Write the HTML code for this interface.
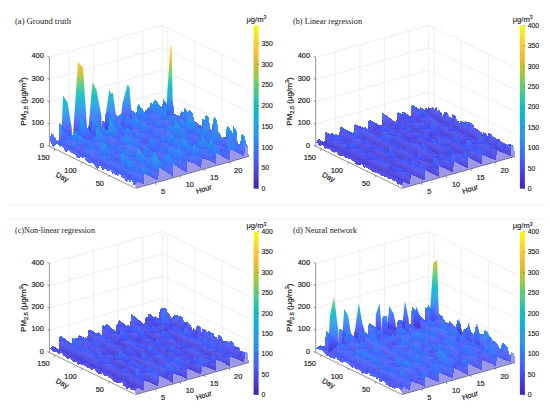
<!DOCTYPE html><html><head><meta charset="utf-8"><style>
html,body{margin:0;padding:0;background:#fff;}
svg{display:block}
.t{font-family:"Liberation Sans",sans-serif;font-size:7.4px;fill:#262626;stroke:#262626;stroke-width:.2px}
.c{font-family:"Liberation Sans",sans-serif;font-size:6.8px;fill:#262626;stroke:#262626;stroke-width:.15px}
.ti{font-family:"Liberation Serif",serif;font-size:8.6px;fill:#1a1a1a}
</style></head><body><svg width="550" height="415" viewBox="0 0 550 415">
<line x1="8" y1="205" x2="545" y2="205" stroke="#eeeeee" stroke-width="0.8"/><line x1="8" y1="219" x2="545" y2="219" stroke="#eeeeee" stroke-width="0.8"/><line x1="49.4" y1="124" x2="162.3" y2="92.1" stroke="#e3e3e3" stroke-width="0.6"/><line x1="162.3" y1="92.1" x2="248.7" y2="134.2" stroke="#e3e3e3" stroke-width="0.6"/><line x1="49.4" y1="101.8" x2="162.3" y2="69.9" stroke="#e3e3e3" stroke-width="0.6"/><line x1="162.3" y1="69.9" x2="248.7" y2="112" stroke="#e3e3e3" stroke-width="0.6"/><line x1="49.4" y1="79.5" x2="162.3" y2="47.6" stroke="#e3e3e3" stroke-width="0.6"/><line x1="162.3" y1="47.6" x2="248.7" y2="89.7" stroke="#e3e3e3" stroke-width="0.6"/><line x1="49.4" y1="57.2" x2="162.3" y2="25.3" stroke="#e3e3e3" stroke-width="0.6"/><line x1="162.3" y1="25.3" x2="248.7" y2="67.4" stroke="#e3e3e3" stroke-width="0.6"/><line x1="69" y1="140.8" x2="69" y2="51.7" stroke="#e3e3e3" stroke-width="0.6"/><line x1="155.4" y1="182.9" x2="69" y2="140.8" stroke="#e3e3e3" stroke-width="0.6"/><line x1="93.6" y1="133.8" x2="93.6" y2="44.7" stroke="#e3e3e3" stroke-width="0.6"/><line x1="180" y1="175.9" x2="93.6" y2="133.8" stroke="#e3e3e3" stroke-width="0.6"/><line x1="118.1" y1="126.9" x2="118.1" y2="37.8" stroke="#e3e3e3" stroke-width="0.6"/><line x1="204.5" y1="169" x2="118.1" y2="126.9" stroke="#e3e3e3" stroke-width="0.6"/><line x1="142.7" y1="119.9" x2="142.7" y2="30.8" stroke="#e3e3e3" stroke-width="0.6"/><line x1="229.1" y1="162" x2="142.7" y2="119.9" stroke="#e3e3e3" stroke-width="0.6"/><line x1="222.1" y1="143.5" x2="222.1" y2="54.4" stroke="#e3e3e3" stroke-width="0.6"/><line x1="109.2" y1="175.4" x2="222.1" y2="143.5" stroke="#e3e3e3" stroke-width="0.6"/><line x1="194.9" y1="130.3" x2="194.9" y2="41.2" stroke="#e3e3e3" stroke-width="0.6"/><line x1="82" y1="162.2" x2="194.9" y2="130.3" stroke="#e3e3e3" stroke-width="0.6"/><line x1="167.7" y1="117" x2="167.7" y2="27.9" stroke="#e3e3e3" stroke-width="0.6"/><line x1="54.8" y1="148.9" x2="167.7" y2="117" stroke="#e3e3e3" stroke-width="0.6"/><line x1="162.3" y1="114.4" x2="162.3" y2="25.3" stroke="#e3e3e3" stroke-width="0.6"/><line x1="49.4" y1="146.3" x2="162.3" y2="114.4" stroke="#e3e3e3" stroke-width="0.6"/><line x1="162.3" y1="114.4" x2="248.7" y2="156.5" stroke="#e3e3e3" stroke-width="0.6"/><defs><linearGradient id="s0_p0" gradientUnits="userSpaceOnUse" x1="0" y1="382" x2="0" y2="574"><stop offset="0" stop-color="#2ec4a4"/><stop offset="0.083" stop-color="#12beb9"/><stop offset="0.167" stop-color="#02b7cc"/><stop offset="0.25" stop-color="#19acdc"/><stop offset="0.333" stop-color="#23a0e5"/><stop offset="0.417" stop-color="#2b92ee"/><stop offset="0.5" stop-color="#2e82f9"/><stop offset="0.583" stop-color="#3c71ff"/><stop offset="0.667" stop-color="#4660fc"/><stop offset="0.75" stop-color="#4850f3"/><stop offset="0.833" stop-color="#4740e3"/><stop offset="0.917" stop-color="#4332c9"/><stop offset="1" stop-color="#3e26a8"/></linearGradient><linearGradient id="s0_p1" gradientUnits="userSpaceOnUse" x1="0" y1="247" x2="0" y2="554"><stop offset="0" stop-color="#feca33"/><stop offset="0.083" stop-color="#ecba32"/><stop offset="0.167" stop-color="#b8c431"/><stop offset="0.25" stop-color="#77cc60"/><stop offset="0.333" stop-color="#3dca90"/><stop offset="0.417" stop-color="#1bc0b4"/><stop offset="0.5" stop-color="#0cb3d3"/><stop offset="0.583" stop-color="#23a0e5"/><stop offset="0.667" stop-color="#2d89f5"/><stop offset="0.75" stop-color="#3f6eff"/><stop offset="0.833" stop-color="#4853f5"/><stop offset="0.917" stop-color="#463adb"/><stop offset="1" stop-color="#3e26a8"/></linearGradient><linearGradient id="s0_p2" gradientUnits="userSpaceOnUse" x1="0" y1="328" x2="0" y2="551"><stop offset="0" stop-color="#63cd6f"/><stop offset="0.083" stop-color="#3cc991"/><stop offset="0.167" stop-color="#27c2ac"/><stop offset="0.25" stop-color="#02bac3"/><stop offset="0.333" stop-color="#14b0d8"/><stop offset="0.417" stop-color="#22a2e4"/><stop offset="0.5" stop-color="#2b91ef"/><stop offset="0.583" stop-color="#2f7ffb"/><stop offset="0.667" stop-color="#416bfe"/><stop offset="0.75" stop-color="#4758f8"/><stop offset="0.833" stop-color="#4745e9"/><stop offset="0.917" stop-color="#4434ce"/><stop offset="1" stop-color="#3e26a8"/></linearGradient><linearGradient id="s0_p3" gradientUnits="userSpaceOnUse" x1="0" y1="357" x2="0" y2="540"><stop offset="0" stop-color="#22c1b0"/><stop offset="0.083" stop-color="#02bbc3"/><stop offset="0.167" stop-color="#0fb2d4"/><stop offset="0.25" stop-color="#1ea7e1"/><stop offset="0.333" stop-color="#259be8"/><stop offset="0.417" stop-color="#2d8df2"/><stop offset="0.5" stop-color="#307efb"/><stop offset="0.583" stop-color="#406dfe"/><stop offset="0.667" stop-color="#465dfa"/><stop offset="0.75" stop-color="#484ef1"/><stop offset="0.833" stop-color="#473ee2"/><stop offset="0.917" stop-color="#4331c8"/><stop offset="1" stop-color="#3e26a8"/></linearGradient><linearGradient id="s0_p4" gradientUnits="userSpaceOnUse" x1="0" y1="336" x2="0" y2="514"><stop offset="0" stop-color="#18bfb6"/><stop offset="0.083" stop-color="#00b9c8"/><stop offset="0.167" stop-color="#14b0d8"/><stop offset="0.25" stop-color="#20a5e3"/><stop offset="0.333" stop-color="#2698ea"/><stop offset="0.417" stop-color="#2d8af4"/><stop offset="0.5" stop-color="#327cfc"/><stop offset="0.583" stop-color="#416bfe"/><stop offset="0.667" stop-color="#475cfa"/><stop offset="0.75" stop-color="#484df0"/><stop offset="0.833" stop-color="#463ee1"/><stop offset="0.917" stop-color="#4331c7"/><stop offset="1" stop-color="#3e26a8"/></linearGradient><linearGradient id="s0_p5" gradientUnits="userSpaceOnUse" x1="0" y1="182" x2="0" y2="517"><stop offset="0" stop-color="#f5e924"/><stop offset="0.083" stop-color="#fec934"/><stop offset="0.167" stop-color="#e6bb2d"/><stop offset="0.25" stop-color="#abc739"/><stop offset="0.333" stop-color="#63cd6f"/><stop offset="0.417" stop-color="#31c6a0"/><stop offset="0.5" stop-color="#02bac3"/><stop offset="0.583" stop-color="#1ca9e0"/><stop offset="0.667" stop-color="#2b91ef"/><stop offset="0.75" stop-color="#3875fe"/><stop offset="0.833" stop-color="#4758f8"/><stop offset="0.917" stop-color="#463cde"/><stop offset="1" stop-color="#3e26a8"/></linearGradient><linearGradient id="s0_g0" x2="0" y2="1"><stop offset="0" stop-color="#406dfe"/><stop offset="0.5" stop-color="#475af9"/><stop offset="1" stop-color="#4848ec"/></linearGradient><linearGradient id="s0_g1" x2="0" y2="1"><stop offset="0" stop-color="#2b91ef"/><stop offset="0.5" stop-color="#317cfc"/><stop offset="1" stop-color="#4465fd"/></linearGradient><linearGradient id="s0_g2" x2="0" y2="1"><stop offset="0" stop-color="#2b91ef"/><stop offset="0.5" stop-color="#3d71ff"/><stop offset="1" stop-color="#484ff2"/></linearGradient><linearGradient id="s0_g3" x2="0" y2="1"><stop offset="0" stop-color="#2b91ef"/><stop offset="0.5" stop-color="#2f80fa"/><stop offset="1" stop-color="#406dfe"/></linearGradient><linearGradient id="s0_g4" x2="0" y2="1"><stop offset="0" stop-color="#3975ff"/><stop offset="0.5" stop-color="#465efb"/><stop offset="1" stop-color="#4848ec"/></linearGradient><linearGradient id="s0_g5" x2="0" y2="1"><stop offset="0" stop-color="#3975ff"/><stop offset="0.5" stop-color="#4561fc"/><stop offset="1" stop-color="#484ff2"/></linearGradient><linearGradient id="s0_g6" x2="0" y2="1"><stop offset="0" stop-color="#249ee6"/><stop offset="0.5" stop-color="#2e84f9"/><stop offset="1" stop-color="#4465fd"/></linearGradient><linearGradient id="s0_g7" x2="0" y2="1"><stop offset="0" stop-color="#317cfc"/><stop offset="0.5" stop-color="#4369fe"/><stop offset="1" stop-color="#4757f7"/></linearGradient><linearGradient id="s0_g8" x2="0" y2="1"><stop offset="0" stop-color="#249ee6"/><stop offset="0.5" stop-color="#3579fd"/><stop offset="1" stop-color="#484ff2"/></linearGradient><linearGradient id="s0_g9" x2="0" y2="1"><stop offset="0" stop-color="#406dfe"/><stop offset="0.5" stop-color="#465efb"/><stop offset="1" stop-color="#484ff2"/></linearGradient><linearGradient id="s0_g10" x2="0" y2="1"><stop offset="0" stop-color="#317cfc"/><stop offset="0.5" stop-color="#4561fc"/><stop offset="1" stop-color="#4848ec"/></linearGradient><linearGradient id="s0_g11" x2="0" y2="1"><stop offset="0" stop-color="#317cfc"/><stop offset="0.5" stop-color="#4465fd"/><stop offset="1" stop-color="#484ff2"/></linearGradient><linearGradient id="s0_g12" x2="0" y2="1"><stop offset="0" stop-color="#249ee6"/><stop offset="0.5" stop-color="#2f80fa"/><stop offset="1" stop-color="#465efb"/></linearGradient><linearGradient id="s0_g13" x2="0" y2="1"><stop offset="0" stop-color="#4465fd"/><stop offset="0.5" stop-color="#475af9"/><stop offset="1" stop-color="#484ff2"/></linearGradient><linearGradient id="s0_g14" x2="0" y2="1"><stop offset="0" stop-color="#2798ea"/><stop offset="0.5" stop-color="#2f80fa"/><stop offset="1" stop-color="#4465fd"/></linearGradient><linearGradient id="s0_g15" x2="0" y2="1"><stop offset="0" stop-color="#249ee6"/><stop offset="0.5" stop-color="#3975ff"/><stop offset="1" stop-color="#4848ec"/></linearGradient><linearGradient id="s0_g16" x2="0" y2="1"><stop offset="0" stop-color="#4465fd"/><stop offset="0.5" stop-color="#4757f7"/><stop offset="1" stop-color="#4848ec"/></linearGradient><linearGradient id="s0_g17" x2="0" y2="1"><stop offset="0" stop-color="#2798ea"/><stop offset="0.5" stop-color="#2e84f9"/><stop offset="1" stop-color="#406dfe"/></linearGradient><linearGradient id="s0_g18" x2="0" y2="1"><stop offset="0" stop-color="#2798ea"/><stop offset="0.5" stop-color="#3975ff"/><stop offset="1" stop-color="#484ff2"/></linearGradient><linearGradient id="s0_g19" x2="0" y2="1"><stop offset="0" stop-color="#20a4e3"/><stop offset="0.5" stop-color="#2d8bf4"/><stop offset="1" stop-color="#406dfe"/></linearGradient><linearGradient id="s0_g20" x2="0" y2="1"><stop offset="0" stop-color="#2e84f9"/><stop offset="0.5" stop-color="#3d71ff"/><stop offset="1" stop-color="#465efb"/></linearGradient><linearGradient id="s0_g21" x2="0" y2="1"><stop offset="0" stop-color="#2798ea"/><stop offset="0.5" stop-color="#3d71ff"/><stop offset="1" stop-color="#4848ec"/></linearGradient><linearGradient id="s0_g22" x2="0" y2="1"><stop offset="0" stop-color="#1caadf"/><stop offset="0.5" stop-color="#2995ec"/><stop offset="1" stop-color="#317cfc"/></linearGradient><linearGradient id="s0_g23" x2="0" y2="1"><stop offset="0" stop-color="#20a4e3"/><stop offset="0.5" stop-color="#3579fd"/><stop offset="1" stop-color="#4848ec"/></linearGradient><linearGradient id="s0_g24" x2="0" y2="1"><stop offset="0" stop-color="#2e84f9"/><stop offset="0.5" stop-color="#4465fd"/><stop offset="1" stop-color="#4848ec"/></linearGradient><linearGradient id="s0_g25" x2="0" y2="1"><stop offset="0" stop-color="#317cfc"/><stop offset="0.5" stop-color="#406dfe"/><stop offset="1" stop-color="#465efb"/></linearGradient><linearGradient id="s0_g26" x2="0" y2="1"><stop offset="0" stop-color="#1caadf"/><stop offset="0.5" stop-color="#2d8bf4"/><stop offset="1" stop-color="#4465fd"/></linearGradient><linearGradient id="s0_g27" x2="0" y2="1"><stop offset="0" stop-color="#2e84f9"/><stop offset="0.5" stop-color="#4369fe"/><stop offset="1" stop-color="#484ff2"/></linearGradient><linearGradient id="s0_g28" x2="0" y2="1"><stop offset="0" stop-color="#1caadf"/><stop offset="0.5" stop-color="#2f80fa"/><stop offset="1" stop-color="#484ff2"/></linearGradient><linearGradient id="s0_g29" x2="0" y2="1"><stop offset="0" stop-color="#1caadf"/><stop offset="0.5" stop-color="#317cfc"/><stop offset="1" stop-color="#4848ec"/></linearGradient><linearGradient id="s0_g30" x2="0" y2="1"><stop offset="0" stop-color="#2e84f9"/><stop offset="0.5" stop-color="#3975ff"/><stop offset="1" stop-color="#4465fd"/></linearGradient><linearGradient id="s0_g31" x2="0" y2="1"><stop offset="0" stop-color="#20a4e3"/><stop offset="0.5" stop-color="#2d87f7"/><stop offset="1" stop-color="#4465fd"/></linearGradient><linearGradient id="s0_g32" x2="0" y2="1"><stop offset="0" stop-color="#2d8bf4"/><stop offset="0.5" stop-color="#3975ff"/><stop offset="1" stop-color="#465efb"/></linearGradient><linearGradient id="s0_g33" x2="0" y2="1"><stop offset="0" stop-color="#2e84f9"/><stop offset="0.5" stop-color="#406dfe"/><stop offset="1" stop-color="#4757f7"/></linearGradient><linearGradient id="s0_g34" x2="0" y2="1"><stop offset="0" stop-color="#20a4e3"/><stop offset="0.5" stop-color="#2e84f9"/><stop offset="1" stop-color="#465efb"/></linearGradient><linearGradient id="s0_g35" x2="0" y2="1"><stop offset="0" stop-color="#2d8bf4"/><stop offset="0.5" stop-color="#317cfc"/><stop offset="1" stop-color="#406dfe"/></linearGradient><linearGradient id="s0_g36" x2="0" y2="1"><stop offset="0" stop-color="#20a4e3"/><stop offset="0.5" stop-color="#317cfc"/><stop offset="1" stop-color="#484ff2"/></linearGradient><linearGradient id="s0_g37" x2="0" y2="1"><stop offset="0" stop-color="#2d8bf4"/><stop offset="0.5" stop-color="#406dfe"/><stop offset="1" stop-color="#484ff2"/></linearGradient><linearGradient id="s0_g38" x2="0" y2="1"><stop offset="0" stop-color="#2798ea"/><stop offset="0.5" stop-color="#3579fd"/><stop offset="1" stop-color="#4757f7"/></linearGradient><linearGradient id="s0_g39" x2="0" y2="1"><stop offset="0" stop-color="#317cfc"/><stop offset="0.5" stop-color="#3d71ff"/><stop offset="1" stop-color="#4465fd"/></linearGradient><linearGradient id="s0_g40" x2="0" y2="1"><stop offset="0" stop-color="#2d8bf4"/><stop offset="0.5" stop-color="#3579fd"/><stop offset="1" stop-color="#4465fd"/></linearGradient><linearGradient id="s0_g41" x2="0" y2="1"><stop offset="0" stop-color="#2d8bf4"/><stop offset="0.5" stop-color="#3d71ff"/><stop offset="1" stop-color="#4757f7"/></linearGradient><linearGradient id="s0_g42" x2="0" y2="1"><stop offset="0" stop-color="#2b91ef"/><stop offset="0.5" stop-color="#406dfe"/><stop offset="1" stop-color="#4848ec"/></linearGradient><linearGradient id="s0_g43" x2="0" y2="1"><stop offset="0" stop-color="#2798ea"/><stop offset="0.5" stop-color="#2d8bf4"/><stop offset="1" stop-color="#317cfc"/></linearGradient><linearGradient id="s0_g44" x2="0" y2="1"><stop offset="0" stop-color="#2798ea"/><stop offset="0.5" stop-color="#2d87f7"/><stop offset="1" stop-color="#3975ff"/></linearGradient><linearGradient id="s0_g45" x2="0" y2="1"><stop offset="0" stop-color="#2b91ef"/><stop offset="0.5" stop-color="#3975ff"/><stop offset="1" stop-color="#4757f7"/></linearGradient><linearGradient id="s0_g46" x2="0" y2="1"><stop offset="0" stop-color="#3975ff"/><stop offset="0.5" stop-color="#4465fd"/><stop offset="1" stop-color="#4757f7"/></linearGradient><linearGradient id="s0_g47" x2="0" y2="1"><stop offset="0" stop-color="#2b91ef"/><stop offset="0.5" stop-color="#3579fd"/><stop offset="1" stop-color="#465efb"/></linearGradient><linearGradient id="s0_g48" x2="0" y2="1"><stop offset="0" stop-color="#20a4e3"/><stop offset="0.5" stop-color="#2d8ef1"/><stop offset="1" stop-color="#3975ff"/></linearGradient><linearGradient id="s0_g49" x2="0" y2="1"><stop offset="0" stop-color="#2d8bf4"/><stop offset="0.5" stop-color="#4369fe"/><stop offset="1" stop-color="#4848ec"/></linearGradient><linearGradient id="s0_g50" x2="0" y2="1"><stop offset="0" stop-color="#406dfe"/><stop offset="0.5" stop-color="#4561fc"/><stop offset="1" stop-color="#4757f7"/></linearGradient><linearGradient id="s0_g51" x2="0" y2="1"><stop offset="0" stop-color="#249ee6"/><stop offset="0.5" stop-color="#2d87f7"/><stop offset="1" stop-color="#406dfe"/></linearGradient><linearGradient id="s0_g52" x2="0" y2="1"><stop offset="0" stop-color="#20a4e3"/><stop offset="0.5" stop-color="#2b91ef"/><stop offset="1" stop-color="#317cfc"/></linearGradient><linearGradient id="s0_g53" x2="0" y2="1"><stop offset="0" stop-color="#249ee6"/><stop offset="0.5" stop-color="#317cfc"/><stop offset="1" stop-color="#4757f7"/></linearGradient><linearGradient id="s0_g54" x2="0" y2="1"><stop offset="0" stop-color="#1caadf"/><stop offset="0.5" stop-color="#2b91ef"/><stop offset="1" stop-color="#3975ff"/></linearGradient><linearGradient id="s0_g55" x2="0" y2="1"><stop offset="0" stop-color="#1caadf"/><stop offset="0.5" stop-color="#2d87f7"/><stop offset="1" stop-color="#465efb"/></linearGradient><linearGradient id="s0_g56" x2="0" y2="1"><stop offset="0" stop-color="#16afd9"/><stop offset="0.5" stop-color="#2798ea"/><stop offset="1" stop-color="#317cfc"/></linearGradient><linearGradient id="s0_g57" x2="0" y2="1"><stop offset="0" stop-color="#16afd9"/><stop offset="0.25" stop-color="#2699e9"/><stop offset="0.5" stop-color="#2f80fa"/><stop offset="0.75" stop-color="#4563fd"/><stop offset="1" stop-color="#4848ec"/></linearGradient><linearGradient id="s0_g58" x2="0" y2="1"><stop offset="0" stop-color="#16afd9"/><stop offset="0.5" stop-color="#2b91ef"/><stop offset="1" stop-color="#406dfe"/></linearGradient><linearGradient id="s0_g59" x2="0" y2="1"><stop offset="0" stop-color="#1caadf"/><stop offset="0.5" stop-color="#2d8ef1"/><stop offset="1" stop-color="#406dfe"/></linearGradient><linearGradient id="s0_g60" x2="0" y2="1"><stop offset="0" stop-color="#0bb3d2"/><stop offset="0.5" stop-color="#2995ec"/><stop offset="1" stop-color="#406dfe"/></linearGradient><linearGradient id="s0_g61" x2="0" y2="1"><stop offset="0" stop-color="#0bb3d2"/><stop offset="0.5" stop-color="#2d8ef1"/><stop offset="1" stop-color="#465efb"/></linearGradient><linearGradient id="s0_g62" x2="0" y2="1"><stop offset="0" stop-color="#3975ff"/><stop offset="0.5" stop-color="#4369fe"/><stop offset="1" stop-color="#465efb"/></linearGradient><linearGradient id="s0_g63" x2="0" y2="1"><stop offset="0" stop-color="#0bb3d2"/><stop offset="0.25" stop-color="#249ee6"/><stop offset="0.5" stop-color="#2e84f9"/><stop offset="0.75" stop-color="#4465fd"/><stop offset="1" stop-color="#4848ec"/></linearGradient><linearGradient id="s0_g64" x2="0" y2="1"><stop offset="0" stop-color="#0bb3d2"/><stop offset="0.25" stop-color="#249fe5"/><stop offset="0.5" stop-color="#2d87f7"/><stop offset="0.75" stop-color="#416bfe"/><stop offset="1" stop-color="#484ff2"/></linearGradient><linearGradient id="s0_g65" x2="0" y2="1"><stop offset="0" stop-color="#249ee6"/><stop offset="0.5" stop-color="#2d8bf4"/><stop offset="1" stop-color="#3975ff"/></linearGradient><linearGradient id="s0_g66" x2="0" y2="1"><stop offset="0" stop-color="#20a4e3"/><stop offset="0.5" stop-color="#2f80fa"/><stop offset="1" stop-color="#4757f7"/></linearGradient><linearGradient id="s0_g67" x2="0" y2="1"><stop offset="0" stop-color="#2798ea"/><stop offset="0.5" stop-color="#317cfc"/><stop offset="1" stop-color="#465efb"/></linearGradient></defs><g shape-rendering="crispEdges" transform="scale(.25)" fill-opacity="0.92"><path fill="#475dfa" d="M640 440l12 2-3 1-12-7z"/><path fill="#4757f7" d="M638 459l2-19-3-4-2 23zM618 445l27 18-7-4-26-3zM625 450l26 15-6-2-27-18z"/><path fill="#4562fc" d="M647 427l12 4-7 11-12-2zM583 455l29 1-4-7-28-11z"/><path fill="url(#s0_g0)" d="M645 463l2-36-7 13-2 19z"/><path fill="url(#s0_g1)" d="M654 397l12 19-7 15-12-4z"/><path fill="#4852f4" d="M612 456l26 3-3 0-27-10z"/><path fill="url(#s0_g2)" d="M651 465l3-68-7 30-2 36z"/><path fill="url(#s0_g3)" d="M660 429l12 5-6-18-12-19z"/><path fill="url(#s0_g2)" d="M658 469l2-40-6-32-3 68z"/><path fill="#3f6eff" d="M667 435l12 5-7-6-12-5z"/><path fill="url(#s0_g4)" d="M664 473l3-38-7-6-2 40z"/><path fill="url(#s0_g5)" d="M631 437l27 32-7-4-26-15z"/><path fill="url(#s0_g6)" d="M673 391l12 20-6 29-12-5z"/><path fill="url(#s0_g7)" d="M590 430l28 15-6 11-29-1z"/><path fill="url(#s0_g8)" d="M671 476l2-85-6 44-3 38z"/><path fill="url(#s0_g9)" d="M581 476l2-21-3-17-2 37z"/><path fill="url(#s0_g4)" d="M638 445l26 28-6-4-27-32z"/><path fill="#2895ec" d="M680 398l12 7-7 6-12-20z"/><path fill="#3f6eff" d="M596 439l29 11-7-5-28-15z"/><path fill="url(#s0_g10)" d="M587 479l3-49-7 25-2 21z"/><path fill="url(#s0_g8)" d="M677 479l3-81-7-7-2 85z"/><path fill="url(#s0_g11)" d="M644 434l27 42-7-3-26-28z"/><path fill="url(#s0_g12)" d="M686 454l12 6-6-55-12-7z"/><path fill="url(#s0_g13)" d="M554 457l27 19-3-1-27-14z"/><path fill="url(#s0_g14)" d="M603 407l28 30-6 13-29-11z"/><path fill="url(#s0_g10)" d="M594 482l2-43-6-9-3 49z"/><path fill="url(#s0_g15)" d="M684 482l2-28-6-56-3 81z"/><path fill="url(#s0_g16)" d="M561 460l26 19-6-3-27-19z"/><path fill="url(#s0_g11)" d="M651 438l26 41-6-3-27-42z"/><path fill="#4562fc" d="M693 462l12-1-7-1-12-6z"/><path fill="url(#s0_g17)" d="M609 418l29 27-7-8-28-30z"/><path fill="url(#s0_g18)" d="M600 484l3-77-7 32-2 43z"/><path fill="url(#s0_g16)" d="M690 485l3-23-7-8-2 28z"/><path fill="#4757f7" d="M567 482l27 0-7-3-26-19zM664 479l26 6-6-3-27-15z"/><path fill="url(#s0_g10)" d="M657 467l27 15-7-3-26-41z"/><path fill="#4562fc" d="M699 457l12 3-6 1-12 1z"/><path fill="url(#s0_g19)" d="M616 403l28 31-6 11-29-27z"/><path fill="url(#s0_g20)" d="M526 441l28 16-3 4-28-17z"/><path fill="url(#s0_g21)" d="M607 489l2-71-6-11-3 77z"/><path fill="url(#s0_g9)" d="M697 486l2-29-6 5-3 23z"/><path fill="#4852f4" d="M574 470l26 14-6-2-27 0z"/><path fill="#4368fe" d="M706 462l12 1-7-3-12-3z"/><path fill="#3a74ff" d="M532 445l29 15-7-3-28-16z"/><path fill="url(#s0_g22)" d="M622 398l29 40-7-4-28-31z"/><path fill="url(#s0_g23)" d="M613 492l3-89-7 15-2 71z"/><path fill="url(#s0_g9)" d="M703 491l3-29-7-5-2 29z"/><path fill="url(#s0_g24)" d="M523 493l3-52-3 3-3 47z"/><path fill="url(#s0_g10)" d="M580 451l27 38-7-5-26-14z"/><path fill="url(#s0_g9)" d="M670 462l27 24-7-1-26-6z"/><path fill="#4562fc" d="M712 475l12-1-6-11-12-1zM719 463l12 5-7 6-12 1z"/><path fill="url(#s0_g25)" d="M539 482l28 0-6-22-29-15z"/><path fill="url(#s0_g26)" d="M629 451l28 16-6-29-29-40z"/><path fill="url(#s0_g27)" d="M530 495l2-50-6-4-3 52z"/><path fill="url(#s0_g28)" d="M620 495l2-97-6 5-3 89z"/><path fill="url(#s0_g16)" d="M710 495l2-20-6-13-3 29z"/><path fill="url(#s0_g10)" d="M587 482l26 10-6-3-27-38z"/><path fill="url(#s0_g9)" d="M677 469l26 22-6-5-27-24z"/><path fill="#4757f7" d="M497 480l26 13-3-2-26-19z"/><path fill="url(#s0_g7)" d="M545 456l29 14-7 12-28 0z"/><path fill="url(#s0_g25)" d="M635 481l29-2-7-12-28-16z"/><path fill="url(#s0_g11)" d="M537 498l2-16-7-37-2 50z"/><path fill="url(#s0_g29)" d="M626 499l3-48-7-53-2 97z"/><path fill="url(#s0_g9)" d="M716 498l3-35-7 12-2 20z"/><path fill="#4757f7" d="M503 480l27 15-7-2-26-13zM593 483l27 12-7-3-26-10z"/><path fill="url(#s0_g0)" d="M683 472l27 23-7-4-26-22z"/><path fill="url(#s0_g30)" d="M725 445l12 4-6 19-12-5z"/><path fill="url(#s0_g31)" d="M552 414l28 37-6 19-29-14z"/><path fill="url(#s0_g32)" d="M642 442l28 20-6 17-29 2z"/><path fill="url(#s0_g10)" d="M543 502l2-46-6 26-2 16z"/><path fill="url(#s0_g10)" d="M633 502l2-21-6-30-3 48z"/><path fill="url(#s0_g24)" d="M723 502l2-57-6 18-3 35z"/><path fill="url(#s0_g9)" d="M510 476l27 22-7-3-27-15z"/><path fill="url(#s0_g16)" d="M600 478l26 21-6-4-27-12z"/><path fill="url(#s0_g11)" d="M690 461l26 37-6-3-27-23z"/><path fill="url(#s0_g33)" d="M732 494l12-8-7-37-12-4z"/><path fill="url(#s0_g34)" d="M558 481l29 1-7-31-28-37z"/><path fill="url(#s0_g35)" d="M648 444l29 25-7-7-28-20z"/><path fill="#3f6eff" d="M468 468l29 12-3-8-29-12z"/><path fill="url(#s0_g36)" d="M550 504l2-90-7 42-2 46z"/><path fill="url(#s0_g37)" d="M639 504l3-62-7 39-2 21z"/><path fill="url(#s0_g27)" d="M729 504l3-10-7-49-2 57z"/><path fill="url(#s0_g0)" d="M517 498l26 4-6-4-27-22z"/><path fill="url(#s0_g0)" d="M606 474l27 28-7-3-26-21z"/><path fill="url(#s0_g10)" d="M696 486l27 16-7-4-26-37z"/><path fill="url(#s0_g38)" d="M738 432l12 14-6 40-12 8z"/><path fill="url(#s0_g39)" d="M475 463l28 17-6 0-29-12z"/><path fill="#4368fe" d="M565 471l28 12-6-1-29-1z"/><path fill="url(#s0_g35)" d="M655 453l28 19-6-3-29-25z"/><path fill="url(#s0_g23)" d="M556 508l2-27-6-67-2 90z"/><path fill="url(#s0_g37)" d="M646 508l2-64-6-2-3 62z"/><path fill="url(#s0_g18)" d="M736 506l2-74-6 62-3 10z"/><path fill="url(#s0_g11)" d="M466 508l2-40-3-8-2 47z"/><path fill="#4852f4" d="M523 500l27 4-7-2-26-4zM703 502l26 2-6-2-27-16z"/><path fill="url(#s0_g9)" d="M613 502l26 2-6-2-27-28z"/><path fill="#2d8bf4" d="M745 442l12 12-7-8-12-14z"/><path fill="url(#s0_g40)" d="M482 454l28 22-7 4-28-17z"/><path fill="url(#s0_g20)" d="M571 460l29 18-7 5-28-12z"/><path fill="url(#s0_g19)" d="M661 421l29 40-7 11-28-19z"/><path fill="url(#s0_g10)" d="M473 512l2-49-7 5-2 40z"/><path fill="url(#s0_g4)" d="M563 511l2-40-7 10-2 27z"/><path fill="url(#s0_g37)" d="M653 510l2-57-7-9-2 64z"/><path fill="url(#s0_g18)" d="M742 510l3-68-7-10-2 74z"/><path fill="#4852f4" d="M530 497l26 11-6-4-27-4zM619 498l27 10-7-4-26-2zM440 504l26 4-3-1-27-13z"/><path shape-rendering="auto" fill="url(#s0_p4)" d="M480 536l1-48 9-75 21-77 7 16 11 136 1 48z"/><path fill="url(#s0_g9)" d="M709 481l27 25-7-2-26-2z"/><path fill="#2d8bf4" d="M751 451l12 10-6-7-12-12z"/><path fill="url(#s0_g41)" d="M488 493l29 5-7-22-28-22z"/><path fill="url(#s0_g30)" d="M578 460l28 14-6 4-29-18z"/><path fill="url(#s0_g31)" d="M668 463l28 23-6-25-29-40z"/><path fill="url(#s0_g37)" d="M479 513l3-59-7 9-2 49z"/><path fill="url(#s0_g27)" d="M569 514l2-54-6 11-2 40z"/><path fill="url(#s0_g23)" d="M659 515l2-94-6 32-2 57z"/><path fill="url(#s0_g42)" d="M749 514l2-63-6-9-3 68z"/><path fill="#4852f4" d="M446 504l27 8-7-4-26-4zM626 505l27 5-7-2-27-10z"/><path fill="url(#s0_g0)" d="M536 485l27 26-7-3-26-11z"/><path fill="url(#s0_g9)" d="M716 497l26 13-6-4-27-25z"/><path shape-rendering="auto" fill="url(#s0_p5)" d="M664 464l2-48 16-232 5-2 4 234 1 48z"/><path fill="url(#s0_g43)" d="M758 438l12 16-7 7-12-10z"/><path fill="#475dfa" d="M495 498l28 2-6-2-29-5z"/><path fill="url(#s0_g33)" d="M585 499l28 3-7-28-28-14z"/><path fill="url(#s0_g33)" d="M674 500l29 2-7-16-28-23z"/><path fill="url(#s0_g37)" d="M486 517l2-24-6-39-3 59z"/><path fill="url(#s0_g24)" d="M576 518l2-58-7 0-2 54z"/><path fill="url(#s0_g36)" d="M666 516l2-53-7-42-2 94z"/><path fill="url(#s0_g21)" d="M756 518l2-80-7 13-2 63z"/><path fill="url(#s0_g11)" d="M453 475l26 38-6-1-27-8z"/><path fill="url(#s0_g9)" d="M543 491l26 23-6-3-27-26z"/><path fill="url(#s0_g16)" d="M633 493l26 22-6-5-27-5z"/><path fill="url(#s0_g0)" d="M722 491l27 23-7-4-26-13z"/><path fill="url(#s0_g44)" d="M764 470l12 5-6-21-12-16z"/><path fill="#4562fc" d="M501 485l29 12-7 3-28-2zM591 488l28 10-6 4-28-3z"/><path fill="url(#s0_g45)" d="M681 457l28 24-6 21-29-2z"/><path fill="url(#s0_g46)" d="M411 501l29 3-4-10-28-11z"/><path fill="#4757f7" d="M492 522l3-24-7-5-2 24z"/><path fill="url(#s0_g27)" d="M582 521l3-22-7-39-2 58z"/><path fill="url(#s0_g27)" d="M672 519l2-19-6-37-2 53z"/><path fill="url(#s0_g21)" d="M762 521l2-51-6-32-2 80z"/><path fill="url(#s0_g11)" d="M459 489l27 28-7-4-26-38z"/><path fill="url(#s0_g0)" d="M549 496l27 22-7-4-26-23z"/><path fill="url(#s0_g13)" d="M639 508l27 8-7-1-26-22z"/><path fill="url(#s0_g0)" d="M729 512l27 6-7-4-27-23z"/><path fill="url(#s0_g25)" d="M771 497l12 4-7-26-12-5z"/><path fill="#4562fc" d="M418 489l28 15-6 0-29-3zM598 501l28 4-7-7-28-10z"/><path fill="url(#s0_g47)" d="M508 456l28 29-6 12-29-12z"/><path fill="url(#s0_g47)" d="M687 486l29 11-7-16-28-24z"/><path fill="url(#s0_g4)" d="M499 525l2-40-6 13-3 24z"/><path fill="url(#s0_g9)" d="M589 524l2-36-6 11-3 22z"/><path fill="url(#s0_g2)" d="M679 523l2-66-7 43-2 19z"/><path fill="url(#s0_g11)" d="M769 522l2-25-7-27-2 51z"/><path fill="url(#s0_g4)" d="M409 525l2-24-3-18-2 39z"/><path fill="url(#s0_g4)" d="M466 502l26 20-6-5-27-28z"/><path fill="url(#s0_g9)" d="M556 517l26 4-6-3-27-22z"/><path fill="#4757f7" d="M646 513l26 6-6-3-27-8z"/><path fill="url(#s0_g0)" d="M736 497l26 24-6-3-27-6z"/><path fill="#4368fe" d="M777 486l12 5-6 10-12-4z"/><path fill="url(#s0_g34)" d="M424 440l29 35-7 29-28-15z"/><path fill="url(#s0_g3)" d="M514 468l29 23-7-6-28-29z"/><path fill="url(#s0_g33)" d="M604 473l29 20-7 12-28-4z"/><path fill="url(#s0_g47)" d="M694 462l28 29-6 6-29-11z"/><path fill="url(#s0_g5)" d="M415 527l3-38-7 12-2 24z"/><path fill="url(#s0_g2)" d="M505 527l3-71-7 29-2 40z"/><path fill="url(#s0_g0)" d="M595 528l3-27-7-13-2 36z"/><path fill="url(#s0_g42)" d="M685 528l2-42-6-29-2 66z"/><path fill="url(#s0_g4)" d="M775 527l2-41-6 11-2 25z"/><path fill="url(#s0_g4)" d="M472 490l27 35-7-3-26-20z"/><path fill="#4757f7" d="M562 507l27 17-7-3-26-4zM382 514l27 11-3-3-27-11z"/><path fill="#4852f4" d="M652 514l27 9-7-4-26-6z"/><path fill="url(#s0_g9)" d="M742 516l27 6-7-1-26-24z"/><path fill="#3f6eff" d="M784 489l12 10-7-8-12-5z"/><path fill="url(#s0_g48)" d="M431 456l28 33-6-14-29-35z"/><path fill="url(#s0_g35)" d="M521 474l28 22-6-5-29-23z"/><path fill="url(#s0_g20)" d="M611 505l28 3-6-15-29-20z"/><path fill="url(#s0_g47)" d="M701 516l28-4-7-21-28-29z"/><path fill="url(#s0_g36)" d="M422 529l2-89-6 49-3 38z"/><path fill="url(#s0_g42)" d="M512 531l2-63-6-12-3 71z"/><path fill="url(#s0_g27)" d="M602 530l2-57-6 28-3 27z"/><path fill="url(#s0_g2)" d="M692 529l2-67-7 24-2 42z"/><path fill="url(#s0_g4)" d="M782 530l2-41-7-3-2 41z"/><path fill="#4852f4" d="M389 525l26 2-6-2-27-11z"/><path fill="url(#s0_g5)" d="M479 508l26 19-6-2-27-35z"/><path fill="url(#s0_g0)" d="M569 500l26 28-6-4-27-17z"/><path fill="url(#s0_g0)" d="M659 505l26 23-6-5-27-9z"/><path fill="url(#s0_g0)" d="M749 505l26 22-6-5-27-6z"/><path fill="#4368fe" d="M790 513l12-1-6-13-12-10z"/><path fill="url(#s0_g14)" d="M437 491l29 11-7-13-28-33z"/><path fill="url(#s0_g41)" d="M527 514l29 3-7-21-28-22z"/><path fill="#4562fc" d="M617 512l29 1-7-5-28-3z"/><path fill="url(#s0_g20)" d="M707 481l29 16-7 15-28 4z"/><path fill="url(#s0_g36)" d="M428 534l3-78-7-16-2 89z"/><path fill="url(#s0_g49)" d="M518 534l3-60-7-6-2 63z"/><path fill="url(#s0_g24)" d="M608 534l3-29-7-32-2 57z"/><path fill="url(#s0_g42)" d="M698 534l3-18-7-54-2 67z"/><path fill="url(#s0_g4)" d="M788 534l2-21-6-24-2 41z"/><path fill="url(#s0_g9)" d="M395 504l27 25-7-2-26-2z"/><path fill="url(#s0_g13)" d="M485 531l27 0-7-4-26-19z"/><path fill="url(#s0_g9)" d="M575 503l27 27-7-2-26-28z"/><path fill="url(#s0_g9)" d="M665 512l27 17-7-1-26-23z"/><path fill="url(#s0_g4)" d="M755 499l27 31-7-3-26-22z"/><path fill="#4562fc" d="M797 500l12 4-7 8-12 1zM624 500l28 14-6-1-29-1z"/><path fill="url(#s0_g6)" d="M444 457l28 33-6 12-29-11z"/><path fill="url(#s0_g7)" d="M534 496l28 11-6 10-29-3z"/><path fill="url(#s0_g20)" d="M714 507l28 9-6-19-29-16z"/><path fill="#4368fe" d="M354 513l28 1-3-3-28-10z"/><path fill="url(#s0_g18)" d="M435 537l2-46-6-35-3 78z"/><path fill="url(#s0_g49)" d="M525 537l2-23-6-40-3 60z"/><path fill="url(#s0_g13)" d="M615 536l2-24-6-7-3 29z"/><path fill="url(#s0_g27)" d="M705 535l2-54-6 35-3 18z"/><path fill="url(#s0_g0)" d="M795 536l2-36-7 13-2 21z"/><path fill="url(#s0_g5)" d="M402 499l26 35-6-5-27-25z"/><path fill="#4852f4" d="M492 523l26 11-6-3-27 0z"/><path fill="url(#s0_g50)" d="M582 534l26 0-6-4-27-27z"/><path fill="#4757f7" d="M672 521l26 13-6-5-27-17z"/><path fill="url(#s0_g4)" d="M762 509l26 25-6-4-27-31z"/><path shape-rendering="auto" fill="url(#s0_p3)" d="M418 536l1-48 18-131 7 19 7-6 17 118 1 48z"/><path fill="#4562fc" d="M804 524l11-3-6-17-12-4z"/><path fill="#475dfa" d="M360 522l29 3-7-11-28-1z"/><path fill="url(#s0_g6)" d="M450 493l29 15-7-18-28-33z"/><path fill="url(#s0_g14)" d="M540 467l29 33-7 7-28-11z"/><path fill="url(#s0_g32)" d="M630 481l29 24-7 9-28-14z"/><path fill="url(#s0_g32)" d="M720 483l29 22-7 11-28-9z"/><path fill="url(#s0_g15)" d="M441 541l3-84-7 34-2 46z"/><path fill="url(#s0_g10)" d="M531 540l3-44-7 18-2 23z"/><path fill="url(#s0_g5)" d="M621 539l3-39-7 12-2 24z"/><path fill="url(#s0_g24)" d="M711 540l3-33-7-26-2 54z"/><path fill="url(#s0_g0)" d="M801 540l3-16-7-24-2 36z"/><path fill="url(#s0_g5)" d="M351 539l3-26-3-12-3 37z"/><path fill="url(#s0_g5)" d="M408 531l27 6-7-3-26-35z"/><path fill="url(#s0_g0)" d="M498 514l27 23-7-3-26-11z"/><path fill="#4852f4" d="M588 526l27 10-7-2-26 0z"/><path fill="#4757f7" d="M678 527l27 8-7-1-26-13zM358 543l2-21-6-9-3 26z"/><path fill="url(#s0_g0)" d="M768 534l27 2-7-2-26-25z"/><path fill="url(#s0_g47)" d="M810 474l12 10-7 37-11 3z"/><path fill="url(#s0_g45)" d="M367 475l28 29-6 21-29-3z"/><path fill="url(#s0_g27)" d="M457 530l28 1-6-23-29-15z"/><path fill="url(#s0_g17)" d="M547 470l28 33-6-3-29-33z"/><path fill="url(#s0_g40)" d="M637 504l28 8-6-7-29-24z"/><path fill="url(#s0_g17)" d="M727 473l28 26-6 6-29-22z"/><path fill="url(#s0_g8)" d="M448 542l2-49-6-36-3 84z"/><path fill="url(#s0_g18)" d="M538 542l2-75-6 29-3 44z"/><path fill="url(#s0_g49)" d="M628 544l2-63-6 19-3 39z"/><path fill="url(#s0_g49)" d="M718 543l2-60-6 24-3 33z"/><path fill="url(#s0_g2)" d="M808 541l2-67-6 50-3 16z"/><path fill="url(#s0_g0)" d="M415 514l26 27-6-4-27-6z"/><path fill="url(#s0_g0)" d="M505 527l26 13-6-3-27-23z"/><path fill="#4757f7" d="M595 533l26 6-6-3-27-10z"/><path fill="#4852f4" d="M685 533l26 7-6-5-27-8zM325 544l26-5-3-1-26-5z"/><path fill="url(#s0_g0)" d="M775 513l26 27-6-4-27-2z"/><path fill="#2e85f8" d="M817 491l12 5-7-12-12-10z"/><path fill="url(#s0_g51)" d="M373 465l29 34-7 5-28-29z"/><path fill="#475dfa" d="M463 523l29 0-7 8-28-1z"/><path fill="url(#s0_g38)" d="M553 531l29 3-7-31-28-33z"/><path fill="#3f6eff" d="M643 509l29 12-7-9-28-8z"/><path fill="url(#s0_g17)" d="M733 487l29 22-7-10-28-26z"/><path fill="url(#s0_g2)" d="M365 546l2-71-7 47-2 21z"/><path fill="url(#s0_g27)" d="M454 546l3-16-7-37-2 49z"/><path fill="url(#s0_g18)" d="M544 546l3-76-7-3-2 75z"/><path fill="url(#s0_g37)" d="M634 545l3-41-7-23-2 63z"/><path fill="url(#s0_g18)" d="M724 544l3-71-7 10-2 60z"/><path fill="url(#s0_g2)" d="M814 545l3-54-7-17-2 67z"/><path fill="#4852f4" d="M331 540l27 3-7-4-26 5zM511 540l27 2-7-2-26-13zM691 532l27 11-7-3-26-7z"/><path fill="url(#s0_g9)" d="M421 538l27 4-7-1-26-27z"/><path fill="url(#s0_g4)" d="M601 513l27 31-7-5-26-6z"/><path fill="url(#s0_g5)" d="M781 513l27 28-7-1-26-27z"/><path fill="url(#s0_g52)" d="M823 458l12 13-6 25-12-5z"/><path shape-rendering="auto" fill="url(#s0_p2)" d="M352 560l2-48 16-184 16 31 20 108 0 45 2 48z"/><path fill="url(#s0_g53)" d="M380 524l28 7-6-32-29-34z"/><path fill="url(#s0_g32)" d="M470 490l28 24-6 9-29 0z"/><path fill="url(#s0_g46)" d="M560 515l28 11-6 8-29-3z"/><path fill="#4368fe" d="M650 523l28 4-6-6-29-12z"/><path fill="url(#s0_g32)" d="M740 536l28-2-6-25-29-22z"/><path fill="url(#s0_g8)" d="M371 549l2-84-6 10-2 71z"/><path fill="#4757f7" d="M461 550l2-27-6 7-3 16zM338 533l27 13-7-3-27-3zM698 529l26 15-6-1-27-11z"/><path fill="url(#s0_g18)" d="M551 549l2-18-6-61-3 76z"/><path fill="url(#s0_g5)" d="M641 548l2-39-6-5-3 41z"/><path fill="url(#s0_g21)" d="M731 549l2-62-6-14-3 71z"/><path fill="url(#s0_g23)" d="M821 549l2-91-6 33-3 54z"/><path fill="#4852f4" d="M428 542l26 4-6-4-27-4zM518 533l26 13-6-4-27-2z"/><path fill="url(#s0_g5)" d="M608 536l26 9-6-1-27-31z"/><path fill="url(#s0_g11)" d="M788 505l26 40-6-4-27-28z"/><path fill="url(#s0_g19)" d="M830 513l12 4-7-46-12-13z"/><path fill="url(#s0_g45)" d="M386 492l29 22-7 17-28-7z"/><path shape-rendering="auto" fill="url(#s0_p1)" d="M293 561l1-48 18-266 20 23 16 242 2 48z"/><path fill="url(#s0_g32)" d="M476 525l29 2-7-13-28-24z"/><path fill="#4368fe" d="M566 524l29 9-7-7-28-11z"/><path fill="#4562fc" d="M656 519l29 14-7-6-28-4z"/><path fill="url(#s0_g47)" d="M746 490l29 23-7 21-28 2z"/><path fill="#475dfa" d="M296 543l29 1-3-11-29-6z"/><path fill="url(#s0_g15)" d="M378 554l2-30-7-59-2 84z"/><path fill="url(#s0_g49)" d="M467 554l3-64-7 33-2 27z"/><path fill="url(#s0_g4)" d="M557 553l3-38-7 16-2 18z"/><path fill="url(#s0_g4)" d="M647 553l3-30-7-14-2 39z"/><path fill="url(#s0_g37)" d="M737 552l3-16-7-49-2 62z"/><path fill="url(#s0_g23)" d="M827 552l3-39-7-55-2 91z"/><path fill="#4757f7" d="M345 538l26 11-6-3-27-13zM524 538l27 11-7-3-26-13zM303 536l28 4-6 4-29-1z"/><path fill="url(#s0_g0)" d="M434 527l27 23-7-4-26-4z"/><path fill="#4852f4" d="M614 544l27 4-7-3-26-9z"/><path fill="url(#s0_g0)" d="M704 526l27 23-7-5-26-15z"/><path fill="url(#s0_g10)" d="M794 540l27 9-7-4-26-40z"/><path fill="#4368fe" d="M836 525l12 6-6-14-12-4z"/><path fill="url(#s0_g47)" d="M393 538l28 0-6-24-29-22z"/><path fill="#4562fc" d="M483 540l28 0-6-13-29-2z"/><path fill="url(#s0_g45)" d="M573 491l28 22-6 20-29-9z"/><path fill="#4368fe" d="M663 521l28 11-6 1-29-14z"/><path fill="url(#s0_g44)" d="M753 485l28 28-6 0-29-23z"/><path fill="url(#s0_g2)" d="M384 556l2-64-6 32-2 30z"/><path fill="url(#s0_g49)" d="M474 557l2-32-6-35-3 64z"/><path fill="url(#s0_g4)" d="M564 556l2-32-6-9-3 38z"/><path fill="url(#s0_g0)" d="M654 556l2-37-6 4-3 30z"/><path fill="url(#s0_g2)" d="M744 554l2-64-6 46-3 16z"/><path fill="url(#s0_g5)" d="M834 555l2-30-6-12-3 39z"/><path fill="url(#s0_g16)" d="M294 557l2-14-3-16-2 28z"/><path fill="url(#s0_g10)" d="M351 513l27 41-7-5-26-11z"/><path fill="url(#s0_g0)" d="M441 528l26 26-6-4-27-23z"/><path fill="#4757f7" d="M531 538l26 15-6-4-27-11z"/><path fill="#4852f4" d="M621 550l26 3-6-5-27-4z"/><path fill="url(#s0_g9)" d="M711 526l26 26-6-3-27-23z"/><path fill="#4852f4" d="M801 545l26 7-6-3-27-9z"/><path fill="#4562fc" d="M843 543l12-5-7-7-12-6z"/><path fill="url(#s0_g7)" d="M310 519l28 14-7 7-28-4z"/><path fill="#475dfa" d="M399 547l29-5-7-4-28 0z"/><path fill="url(#s0_g7)" d="M489 513l29 20-7 7-28 0z"/><path fill="url(#s0_g47)" d="M579 527l29 9-7-23-28-22z"/><path fill="url(#s0_g25)" d="M669 513l29 16-7 3-28-11z"/><path fill="url(#s0_g54)" d="M759 464l29 41-7 8-28-28z"/><path fill="#4757f7" d="M301 558l2-22-7 7-2 14z"/><path fill="url(#s0_g42)" d="M391 561l2-23-7-46-2 64z"/><path fill="url(#s0_g0)" d="M481 560l2-20-7-15-2 32z"/><path fill="url(#s0_g2)" d="M570 558l3-67-7 33-2 32z"/><path fill="url(#s0_g0)" d="M660 560l3-39-7-2-2 37z"/><path fill="url(#s0_g21)" d="M750 559l3-74-7 5-2 64z"/><path fill="url(#s0_g9)" d="M840 558l3-15-7-18-2 30z"/><path fill="url(#s0_g11)" d="M358 535l26 21-6-2-27-41z"/><path fill="url(#s0_g0)" d="M447 532l27 25-7-3-26-26z"/><path fill="url(#s0_g0)" d="M537 534l27 22-7-3-26-15z"/><path fill="#4852f4" d="M627 554l27 2-7-3-26-3zM807 543l27 12-7-3-26-7z"/><path fill="url(#s0_g50)" d="M717 554l27 0-7-2-26-26z"/><path fill="url(#s0_g32)" d="M849 501l12 9-6 28-12 5z"/><path fill="url(#s0_g4)" d="M268 527l26 30-3-2-27-27z"/><path fill="url(#s0_g25)" d="M316 517l29 21-7-5-28-14z"/><path fill="url(#s0_g32)" d="M406 507l28 20-6 15-29 5z"/><path fill="url(#s0_g25)" d="M496 520l28 18-6-5-29-20z"/><path fill="#4562fc" d="M586 543l28 1-6-8-29-9z"/><path fill="url(#s0_g1)" d="M676 496l28 30-6 3-29-16z"/><path fill="url(#s0_g55)" d="M766 536l28 4-6-35-29-41z"/><path fill="url(#s0_g10)" d="M307 564l3-45-7 17-2 22z"/><path fill="#4757f7" d="M397 563l2-16-6-9-2 23z"/><path fill="url(#s0_g11)" d="M487 562l2-49-6 27-2 20z"/><path fill="url(#s0_g2)" d="M577 561l2-34-6-36-3 67z"/><path fill="url(#s0_g10)" d="M667 562l2-49-6 8-3 39z"/><path fill="url(#s0_g28)" d="M757 561l2-97-6 21-3 74z"/><path fill="url(#s0_g37)" d="M847 561l2-60-6 42-3 15z"/><path fill="url(#s0_g5)" d="M274 537l27 21-7-1-26-30z"/><path fill="url(#s0_g0)" d="M364 559l27 2-7-5-26-21z"/><path fill="url(#s0_g0)" d="M454 550l27 10-7-3-27-25z"/><path fill="url(#s0_g9)" d="M544 545l26 13-6-2-27-22z"/><path fill="#4852f4" d="M634 550l26 10-6-4-27-2z"/><path fill="url(#s0_g0)" d="M724 533l26 26-6-5-27 0z"/><path fill="url(#s0_g9)" d="M814 533l26 25-6-3-27-12z"/><path fill="url(#s0_g56)" d="M856 464l12 17-7 29-12-9z"/><path fill="url(#s0_g55)" d="M323 469l28 44-6 25-29-21z"/><path fill="url(#s0_g35)" d="M413 510l28 18-7-1-28-20z"/><path fill="#3f6eff" d="M502 523l29 15-7 0-28-18z"/><path fill="#475dfa" d="M592 546l29 4-7-6-28-1z"/><path fill="url(#s0_g3)" d="M682 499l29 27-7 0-28-30z"/><path fill="#4562fc" d="M772 546l29-1-7-5-28-4z"/><path fill="url(#s0_g10)" d="M314 567l2-50-6 2-3 45z"/><path fill="url(#s0_g49)" d="M404 566l2-59-7 40-2 16z"/><path fill="url(#s0_g10)" d="M494 566l2-46-7-7-2 49z"/><path fill="url(#s0_g0)" d="M583 566l3-23-7-16-2 34z"/><path fill="url(#s0_g2)" d="M673 564l3-68-7 17-2 49z"/><path fill="url(#s0_g29)" d="M763 566l3-30-7-72-2 97z"/><path fill="url(#s0_g57)" d="M853 565l3-101-7 37-2 60z"/><path fill="url(#s0_g0)" d="M281 547l26 17-6-6-27-21z"/><path fill="#4852f4" d="M371 550l26 13-6-2-27-2z"/><path fill="url(#s0_g9)" d="M461 537l26 25-6-2-27-10z"/><path fill="#4757f7" d="M550 556l27 5-7-3-26-13zM640 547l27 15-7-2-26-10z"/><path fill="url(#s0_g11)" d="M730 524l27 37-7-2-26-26z"/><path fill="url(#s0_g50)" d="M820 561l27 0-7-3-26-25z"/><path fill="url(#s0_g58)" d="M862 522l12 8-6-49-12-17z"/><path fill="url(#s0_g59)" d="M329 513l29 22-7-22-28-44z"/><path fill="#347afd" d="M419 515l28 17-6-4-28-18z"/><path fill="url(#s0_g1)" d="M509 507l28 27-6 4-29-15z"/><path fill="#475dfa" d="M599 551l28 3-6-4-29-4z"/><path fill="url(#s0_g45)" d="M689 550l28 4-6-28-29-27z"/><path fill="#4562fc" d="M779 535l28 8-6 2-29 1z"/><path fill="url(#s0_g51)" d="M239 491l29 36-4 1-28-30z"/><path fill="url(#s0_g29)" d="M320 570l3-101-7 48-2 50z"/><path fill="url(#s0_g49)" d="M410 570l3-60-7-3-2 59z"/><path fill="url(#s0_g10)" d="M500 569l2-46-6-3-2 46z"/><path fill="#4757f7" d="M590 568l2-22-6-3-3 23zM377 559l27 7-7-3-26-13z"/><path fill="url(#s0_g2)" d="M680 568l2-69-6-3-3 68z"/><path fill="url(#s0_g16)" d="M770 569l2-23-6-10-3 30z"/><path fill="url(#s0_g57)" d="M860 568l2-46-6-58-3 101z"/><path fill="#4852f4" d="M287 564l27 3-7-3-26-17zM557 557l26 9-6-5-27-5z"/><path fill="url(#s0_g24)" d="M467 522l27 44-7-4-26-25z"/><path fill="url(#s0_g9)" d="M647 543l26 21-6-2-27-15z"/><path fill="url(#s0_g10)" d="M737 551l26 15-6-5-27-37z"/><path fill="#4852f4" d="M827 562l26 3-6-4-27 0z"/><path fill="#3a74ff" d="M869 526l12 11-7-7-12-8z"/><path fill="url(#s0_g51)" d="M246 512l28 25-6-10-29-36z"/><path shape-rendering="auto" fill="url(#s0_p0)" d="M246 560l1-48 5-130 18 27 17 103 1 48z"/><path fill="url(#s0_g41)" d="M336 558l28 1-6-24-29-22z"/><path fill="url(#s0_g32)" d="M426 549l28 1-7-18-28-17z"/><path fill="url(#s0_g47)" d="M515 532l29 13-7-11-28-27z"/><path fill="url(#s0_g46)" d="M605 537l29 13-7 4-28-3z"/><path fill="url(#s0_g45)" d="M695 506l29 27-7 21-28-4z"/><path fill="url(#s0_g32)" d="M785 511l29 22-7 10-28-8z"/><path fill="url(#s0_g29)" d="M327 574l2-61-6-44-3 101z"/><path fill="url(#s0_g49)" d="M417 573l2-58-6-5-3 60z"/><path fill="url(#s0_g2)" d="M507 572l2-65-7 16-2 46z"/><path fill="#4757f7" d="M597 570l2-19-7-5-2 22z"/><path fill="url(#s0_g42)" d="M686 572l3-22-7-51-2 69z"/><path fill="url(#s0_g4)" d="M776 572l3-37-7 11-2 23z"/><path fill="url(#s0_g10)" d="M866 572l3-46-7-4-2 46z"/><path fill="url(#s0_g15)" d="M237 574l2-83-3 7-2 73z"/><path fill="#4852f4" d="M294 558l26 12-6-3-27-3zM384 565l26 5-6-4-27-7zM564 562l26 6-7-2-26-9zM833 552l27 16-7-3-26-3z"/><path fill="url(#s0_g24)" d="M474 558l26 11-6-3-27-44z"/><path fill="url(#s0_g9)" d="M653 561l27 7-7-4-26-21z"/><path fill="#4757f7" d="M743 555l27 14-7-3-26-15z"/><path fill="#4368fe" d="M875 554l12-3-6-14-12-11zM612 536l28 11-6 3-29-13z"/><path fill="url(#s0_g40)" d="M252 537l29 10-7-10-28-25z"/><path fill="#475dfa" d="M342 550l29 0-7 9-28-1z"/><path fill="url(#s0_g32)" d="M432 516l29 21-7 13-28-1z"/><path fill="url(#s0_g46)" d="M522 555l28 1-6-11-29-13z"/><path fill="url(#s0_g59)" d="M702 480l28 44-6 9-29-27z"/><path fill="url(#s0_g41)" d="M792 560l28 1-6-28-29-22z"/><path fill="url(#s0_g8)" d="M243 576l3-64-7-21-2 83z"/><path fill="url(#s0_g49)" d="M333 576l3-18-7-45-2 61z"/><path fill="url(#s0_g49)" d="M423 576l3-27-7-34-2 58z"/><path fill="url(#s0_g2)" d="M513 573l2-41-6-25-2 65z"/><path fill="url(#s0_g4)" d="M603 576l2-39-6 14-2 19z"/><path fill="url(#s0_g2)" d="M693 574l2-68-6 44-3 22z"/><path fill="url(#s0_g37)" d="M783 573l2-62-6 24-3 37z"/><path fill="url(#s0_g10)" d="M873 575l2-21-6-28-3 46z"/><path fill="#4757f7" d="M300 561l27 13-7-4-26-12zM570 561l27 9-7-2-26-6zM750 554l26 18-6-3-27-14z"/><path fill="#4852f4" d="M390 569l27 4-7-3-26-5zM480 565l27 7-7-3-26-11zM660 570l26 2-6-4-27-7z"/><path fill="url(#s0_g4)" d="M840 537l26 35-6-4-27-16z"/><path fill="#4562fc" d="M882 555l12-2-7-2-12 3z"/><path fill="url(#s0_g10)" d="M210 548l27 26-3-3-27-40z"/><path fill="url(#s0_g46)" d="M259 559l28 5-6-17-29-10z"/><path fill="#4562fc" d="M349 552l28 7-6-9-29 0zM529 549l28 8-7-1-28-1z"/><path fill="url(#s0_g60)" d="M439 472l28 50-6 15-29-21z"/><path fill="url(#s0_g30)" d="M618 525l29 18-7 4-28-11z"/><path fill="url(#s0_g26)" d="M708 538l29 13-7-27-28-44z"/><path fill="#475dfa" d="M798 553l29 9-7-1-28-1z"/><path fill="url(#s0_g49)" d="M250 580l2-43-6-25-3 64z"/><path fill="url(#s0_g16)" d="M340 580l2-30-6 8-3 18z"/><path fill="url(#s0_g49)" d="M430 579l2-63-6 33-3 27z"/><path fill="url(#s0_g4)" d="M520 579l2-24-7-23-2 41z"/><path fill="url(#s0_g4)" d="M610 579l2-43-7 1-2 39z"/><path fill="url(#s0_g29)" d="M700 578l2-98-7 26-2 68z"/><path fill="url(#s0_g49)" d="M789 578l3-18-7-49-2 62z"/><path fill="#4757f7" d="M879 578l3-23-7-1-2 21zM307 561l26 15-6-2-27-13z"/><path fill="url(#s0_g9)" d="M217 568l26 8-6-2-27-26z"/><path fill="#4852f4" d="M397 567l26 9-6-3-27-4z"/><path fill="#4852f4" d="M487 569l26 4-6-1-27-7zM666 571l27 3-7-2-26-2z"/><path fill="#4757f7" d="M577 557l26 19-6-6-27-9z"/><path fill="url(#s0_g5)" d="M756 545l27 28-7-1-26-18z"/><path fill="url(#s0_g4)" d="M846 552l27 23-7-3-26-35z"/><path fill="#4562fc" d="M888 551l12 5-6-3-12 2zM265 552l29 6-7 6-28-5zM355 557l29 8-7-6-28-7z"/><path fill="url(#s0_g61)" d="M445 552l29 6-7-36-28-50z"/><path fill="url(#s0_g62)" d="M535 543l29 19-7-5-28-8z"/><path fill="url(#s0_g20)" d="M625 553l28 8-6-18-29-18z"/><path fill="#3f6eff" d="M715 542l28 13-6-4-29-13z"/><path fill="url(#s0_g7)" d="M805 539l28 13-6 10-29-9z"/><path fill="url(#s0_g4)" d="M256 583l3-24-7-22-2 43z"/><path fill="url(#s0_g16)" d="M346 582l3-30-7-2-2 30z"/><path fill="url(#s0_g63)" d="M436 583l3-111-7 44-2 63z"/><path fill="url(#s0_g0)" d="M526 582l3-33-7 6-2 24z"/><path fill="url(#s0_g24)" d="M616 581l2-56-6 11-2 43z"/><path fill="url(#s0_g25)" d="M201 567l9-19-3-17-9 26z"/><path fill="url(#s0_g28)" d="M706 581l2-43-6-58-2 98z"/><path fill="url(#s0_g16)" d="M796 581l2-28-6 7-3 18z"/><path fill="url(#s0_g9)" d="M886 580l2-29-6 4-3 23z"/><path fill="#4852f4" d="M223 577l27 3-7-4-26-8zM493 579l27 0-7-6-26-4z"/><path fill="#4757f7" d="M313 561l27 19-7-4-26-15zM403 563l27 16-7-3-26-9zM583 575l27 4-7-3-26-19zM673 563l27 15-7-4-27-3z"/><path fill="url(#s0_g46)" d="M763 578l26 0-6-5-27-28z"/><path fill="url(#s0_g0)" d="M853 576l26 2-6-3-27-23z"/><path fill="#4368fe" d="M895 549l12 3-7 4-12-5zM272 544l28 17-6-3-29-6z"/><path fill="#475dfa" d="M362 568l28 1-6-4-29-8z"/><path fill="#4562fc" d="M452 557l28 8-6-7-29-6z"/><path fill="url(#s0_g62)" d="M542 550l28 11-6 1-29-19z"/><path fill="#475dfa" d="M632 568l28 2-7-9-28-8zM207 579l10-11-7-20-9 19z"/><path fill="url(#s0_g20)" d="M721 532l29 22-7 1-28-13z"/><path fill="url(#s0_g6)" d="M811 505l29 32-7 15-28-13z"/><path fill="url(#s0_g0)" d="M263 586l2-34-6 7-3 24z"/><path fill="url(#s0_g0)" d="M353 586l2-29-6-5-3 30z"/><path fill="url(#s0_g64)" d="M443 585l2-33-6-80-3 111z"/><path fill="url(#s0_g5)" d="M533 584l2-41-6 6-3 33z"/><path fill="url(#s0_g24)" d="M623 585l2-32-7-28-2 56z"/><path fill="url(#s0_g5)" d="M713 583l2-41-7-4-2 43z"/><path fill="url(#s0_g11)" d="M802 583l3-44-7 14-2 28z"/><path fill="url(#s0_g0)" d="M892 584l3-35-7 2-2 29z"/><path fill="#4852f4" d="M230 572l26 11-6-3-27-3zM500 574l26 8-6-3-27 0z"/><path fill="url(#s0_g4)" d="M320 554l26 28-6-2-27-19z"/><path fill="#4757f7" d="M410 566l26 17-6-4-27-16z"/><path fill="#4852f4" d="M590 571l26 10-6-2-27-4zM769 579l27 2-7-3-26 0zM859 573l27 7-7-2-26-2z"/><path fill="url(#s0_g9)" d="M680 558l26 23-6-3-27-15z"/><path fill="#3f6eff" d="M901 554l12 0-6-2-12-3zM278 554l29 7-7 0-28-17z"/><path fill="#4562fc" d="M368 555l29 12-7 2-28-1zM458 558l29 11-7-4-28-8z"/><path fill="url(#s0_g32)" d="M548 528l29 29-7 4-28-11z"/><path fill="#475dfa" d="M638 571l28 0-6-1-28-2z"/><path fill="url(#s0_g1)" d="M728 520l28 25-6 9-29-22z"/><path fill="url(#s0_g51)" d="M818 537l28 15-6-15-29-32z"/><path fill="#4757f7" d="M214 587l9-10-6-9-10 11z"/><path fill="url(#s0_g11)" d="M269 588l3-44-7 8-2 34z"/><path fill="url(#s0_g16)" d="M359 589l3-21-7-11-2 29z"/><path fill="url(#s0_g0)" d="M449 589l3-32-7-5-2 33z"/><path fill="url(#s0_g5)" d="M539 587l3-37-7-7-2 41z"/><path fill="url(#s0_g0)" d="M629 588l3-20-7-15-2 32z"/><path fill="url(#s0_g27)" d="M719 587l2-55-6 10-2 41z"/><path fill="url(#s0_g8)" d="M809 587l2-82-6 34-3 44z"/><path fill="url(#s0_g9)" d="M899 587l2-33-6-5-3 35z"/><path fill="url(#s0_g4)" d="M236 557l27 29-7-3-26-11z"/><path fill="url(#s0_g4)" d="M326 552l27 34-7-4-26-28z"/><path fill="url(#s0_g11)" d="M416 546l27 39-7-2-26-17z"/><path fill="#4757f7" d="M506 572l27 12-7-2-26-8z"/><path fill="#4852f4" d="M596 581l27 4-7-4-26-10zM776 584l26-1-6-2-27-2zM866 578l26 6-6-4-27-7z"/><path fill="url(#s0_g9)" d="M686 571l27 12-7-2-26-23z"/><path fill="url(#s0_g31)" d="M908 502l12 13-7 39-12 0z"/><path fill="url(#s0_g40)" d="M285 535l28 26-6 0-29-7z"/><path fill="url(#s0_g25)" d="M375 546l28 17-6 4-29-12z"/><path fill="#475dfa" d="M465 579l28 0-6-10-29-11z"/><path fill="url(#s0_g41)" d="M555 570l28 5-6-18-29-29z"/><path fill="url(#s0_g7)" d="M645 545l28 18-7 8-28 0z"/><path fill="url(#s0_g45)" d="M734 576l29 2-7-33-28-25z"/><path fill="url(#s0_g33)" d="M824 573l29 3-7-24-28-15z"/><path fill="#4757f7" d="M220 582l10-10-7 5-9 10zM636 591l2-20-6-3-3 20z"/><path fill="url(#s0_g11)" d="M276 592l2-38-6-10-3 44z"/><path fill="url(#s0_g4)" d="M366 592l2-37-6 13-3 21z"/><path fill="url(#s0_g9)" d="M456 591l2-33-6-1-3 32z"/><path fill="url(#s0_g37)" d="M546 591l2-63-6 22-3 37z"/><path fill="url(#s0_g2)" d="M726 590l2-70-7 12-2 55z"/><path fill="url(#s0_g15)" d="M816 591l2-54-7-32-2 82z"/><path fill="url(#s0_g23)" d="M905 591l3-89-7 52-2 33z"/><path fill="url(#s0_g5)" d="M243 557l26 31-6-2-27-29z"/><path fill="url(#s0_g4)" d="M333 584l26 5-6-3-27-34z"/><path fill="url(#s0_g10)" d="M423 569l26 20-6-4-27-39z"/><path fill="url(#s0_g9)" d="M513 566l26 21-6-3-27-12z"/><path fill="#4852f4" d="M603 591l26-3-6-3-27-4z"/><path fill="#4757f7" d="M693 579l26 8-6-4-27-12zM741 579l28 0-6-1-29-2z"/><path fill="#4852f4" d="M783 586l26 1-7-4-26 1z"/><path fill="url(#s0_g13)" d="M872 568l27 19-7-3-26-6z"/><path fill="url(#s0_g52)" d="M914 531l12 10-6-26-12-13z"/><path fill="url(#s0_g40)" d="M291 540l29 14-7 7-28-26z"/><path fill="#3f6eff" d="M381 550l29 16-7-3-28-17z"/><path fill="#475dfa" d="M471 571l29 3-7 5-28 0zM831 565l28 8-6 3-29-3z"/><path fill="#4562fc" d="M561 563l29 8-7 4-28-5zM227 577l9-20-6 15-10 10z"/><path fill="url(#s0_g40)" d="M651 539l29 19-7 5-28-18z"/><path fill="url(#s0_g49)" d="M282 596l3-61-7 19-2 38z"/><path fill="url(#s0_g10)" d="M372 596l3-50-7 9-2 37z"/><path fill="url(#s0_g0)" d="M462 595l3-16-7-21-2 33z"/><path fill="url(#s0_g37)" d="M552 594l3-24-7-42-2 63z"/><path fill="url(#s0_g10)" d="M642 595l3-50-7 26-2 20z"/><path fill="url(#s0_g42)" d="M732 594l2-18-6-56-2 70z"/><path fill="url(#s0_g24)" d="M822 594l2-21-6-36-2 54z"/><path fill="url(#s0_g36)" d="M912 591l2-60-6-29-3 89z"/><path fill="url(#s0_g5)" d="M249 571l27 21-7-4-26-31z"/><path fill="#4852f4" d="M339 589l27 3-7-3-26-5zM699 588l27 2-7-3-26-8zM789 575l27 16-7-4-26-1z"/><path fill="url(#s0_g9)" d="M429 567l27 24-7-2-26-20z"/><path fill="url(#s0_g9)" d="M519 575l27 16-7-4-26-21z"/><path fill="#484cef" d="M609 590l27 1-7-3-26 3z"/><path fill="url(#s0_g10)" d="M879 554l26 37-6-4-27-19z"/><path fill="url(#s0_g43)" d="M921 519l12 15-7 7-12-10z"/><path fill="url(#s0_g65)" d="M298 522l28 30-6 2-29-14z"/><path fill="url(#s0_g26)" d="M388 506l28 40-6 20-29-16z"/><path fill="#4562fc" d="M478 563l28 9-6 2-29-3zM568 575l28 6-6-10-29-8z"/><path fill="url(#s0_g32)" d="M658 555l28 16-6-13-29-19z"/><path fill="#475dfa" d="M748 575l28 9-7-5-28 0z"/><path fill="#4562fc" d="M837 566l29 12-7-5-28-8z"/><path fill="#4368fe" d="M233 574l10-17-7 0-9 20z"/><path fill="url(#s0_g37)" d="M289 597l2-57-6-5-3 61z"/><path fill="url(#s0_g11)" d="M379 597l2-47-6-4-3 50z"/><path fill="#4757f7" d="M469 598l2-27-6 8-3 16zM739 596l2-17-7-3-2 18z"/><path fill="url(#s0_g9)" d="M559 597l2-34-6 7-3 24z"/><path fill="url(#s0_g49)" d="M649 598l2-59-6 6-3 50z"/><path fill="url(#s0_g0)" d="M829 597l2-32-7 8-2 21z"/><path fill="url(#s0_g18)" d="M919 596l2-77-7 12-2 60z"/><path fill="url(#s0_g10)" d="M256 559l26 37-6-4-27-21z"/><path fill="url(#s0_g4)" d="M346 564l26 32-6-4-27-3z"/><path fill="url(#s0_g0)" d="M436 592l26 3-6-4-27-24z"/><path fill="url(#s0_g9)" d="M526 570l26 24-6-3-27-16z"/><path fill="#4852f4" d="M616 587l26 8-6-4-27-1z"/><path fill="url(#s0_g4)" d="M706 560l26 34-6-4-27-2z"/><path fill="#4757f7" d="M796 581l26 13-6-3-27-16zM745 600l3-25-7 4-2 17z"/><path fill="url(#s0_g11)" d="M885 584l27 7-7 0-26-37z"/><path fill="url(#s0_g14)" d="M927 561l12 7-6-34-12-15z"/><path fill="url(#s0_g53)" d="M304 579l29 5-7-32-28-30z"/><path fill="url(#s0_g26)" d="M394 553l29 16-7-23-28-40z"/><path fill="url(#s0_g32)" d="M484 542l29 24-7 6-28-9z"/><path fill="#475dfa" d="M574 587l29 4-7-10-28-6zM754 582l29 4-7-2-28-9z"/><path fill="url(#s0_g25)" d="M664 571l29 8-7-8-28-16z"/><path fill="url(#s0_g33)" d="M844 548l28 20-6 10-29-12z"/><path fill="url(#s0_g46)" d="M240 590l9-19-6-14-10 17z"/><path fill="url(#s0_g8)" d="M295 601l3-79-7 18-2 57z"/><path fill="url(#s0_g28)" d="M385 601l3-95-7 44-2 47z"/><path fill="url(#s0_g5)" d="M475 600l3-37-7 8-2 27z"/><path fill="url(#s0_g9)" d="M565 601l3-26-7-12-2 34z"/><path fill="url(#s0_g37)" d="M655 600l3-45-7-16-2 59z"/><path fill="url(#s0_g9)" d="M835 599l2-33-6-1-2 32z"/><path fill="url(#s0_g21)" d="M925 600l2-39-6-42-2 77z"/><path fill="url(#s0_g11)" d="M262 572l27 25-7-1-26-37z"/><path fill="url(#s0_g5)" d="M352 595l27 2-7-1-26-32z"/><path fill="#4852f4" d="M442 588l27 10-7-3-26-3zM622 601l27-3-7-3-26-8zM802 591l27 6-7-3-26-13z"/><path fill="url(#s0_g9)" d="M532 576l27 21-7-3-26-24z"/><path fill="url(#s0_g5)" d="M712 588l27 8-7-2-26-34z"/><path fill="#4757f7" d="M892 589l27 7-7-5-27-7zM581 588l28 2-6 1-29-4z"/><path fill="url(#s0_g26)" d="M934 503l12 21-7 44-12-7z"/><path fill="#475dfa" d="M311 584l28 5-6-5-29-5z"/><path fill="url(#s0_g40)" d="M401 547l28 20-6 2-29-16z"/><path fill="url(#s0_g40)" d="M491 565l28 10-6-9-29-24z"/><path fill="#4562fc" d="M671 581l28 7-6-9-29-8z"/><path fill="url(#s0_g7)" d="M761 559l28 16-6 11-29-4z"/><path fill="url(#s0_g31)" d="M851 518l28 36-7 14-28-20z"/><path fill="url(#s0_g7)" d="M247 581l9-22-7 12-9 19z"/><path fill="url(#s0_g8)" d="M302 604l2-25-6-57-3 79z"/><path fill="url(#s0_g28)" d="M392 604l2-51-6-47-3 95z"/><path fill="url(#s0_g49)" d="M482 605l2-63-6 21-3 37z"/><path fill="#4757f7" d="M572 603l2-16-6-12-3 26zM752 603l2-21-6-7-3 25z"/><path fill="url(#s0_g10)" d="M662 604l2-33-6-16-3 45z"/><path fill="url(#s0_g27)" d="M842 602l2-54-7 18-2 33z"/><path fill="url(#s0_g28)" d="M932 602l2-99-7 58-2 39z"/><path fill="url(#s0_g9)" d="M269 598l26 3-6-4-27-25z"/><path fill="#4852f4" d="M359 599l26 2-6-4-27-2zM449 595l26 5-6-2-27-10zM719 593l26 7-6-4-27-8z"/><path fill="url(#s0_g5)" d="M539 571l26 30-6-4-27-21z"/><path fill="url(#s0_g9)" d="M629 574l26 26-6-2-27 3z"/><path fill="#4852f4" d="M809 596l26 3-6-2-27-6zM899 593l26 7-6-4-27-7z"/><path fill="url(#s0_g55)" d="M940 576l12 5-6-57-12-21z"/><path fill="url(#s0_g38)" d="M317 539l29 25-7 25-28-5z"/><path fill="url(#s0_g41)" d="M407 591l29 1-7-25-28-20z"/><path fill="url(#s0_g1)" d="M497 546l29 24-7 5-28-10z"/><path fill="#475dfa" d="M587 581l29 6-7 3-28-2z"/><path fill="url(#s0_g53)" d="M677 526l29 34-7 28-28-7z"/><path fill="url(#s0_g25)" d="M767 570l29 11-7-6-28-16z"/><path fill="url(#s0_g34)" d="M857 572l28 12-6-30-28-36z"/><path fill="#4368fe" d="M253 591l9-19-6-13-9 22z"/><path fill="#4757f7" d="M309 606l2-22-7-5-2 25zM578 608l3-20-7-1-2 16z"/><path fill="url(#s0_g49)" d="M398 608l3-61-7 6-2 51z"/><path fill="url(#s0_g49)" d="M488 608l3-43-7-23-2 63z"/><path fill="url(#s0_g0)" d="M668 607l3-26-7-10-2 33z"/><path fill="url(#s0_g11)" d="M758 606l3-47-7 23-2 21z"/><path fill="url(#s0_g23)" d="M848 606l3-88-7 30-2 54z"/><path fill="url(#s0_g28)" d="M938 605l2-29-6-73-2 99z"/><path fill="#4852f4" d="M275 596l27 8-7-3-26-3zM365 599l27 5-7-3-26-2zM455 602l27 3-7-5-26-5zM815 594l27 8-7-3-26-3zM905 604l27-2-7-2-26-7z"/><path fill="url(#s0_g5)" d="M545 582l27 21-7-2-26-30z"/><path fill="url(#s0_g9)" d="M635 607l27-3-7-4-26-26z"/><path fill="url(#s0_g0)" d="M725 578l27 25-7-3-26-7z"/><path fill="#4562fc" d="M947 586l12 2-7-7-12-5zM414 582l28 6-6 4-29-1zM774 592l28-1-6-10-29-11z"/><path fill="url(#s0_g38)" d="M324 590l28 5-6-31-29-25z"/><path fill="url(#s0_g3)" d="M504 554l28 22-6-6-29-24z"/><path fill="#475dfa" d="M594 602l28-1-6-14-29-6z"/><path fill="url(#s0_g12)" d="M684 580l28 8-6-28-29-34z"/><path fill="#4368fe" d="M864 575l28 14-7-5-28-12z"/><path fill="url(#s0_g9)" d="M260 605l9-7-7-26-9 19z"/><path fill="url(#s0_g21)" d="M315 612l2-73-6 45-2 22z"/><path fill="url(#s0_g37)" d="M405 611l2-20-6-44-3 61z"/><path fill="url(#s0_g42)" d="M495 611l2-65-6 19-3 43z"/><path fill="url(#s0_g13)" d="M585 610l2-29-6 7-3 20z"/><path fill="url(#s0_g15)" d="M675 611l2-85-6 55-3 26z"/><path fill="url(#s0_g11)" d="M765 610l2-40-6-11-3 47z"/><path fill="url(#s0_g23)" d="M855 609l2-37-6-54-3 88z"/><path fill="url(#s0_g9)" d="M945 608l2-22-7-10-2 29z"/><path fill="url(#s0_g5)" d="M282 576l27 30-7-2-27-8z"/><path fill="#4757f7" d="M372 594l26 14-6-4-27-5z"/><path fill="#4852f4" d="M462 605l26 3-6-3-27-3zM642 598l26 9-6-3-27 3z"/><path fill="url(#s0_g4)" d="M552 577l26 31-6-5-27-21z"/><path fill="url(#s0_g9)" d="M732 580l26 26-6-3-27-25z"/><path fill="url(#s0_g0)" d="M822 581l26 25-6-4-27-8z"/><path fill="#4852f4" d="M912 597l26 8-6-3-27 2z"/><path fill="#4562fc" d="M953 578l12 3-6 7-12-2zM420 583l29 12-7-7-28-6zM690 589l29 4-7-5-28-8zM870 581l29 12-7-4-28-14z"/><path fill="#475dfa" d="M330 593l29 6-7-4-28-5zM780 592l29 4-7-5-28 1z"/><path fill="url(#s0_g17)" d="M510 539l29 32-7 5-28-22z"/><path fill="url(#s0_g38)" d="M600 544l29 30-7 27-28 1z"/><path fill="#4757f7" d="M266 609l9-13-6 2-9 7z"/><path fill="url(#s0_g21)" d="M322 615l2-25-7-51-2 73z"/><path fill="url(#s0_g9)" d="M411 613l3-31-7 9-2 20z"/><path fill="url(#s0_g42)" d="M501 614l3-60-7-8-2 65z"/><path fill="url(#s0_g13)" d="M591 613l3-11-7-21-2 29z"/><path fill="url(#s0_g15)" d="M681 614l3-34-7-54-2 85z"/><path fill="url(#s0_g4)" d="M771 613l3-21-7-22-2 40z"/><path fill="url(#s0_g4)" d="M861 613l3-38-7-3-2 37z"/><path fill="url(#s0_g0)" d="M951 612l2-34-6 8-2 22z"/><path fill="url(#s0_g4)" d="M289 592l26 20-6-6-27-30z"/><path fill="#4757f7" d="M378 597l27 14-7-3-26-14z"/><path fill="url(#s0_g16)" d="M468 590l27 21-7-3-26-3z"/><path fill="url(#s0_g5)" d="M558 587l27 23-7-2-26-31z"/><path fill="#4852f4" d="M648 600l27 11-7-4-26-9zM918 602l27 6-7-3-26-8z"/><path fill="url(#s0_g9)" d="M738 590l27 20-7-4-26-26z"/><path fill="url(#s0_g0)" d="M828 594l27 15-7-3-26-25z"/><path fill="#3f6eff" d="M960 577l12 5-7-1-12-3z"/><path fill="#475dfa" d="M337 595l28 4-6 0-29-6zM427 602l28 0-6-7-29-12z"/><path fill="url(#s0_g17)" d="M517 564l28 18-6-11-29-32z"/><path fill="url(#s0_g38)" d="M607 610l28-3-6-33-29-30z"/><path fill="url(#s0_g41)" d="M697 560l28 18-6 15-29-4z"/><path fill="#4562fc" d="M787 582l28 12-6 2-29-4z"/><path fill="url(#s0_g50)" d="M877 607l28-3-6-11-29-12z"/><path fill="url(#s0_g5)" d="M273 598l9-22-7 20-9 13z"/><path fill="#4757f7" d="M328 618l2-25-6-3-2 25zM778 616l2-24-6 0-3 21z"/><path fill="url(#s0_g9)" d="M418 616l2-33-6-1-3 31z"/><path fill="url(#s0_g21)" d="M508 617l2-78-6 15-3 60z"/><path fill="url(#s0_g21)" d="M598 617l2-73-6 58-3 11z"/><path fill="url(#s0_g0)" d="M688 617l2-28-6-9-3 34z"/><path fill="url(#s0_g4)" d="M868 617l2-36-6-6-3 38z"/><path fill="url(#s0_g4)" d="M958 616l2-39-7 1-2 34z"/><path fill="url(#s0_g16)" d="M295 598l27 17-7-3-26-20z"/><path fill="url(#s0_g9)" d="M385 590l26 23-6-2-27-14z"/><path fill="url(#s0_g16)" d="M475 598l26 16-6-3-27-21z"/><path fill="url(#s0_g9)" d="M565 603l26 10-6-3-27-23z"/><path fill="#4852f4" d="M655 612l26 2-6-3-27-11zM925 606l26 6-6-4-27-6z"/><path fill="url(#s0_g16)" d="M745 600l26 13-6-3-27-20z"/><path fill="url(#s0_g10)" d="M835 576l26 37-6-4-27-15z"/><path fill="url(#s0_g19)" d="M967 532l11 12-6 38-12-5z"/><path fill="#4562fc" d="M343 587l29 7-7 5-28-4z"/><path fill="#475dfa" d="M433 601l29 4-7-3-28 0zM883 596l29 1-7 7-28 3z"/><path fill="url(#s0_g17)" d="M523 548l29 29-7 5-28-18z"/><path fill="url(#s0_g46)" d="M613 586l29 12-7 9-28 3z"/><path fill="url(#s0_g3)" d="M703 551l29 29-7-2-28-18z"/><path fill="url(#s0_g47)" d="M793 554l29 27-7 13-28-12z"/><path fill="#4368fe" d="M279 606l10-14-7-16-9 22z"/><path fill="#4757f7" d="M335 621l2-26-7-2-2 25z"/><path fill="url(#s0_g0)" d="M425 621l2-19-7-19-2 33z"/><path fill="url(#s0_g18)" d="M514 620l3-56-7-25-2 78z"/><path fill="url(#s0_g21)" d="M604 620l3-10-7-66-2 73z"/><path fill="url(#s0_g37)" d="M694 618l3-58-7 29-2 28z"/><path fill="url(#s0_g5)" d="M784 618l3-36-7 10-2 24z"/><path fill="url(#s0_g9)" d="M874 619l3-12-7-26-2 36z"/><path fill="url(#s0_g23)" d="M964 619l3-87-7 45-2 39z"/><path fill="#4757f7" d="M302 599l26 19-6-3-27-17z"/><path fill="url(#s0_g9)" d="M392 601l26 15-7-3-26-23z"/><path fill="#4852f4" d="M481 617l27 0-7-3-26-16zM571 611l27 6-7-4-26-10zM661 615l27 2-7-3-26-2zM751 610l27 6-7-3-26-13zM931 613l27 3-7-4-26-6z"/><path fill="url(#s0_g10)" d="M841 591l27 26-7-4-26-37z"/><path fill="url(#s0_g52)" d="M973 559l12 15-7-30-11-12z"/><path fill="#4368fe" d="M350 584l28 13-6-3-29-7zM620 595l28 5-6-2-29-12z"/><path fill="url(#s0_g41)" d="M440 569l28 21-6 15-29-4z"/><path fill="url(#s0_g17)" d="M530 558l28 29-6-10-29-29z"/><path fill="url(#s0_g1)" d="M710 566l28 24-6-10-29-29z"/><path fill="url(#s0_g1)" d="M800 577l28 17-6-13-29-27z"/><path fill="#4562fc" d="M890 600l28 2-6-5-29-1zM286 611l9-13-6-6-10 14z"/><path fill="url(#s0_g4)" d="M341 625l2-38-6 8-2 26z"/><path fill="#4757f7" d="M431 621l2-20-6 1-2 19zM881 623l2-27-6 11-3 12z"/><path fill="url(#s0_g18)" d="M521 623l2-75-6 16-3 56z"/><path fill="url(#s0_g5)" d="M611 622l2-36-6 24-3 10z"/><path fill="url(#s0_g2)" d="M701 621l2-70-6 9-3 58z"/><path fill="url(#s0_g2)" d="M791 622l2-68-6 28-3 36z"/><path fill="url(#s0_g23)" d="M971 622l2-63-6-27-3 87z"/><path fill="url(#s0_g16)" d="M308 600l27 21-7-3-26-19z"/><path fill="url(#s0_g16)" d="M398 600l27 21-7-5-26-15z"/><path fill="#4852f4" d="M488 608l26 12-6-3-27 0zM578 619l26 1-6-3-27-6zM668 609l26 9-6-1-27-2z"/><path fill="url(#s0_g11)" d="M758 580l26 38-6-2-27-6z"/><path fill="url(#s0_g9)" d="M848 613l26 6-6-2-27-26z"/><path fill="url(#s0_g0)" d="M938 596l26 23-6-3-27-3z"/><path fill="url(#s0_g35)" d="M980 585l12 5-7-16-12-15z"/><path fill="url(#s0_g32)" d="M357 569l28 21-7 7-28-13z"/><path fill="url(#s0_g40)" d="M446 585l29 13-7-8-28-21z"/><path fill="url(#s0_g47)" d="M536 595l29 8-7-16-28-29z"/><path fill="#4562fc" d="M626 606l29 6-7-12-28-5zM896 599l29 7-7-4-28-2z"/><path fill="url(#s0_g32)" d="M716 590l29 10-7-10-28-24z"/><path fill="url(#s0_g6)" d="M806 543l29 33-7 18-28-17z"/><path fill="#475dfa" d="M292 614l10-15-7-1-9 13z"/><path fill="url(#s0_g5)" d="M348 627l2-43-7 3-2 38z"/><path fill="url(#s0_g37)" d="M438 626l2-57-7 32-2 20z"/><path fill="url(#s0_g21)" d="M528 627l2-69-7-10-2 75z"/><path fill="url(#s0_g4)" d="M617 627l3-32-7-9-2 36z"/><path fill="url(#s0_g42)" d="M707 627l3-61-7-15-2 70z"/><path fill="url(#s0_g42)" d="M797 626l3-49-7-23-2 68z"/><path fill="#4757f7" d="M887 624l3-24-7-4-2 27z"/><path fill="url(#s0_g37)" d="M977 624l3-39-7-26-2 63z"/><path fill="url(#s0_g16)" d="M315 622l26 3-6-4-27-21z"/><path fill="url(#s0_g13)" d="M405 617l26 4-6 0-27-21z"/><path fill="#4757f7" d="M494 614l27 9-7-3-26-12zM674 604l27 17-7-3-26-9z"/><path fill="#4852f4" d="M584 615l27 7-7-2-26-1zM854 615l27 8-7-4-26-6z"/><path fill="url(#s0_g11)" d="M764 625l27-3-7-4-26-38z"/><path fill="url(#s0_g4)" d="M944 590l27 32-7-3-26-23z"/><path fill="url(#s0_g40)" d="M363 583l29 18-7-11-28-21z"/><path fill="url(#s0_g25)" d="M453 618l28-1-6-19-29-13z"/><path fill="#4562fc" d="M543 603l28 8-6-8-29-8zM299 614l9-14-6-1-10 15z"/><path fill="#475dfa" d="M633 609l28 6-6-3-29-6zM903 612l28 1-6-7-29-7z"/><path fill="#4368fe" d="M723 602l28 8-6-10-29-10z"/><path fill="url(#s0_g51)" d="M813 565l28 26-6-15-29-33z"/><path fill="url(#s0_g49)" d="M354 631l3-62-7 15-2 43z"/><path fill="url(#s0_g37)" d="M444 629l2-44-6-16-2 57z"/><path fill="url(#s0_g42)" d="M534 630l2-35-6-37-2 69z"/><path fill="url(#s0_g0)" d="M624 630l2-24-6-11-3 32z"/><path fill="url(#s0_g37)" d="M714 628l2-38-6-24-3 61z"/><path fill="url(#s0_g8)" d="M804 627l2-84-6 34-3 49z"/><path fill="url(#s0_g16)" d="M894 628l2-29-6 1-3 24z"/><path fill="#4852f4" d="M321 626l27 1-7-2-26-3zM411 621l27 5-7-5-26-4zM591 622l26 5-6-5-27-7zM771 612l26 14-6-4-27 3z"/><path fill="url(#s0_g0)" d="M501 605l27 22-7-4-27-9z"/><path fill="url(#s0_g16)" d="M681 617l26 10-6-6-27-17z"/><path fill="url(#s0_g13)" d="M861 606l26 18-6-1-27-8z"/><path fill="url(#s0_g5)" d="M951 611l26 13-6-2-27-32z"/><path fill="url(#s0_g30)" d="M370 583l28 17-6 1-29-18z"/><path fill="url(#s0_g62)" d="M460 594l28 14-7 9-28 1z"/><path fill="#475dfa" d="M549 619l29 0-7-8-28-8zM305 629l10-7-7-22-9 14z"/><path fill="url(#s0_g46)" d="M639 599l29 10-7 6-28-6z"/><path fill="url(#s0_g66)" d="M729 546l29 34-7 30-28-8z"/><path fill="url(#s0_g45)" d="M819 606l29 7-7-22-28-26z"/><path fill="url(#s0_g33)" d="M909 577l29 19-7 17-28-1z"/><path fill="url(#s0_g49)" d="M361 634l2-51-6-14-3 62z"/><path fill="url(#s0_g11)" d="M451 633l2-15-7-33-2 44z"/><path fill="url(#s0_g0)" d="M541 633l2-30-7-8-2 35z"/><path fill="#4757f7" d="M630 633l3-24-7-3-2 24zM328 612l26 19-6-4-27-1z"/><path fill="url(#s0_g5)" d="M720 632l3-30-7-12-2 38z"/><path fill="url(#s0_g8)" d="M810 631l3-66-7-22-2 84z"/><path fill="url(#s0_g16)" d="M900 632l3-20-7-13-2 29z"/><path fill="#4852f4" d="M418 625l26 4-6-3-27-5z"/><path fill="url(#s0_g0)" d="M508 612l26 18-6-3-27-22z"/><path fill="#4852f4" d="M597 627l27 3-7-3-26-5zM687 626l27 2-7-1-26-10zM312 633l9-7-6-4-10 7z"/><path fill="url(#s0_g9)" d="M777 604l27 23-7-1-26-14z"/><path fill="url(#s0_g10)" d="M867 591l27 37-7-4-26-18z"/><path fill="url(#s0_g33)" d="M376 608l29 9-7-17-28-17z"/><path fill="#4368fe" d="M466 610l28 4-6-6-28-14z"/><path fill="#475dfa" d="M556 608l28 7-6 4-29 0z"/><path fill="url(#s0_g20)" d="M646 587l28 17-6 5-29-10z"/><path fill="url(#s0_g66)" d="M736 626l28-1-6-45-29-34z"/><path fill="#4562fc" d="M826 615l28 0-6-2-29-7z"/><path fill="url(#s0_g17)" d="M916 565l28 25-6 6-29-19z"/><path fill="url(#s0_g27)" d="M367 637l3-54-7 0-2 51z"/><path fill="url(#s0_g5)" d="M457 636l3-42-7 24-2 15z"/><path fill="url(#s0_g0)" d="M547 636l2-17-6-16-2 30z"/><path fill="url(#s0_g4)" d="M637 636l2-37-6 10-3 24z"/><path fill="url(#s0_g23)" d="M727 636l2-90-6 56-3 30z"/><path fill="url(#s0_g2)" d="M817 632l2-26-6-41-3 66z"/><path fill="url(#s0_g24)" d="M907 635l2-58-6 35-3 20z"/><path fill="url(#s0_g4)" d="M334 604l27 30-7-3-26-19z"/><path fill="#4757f7" d="M424 618l27 15-7-4-26-4zM514 626l27 7-7-3-26-18zM318 630l10-18-7 14-9 7z"/><path fill="#4852f4" d="M604 621l26 12-6-3-27-3zM694 628l26 4-6-4-27-2z"/><path fill="url(#s0_g9)" d="M784 626l26 5-6-4-27-23z"/><path fill="url(#s0_g11)" d="M874 633l26-1-6-4-27-37z"/><path fill="#4562fc" d="M383 619l28 2-6-4-29-9z"/><path fill="url(#s0_g32)" d="M473 580l28 25-7 9-28-4z"/><path fill="#475dfa" d="M562 623l29-1-7-7-28-7z"/><path fill="url(#s0_g20)" d="M652 611l29 6-7-13-28-17z"/><path fill="url(#s0_g46)" d="M742 604l29 8-7 13-28 1z"/><path fill="url(#s0_g41)" d="M832 583l29 23-7 9-28 0z"/><path fill="url(#s0_g14)" d="M922 598l29 13-7-21-28-25z"/><path fill="url(#s0_g27)" d="M374 639l2-31-6-25-3 54z"/><path fill="url(#s0_g5)" d="M464 638l2-28-6-16-3 42z"/><path fill="url(#s0_g9)" d="M554 638l2-30-7 11-2 17z"/><path fill="url(#s0_g27)" d="M644 639l2-52-7 12-2 37z"/><path fill="url(#s0_g36)" d="M733 638l3-12-7-80-2 90z"/><path fill="url(#s0_g9)" d="M823 638l3-23-7-9-2 26z"/><path fill="url(#s0_g21)" d="M913 638l3-73-7 12-2 58z"/><path fill="url(#s0_g5)" d="M341 621l26 16-6-3-27-30z"/><path fill="url(#s0_g13)" d="M431 616l26 20-6-3-27-15z"/><path fill="#4852f4" d="M521 625l26 11-6-3-27-7zM880 627l27 8-7-3-26 1z"/><path fill="url(#s0_g0)" d="M611 611l26 25-7-3-26-12z"/><path fill="#4757f7" d="M700 617l27 19-7-4-26-4zM790 626l27 6-7-1-26-5z"/><path fill="#475dfa" d="M389 623l29 2-7-4-28-2z"/><path fill="url(#s0_g40)" d="M479 593l29 19-7-7-28-25z"/><path fill="#475dfa" d="M569 628l28-1-6-5-29 1zM659 626l28 0-6-9-29-6z"/><path fill="url(#s0_g47)" d="M749 575l28 29-6 8-29-8z"/><path fill="url(#s0_g31)" d="M839 555l28 36-6 15-29-23z"/><path fill="url(#s0_g46)" d="M325 622l9-18-6 8-10 18z"/><path fill="url(#s0_g0)" d="M380 644l3-25-7-11-2 31z"/><path fill="url(#s0_g49)" d="M470 643l3-63-7 30-2 28z"/><path fill="url(#s0_g9)" d="M560 641l2-18-6-15-2 30z"/><path fill="url(#s0_g24)" d="M650 643l2-32-6-24-2 52z"/><path fill="url(#s0_g5)" d="M740 641l2-37-6 22-3 12z"/><path fill="url(#s0_g37)" d="M830 641l2-58-6 32-3 23z"/><path fill="url(#s0_g18)" d="M920 641l2-43-6-33-3 73z"/><path fill="url(#s0_g5)" d="M347 609l27 30-7-2-26-16z"/><path fill="url(#s0_g11)" d="M437 600l27 38-7-2-26-20z"/><path fill="url(#s0_g9)" d="M527 618l27 20-7-2-26-11z"/><path fill="url(#s0_g9)" d="M617 633l27 6-7-3-26-25z"/><path fill="url(#s0_g9)" d="M707 613l26 25-6-2-27-19z"/><path fill="#4757f7" d="M797 627l26 11-6-6-27-6zM387 646l2-23-6-4-3 25zM567 646l2-18-7-5-2 18z"/><path fill="url(#s0_g0)" d="M887 613l26 25-6-3-27-8z"/><path fill="url(#s0_g46)" d="M396 609l28 9-6 7-29-2z"/><path fill="url(#s0_g33)" d="M486 622l28 4-6-14-29-19z"/><path fill="url(#s0_g62)" d="M576 609l28 12-7 6-28 1z"/><path fill="#475dfa" d="M665 618l29 10-7-2-28 0z"/><path fill="url(#s0_g45)" d="M755 617l29 9-7-22-28-29z"/><path fill="url(#s0_g66)" d="M845 635l29-2-7-42-28-36z"/><path fill="#4562fc" d="M331 635l10-14-7-17-9 18z"/><path fill="url(#s0_g49)" d="M477 646l2-53-6-13-3 63z"/><path fill="url(#s0_g9)" d="M657 644l2-18-7-15-2 32z"/><path fill="url(#s0_g2)" d="M747 644l2-69-7 29-2 37z"/><path fill="url(#s0_g23)" d="M836 645l3-90-7 28-2 58z"/><path fill="url(#s0_g4)" d="M354 631l26 13-6-5-27-30z"/><path fill="url(#s0_g10)" d="M444 631l26 12-6-5-27-38z"/><path fill="url(#s0_g9)" d="M534 616l26 25-6-3-27-20z"/><path fill="#4757f7" d="M624 627l26 16-6-4-27-6z"/><path fill="url(#s0_g9)" d="M713 639l27 2-7-3-26-25z"/><path fill="url(#s0_g5)" d="M803 608l27 33-7-3-26-11z"/><path fill="url(#s0_g9)" d="M893 628l27 13-7-3-26-25z"/><path fill="url(#s0_g40)" d="M402 593l29 23-7 2-28-9z"/><path fill="#4562fc" d="M492 618l29 7-7 1-28-4zM762 621l28 5-6 0-29-9zM338 629l9-20-6 12-10 14z"/><path fill="url(#s0_g47)" d="M582 586l29 25-7 10-28-12z"/><path fill="url(#s0_g33)" d="M672 598l28 19-6 11-29-10z"/><path fill="#475dfa" d="M852 623l28 4-6 6-29 2z"/><path fill="url(#s0_g5)" d="M393 648l3-39-7 14-2 23z"/><path fill="url(#s0_g27)" d="M483 649l3-27-7-29-2 53z"/><path fill="url(#s0_g4)" d="M573 649l3-40-7 19-2 18z"/><path fill="url(#s0_g9)" d="M663 648l2-30-6 8-2 18z"/><path fill="url(#s0_g42)" d="M753 649l2-32-6-42-2 69z"/><path fill="url(#s0_g23)" d="M843 648l2-13-6-80-3 90z"/><path fill="#4757f7" d="M360 635l27 11-7-2-26-13zM630 628l27 16-7-1-26-16z"/><path fill="#4852f4" d="M450 645l27 1-7-3-26-12zM720 630l27 14-7-3-27-2z"/><path fill="url(#s0_g0)" d="M540 644l27 2-7-5-26-25z"/><path fill="url(#s0_g4)" d="M810 625l26 20-6-4-27-33z"/><path fill="url(#s0_g31)" d="M409 564l28 36-6 16-29-23z"/><path fill="url(#s0_g20)" d="M499 600l28 18-6 7-29-7z"/><path fill="url(#s0_g45)" d="M589 625l28 8-6-22-29-25z"/><path fill="url(#s0_g14)" d="M678 582l29 31-7 4-28-19z"/><path fill="#4368fe" d="M768 615l29 12-7-1-28-5z"/><path fill="url(#s0_g47)" d="M858 588l29 25-7 14-28-4z"/><path fill="url(#s0_g46)" d="M344 644l10-13-7-22-9 20z"/><path fill="url(#s0_g37)" d="M400 652l2-59-6 16-3 39z"/><path fill="url(#s0_g9)" d="M490 651l2-33-6 4-3 27z"/><path fill="url(#s0_g2)" d="M580 651l2-65-6 23-3 40z"/><path fill="url(#s0_g24)" d="M670 652l2-54-7 20-2 30z"/><path fill="url(#s0_g9)" d="M760 651l2-30-7-4-2 32z"/><path fill="url(#s0_g13)" d="M849 651l3-28-7 12-2 13z"/><path fill="#4852f4" d="M367 645l26 3-6-2-27-11zM457 637l26 12-6-3-27-1zM547 641l26 8-6-3-27-2z"/><path fill="#4757f7" d="M637 633l26 15-6-4-27-16z"/><path fill="url(#s0_g4)" d="M727 620l26 29-6-5-27-14z"/><path fill="url(#s0_g16)" d="M816 646l27 2-7-3-26-20z"/><path fill="url(#s0_g34)" d="M415 616l29 15-7-31-28-36z"/><path fill="url(#s0_g3)" d="M505 590l29 26-7 2-28-18z"/><path fill="url(#s0_g7)" d="M595 611l29 16-7 6-28-8z"/><path fill="url(#s0_g38)" d="M685 638l28 1-6-26-29-31z"/><path fill="url(#s0_g12)" d="M775 573l28 35-6 19-29-12z"/><path fill="url(#s0_g47)" d="M865 611l28 17-6-15-29-25z"/><path fill="#475dfa" d="M351 647l9-12-6-4-10 13z"/><path fill="url(#s0_g36)" d="M406 654l3-90-7 29-2 59z"/><path fill="url(#s0_g27)" d="M496 654l3-54-7 18-2 33z"/><path fill="url(#s0_g42)" d="M586 656l3-31-7-39-2 65z"/><path fill="url(#s0_g21)" d="M676 655l2-73-6 16-2 54z"/><path fill="url(#s0_g5)" d="M766 654l2-39-6 6-2 30z"/><path fill="url(#s0_g42)" d="M856 655l2-67-6 35-3 28z"/><path fill="#4757f7" d="M373 638l27 14-7-4-26-3zM463 636l27 15-7-2-26-12zM643 640l27 12-7-4-26-15z"/><path fill="#4852f4" d="M553 643l27 8-7-2-26-8zM823 650l26 1-6-3-27-2z"/><path fill="url(#s0_g5)" d="M733 647l27 4-7-2-26-29z"/><path fill="url(#s0_g62)" d="M422 645l28 0-6-14-29-15z"/><path fill="url(#s0_g47)" d="M512 644l28 0-6-28-29-26z"/><path fill="#3f6eff" d="M602 616l28 12-6-1-29-16z"/><path fill="url(#s0_g7)" d="M692 616l28 14-7 9-28-1z"/><path fill="url(#s0_g6)" d="M781 613l29 12-7-17-28-35z"/><path fill="#4757f7" d="M357 654l10-9-7-10-9 12zM380 641l26 13-6-2-27-14zM470 646l26 8-6-3-27-15zM650 641l26 14-6-3-27-12z"/><path fill="url(#s0_g23)" d="M413 659l2-43-6-52-3 90z"/><path fill="url(#s0_g2)" d="M503 657l2-67-6 10-3 54z"/><path fill="url(#s0_g11)" d="M593 657l2-46-6 14-3 31z"/><path fill="url(#s0_g18)" d="M683 657l2-19-7-56-2 73z"/><path fill="url(#s0_g8)" d="M773 657l2-84-7 42-2 39z"/><path fill="url(#s0_g2)" d="M863 655l2-44-7-23-2 67z"/><path fill="#4852f4" d="M560 652l26 4-6-5-27-8zM830 639l26 16-7-4-26-1z"/><path fill="url(#s0_g5)" d="M740 622l26 32-6-3-27-4z"/><path fill="url(#s0_g46)" d="M428 623l29 14-7 8-28 0z"/><path fill="#475dfa" d="M518 636l29 5-7 3-28 0z"/><path fill="url(#s0_g30)" d="M608 614l29 19-7-5-28-12z"/><path fill="url(#s0_g1)" d="M698 596l29 24-7 10-28-14z"/><path fill="url(#s0_g7)" d="M788 637l28 9-6-21-29-12z"/><path fill="#4757f7" d="M364 651l9-13-6 7-10 9zM386 647l27 12-7-5-26-13zM656 647l27 10-7-2-26-14zM836 642l27 13-7 0-26-16z"/><path fill="url(#s0_g5)" d="M419 661l3-16-7-29-2 43z"/><path fill="url(#s0_g2)" d="M509 661l3-17-7-54-2 67z"/><path fill="url(#s0_g10)" d="M599 662l3-46-7-5-2 46z"/><path fill="url(#s0_g10)" d="M689 662l3-46-7 22-2 19z"/><path fill="url(#s0_g8)" d="M779 660l2-47-6-40-2 84z"/><path fill="#4852f4" d="M476 656l27 1-7-3-26-8zM566 644l27 13-7-1-26-4z"/><path fill="url(#s0_g5)" d="M746 636l27 21-7-3-26-32z"/><path fill="url(#s0_g20)" d="M435 612l28 24-6 1-29-14z"/><path fill="#4562fc" d="M525 638l28 5-6-2-29-5z"/><path fill="url(#s0_g20)" d="M615 629l28 11-6-7-29-19z"/><path fill="url(#s0_g45)" d="M705 645l28 2-6-27-29-24z"/><path fill="#475dfa" d="M795 647l28 3-7-4-28-9zM370 653l10-12-7-3-9 13z"/><path fill="url(#s0_g4)" d="M426 666l2-43-6 22-3 16z"/><path fill="url(#s0_g16)" d="M516 665l2-29-6 8-3 17z"/><path fill="url(#s0_g24)" d="M606 665l2-51-6 2-3 46z"/><path fill="url(#s0_g2)" d="M696 663l2-67-6 20-3 46z"/><path fill="url(#s0_g11)" d="M786 663l2-26-7-24-2 47z"/><path fill="#4852f4" d="M393 663l26-2-6-2-27-12zM483 650l26 11-6-4-27-1zM663 657l26 5-6-5-27-10z"/><path fill="#4757f7" d="M573 645l26 17-6-5-27-13z"/><path fill="url(#s0_g9)" d="M753 656l26 4-6-3-27-21z"/><path fill="url(#s0_g20)" d="M441 635l29 11-7-10-28-24z"/><path fill="#4562fc" d="M531 643l29 9-7-9-28-5zM801 637l29 2-7 11-28-3zM448 649l28 7-6-10-29-11z"/><path fill="#3f6eff" d="M621 627l29 14-7-1-28-11z"/><path fill="url(#s0_g53)" d="M711 590l29 32-7 25-28-2z"/><path fill="#475dfa" d="M377 659l9-12-6-6-10 12z"/><path fill="url(#s0_g27)" d="M432 666l3-54-7 11-2 43z"/><path fill="url(#s0_g13)" d="M522 668l3-30-7-2-2 29z"/><path fill="url(#s0_g27)" d="M612 668l3-39-7-15-2 51z"/><path fill="url(#s0_g2)" d="M702 666l3-21-7-49-2 67z"/><path fill="#4757f7" d="M792 668l3-21-7-10-2 26z"/><path fill="#4852f4" d="M399 664l27 2-7-5-26 2zM489 659l27 6-7-4-26-11zM669 656l27 7-7-1-26-5zM759 660l27 3-7-3-26-4z"/><path fill="url(#s0_g10)" d="M579 624l27 41-7-3-26-17z"/><path fill="url(#s0_g46)" d="M538 633l28 11-6 8-29-9z"/><path fill="#4368fe" d="M628 638l28 9-6-6-29-14zM808 634l28 8-6-3-29-2z"/><path fill="url(#s0_g51)" d="M718 615l28 21-6-14-29-32z"/><path fill="#4757f7" d="M383 670l10-7-7-16-9 12zM676 651l26 15-6-3-27-7z"/><path fill="url(#s0_g27)" d="M439 671l2-36-6-23-3 54z"/><path fill="url(#s0_g0)" d="M529 671l2-28-6-5-3 30z"/><path fill="url(#s0_g11)" d="M619 669l2-42-6 2-3 39z"/><path fill="url(#s0_g8)" d="M709 671l2-81-6 55-3 21z"/><path fill="url(#s0_g0)" d="M799 670l2-33-6 10-3 21z"/><path fill="url(#s0_g9)" d="M406 644l26 22-6 0-27-2z"/><path fill="#4852f4" d="M496 660l26 8-6-3-27-6zM766 663l26 5-6-5-27-3z"/><path fill="url(#s0_g11)" d="M586 646l26 22-6-3-27-41z"/><path fill="url(#s0_g7)" d="M454 634l29 16-7 6-28-7z"/><path fill="url(#s0_g30)" d="M544 626l29 19-7-1-28-11z"/><path fill="#4562fc" d="M634 653l29 4-7-10-28-9zM641 650l28 6-6 1-29-4z"/><path fill="url(#s0_g41)" d="M724 650l29 6-7-20-28-21z"/><path fill="#4852f4" d="M390 676l9-12-6-1-10 7zM502 663l27 8-7-3-26-8z"/><path fill="url(#s0_g4)" d="M445 675l3-26-7-14-2 36z"/><path fill="url(#s0_g5)" d="M535 674l3-41-7 10-2 28z"/><path fill="url(#s0_g10)" d="M625 675l3-37-7-11-2 42z"/><path fill="url(#s0_g15)" d="M715 674l3-59-7-25-2 81z"/><path fill="url(#s0_g5)" d="M805 672l3-38-7 3-2 33z"/><path fill="url(#s0_g9)" d="M412 649l27 22-7-5-26-22z"/><path fill="url(#s0_g9)" d="M592 664l27 5-7-1-26-22z"/><path fill="#4757f7" d="M682 667l27 4-7-5-26-15zM772 655l27 15-7-2-26-5z"/><path fill="url(#s0_g7)" d="M461 650l28 9-6-9-29-16z"/><path fill="url(#s0_g31)" d="M551 589l28 35-6 21-29-19z"/><path fill="#475dfa" d="M731 655l28 5-6-4-29-6zM737 659l29 4-7-3-28-5z"/><path fill="url(#s0_g0)" d="M396 663l10-19-7 20-9 12z"/><path fill="url(#s0_g10)" d="M452 678l2-44-6 15-3 26z"/><path fill="url(#s0_g24)" d="M542 678l2-52-6 7-3 41z"/><path fill="url(#s0_g0)" d="M632 678l2-25-6-15-3 37z"/><path fill="url(#s0_g37)" d="M722 677l2-27-6-35-3 59z"/><path fill="url(#s0_g0)" d="M419 669l26 6-6-4-27-22z"/><path fill="#4852f4" d="M509 672l26 2-6-3-27-8z"/><path fill="url(#s0_g4)" d="M599 644l26 31-6-6-27-5z"/><path fill="url(#s0_g0)" d="M689 646l26 28-6-3-27-4z"/><path fill="#4757f7" d="M779 655l26 17-6-2-27-15z"/><path fill="#4562fc" d="M467 654l29 6-7-1-28-9zM403 665l9-16-6-5-10 19z"/><path fill="url(#s0_g19)" d="M557 638l29 8-7-22-28-35z"/><path fill="url(#s0_g25)" d="M647 634l29 17-7 5-28-6z"/><path fill="url(#s0_g11)" d="M458 681l3-31-7-16-2 44z"/><path fill="url(#s0_g23)" d="M548 681l3-92-7 37-2 52z"/><path fill="url(#s0_g0)" d="M638 681l3-31-7 3-2 25z"/><path fill="#4757f7" d="M728 679l3-24-7-5-2 27z"/><path fill="#4852f4" d="M425 666l27 12-7-3-26-6z"/><path fill="url(#s0_g4)" d="M515 644l27 34-7-4-26-2z"/><path fill="url(#s0_g4)" d="M605 671l27 7-7-3-26-31z"/><path fill="url(#s0_g9)" d="M695 669l27 8-7-3-26-28z"/><path fill="#4562fc" d="M474 653l28 10-6-3-29-6z"/><path fill="url(#s0_g25)" d="M564 654l28 10-6-18-29-8z"/><path fill="url(#s0_g7)" d="M654 664l28 3-6-16-29-17z"/><path fill="url(#s0_g33)" d="M744 635l28 20-6 8-29-4z"/><path fill="#475dfa" d="M410 678l9-9-7-20-9 16z"/><path fill="url(#s0_g9)" d="M465 683l2-29-6-4-3 31z"/><path fill="url(#s0_g23)" d="M555 684l2-46-6-49-3 92z"/><path fill="url(#s0_g10)" d="M645 684l2-50-6 16-3 31z"/><path fill="#4757f7" d="M735 683l2-24-6-4-3 24zM416 678l9-12-6 3-9 9z"/><path fill="url(#s0_g9)" d="M432 660l26 21-6-3-27-12z"/><path fill="url(#s0_g4)" d="M522 653l26 28-6-3-27-34z"/><path fill="#4852f4" d="M612 676l26 5-6-3-27-7z"/><path fill="url(#s0_g5)" d="M702 649l26 30-6-2-27-8z"/><path fill="#4562fc" d="M480 666l29 6-7-9-28-10z"/><path fill="url(#s0_g67)" d="M570 617l29 27-7 20-28-10z"/><path fill="url(#s0_g38)" d="M660 612l29 34-7 21-28-3z"/><path fill="url(#s0_g30)" d="M750 645l29 10-7 0-28-20z"/><path fill="url(#s0_g0)" d="M472 688l2-35-7 1-2 29z"/><path fill="url(#s0_g11)" d="M561 687l3-33-7-16-2 46z"/><path fill="url(#s0_g10)" d="M651 687l3-23-7-30-2 50z"/><path fill="url(#s0_g24)" d="M741 687l3-52-7 24-2 24z"/><path fill="url(#s0_g9)" d="M439 668l26 15-7-2-26-21z"/><path fill="url(#s0_g0)" d="M528 678l27 6-7-3-26-28z"/><path fill="url(#s0_g0)" d="M618 660l27 24-7-3-26-5z"/><path fill="url(#s0_g5)" d="M708 660l27 23-7-4-26-30z"/><path fill="url(#s0_g66)" d="M487 606l28 38-6 28-29-6z"/><path fill="url(#s0_g38)" d="M577 665l28 6-6-27-29-27z"/><path fill="url(#s0_g67)" d="M667 659l28 10-6-23-29-34z"/><path fill="#475dfa" d="M423 675l9-15-7 6-9 12z"/><path fill="url(#s0_g0)" d="M478 691l2-25-6-13-2 35z"/><path fill="url(#s0_g18)" d="M568 689l2-72-6 37-3 33z"/><path fill="url(#s0_g21)" d="M658 691l2-79-6 52-3 23z"/><path fill="url(#s0_g24)" d="M748 690l2-45-6-10-3 52z"/><path fill="url(#s0_g16)" d="M445 669l27 19-7-5-26-15z"/><path fill="#4852f4" d="M535 685l26 2-6-3-27-6z"/><path fill="url(#s0_g0)" d="M625 675l26 12-6-3-27-24z"/><path fill="url(#s0_g0)" d="M715 680l26 7-6-4-27-23z"/><path fill="url(#s0_g19)" d="M493 623l29 30-7-9-28-38z"/><path fill="#4562fc" d="M583 671l29 5-7-5-28-6z"/><path fill="url(#s0_g67)" d="M673 618l29 31-7 20-28-10z"/><path fill="#4562fc" d="M429 682l10-14-7-8-9 15z"/><path fill="url(#s0_g36)" d="M485 694l2-88-7 60-2 25z"/><path fill="url(#s0_g21)" d="M575 694l2-29-7-48-2 72z"/><path fill="url(#s0_g18)" d="M664 692l3-33-7-47-2 79z"/><path fill="url(#s0_g4)" d="M452 658l26 33-6-3-27-19z"/><path fill="url(#s0_g9)" d="M541 667l27 22-7-2-26-2z"/><path fill="#4852f4" d="M631 688l27 3-7-4-26-12z"/><path fill="#4757f7" d="M721 676l27 14-7-3-26-7z"/><path fill="url(#s0_g38)" d="M500 675l28 3-6-25-29-30z"/><path fill="url(#s0_g45)" d="M590 635l28 25-6 16-29-5z"/><path fill="url(#s0_g17)" d="M680 641l28 19-6-11-29-31z"/><path fill="#475dfa" d="M436 684l9-15-6-1-10 14z"/><path fill="url(#s0_g36)" d="M491 696l2-73-6-17-2 88z"/><path fill="url(#s0_g16)" d="M581 697l2-26-6-6-2 29z"/><path fill="url(#s0_g21)" d="M671 697l2-79-6 41-3 33z"/><path fill="url(#s0_g5)" d="M458 687l27 7-7-3-26-33z"/><path fill="url(#s0_g4)" d="M548 665l27 29-7-5-27-22z"/><path fill="#4852f4" d="M638 682l26 10-6-1-27-3z"/><path fill="#475dfa" d="M506 681l29 4-7-7-28-3z"/><path fill="url(#s0_g47)" d="M596 657l29 18-7-15-28-25z"/><path fill="url(#s0_g41)" d="M686 669l29 11-7-20-28-19z"/><path fill="#4368fe" d="M442 678l10-20-7 11-9 15z"/><path fill="url(#s0_g21)" d="M498 700l2-25-7-52-2 73z"/><path fill="url(#s0_g42)" d="M588 700l2-65-7 36-2 26z"/><path fill="url(#s0_g18)" d="M677 699l3-58-7-23-2 79z"/><path fill="url(#s0_g13)" d="M465 677l26 19-6-2-27-7z"/><path fill="url(#s0_g4)" d="M555 682l26 15-6-3-27-29z"/><path fill="url(#s0_g24)" d="M644 650l27 47-7-5-26-10z"/><path fill="url(#s0_g41)" d="M513 643l28 24-6 18-29-4z"/><path fill="url(#s0_g7)" d="M603 685l28 3-6-13-29-18z"/><path fill="url(#s0_g7)" d="M693 656l28 20-6 4-29-11z"/><path fill="url(#s0_g46)" d="M449 697l9-10-6-29-10 20z"/><path fill="#4757f7" d="M504 702l2-21-6-6-2 25zM561 694l27 6-7-3-26-15zM478 694l26 8-6-2-27-15z"/><path fill="url(#s0_g42)" d="M594 703l2-46-6-22-2 65z"/><path fill="url(#s0_g37)" d="M684 703l2-34-6-28-3 58z"/><path fill="url(#s0_g16)" d="M471 685l27 15-7-4-26-19z"/><path fill="url(#s0_g27)" d="M651 690l26 9-6-2-27-47z"/><path fill="url(#s0_g17)" d="M520 638l28 27-7 2-28-24z"/><path fill="#4562fc" d="M609 674l29 8-7 6-28-3z"/><path fill="#475dfa" d="M455 693l10-16-7 10-9 10z"/><path fill="url(#s0_g37)" d="M511 706l2-63-7 38-2 21z"/><path fill="url(#s0_g10)" d="M601 706l2-21-7-28-2 46z"/><path fill="url(#s0_g10)" d="M691 707l2-51-7 13-2 34z"/><path fill="#4852f4" d="M568 691l26 12-6-3-27-6zM658 697l26 6-7-4-26-9z"/><path fill="url(#s0_g14)" d="M526 669l29 13-7-17-28-27z"/><path fill="url(#s0_g61)" d="M616 605l28 45-6 32-29-8z"/><path fill="#475dfa" d="M462 698l9-13-6-8-10 16zM468 704l10-10-7-9-9 13z"/><path fill="url(#s0_g18)" d="M517 709l3-71-7 5-2 63z"/><path fill="url(#s0_g0)" d="M607 710l2-36-6 11-2 21z"/><path fill="url(#s0_g11)" d="M484 669l27 37-7-4-26-8z"/><path fill="url(#s0_g16)" d="M574 687l27 19-7-3-26-12z"/><path fill="url(#s0_g16)" d="M664 687l27 20-7-4-26-6z"/><path fill="url(#s0_g7)" d="M533 689l28 5-6-12-29-13z"/><path fill="url(#s0_g61)" d="M623 688l28 2-7-40-28-45z"/><path fill="url(#s0_g21)" d="M524 713l2-44-6-31-3 71z"/><path fill="url(#s0_g64)" d="M614 712l2-107-7 69-2 36z"/><path fill="url(#s0_g11)" d="M491 677l26 32-6-3-27-37z"/><path fill="url(#s0_g16)" d="M581 691l26 19-6-4-27-19z"/><path fill="url(#s0_g46)" d="M539 679l29 12-7 3-28-5z"/><path fill="#4562fc" d="M629 691l29 6-7-7-28-2z"/><path fill="url(#s0_g7)" d="M475 691l9-22-6 25-10 10z"/><path fill="url(#s0_g10)" d="M530 716l3-27-7-20-2 44z"/><path fill="url(#s0_g63)" d="M620 717l3-29-7-83-2 107z"/><path fill="url(#s0_g4)" d="M497 700l27 13-7-4-26-32z"/><path fill="#4757f7" d="M587 707l27 5-7-2-26-19z"/><path fill="url(#s0_g20)" d="M546 667l28 20-6 4-29-12z"/><path fill="url(#s0_g33)" d="M636 670l28 17-6 10-29-6z"/><path fill="#3f6eff" d="M481 698l10-21-7-8-9 22z"/><path fill="url(#s0_g4)" d="M537 720l2-41-6 10-3 27z"/><path fill="url(#s0_g13)" d="M627 718l2-27-6-3-3 29z"/><path fill="url(#s0_g0)" d="M504 692l26 24-6-3-27-13z"/><path fill="#4852f4" d="M594 711l26 6-6-5-27-5z"/><path fill="url(#s0_g30)" d="M552 676l29 15-7-4-28-20z"/><path fill="url(#s0_g46)" d="M488 712l9-12-6-23-10 21z"/><path fill="url(#s0_g24)" d="M543 723l3-56-7 12-2 41z"/><path fill="url(#s0_g27)" d="M633 722l3-52-7 21-2 27z"/><path fill="url(#s0_g0)" d="M510 711l27 9-7-4-26-24z"/><path fill="url(#s0_g5)" d="M600 689l27 29-7-1-26-6z"/><path fill="url(#s0_g7)" d="M559 700l28 7-6-16-29-15z"/><path fill="#4562fc" d="M494 711l10-19-7 8-9 12zM565 700l29 11-7-4-28-7z"/><path fill="url(#s0_g27)" d="M550 724l2-48-6-9-3 56z"/><path fill="#4852f4" d="M517 718l26 5-6-3-27-9z"/><path fill="url(#s0_g5)" d="M607 710l26 12-6-4-27-29z"/><path fill="#475dfa" d="M501 723l9-12-6-19-10 19z"/><path fill="url(#s0_g11)" d="M556 728l3-28-7-24-2 48z"/><path fill="url(#s0_g9)" d="M523 701l27 23-7-1-26-5z"/><path fill="url(#s0_g38)" d="M572 663l28 26-6 22-29-11z"/><path fill="#4757f7" d="M507 729l10-11-7-7-9 12z"/><path fill="url(#s0_g9)" d="M563 732l2-32-6 0-3 28z"/><path fill="url(#s0_g9)" d="M530 715l26 13-6-4-27-23z"/><path fill="url(#s0_g67)" d="M578 695l29 15-7-21-28-26z"/><path fill="url(#s0_g9)" d="M514 720l9-19-6 17-10 11z"/><path fill="url(#s0_g18)" d="M569 735l3-72-7 37-2 32z"/><path fill="url(#s0_g5)" d="M536 702l27 30-7-4-26-13z"/><path fill="#4562fc" d="M520 729l10-14-7-14-9 19z"/><path fill="url(#s0_g21)" d="M576 738l2-43-6-32-3 72z"/><path fill="url(#s0_g5)" d="M543 727l26 8-6-3-27-30z"/><path fill="url(#s0_g46)" d="M527 719l9-17-6 13-10 14z"/><path fill="#4757f7" d="M549 727l27 11-7-3-26-8zM540 739l9-12-6 0-10 12z"/><path fill="url(#s0_g5)" d="M533 739l10-12-7-25-9 17z"/><path fill="#9d99e9" fill-opacity="1" d="M983 629l12-3-3-36-12-5zM980 630l3-1-3-44-3 39zM954 638l26-8-3-6-26-13zM925 646l29-8-3-27-29-13zM923 646l2 0-3-48-2 43zM897 654l26-8-3-5-27-13zM868 662l29-8-4-26-28-17zM866 662l2 0-3-51-2 44zM839 670l27-8-3-7-27-13zM811 678l28-8-3-28-28-8zM808 679l3-1-3-44-3 38zM782 686l26-7-3-7-26-17zM753 694l29-8-3-31-29-10zM751 695l2-1-3-49-2 45zM725 702l26-7-3-5-27-14zM696 710l29-8-4-26-28-20zM694 711l2-1-3-54-2 51zM667 719l27-8-3-4-27-20zM639 727l28-8-3-32-28-17zM636 727l3 0-3-57-3 52zM610 735l26-8-3-5-26-12zM581 743l29-8-3-25-29-15zM579 743l2 0-3-48-2 43zM553 751l26-8-3-5-27-11zM543 754l10-3-4-24-9 12z"/></g><line x1="49.4" y1="146.3" x2="49.4" y2="57.2" stroke="#4d4d4d" stroke-width="0.6"/><line x1="135.8" y1="188.4" x2="248.7" y2="156.5" stroke="#4d4d4d" stroke-width="0.6"/><line x1="135.8" y1="188.4" x2="49.4" y2="146.3" stroke="#4d4d4d" stroke-width="0.6"/><line x1="49.4" y1="146.3" x2="47.4" y2="145.3" stroke="#4d4d4d" stroke-width="0.6"/><text x="43.8" y="147.5" text-anchor="end" class="t">0</text><line x1="49.4" y1="124" x2="47.4" y2="123" stroke="#4d4d4d" stroke-width="0.6"/><text x="43.8" y="125.2" text-anchor="end" class="t">100</text><line x1="49.4" y1="101.8" x2="47.4" y2="100.8" stroke="#4d4d4d" stroke-width="0.6"/><text x="43.8" y="102.9" text-anchor="end" class="t">200</text><line x1="49.4" y1="79.5" x2="47.4" y2="78.5" stroke="#4d4d4d" stroke-width="0.6"/><text x="43.8" y="80.6" text-anchor="end" class="t">300</text><line x1="49.4" y1="57.2" x2="47.4" y2="56.2" stroke="#4d4d4d" stroke-width="0.6"/><text x="43.8" y="58.4" text-anchor="end" class="t">400</text><line x1="109.2" y1="175.4" x2="108.7" y2="177.4" stroke="#4d4d4d" stroke-width="0.6"/><line x1="82" y1="162.2" x2="81.5" y2="164.2" stroke="#4d4d4d" stroke-width="0.6"/><line x1="54.8" y1="148.9" x2="54.3" y2="150.9" stroke="#4d4d4d" stroke-width="0.6"/><text x="99.8" y="185.6" text-anchor="middle" class="t">50</text><text x="70.5" y="172.7" text-anchor="middle" class="t">100</text><text x="43.5" y="159.7" text-anchor="middle" class="t">150</text><line x1="155.4" y1="182.9" x2="156" y2="184.9" stroke="#4d4d4d" stroke-width="0.6"/><line x1="180" y1="175.9" x2="180.6" y2="177.9" stroke="#4d4d4d" stroke-width="0.6"/><line x1="204.5" y1="169" x2="205.1" y2="171" stroke="#4d4d4d" stroke-width="0.6"/><line x1="229.1" y1="162" x2="229.7" y2="164" stroke="#4d4d4d" stroke-width="0.6"/><text x="163" y="193.8" text-anchor="middle" class="t">5</text><text x="189.8" y="186.5" text-anchor="middle" class="t">10</text><text x="214.2" y="180.2" text-anchor="middle" class="t">15</text><text x="238.2" y="173.1" text-anchor="middle" class="t">20</text><text transform="translate(62.3 176.9) rotate(27)" text-anchor="middle" class="t" y="2.6">Day</text><text transform="translate(203.8 189) rotate(-18)" text-anchor="middle" class="t" y="2.6">Hour</text><text transform="translate(23.1 101.5) rotate(-90)" text-anchor="middle" class="t" style="font-size:8px" y="2.86">PM<tspan font-size="5.6" dy="1.9">2.5</tspan><tspan dy="-1.9"> (</tspan>&#956;g/m<tspan font-size="5.6" dy="-3">3</tspan><tspan dy="3">)</tspan></text><linearGradient id="cb0" x1="0" y1="0" x2="0" y2="1"><stop offset="0%" stop-color="#f9fb15"/><stop offset="6.2%" stop-color="#f5e327"/><stop offset="12.5%" stop-color="#feca33"/><stop offset="18.8%" stop-color="#f1ba37"/><stop offset="25%" stop-color="#c8c129"/><stop offset="31.2%" stop-color="#94ca4a"/><stop offset="37.5%" stop-color="#5ccc76"/><stop offset="43.8%" stop-color="#34c79c"/><stop offset="50%" stop-color="#12beb9"/><stop offset="56.2%" stop-color="#0cb3d3"/><stop offset="62.5%" stop-color="#21a3e3"/><stop offset="68.8%" stop-color="#2c90f0"/><stop offset="75%" stop-color="#347afd"/><stop offset="81.2%" stop-color="#4562fc"/><stop offset="87.5%" stop-color="#484cef"/><stop offset="93.8%" stop-color="#4536d5"/><stop offset="100%" stop-color="#3e26a8"/></linearGradient><rect x="253.6" y="25.4" width="5" height="163.2" fill="url(#cb0)"/><line x1="257.4" y1="188.6" x2="258.6" y2="188.6" stroke="#262626" stroke-width="0.5"/><text x="261.5" y="191" class="c">0</text><line x1="257.4" y1="167.9" x2="258.6" y2="167.9" stroke="#262626" stroke-width="0.5"/><text x="261.5" y="170.3" class="c">50</text><line x1="257.4" y1="147.2" x2="258.6" y2="147.2" stroke="#262626" stroke-width="0.5"/><text x="261.5" y="149.6" class="c">100</text><line x1="257.4" y1="126.5" x2="258.6" y2="126.5" stroke="#262626" stroke-width="0.5"/><text x="261.5" y="128.9" class="c">150</text><line x1="257.4" y1="105.8" x2="258.6" y2="105.8" stroke="#262626" stroke-width="0.5"/><text x="261.5" y="108.2" class="c">200</text><line x1="257.4" y1="85" x2="258.6" y2="85" stroke="#262626" stroke-width="0.5"/><text x="261.5" y="87.4" class="c">250</text><line x1="257.4" y1="64.3" x2="258.6" y2="64.3" stroke="#262626" stroke-width="0.5"/><text x="261.5" y="66.7" class="c">300</text><line x1="257.4" y1="43.6" x2="258.6" y2="43.6" stroke="#262626" stroke-width="0.5"/><text x="261.5" y="46" class="c">350</text><text x="256.4" y="22.2" class="c" style="font-size:7.6px" text-anchor="middle">&#956;g/m<tspan font-size="5.2" dy="-2.9">3</tspan></text><text x="15" y="23.5" class="ti" textLength="56" lengthAdjust="spacingAndGlyphs">(a) Ground truth</text><line x1="315.7" y1="124" x2="428.6" y2="92.1" stroke="#e3e3e3" stroke-width="0.6"/><line x1="428.6" y1="92.1" x2="515" y2="134.2" stroke="#e3e3e3" stroke-width="0.6"/><line x1="315.7" y1="101.8" x2="428.6" y2="69.9" stroke="#e3e3e3" stroke-width="0.6"/><line x1="428.6" y1="69.9" x2="515" y2="112" stroke="#e3e3e3" stroke-width="0.6"/><line x1="315.7" y1="79.5" x2="428.6" y2="47.6" stroke="#e3e3e3" stroke-width="0.6"/><line x1="428.6" y1="47.6" x2="515" y2="89.7" stroke="#e3e3e3" stroke-width="0.6"/><line x1="315.7" y1="57.2" x2="428.6" y2="25.3" stroke="#e3e3e3" stroke-width="0.6"/><line x1="428.6" y1="25.3" x2="515" y2="67.4" stroke="#e3e3e3" stroke-width="0.6"/><line x1="335.3" y1="140.8" x2="335.3" y2="51.7" stroke="#e3e3e3" stroke-width="0.6"/><line x1="421.7" y1="182.9" x2="335.3" y2="140.8" stroke="#e3e3e3" stroke-width="0.6"/><line x1="359.9" y1="133.8" x2="359.9" y2="44.7" stroke="#e3e3e3" stroke-width="0.6"/><line x1="446.3" y1="175.9" x2="359.9" y2="133.8" stroke="#e3e3e3" stroke-width="0.6"/><line x1="384.4" y1="126.9" x2="384.4" y2="37.8" stroke="#e3e3e3" stroke-width="0.6"/><line x1="470.8" y1="169" x2="384.4" y2="126.9" stroke="#e3e3e3" stroke-width="0.6"/><line x1="409" y1="119.9" x2="409" y2="30.8" stroke="#e3e3e3" stroke-width="0.6"/><line x1="495.4" y1="162" x2="409" y2="119.9" stroke="#e3e3e3" stroke-width="0.6"/><line x1="488.4" y1="143.5" x2="488.4" y2="54.4" stroke="#e3e3e3" stroke-width="0.6"/><line x1="375.5" y1="175.4" x2="488.4" y2="143.5" stroke="#e3e3e3" stroke-width="0.6"/><line x1="461.2" y1="130.3" x2="461.2" y2="41.2" stroke="#e3e3e3" stroke-width="0.6"/><line x1="348.3" y1="162.2" x2="461.2" y2="130.3" stroke="#e3e3e3" stroke-width="0.6"/><line x1="434" y1="117" x2="434" y2="27.9" stroke="#e3e3e3" stroke-width="0.6"/><line x1="321.1" y1="148.9" x2="434" y2="117" stroke="#e3e3e3" stroke-width="0.6"/><line x1="428.6" y1="114.4" x2="428.6" y2="25.3" stroke="#e3e3e3" stroke-width="0.6"/><line x1="315.7" y1="146.3" x2="428.6" y2="114.4" stroke="#e3e3e3" stroke-width="0.6"/><line x1="428.6" y1="114.4" x2="515" y2="156.5" stroke="#e3e3e3" stroke-width="0.6"/><defs><linearGradient id="s1_g0" x2="0" y2="1"><stop offset="0" stop-color="#4853f5"/><stop offset="0.5" stop-color="#4741e5"/><stop offset="1" stop-color="#4332c9"/></linearGradient><linearGradient id="s1_g1" x2="0" y2="1"><stop offset="0" stop-color="#4369fe"/><stop offset="0.5" stop-color="#475af9"/><stop offset="1" stop-color="#484cef"/></linearGradient><linearGradient id="s1_g2" x2="0" y2="1"><stop offset="0" stop-color="#4561fc"/><stop offset="0.5" stop-color="#4848ec"/><stop offset="1" stop-color="#4332c9"/></linearGradient><linearGradient id="s1_g3" x2="0" y2="1"><stop offset="0" stop-color="#4369fe"/><stop offset="0.5" stop-color="#4757f7"/><stop offset="1" stop-color="#4745e9"/></linearGradient><linearGradient id="s1_g4" x2="0" y2="1"><stop offset="0" stop-color="#4369fe"/><stop offset="0.5" stop-color="#484cef"/><stop offset="1" stop-color="#4332c9"/></linearGradient><linearGradient id="s1_g5" x2="0" y2="1"><stop offset="0" stop-color="#475af9"/><stop offset="0.5" stop-color="#4745e9"/><stop offset="1" stop-color="#4332c9"/></linearGradient><linearGradient id="s1_g6" x2="0" y2="1"><stop offset="0" stop-color="#4369fe"/><stop offset="0.5" stop-color="#4850f2"/><stop offset="1" stop-color="#4537d6"/></linearGradient><linearGradient id="s1_g7" x2="0" y2="1"><stop offset="0" stop-color="#3678fd"/><stop offset="0.5" stop-color="#465efb"/><stop offset="1" stop-color="#4745e9"/></linearGradient><linearGradient id="s1_g8" x2="0" y2="1"><stop offset="0" stop-color="#4561fc"/><stop offset="0.5" stop-color="#4850f2"/><stop offset="1" stop-color="#463ee1"/></linearGradient><linearGradient id="s1_g9" x2="0" y2="1"><stop offset="0" stop-color="#3678fd"/><stop offset="0.5" stop-color="#475af9"/><stop offset="1" stop-color="#463ee1"/></linearGradient><linearGradient id="s1_g10" x2="0" y2="1"><stop offset="0" stop-color="#3678fd"/><stop offset="0.5" stop-color="#4853f5"/><stop offset="1" stop-color="#4332c9"/></linearGradient><linearGradient id="s1_g11" x2="0" y2="1"><stop offset="0" stop-color="#3678fd"/><stop offset="0.5" stop-color="#4757f7"/><stop offset="1" stop-color="#4537d6"/></linearGradient><linearGradient id="s1_g12" x2="0" y2="1"><stop offset="0" stop-color="#484cef"/><stop offset="0.5" stop-color="#463ee1"/><stop offset="1" stop-color="#4332c9"/></linearGradient><linearGradient id="s1_g13" x2="0" y2="1"><stop offset="0" stop-color="#3d70ff"/><stop offset="0.5" stop-color="#4757f7"/><stop offset="1" stop-color="#463ee1"/></linearGradient><linearGradient id="s1_g14" x2="0" y2="1"><stop offset="0" stop-color="#484cef"/><stop offset="0.5" stop-color="#4741e5"/><stop offset="1" stop-color="#4537d6"/></linearGradient><linearGradient id="s1_g15" x2="0" y2="1"><stop offset="0" stop-color="#3d70ff"/><stop offset="0.5" stop-color="#475af9"/><stop offset="1" stop-color="#4745e9"/></linearGradient><linearGradient id="s1_g16" x2="0" y2="1"><stop offset="0" stop-color="#4561fc"/><stop offset="0.5" stop-color="#4853f5"/><stop offset="1" stop-color="#4745e9"/></linearGradient><linearGradient id="s1_g17" x2="0" y2="1"><stop offset="0" stop-color="#3d70ff"/><stop offset="0.5" stop-color="#4850f2"/><stop offset="1" stop-color="#4332c9"/></linearGradient><linearGradient id="s1_g18" x2="0" y2="1"><stop offset="0" stop-color="#475af9"/><stop offset="0.5" stop-color="#4848ec"/><stop offset="1" stop-color="#4537d6"/></linearGradient><linearGradient id="s1_g19" x2="0" y2="1"><stop offset="0" stop-color="#4561fc"/><stop offset="0.5" stop-color="#4757f7"/><stop offset="1" stop-color="#484cef"/></linearGradient><linearGradient id="s1_g20" x2="0" y2="1"><stop offset="0" stop-color="#475af9"/><stop offset="0.5" stop-color="#484cef"/><stop offset="1" stop-color="#463ee1"/></linearGradient><linearGradient id="s1_g21" x2="0" y2="1"><stop offset="0" stop-color="#4853f5"/><stop offset="0.5" stop-color="#4745e9"/><stop offset="1" stop-color="#4537d6"/></linearGradient><linearGradient id="s1_g22" x2="0" y2="1"><stop offset="0" stop-color="#4561fc"/><stop offset="0.5" stop-color="#484cef"/><stop offset="1" stop-color="#4537d6"/></linearGradient><linearGradient id="s1_g23" x2="0" y2="1"><stop offset="0" stop-color="#4369fe"/><stop offset="0.5" stop-color="#4853f5"/><stop offset="1" stop-color="#463ee1"/></linearGradient><linearGradient id="s1_g24" x2="0" y2="1"><stop offset="0" stop-color="#3678fd"/><stop offset="0.5" stop-color="#4561fc"/><stop offset="1" stop-color="#484cef"/></linearGradient><linearGradient id="s1_g25" x2="0" y2="1"><stop offset="0" stop-color="#3d70ff"/><stop offset="0.5" stop-color="#4853f5"/><stop offset="1" stop-color="#4537d6"/></linearGradient><linearGradient id="s1_g26" x2="0" y2="1"><stop offset="0" stop-color="#475af9"/><stop offset="0.5" stop-color="#4850f2"/><stop offset="1" stop-color="#4745e9"/></linearGradient><linearGradient id="s1_g27" x2="0" y2="1"><stop offset="0" stop-color="#4853f5"/><stop offset="0.5" stop-color="#4848ec"/><stop offset="1" stop-color="#463ee1"/></linearGradient><linearGradient id="s1_g28" x2="0" y2="1"><stop offset="0" stop-color="#3d70ff"/><stop offset="0.5" stop-color="#465efb"/><stop offset="1" stop-color="#484cef"/></linearGradient><linearGradient id="s1_g29" x2="0" y2="1"><stop offset="0" stop-color="#4369fe"/><stop offset="0.5" stop-color="#465efb"/><stop offset="1" stop-color="#4853f5"/></linearGradient></defs><g shape-rendering="crispEdges" transform="scale(.25)" fill-opacity="0.92"><path fill="#4741e5" d="M1706 447l12-2-4-10-12-2z"/><path fill="#463bdd" d="M1703 460l3-13-4-14-2 25zM1690 451l26 15-6-2-27-11zM1696 461l27 9-7-4-26-15z"/><path fill="#4746eb" d="M1712 429l12 4-6 12-12 2z"/><path fill="url(#s1_g0)" d="M1710 464l2-35-6 18-3 13z"/><path fill="#4852f4" d="M1719 432l12 5-7-4-12-4zM1725 434l12 4-6-1-12-5z"/><path fill="url(#s1_g0)" d="M1677 437l26 23-3-2-26-15z"/><path fill="url(#s1_g0)" d="M1716 466l3-34-7-3-2 35z"/><path fill="url(#s1_g0)" d="M1683 453l27 11-7-4-26-23z"/><path fill="url(#s1_g0)" d="M1723 470l2-36-6-2-3 34z"/><path fill="#4757f7" d="M1732 428l12 3-7 7-12-4zM1738 442l12 3-6-14-12-3z"/><path fill="url(#s1_g1)" d="M1648 418l29 19-3 6-29-15z"/><path fill="url(#s1_g2)" d="M1729 473l3-45-7 6-2 36z"/><path fill="url(#s1_g3)" d="M1655 438l28 15-6-16-29-19z"/><path fill="url(#s1_g2)" d="M1736 476l2-34-6-14-3 45z"/><path fill="url(#s1_g4)" d="M1646 477l2-59-3 10-2 47z"/><path fill="#4536d5" d="M1703 473l26 0-6-3-27-9z"/><path fill="#4757f7" d="M1745 426l12 10-7 9-12-3zM1751 449l12 2-6-15-12-10z"/><path fill="#4852f4" d="M1661 439l29 12-7 2-28-15zM1668 454l28 7-6-10-29-12z"/><path fill="url(#s1_g4)" d="M1653 480l2-42-7-20-2 59z"/><path fill="url(#s1_g4)" d="M1742 479l3-53-7 16-2 34z"/><path fill="url(#s1_g0)" d="M1709 450l27 26-7-3-26 0z"/><path fill="#463bdd" d="M1619 461l27 16-3-2-27-10zM1626 476l27 4-7-3-27-16z"/><path fill="url(#s1_g5)" d="M1659 483l2-44-6-1-2 42z"/><path fill="url(#s1_g6)" d="M1749 482l2-33-6-23-3 53z"/><path fill="url(#s1_g0)" d="M1716 472l26 7-6-3-27-26z"/><path fill="#484cef" d="M1758 460l12 3-7-12-12-2z"/><path fill="#4746eb" d="M1674 474l29-1-7-12-28-7z"/><path fill="url(#s1_g5)" d="M1666 486l2-32-7-15-2 44z"/><path fill="url(#s1_g0)" d="M1755 485l3-25-7-11-2 33z"/><path fill="#463bdd" d="M1633 476l26 7-6-3-27-4zM1722 474l27 8-7-3-26-7zM1729 474l26 11-6-3-27-8z"/><path fill="#4852f4" d="M1764 447l12 4-6 12-12-3zM1591 448l28 13-3 4-28-6zM1771 470l12-3-7-16-12-4z"/><path fill="url(#s1_g7)" d="M1681 426l28 24-6 23-29 1z"/><path fill="url(#s1_g0)" d="M1672 489l2-15-6-20-2 32z"/><path fill="url(#s1_g5)" d="M1762 489l2-42-6 13-3 25z"/><path fill="url(#s1_g0)" d="M1639 463l27 23-7-3-26-7z"/><path fill="url(#s1_g8)" d="M1598 474l28 2-7-15-28-13z"/><path fill="url(#s1_g9)" d="M1687 466l29 6-7-22-28-24z"/><path fill="url(#s1_g10)" d="M1679 492l2-66-7 48-2 15z"/><path fill="url(#s1_g5)" d="M1769 492l2-22-7-23-2 42z"/><path fill="url(#s1_g2)" d="M1589 493l2-45-3 11-3 32z"/><path fill="url(#s1_g0)" d="M1646 475l26 14-6-3-27-23z"/><path fill="#463bdd" d="M1736 471l26 18-7-4-26-11zM1652 479l27 13-7-3-26-14z"/><path fill="#4852f4" d="M1777 447l12 3-6 17-12 3z"/><path fill="#4746eb" d="M1604 471l29 5-7 0-28-2zM1694 470l28 4-6-2-29-6z"/><path fill="url(#s1_g2)" d="M1595 496l3-22-7-26-2 45z"/><path fill="url(#s1_g11)" d="M1685 495l2-29-6-40-2 66z"/><path fill="url(#s1_g2)" d="M1775 495l2-48-6 23-2 22z"/><path fill="#4741e5" d="M1742 477l27 15-7-3-26-18z"/><path fill="#475dfa" d="M1784 459l12 5-7-14-12-3z"/><path fill="url(#s1_g12)" d="M1562 478l27 15-4-2-26-20z"/><path fill="url(#s1_g13)" d="M1611 444l28 19-6 13-29-5z"/><path fill="#484cef" d="M1701 461l28 13-7 0-28-4z"/><path fill="url(#s1_g14)" d="M1602 498l2-27-6 3-3 22z"/><path fill="url(#s1_g0)" d="M1692 498l2-28-7-4-2 29z"/><path fill="url(#s1_g2)" d="M1782 498l2-39-7-12-2 48z"/><path fill="#463bdd" d="M1569 481l26 15-6-3-27-15zM1659 493l26 2-6-3-27-13zM1749 480l26 15-6-3-27-15zM1575 494l27 4-7-2-26-15zM1665 482l27 16-7-3-26-2zM1755 489l27 9-7-3-26-15z"/><path fill="#4852f4" d="M1790 469l12 6-6-11-12-5zM1797 468l12 3-7 4-12-6zM1624 465l28 14-6-4-29-13z"/><path fill="url(#s1_g15)" d="M1617 462l29 13-7-12-28-19z"/><path fill="url(#s1_g16)" d="M1707 455l29 16-7 3-28-13z"/><path fill="url(#s1_g17)" d="M1608 502l3-58-7 27-2 27z"/><path fill="url(#s1_g18)" d="M1698 501l3-40-7 9-2 28z"/><path fill="url(#s1_g18)" d="M1788 500l2-31-6-10-2 39z"/><path fill="url(#s1_g19)" d="M1714 468l28 9-6-6-29-16z"/><path fill="url(#s1_g1)" d="M1534 464l28 14-3-7-29-21z"/><path fill="url(#s1_g17)" d="M1615 505l2-43-6-18-3 58z"/><path fill="url(#s1_g2)" d="M1705 505l2-50-6 6-3 40z"/><path fill="url(#s1_g0)" d="M1795 505l2-37-7 1-2 31z"/><path fill="#463bdd" d="M1582 494l26 8-6-4-27-4zM1672 494l26 7-6-3-27-16zM1762 490l26 10-6-2-27-9zM1588 503l27 2-7-3-26-8zM1678 487l27 18-7-4-26-7zM1768 496l27 9-7-5-26-10z"/><path fill="#484cef" d="M1803 487l12 1-6-17-12-3z"/><path fill="#4852f4" d="M1540 468l29 13-7-3-28-14zM1720 462l29 18-7-3-28-9z"/><path fill="url(#s1_g20)" d="M1630 492l29 1-7-14-28-14z"/><path fill="url(#s1_g5)" d="M1621 509l3-44-7-3-2 43z"/><path fill="url(#s1_g2)" d="M1711 508l3-40-7-13-2 50z"/><path fill="url(#s1_g21)" d="M1801 507l2-20-6-19-2 37z"/><path fill="url(#s1_g4)" d="M1531 508l3-44-4-14-2 57z"/><path fill="url(#s1_g3)" d="M1810 456l12 8-7 24-12-1z"/><path fill="url(#s1_g8)" d="M1547 489l28 5-6-13-29-13z"/><path fill="url(#s1_g8)" d="M1637 469l28 13-6 11-29-1z"/><path fill="url(#s1_g16)" d="M1727 479l28 10-6-9-29-18z"/><path fill="url(#s1_g22)" d="M1538 511l2-43-6-4-3 44z"/><path fill="url(#s1_g18)" d="M1628 511l2-19-6-27-3 44z"/><path fill="url(#s1_g2)" d="M1718 511l2-49-6 6-3 40z"/><path fill="url(#s1_g4)" d="M1808 511l2-55-7 31-2 20z"/><path fill="#463bdd" d="M1595 501l26 8-6-4-27-2zM1775 499l26 8-6-2-27-9zM1505 493l26 15-3-1-26-6z"/><path fill="#4741e5" d="M1685 495l26 13-6-3-27-18z"/><path fill="url(#s1_g1)" d="M1817 481l12 6-7-23-12-8z"/><path fill="#4746eb" d="M1553 487l29 7-7 0-28-5z"/><path fill="url(#s1_g16)" d="M1643 492l29 2-7-12-28-13z"/><path fill="#484cef" d="M1733 479l29 11-7-1-28-10z"/><path fill="url(#s1_g2)" d="M1544 515l3-26-7-21-2 43z"/><path fill="url(#s1_g22)" d="M1634 514l3-45-7 23-2 19z"/><path fill="url(#s1_g22)" d="M1724 514l3-35-7-17-2 49z"/><path fill="url(#s1_g4)" d="M1814 514l3-33-7-25-2 55z"/><path fill="#463bdd" d="M1511 498l27 13-7-3-26-15zM1601 501l27 10-7-2-26-8zM1691 497l27 14-7-3-26-13zM1781 509l27 2-7-4-26-8zM1518 508l26 7-6-4-27-13zM1608 515l26-1-6-3-27-10z"/><path fill="#4852f4" d="M1823 482l12 4-6 1-12-6z"/><path fill="#4746eb" d="M1560 503l28 0-6-9-29-7z"/><path fill="url(#s1_g16)" d="M1650 471l28 16-6 7-29-2z"/><path fill="#484cef" d="M1740 483l28 13-6-6-29-11z"/><path fill="url(#s1_g21)" d="M1551 518l2-31-6 2-3 26z"/><path fill="url(#s1_g2)" d="M1641 518l2-26-6-23-3 45z"/><path fill="url(#s1_g18)" d="M1731 517l2-38-6 0-3 35z"/><path fill="url(#s1_g0)" d="M1821 517l2-35-6-1-3 33z"/><path fill="#463bdd" d="M1698 502l26 12-6-3-27-14zM1614 500l27 18-7-4-26 1zM1704 518l27-1-7-3-26-12zM1794 503l27 14-7-3-26-7z"/><path fill="#4536d5" d="M1788 507l26 7-6-3-27-2zM1524 518l27 0-7-3-26-7z"/><path fill="#484cef" d="M1830 495l12 2-7-11-12-4zM1746 491l29 8-7-3-28-13zM1836 495l12 0-6 2-12-2z"/><path fill="#4746eb" d="M1566 493l29 8-7 2-28 0z"/><path fill="url(#s1_g16)" d="M1656 478l29 17-7-8-28-16z"/><path fill="url(#s1_g8)" d="M1476 477l29 16-3 8-29-11z"/><path fill="url(#s1_g0)" d="M1557 521l3-18-7-16-2 31z"/><path fill="url(#s1_g22)" d="M1647 521l3-50-7 21-2 26z"/><path fill="url(#s1_g5)" d="M1737 521l3-38-7-4-2 38z"/><path fill="url(#s1_g0)" d="M1827 521l3-26-7-13-2 35z"/><path fill="#4757f7" d="M1483 484l28 14-6-5-29-16z"/><path fill="#484cef" d="M1573 487l28 14-6 0-29-8z"/><path fill="#4852f4" d="M1663 487l28 10-6-2-29-17zM1843 482l12 8-7 5-12 0zM1669 489l29 13-7-5-28-10z"/><path fill="#4746eb" d="M1753 504l28 5-6-10-29-8zM1759 504l29 3-7 2-28-5z"/><path fill="url(#s1_g0)" d="M1564 525l2-32-6 10-3 18z"/><path fill="url(#s1_g2)" d="M1654 524l2-46-6-7-3 50z"/><path fill="url(#s1_g5)" d="M1744 524l2-33-6-8-3 38z"/><path fill="url(#s1_g12)" d="M1834 524l2-29-6 0-3 26z"/><path fill="url(#s1_g2)" d="M1474 525l2-48-3 13-2 33z"/><path fill="#463bdd" d="M1531 508l26 13-6-3-27 0zM1621 518l26 3-6-3-27-18zM1711 506l26 15-6-4-27 1zM1801 514l26 7-6-4-27-14z"/><path fill="url(#s1_g8)" d="M1489 500l29 8-7-10-28-14z"/><path fill="url(#s1_g20)" d="M1579 516l29-1-7-14-28-14z"/><path fill="url(#s1_g2)" d="M1481 528l2-44-7-7-2 48z"/><path fill="url(#s1_g5)" d="M1570 528l3-41-7 6-2 32z"/><path fill="url(#s1_g22)" d="M1660 526l3-39-7-9-2 46z"/><path fill="url(#s1_g21)" d="M1750 527l3-23-7-13-2 33z"/><path fill="url(#s1_g2)" d="M1840 527l3-45-7 13-2 29z"/><path fill="#463bdd" d="M1537 514l27 11-7-4-26-13zM1807 510l27 14-7-3-26-7zM1447 508l27 17-3-2-27-9z"/><path fill="#4536d5" d="M1627 521l27 3-7-3-26-3z"/><path fill="#4741e5" d="M1717 505l27 19-7-3-26-15zM1496 520l28-2-6-10-29-8z"/><path fill="#4757f7" d="M1849 496l12 5-6-11-12-8z"/><path fill="url(#s1_g8)" d="M1586 485l28 15-6 15-29 1z"/><path fill="url(#s1_g18)" d="M1676 517l28 1-6-16-29-13z"/><path fill="url(#s1_g20)" d="M1766 490l28 13-6 4-29-3z"/><path fill="url(#s1_g22)" d="M1487 531l2-31-6-16-2 44z"/><path fill="url(#s1_g5)" d="M1577 531l2-15-6-29-3 41z"/><path fill="url(#s1_g5)" d="M1667 531l2-42-6-2-3 39z"/><path fill="#4741e5" d="M1757 531l2-27-6 0-3 23zM1724 515l26 12-6-3-27-19z"/><path fill="url(#s1_g2)" d="M1847 530l2-34-6-14-3 45z"/><path fill="#463bdd" d="M1454 519l27 9-7-3-27-17zM1544 527l26 1-6-3-27-11zM1814 515l26 12-6-3-27-14z"/><path fill="url(#s1_g14)" d="M1634 508l26 18-6-2-27-3z"/><path fill="#4757f7" d="M1856 488l12 2-7 11-12-5z"/><path fill="url(#s1_g20)" d="M1502 497l29 11-7 10-28 2z"/><path fill="url(#s1_g8)" d="M1592 517l29 1-7-18-28-15z"/><path fill="url(#s1_g22)" d="M1682 491l29 15-7 12-28-1z"/><path fill="url(#s1_g20)" d="M1772 505l29 9-7-11-28-13z"/><path fill="url(#s1_g0)" d="M1494 534l2-14-7-20-2 31z"/><path fill="url(#s1_g2)" d="M1583 534l3-49-7 31-2 15z"/><path fill="url(#s1_g5)" d="M1673 534l3-17-7-28-2 42z"/><path fill="url(#s1_g5)" d="M1763 534l3-44-7 14-2 27z"/><path fill="url(#s1_g2)" d="M1853 533l3-45-7 8-2 34z"/><path fill="#463bdd" d="M1461 524l26 7-6-3-27-9zM1550 516l27 15-7-3-26-1zM1730 522l27 9-7-4-26-12zM1820 523l27 7-7-3-26-12z"/><path fill="url(#s1_g12)" d="M1640 520l27 11-7-5-26-18z"/><path fill="#475dfa" d="M1862 484l12 8-6-2-12-2z"/><path fill="#4852f4" d="M1509 505l28 9-6-6-29-11z"/><path fill="#4741e5" d="M1599 516l28 5-6-3-29-1z"/><path fill="url(#s1_g1)" d="M1689 489l28 16-6 1-29-15z"/><path fill="#484cef" d="M1779 499l28 11-6 4-29-9z"/><path fill="url(#s1_g16)" d="M1419 496l28 12-3 6-28-8z"/><path fill="url(#s1_g5)" d="M1500 538l2-41-6 23-2 14z"/><path fill="url(#s1_g22)" d="M1590 536l2-19-6-32-3 49z"/><path fill="url(#s1_g2)" d="M1680 537l2-46-6 26-3 17z"/><path fill="url(#s1_g5)" d="M1770 536l2-31-6-15-3 44z"/><path fill="url(#s1_g6)" d="M1860 536l2-52-6 4-3 45z"/><path fill="#463bdd" d="M1467 528l27 6-7-3-26-7zM1557 524l26 10-6-3-27-15zM1647 528l26 6-6-3-27-11zM1737 522l26 12-6-3-27-9zM1827 516l26 17-6-3-27-7zM1597 540l2-24-7 1-2 19z"/><path fill="url(#s1_g1)" d="M1869 506l12 5-7-19-12-8z"/><path fill="url(#s1_g16)" d="M1426 507l28 12-7-11-28-12z"/><path fill="#4746eb" d="M1515 527l29 0-7-13-28-9z"/><path fill="url(#s1_g23)" d="M1605 490l29 18-7 13-28-5z"/><path fill="url(#s1_g3)" d="M1695 505l29 10-7-10-28-16z"/><path fill="#4852f4" d="M1785 505l29 10-7-5-28-11z"/><path fill="url(#s1_g5)" d="M1507 541l2-36-7-8-2 41z"/><path fill="url(#s1_g4)" d="M1686 540l3-51-7 2-2 46z"/><path fill="url(#s1_g5)" d="M1776 540l3-41-7 6-2 31z"/><path fill="url(#s1_g4)" d="M1866 540l3-34-7-22-2 52z"/><path fill="url(#s1_g2)" d="M1417 541l2-45-3 10-3 33z"/><path fill="#463bdd" d="M1474 530l26 8-6-4-27-6zM1564 520l26 16-7-2-26-10zM1653 533l27 4-7-3-26-6zM1833 530l27 6-7-3-26-17z"/><path fill="#4536d5" d="M1743 542l27-6-7-2-26-12z"/><path fill="url(#s1_g1)" d="M1875 486l12 8-6 17-12-5z"/><path fill="#484cef" d="M1432 515l29 9-7-5-28-12zM1702 515l28 7-6-7-29-10zM1792 523l28 0-6-8-29-10z"/><path fill="url(#s1_g8)" d="M1522 498l28 18-6 11-29 0z"/><path fill="url(#s1_g3)" d="M1612 511l28 9-6-12-29-18z"/><path fill="url(#s1_g2)" d="M1423 544l3-37-7-11-2 45z"/><path fill="url(#s1_g0)" d="M1513 544l2-17-6-22-2 36z"/><path fill="url(#s1_g4)" d="M1603 544l2-54-6 26-2 24z"/><path fill="url(#s1_g4)" d="M1693 543l2-38-6-16-3 51z"/><path fill="url(#s1_g18)" d="M1783 542l2-37-6-6-3 41z"/><path fill="url(#s1_g4)" d="M1873 543l2-57-6 20-3 34z"/><path fill="#463bdd" d="M1480 530l27 11-7-3-26-8zM1660 526l26 14-6-3-27-4zM1750 523l26 17-6-4-27 6zM1840 524l26 16-6-4-27-6zM1390 526l27 15-4-2-26-6z"/><path fill="url(#s1_g14)" d="M1570 521l27 19-7-4-26-16z"/><path fill="#4562fc" d="M1882 498l12 4-7-8-12-8z"/><path fill="#4746eb" d="M1439 521l28 7-6-4-29-9z"/><path fill="url(#s1_g16)" d="M1529 515l28 9-7-8-28-18z"/><path fill="#484cef" d="M1618 522l29 6-7-8-28-9zM1708 510l29 12-7 0-28-7z"/><path fill="url(#s1_g8)" d="M1798 500l29 16-7 7-28 0z"/><path fill="url(#s1_g18)" d="M1430 546l2-31-6-8-3 37z"/><path fill="url(#s1_g2)" d="M1520 547l2-49-7 29-2 17z"/><path fill="url(#s1_g4)" d="M1610 547l2-36-7-21-2 54z"/><path fill="url(#s1_g5)" d="M1700 546l2-31-7-10-2 38z"/><path fill="url(#s1_g5)" d="M1789 546l3-23-7-18-2 37z"/><path fill="url(#s1_g4)" d="M1879 546l3-48-7-12-2 57z"/><path fill="#4741e5" d="M1397 526l26 18-6-3-27-15z"/><path fill="#463bdd" d="M1487 526l26 18-6-3-27-11zM1666 536l27 7-7-3-26-14zM1846 533l27 10-7-3-26-16z"/><path fill="url(#s1_g12)" d="M1577 540l26 4-6-4-27-19z"/><path fill="url(#s1_g21)" d="M1756 517l27 25-7-2-26-17z"/><path fill="#4757f7" d="M1888 513l12 3-6-14-12-4z"/><path fill="#484cef" d="M1445 520l29 10-7-2-28-7z"/><path fill="url(#s1_g3)" d="M1535 501l29 19-7 4-28-9z"/><path fill="#4746eb" d="M1625 531l28 2-6-5-29-6z"/><path fill="url(#s1_g18)" d="M1715 548l28-6-6-20-29-12z"/><path fill="url(#s1_g8)" d="M1805 524l28 6-6-14-29-16z"/><path fill="url(#s1_g0)" d="M1436 551l3-30-7-6-2 31z"/><path fill="url(#s1_g22)" d="M1526 550l3-35-7-17-2 49z"/><path fill="url(#s1_g0)" d="M1616 550l2-28-6-11-2 36z"/><path fill="url(#s1_g18)" d="M1706 549l2-39-6 5-2 31z"/><path fill="url(#s1_g22)" d="M1796 548l2-48-6 23-3 23z"/><path fill="url(#s1_g22)" d="M1886 548l2-35-6-15-3 48z"/><path fill="#4741e5" d="M1403 534l27 12-7-2-26-18zM1493 529l27 18-7-3-26-18z"/><path fill="#4536d5" d="M1583 544l27 3-7-3-26-4z"/><path fill="#463bdd" d="M1673 544l27 2-7-3-27-7zM1853 534l26 12-6-3-27-10z"/><path fill="url(#s1_g0)" d="M1763 532l26 14-6-4-27-25z"/><path fill="#4852f4" d="M1895 517l12 3-7-4-12-3z"/><path fill="#484cef" d="M1452 519l28 11-6 0-29-10z"/><path fill="url(#s1_g1)" d="M1542 503l28 18-6-1-29-19z"/><path fill="url(#s1_g23)" d="M1631 505l29 21-7 7-28-2z"/><path fill="url(#s1_g22)" d="M1721 511l29 12-7 19-28 6z"/><path fill="url(#s1_g8)" d="M1811 512l29 12-7 6-28-6z"/><path fill="url(#s1_g8)" d="M1362 507l28 19-3 7-29-5z"/><path fill="url(#s1_g0)" d="M1443 554l2-34-6 1-3 30z"/><path fill="url(#s1_g6)" d="M1533 553l2-52-6 14-3 35z"/><path fill="url(#s1_g12)" d="M1623 553l2-22-7-9-2 28z"/><path fill="url(#s1_g5)" d="M1713 553l2-5-7-38-2 39z"/><path fill="url(#s1_g22)" d="M1802 551l3-27-7-24-2 48z"/><path fill="url(#s1_g0)" d="M1892 553l3-36-7-4-2 35z"/><path fill="#463bdd" d="M1410 536l26 15-6-5-27-12zM1590 535l26 15-6-3-27-3zM1769 540l27 8-7-2-26-14zM1859 537l27 11-7-2-26-12z"/><path fill="#4741e5" d="M1500 536l26 14-6-3-27-18z"/><path fill="#4536d5" d="M1680 553l26-4-6-3-27-2z"/><path fill="#4757f7" d="M1901 513l12 5-6 2-12-3z"/><path fill="url(#s1_g19)" d="M1368 508l29 18-7 0-28-19z"/><path fill="url(#s1_g3)" d="M1458 508l29 18-7 4-28-11z"/><path fill="url(#s1_g23)" d="M1548 537l29 3-7-19-28-18z"/><path fill="url(#s1_g3)" d="M1638 528l28 8-6-10-29-21z"/><path fill="url(#s1_g24)" d="M1728 489l28 28-6 6-29-12z"/><path fill="#4852f4" d="M1818 523l28 10-6-9-29-12zM1908 527l12 2-7-11-12-5z"/><path fill="url(#s1_g18)" d="M1449 556l3-37-7 1-2 34z"/><path fill="url(#s1_g4)" d="M1539 556l3-53-7-2-2 52z"/><path fill="url(#s1_g4)" d="M1629 556l2-51-6 26-2 22z"/><path fill="url(#s1_g2)" d="M1719 556l2-45-6 37-2 5z"/><path fill="url(#s1_g2)" d="M1809 556l2-44-6 12-3 27z"/><path fill="url(#s1_g5)" d="M1899 556l2-43-6 4-3 36z"/><path fill="url(#s1_g2)" d="M1359 557l3-50-4 21-2 28z"/><path fill="#463bdd" d="M1416 544l27 10-7-3-26-15zM1506 542l27 11-7-3-26-14zM1686 541l27 12-7-4-26 4zM1776 548l26 3-6-3-27-8zM1866 548l26 5-6-5-27-11z"/><path fill="#4741e5" d="M1596 534l27 19-7-3-26-15z"/><path fill="url(#s1_g3)" d="M1375 521l28 13-6-8-29-18z"/><path fill="url(#s1_g1)" d="M1465 511l28 18-6-3-29-18z"/><path fill="#4741e5" d="M1555 540l28 4-6-4-29-3z"/><path fill="#4746eb" d="M1645 538l28 6-7-8-28-8z"/><path fill="url(#s1_g7)" d="M1734 521l29 11-7-15-28-28z"/><path fill="#484cef" d="M1824 525l29 9-7-1-28-10z"/><path fill="url(#s1_g2)" d="M1366 561l2-53-6-1-3 50z"/><path fill="url(#s1_g4)" d="M1456 560l2-52-6 11-3 37z"/><path fill="url(#s1_g4)" d="M1546 560l2-23-6-34-3 53z"/><path fill="url(#s1_g4)" d="M1636 560l2-32-7-23-2 51z"/><path fill="url(#s1_g10)" d="M1726 560l2-71-7 22-2 45z"/><path fill="url(#s1_g2)" d="M1816 559l2-36-7-11-2 44z"/><path fill="url(#s1_g18)" d="M1905 558l3-31-7-14-2 43z"/><path fill="url(#s1_g14)" d="M1423 536l26 20-6-2-27-10z"/><path fill="#463bdd" d="M1513 543l26 13-6-3-27-11zM1603 548l26 8-6-3-27-19zM1693 542l26 14-6-3-27-12zM1783 544l26 12-7-5-26-3zM1872 547l27 9-7-3-26-5z"/><path fill="#4852f4" d="M1914 523l12 6-6 0-12-2zM1381 521l29 15-7-2-28-13zM1741 530l28 10-6-8-29-11zM1831 523l28 14-6-3-29-9z"/><path fill="#463bdd" d="M1333 550l26 7-3-1-26-14zM1552 563l3-23-7-3-2 23zM1339 543l27 18-7-4-26-7z"/><path fill="url(#s1_g3)" d="M1471 523l29 13-7-7-28-18z"/><path fill="url(#s1_g20)" d="M1561 523l29 12-7 9-28-4z"/><path fill="#4741e5" d="M1651 556l29-3-7-9-28-6z"/><path fill="url(#s1_g4)" d="M1372 563l3-42-7-13-2 53z"/><path fill="url(#s1_g4)" d="M1462 564l3-53-7-3-2 52z"/><path fill="url(#s1_g0)" d="M1642 563l3-25-7-10-2 32z"/><path fill="url(#s1_g10)" d="M1732 562l2-41-6-32-2 71z"/><path fill="url(#s1_g21)" d="M1822 561l2-36-6-2-2 36z"/><path fill="url(#s1_g18)" d="M1912 561l2-38-6 4-3 31z"/><path fill="url(#s1_g12)" d="M1429 556l27 4-7-4-26-20z"/><path fill="#463bdd" d="M1519 546l27 14-7-4-26-13zM1609 553l27 7-7-4-26-8zM1699 546l27 14-7-4-26-14zM1789 551l27 8-7-3-26-12zM1879 551l26 7-6-2-27-9zM1649 565l2-9-6-18-3 25z"/><path fill="#484cef" d="M1921 541l12 4-7-16-12-6z"/><path fill="url(#s1_g16)" d="M1388 535l28 9-6-8-29-15z"/><path fill="#4852f4" d="M1478 530l28 12-6-6-29-13z"/><path fill="url(#s1_g1)" d="M1568 516l28 18-6 1-29-12z"/><path fill="url(#s1_g20)" d="M1658 528l28 13-6 12-29 3z"/><path fill="#4746eb" d="M1748 545l28 3-7-8-28-10z"/><path fill="url(#s1_g20)" d="M1837 543l29 5-7-11-28-14z"/><path fill="url(#s1_g2)" d="M1379 566l2-45-6 0-3 42z"/><path fill="url(#s1_g4)" d="M1469 567l2-44-6-12-3 53z"/><path fill="url(#s1_g18)" d="M1559 566l2-43-6 17-3 23z"/><path fill="url(#s1_g5)" d="M1739 565l2-35-7-9-2 41z"/><path fill="url(#s1_g18)" d="M1829 564l2-41-7 2-2 36z"/><path fill="url(#s1_g5)" d="M1919 565l2-24-7-18-2 38z"/><path fill="#463bdd" d="M1346 565l26-2-6-2-27-18zM1436 556l26 8-6-4-27-4zM1526 556l26 7-6-3-27-14zM1616 553l26 10-6-3-27-7zM1706 547l26 15-6-2-27-14zM1796 556l26 5-6-2-27-8zM1885 560l27 1-7-3-26-7z"/><path fill="#4746eb" d="M1927 540l12 7-6-2-12-4zM1844 542l28 5-6 1-29-5z"/><path fill="url(#s1_g16)" d="M1394 523l29 13-7 8-28-9z"/><path fill="#4852f4" d="M1484 530l29 13-7-1-28-12zM1664 528l29 14-7-1-28-13z"/><path fill="url(#s1_g3)" d="M1574 541l29 7-7-14-28-18z"/><path fill="#484cef" d="M1754 533l29 11-7 4-28-3z"/><path fill="url(#s1_g8)" d="M1304 546l29 4-3-8-29-15z"/><path fill="url(#s1_g2)" d="M1385 570l3-35-7-14-2 45z"/><path fill="url(#s1_g18)" d="M1475 569l3-39-7-7-2 44z"/><path fill="url(#s1_g4)" d="M1565 569l3-53-7 7-2 43z"/><path fill="url(#s1_g18)" d="M1655 568l3-40-7 28-2 9z"/><path fill="url(#s1_g21)" d="M1745 568l3-23-7-15-2 35z"/><path fill="url(#s1_g5)" d="M1835 569l2-26-6-20-2 41z"/><path fill="url(#s1_g12)" d="M1925 568l2-28-6 1-2 24z"/><path fill="#463bdd" d="M1352 548l27 18-7-3-26 2zM1442 556l27 11-7-3-26-8zM1532 551l27 15-7-3-26-7zM1622 547l27 18-7-2-26-10zM1802 561l27 3-7-3-26-5z"/><path fill="#4741e5" d="M1712 549l27 16-7-3-26-15z"/><path fill="#4536d5" d="M1892 561l27 4-7-4-27-1z"/><path fill="#4852f4" d="M1934 528l12 7-7 12-12-7z"/><path fill="url(#s1_g20)" d="M1311 534l28 9-6 7-29-4z"/><path fill="url(#s1_g16)" d="M1401 556l28 0-6-20-29-13z"/><path fill="#4852f4" d="M1491 538l28 8-6-3-29-13zM1671 534l28 12-6-4-29-14z"/><path fill="#4746eb" d="M1581 547l28 6-6-5-29-7z"/><path fill="#484cef" d="M1761 544l28 7-6-7-29-11zM1850 542l29 9-7-4-28-5z"/><path fill="url(#s1_g2)" d="M1392 573l2-50-6 12-3 35z"/><path fill="url(#s1_g5)" d="M1482 573l2-43-6 0-3 39z"/><path fill="url(#s1_g4)" d="M1572 572l2-31-6-25-3 53z"/><path fill="url(#s1_g2)" d="M1662 573l2-45-6 0-3 40z"/><path fill="url(#s1_g5)" d="M1752 572l2-39-6 12-3 23z"/><path fill="url(#s1_g0)" d="M1842 572l2-30-7 1-2 26z"/><path fill="url(#s1_g5)" d="M1932 571l2-43-7 12-2 28z"/><path fill="url(#s1_g2)" d="M1302 574l2-28-3-19-2 45z"/><path fill="#463bdd" d="M1359 562l26 8-6-4-27-18zM1539 559l26 10-6-3-27-15z"/><path fill="url(#s1_g21)" d="M1449 544l26 25-6-2-27-11z"/><path fill="#463bdd" d="M1629 559l26 9-6-3-27-18zM1719 564l26 4-6-3-27-16zM1809 556l26 13-6-5-27-3zM1899 559l26 9-6-3-27-4z"/><path fill="url(#s1_g20)" d="M1940 553l12 4-6-22-12-7z"/><path fill="url(#s1_g18)" d="M1317 563l29 2-7-22-28-9z"/><path fill="#4741e5" d="M1407 556l29 0-7 0-28 0z"/><path fill="#484cef" d="M1497 552l29 4-7-10-28-8zM1587 543l29 10-7 0-28-6z"/><path fill="#4852f4" d="M1677 531l29 16-7-1-28-12z"/><path fill="#4746eb" d="M1767 549l29 7-7-5-28-7zM1857 562l28-2-6-9-29-9z"/><path fill="url(#s1_g5)" d="M1309 577l2-43-7 12-2 28z"/><path fill="url(#s1_g2)" d="M1398 576l3-20-7-33-2 50z"/><path fill="url(#s1_g5)" d="M1488 576l3-38-7-8-2 43z"/><path fill="url(#s1_g0)" d="M1578 576l3-29-7-6-2 31z"/><path fill="url(#s1_g22)" d="M1668 575l3-41-7-6-2 45z"/><path fill="url(#s1_g18)" d="M1758 575l3-31-7-11-2 39z"/><path fill="url(#s1_g0)" d="M1848 575l2-33-6 0-2 30z"/><path fill="url(#s1_g5)" d="M1938 574l2-21-6-25-2 43z"/><path fill="#463bdd" d="M1365 563l27 10-7-3-26-8zM1545 564l27 8-7-3-26-10zM1635 566l27 7-7-5-26-9zM1815 557l27 15-7-3-26-13zM1905 561l27 10-7-3-26-9z"/><path fill="url(#s1_g0)" d="M1455 563l27 10-7-4-26-25z"/><path fill="url(#s1_g12)" d="M1725 551l27 21-7-4-26-4z"/><path fill="#4746eb" d="M1947 554l12 3-7 0-12-4zM1414 548l28 8-6 0-29 0z"/><path fill="url(#s1_g12)" d="M1275 554l27 20-3-2-27-13z"/><path fill="url(#s1_g6)" d="M1324 530l28 18-6 17-29-2z"/><path fill="url(#s1_g20)" d="M1504 540l28 11-6 5-29-4z"/><path fill="url(#s1_g3)" d="M1594 530l28 17-6 6-29-10z"/><path fill="#4757f7" d="M1684 533l28 16-6-2-29-16z"/><path fill="#4746eb" d="M1774 555l28 6-6-5-29-7z"/><path fill="#4741e5" d="M1864 557l28 4-7-1-28 2z"/><path fill="url(#s1_g5)" d="M1315 580l2-17-6-29-2 43z"/><path fill="#463bdd" d="M1405 579l2-23-6 0-3 20zM1945 577l2-23-7-1-2 21zM1462 562l26 14-6-3-27-10zM1552 558l26 18-6-4-27-8zM1642 566l26 9-6-2-27-7zM1822 562l26 13-6-3-27-15z"/><path fill="url(#s1_g5)" d="M1495 579l2-27-6-14-3 38z"/><path fill="url(#s1_g0)" d="M1585 579l2-36-6 4-3 29z"/><path fill="url(#s1_g2)" d="M1675 579l2-48-6 3-3 41z"/><path fill="url(#s1_g0)" d="M1765 579l2-30-6-5-3 31z"/><path fill="url(#s1_g0)" d="M1855 578l2-16-7-20-2 33z"/><path fill="url(#s1_g12)" d="M1282 564l27 13-7-3-27-20z"/><path fill="url(#s1_g0)" d="M1372 553l26 23-6-3-27-10z"/><path fill="url(#s1_g14)" d="M1732 569l26 6-6-3-27-21z"/><path fill="#463bdd" d="M1912 575l26-1-6-3-27-10zM1861 580l3-23-7 5-2 16z"/><path fill="url(#s1_g16)" d="M1953 530l12 6-6 21-12-3z"/><path fill="url(#s1_g3)" d="M1330 557l29 5-7-14-28-18z"/><path fill="url(#s1_g7)" d="M1420 520l29 24-7 12-28-8z"/><path fill="#4852f4" d="M1510 549l29 10-7-8-28-11z"/><path fill="url(#s1_g3)" d="M1600 548l29 11-7-12-28-17z"/><path fill="url(#s1_g8)" d="M1690 558l29 6-7-15-28-16z"/><path fill="#484cef" d="M1780 548l29 8-7 5-28-6z"/><path fill="#4746eb" d="M1870 550l29 9-7 2-28-4zM1266 570l9-16-3 5-9 13z"/><path fill="url(#s1_g6)" d="M1322 582l2-52-7 33-2 17z"/><path fill="url(#s1_g21)" d="M1411 582l3-34-7 8-2 23z"/><path fill="url(#s1_g5)" d="M1501 583l3-43-7 12-2 27z"/><path fill="url(#s1_g4)" d="M1591 582l3-52-7 13-2 36z"/><path fill="url(#s1_g22)" d="M1681 581l3-48-7-2-2 48z"/><path fill="url(#s1_g12)" d="M1771 582l3-27-7-6-2 30z"/><path fill="url(#s1_g2)" d="M1951 581l2-51-6 24-2 23z"/><path fill="#463bdd" d="M1289 578l26 2-6-3-27-13zM1468 569l27 10-7-3-26-14zM1558 572l27 7-7-3-26-18zM1648 573l27 6-7-4-26-9zM1738 572l27 7-7-4-26-6zM1828 568l27 10-7-3-26-13z"/><path fill="url(#s1_g0)" d="M1378 567l27 12-7-3-26-23z"/><path fill="#4536d5" d="M1918 570l27 7-7-3-26 1z"/><path fill="#475dfa" d="M1960 543l12 7-7-14-12-6z"/><path fill="#484cef" d="M1337 552l28 11-6-1-29-5zM1517 555l28 9-6-5-29-10zM1607 562l28 4-6-7-29-11zM1877 549l28 12-6-2-29-9z"/><path fill="url(#s1_g7)" d="M1427 553l28 10-6-19-29-24z"/><path fill="url(#s1_g23)" d="M1697 533l28 18-6 13-29-6z"/><path fill="#4852f4" d="M1787 541l28 16-6-1-29-8z"/><path fill="#4746eb" d="M1273 577l9-13-7-10-9 16z"/><path fill="url(#s1_g4)" d="M1328 586l2-29-6-27-2 52z"/><path fill="url(#s1_g11)" d="M1418 585l2-65-6 28-3 34z"/><path fill="url(#s1_g5)" d="M1508 585l2-36-6-9-3 43z"/><path fill="url(#s1_g4)" d="M1598 586l2-38-6-18-3 52z"/><path fill="url(#s1_g2)" d="M1688 585l2-27-6-25-3 48z"/><path fill="url(#s1_g5)" d="M1778 584l2-36-6 7-3 27z"/><path fill="url(#s1_g0)" d="M1868 585l2-35-6 7-3 23z"/><path fill="url(#s1_g2)" d="M1958 584l2-41-7-13-2 51z"/><path fill="#463bdd" d="M1295 565l27 17-7-2-26-2zM1385 578l26 4-6-3-27-12zM1475 577l26 6-6-4-27-10zM1655 573l26 8-6-2-27-6zM1745 569l26 13-6-3-27-7zM1835 574l26 6-6-2-27-10z"/><path fill="url(#s1_g5)" d="M1565 551l26 31-6-3-27-7z"/><path fill="#463bdd" d="M1925 577l26 4-6-4-27-7zM1279 586l10-8-7-14-9 13z"/><path fill="#4852f4" d="M1967 553l11 4-6-7-12-7zM1433 551l29 11-7 1-28-10zM1793 554l29 8-7-5-28-16z"/><path fill="url(#s1_g15)" d="M1343 534l29 19-7 10-28-11z"/><path fill="url(#s1_g16)" d="M1523 541l29 17-7 6-28-9z"/><path fill="#484cef" d="M1613 554l29 12-7 0-28-4z"/><path fill="url(#s1_g23)" d="M1703 567l29 2-7-18-28-18z"/><path fill="url(#s1_g20)" d="M1883 577l29-2-7-14-28-12z"/><path fill="url(#s1_g5)" d="M1335 589l2-37-7 5-2 29z"/><path fill="url(#s1_g11)" d="M1425 588l2-35-7-33-2 65z"/><path fill="url(#s1_g5)" d="M1514 589l3-34-7-6-2 36z"/><path fill="url(#s1_g5)" d="M1604 588l3-26-7-14-2 38z"/><path fill="url(#s1_g6)" d="M1694 587l3-54-7 25-2 27z"/><path fill="url(#s1_g2)" d="M1784 588l3-47-7 7-2 36z"/><path fill="url(#s1_g18)" d="M1874 586l3-37-7 1-2 35z"/><path fill="url(#s1_g5)" d="M1964 587l3-34-7-10-2 41z"/><path fill="url(#s1_g12)" d="M1302 566l26 20-6-4-27-17z"/><path fill="#463bdd" d="M1392 575l26 10-7-3-26-4zM1481 576l27 9-7-2-26-6zM1661 571l27 14-7-4-26-8zM1751 575l27 9-7-2-26-13zM1841 569l27 16-7-5-26-6zM1931 576l27 8-7-3-26-4z"/><path fill="url(#s1_g5)" d="M1571 573l27 13-7-4-26-31z"/><path fill="#4757f7" d="M1973 547l12 5-7 5-11-4z"/><path fill="url(#s1_g15)" d="M1350 551l28 16-6-14-29-19z"/><path fill="#4852f4" d="M1440 559l28 10-6-7-29-11z"/><path fill="url(#s1_g8)" d="M1530 567l28 5-6-14-29-17z"/><path fill="#484cef" d="M1620 567l28 6-6-7-29-12zM1800 559l28 9-6-6-29-8z"/><path fill="#4746eb" d="M1710 568l28 4-6-3-29-2z"/><path fill="#4741e5" d="M1890 568l28 2-6 5-29 2z"/><path fill="#4741e5" d="M1286 581l9-16-6 13-10 8z"/><path fill="url(#s1_g17)" d="M1341 592l2-58-6 18-2 37z"/><path fill="url(#s1_g18)" d="M1431 592l2-41-6 2-2 35z"/><path fill="url(#s1_g2)" d="M1521 592l2-51-6 14-3 34z"/><path fill="url(#s1_g5)" d="M1611 592l2-38-6 8-3 26z"/><path fill="url(#s1_g4)" d="M1701 591l2-24-6-34-3 54z"/><path fill="url(#s1_g22)" d="M1791 590l2-36-6-13-3 47z"/><path fill="url(#s1_g18)" d="M1881 589l2-12-6-28-3 37z"/><path fill="url(#s1_g18)" d="M1971 590l2-43-6 6-3 34z"/><path fill="url(#s1_g14)" d="M1308 590l27-1-7-3-26-20z"/><path fill="#463bdd" d="M1398 574l27 14-7-3-26-10zM1488 578l26 11-6-4-27-9zM1668 576l26 11-6-2-27-14zM1758 569l26 19-6-4-27-9zM1938 576l26 11-6-3-27-8z"/><path fill="url(#s1_g12)" d="M1578 569l26 19-6-2-27-13z"/><path fill="url(#s1_g14)" d="M1848 568l26 18-6-1-27-16z"/><path fill="url(#s1_g20)" d="M1980 575l12 1-7-24-12-5z"/><path fill="url(#s1_g8)" d="M1357 574l28 4-7-11-28-16z"/><path fill="#4746eb" d="M1446 576l29 1-7-8-28-10zM1896 573l29 4-7-7-28-2zM1292 582l10-16-7-1-9 16z"/><path fill="url(#s1_g9)" d="M1536 527l29 24-7 21-28-5z"/><path fill="#484cef" d="M1626 564l29 9-7 0-28-6zM1806 571l29 3-7-6-28-9z"/><path fill="url(#s1_g20)" d="M1716 556l29 13-7 3-28-4z"/><path fill="url(#s1_g17)" d="M1348 596l2-45-7-17-2 58z"/><path fill="url(#s1_g18)" d="M1438 595l2-36-7-8-2 41z"/><path fill="url(#s1_g22)" d="M1528 594l2-27-7-26-2 51z"/><path fill="url(#s1_g5)" d="M1617 595l3-28-7-13-2 38z"/><path fill="#4741e5" d="M1707 594l3-26-7-1-2 24z"/><path fill="url(#s1_g5)" d="M1797 594l3-35-7-5-2 36z"/><path fill="#463bdd" d="M1887 594l3-26-7 9-2 12z"/><path fill="url(#s1_g5)" d="M1977 594l3-19-7-28-2 43z"/><path fill="#463bdd" d="M1315 575l26 17-6-3-27 1zM1405 579l26 13-6-4-27-14zM1494 575l27 17-7-3-26-11zM1584 586l27 6-7-4-26-19zM1674 581l27 10-7-4-26-11zM1854 586l27 3-7-3-26-18z"/><path fill="#4741e5" d="M1764 573l27 17-7-2-26-19zM1299 596l9-6-6-24-10 16z"/><path fill="url(#s1_g21)" d="M1944 567l27 23-7-3-26-11z"/><path fill="url(#s1_g20)" d="M1986 555l12 3-6 18-12-1z"/><path fill="#4746eb" d="M1363 570l29 5-7 3-28-4zM1453 567l28 9-6 1-29-1zM1903 569l28 7-6 1-29-4z"/><path fill="url(#s1_g7)" d="M1543 562l28 11-6-22-29-24z"/><path fill="#4852f4" d="M1633 558l28 13-6 2-29-9z"/><path fill="#484cef" d="M1723 566l28 9-6-6-29-13z"/><path fill="url(#s1_g20)" d="M1813 558l28 11-6 5-29-3z"/><path fill="url(#s1_g2)" d="M1354 599l3-25-7-23-2 45z"/><path fill="url(#s1_g0)" d="M1444 599l2-23-6-17-2 36z"/><path fill="url(#s1_g10)" d="M1534 599l2-72-6 40-2 27z"/><path fill="url(#s1_g0)" d="M1624 598l2-34-6 3-3 28z"/><path fill="url(#s1_g5)" d="M1714 598l2-42-6 12-3 26z"/><path fill="url(#s1_g0)" d="M1804 597l2-26-6-12-3 35z"/><path fill="#4741e5" d="M1894 595l2-22-6-5-3 26z"/><path fill="url(#s1_g5)" d="M1984 597l2-42-6 20-3 19z"/><path fill="#463bdd" d="M1321 585l27 11-7-4-26-17zM1411 595l27 0-7-3-26-13zM1501 587l27 7-7-2-27-17zM1591 588l26 7-6-3-27-6zM1681 585l26 9-6-3-27-10zM1771 585l26 9-6-4-27-17zM1861 587l26 7-6-5-27-3z"/><path fill="url(#s1_g0)" d="M1951 580l26 14-6-4-27-23z"/><path fill="#4852f4" d="M1993 567l12 4-7-13-12-3z"/><path fill="url(#s1_g16)" d="M1370 559l28 15-6 1-29-5z"/><path fill="#484cef" d="M1459 569l29 9-7-2-28-9zM1909 564l29 12-7 0-28-7z"/><path fill="url(#s1_g3)" d="M1549 548l29 21-7 4-28-11z"/><path fill="#4852f4" d="M1639 562l29 14-7-5-28-13z"/><path fill="url(#s1_g16)" d="M1729 553l29 16-7 6-28-9z"/><path fill="url(#s1_g1)" d="M1819 547l29 21-7 1-28-11z"/><path fill="#4741e5" d="M1305 590l10-15-7 15-9 6z"/><path fill="url(#s1_g0)" d="M1361 602l2-32-6 4-3 25z"/><path fill="url(#s1_g21)" d="M1451 601l2-34-7 9-2 23z"/><path fill="url(#s1_g10)" d="M1541 602l2-40-7-35-2 72z"/><path fill="url(#s1_g18)" d="M1630 601l3-43-7 6-2 34z"/><path fill="url(#s1_g5)" d="M1720 601l3-35-7-10-2 42z"/><path fill="url(#s1_g5)" d="M1810 601l3-43-7 13-2 26z"/><path fill="url(#s1_g0)" d="M1900 600l3-31-7 4-2 22z"/><path fill="url(#s1_g18)" d="M1990 598l3-31-7-12-2 42z"/><path fill="#463bdd" d="M1328 584l26 15-6-3-27-11z"/><path fill="#463bdd" d="M1418 581l26 18-6-4-27 0zM1508 597l26 2-6-5-27-7zM1597 587l27 11-7-3-26-7zM1687 584l27 14-7-4-26-9zM1777 587l27 10-7-3-26-9zM1867 589l27 6-7-1-26-7zM1957 587l27 10-7-3-26-14z"/><path fill="#4852f4" d="M1999 565l12 2-6 4-12-4zM1376 570l29 9-7-5-28-15zM1646 573l28 8-6-5-29-14z"/><path fill="url(#s1_g16)" d="M1466 559l28 16-6 3-29-9z"/><path fill="url(#s1_g23)" d="M1556 581l28 5-6-17-29-21z"/><path fill="#4757f7" d="M1736 556l28 17-6-4-29-16z"/><path fill="url(#s1_g23)" d="M1826 584l28 2-6-18-29-21z"/><path fill="url(#s1_g7)" d="M1916 539l28 28-6 9-29-12z"/><path fill="#4741e5" d="M1312 596l9-11-6-10-10 15z"/><path fill="url(#s1_g22)" d="M1367 604l3-45-7 11-2 32z"/><path fill="url(#s1_g0)" d="M1457 605l2-36-6-2-2 34z"/><path fill="url(#s1_g6)" d="M1547 604l2-56-6 14-2 40z"/><path fill="url(#s1_g5)" d="M1637 605l2-43-6-4-3 43z"/><path fill="url(#s1_g2)" d="M1727 604l2-51-6 13-3 35z"/><path fill="url(#s1_g4)" d="M1817 604l2-57-6 11-3 43z"/><path fill="url(#s1_g5)" d="M1907 604l2-40-6 5-3 31z"/><path fill="url(#s1_g5)" d="M1997 604l2-39-6 2-3 31z"/><path fill="#463bdd" d="M1334 592l27 10-7-3-26-15zM1424 590l27 11-7-2-26-18zM1514 593l27 9-7-3-26-2zM1604 587l26 14-6-3-27-11zM1694 586l26 15-6-3-27-14zM1874 595l26 5-6-5-27-6zM1964 587l26 11-6-1-27-10z"/><path fill="url(#s1_g0)" d="M1784 577l26 24-6-4-27-10z"/><path fill="#484cef" d="M2006 588l12 2-7-23-12-2z"/><path fill="url(#s1_g20)" d="M1383 594l28 1-6-16-29-9z"/><path fill="url(#s1_g16)" d="M1473 578l28 9-7-12-28-16z"/><path fill="#4746eb" d="M1562 580l29 8-7-2-28-5zM1832 578l29 9-7-1-28-2z"/><path fill="#484cef" d="M1652 577l29 8-7-4-28-8z"/><path fill="url(#s1_g3)" d="M1742 576l29 9-7-12-28-17z"/><path fill="url(#s1_g7)" d="M1922 568l29 12-7-13-28-28z"/><path fill="#4741e5" d="M1318 596l10-12-7 1-9 11z"/><path fill="url(#s1_g22)" d="M1374 607l2-37-6-11-3 45z"/><path fill="url(#s1_g22)" d="M1464 607l2-48-7 10-2 36z"/><path fill="url(#s1_g4)" d="M1554 607l2-26-7-33-2 56z"/><path fill="url(#s1_g18)" d="M1644 607l2-34-7-11-2 43z"/><path fill="url(#s1_g2)" d="M1733 607l3-51-7-3-2 51z"/><path fill="url(#s1_g4)" d="M1823 607l3-23-7-37-2 57z"/><path fill="url(#s1_g10)" d="M1913 607l3-68-7 25-2 40z"/><path fill="url(#s1_g18)" d="M2003 606l3-18-7-23-2 39z"/><path fill="#463bdd" d="M1341 598l26 6-6-2-27-10z"/><path fill="#463bdd" d="M1431 591l26 14-6-4-27-11zM1521 592l26 12-6-2-27-9zM1611 599l26 6-7-4-26-14zM1700 593l27 11-7-3-26-15zM1880 587l27 17-7-4-26-5zM1970 589l27 15-7-6-26-11z"/><path fill="url(#s1_g0)" d="M1790 595l27 9-7-3-26-24z"/><path fill="#484cef" d="M2012 571l12 4-6 15-12-2zM1569 574l28 13-6 1-29-8zM1659 575l28 9-6 1-29-8zM1749 578l28 9-6-2-29-9zM1839 580l28 9-6-2-29-9z"/><path fill="url(#s1_g8)" d="M1389 566l29 15-7 14-28-1z"/><path fill="#4746eb" d="M1479 599l29-2-7-10-28-9z"/><path fill="#4852f4" d="M1929 577l28 10-6-7-29-12z"/><path fill="#4741e5" d="M1325 603l9-11-6-8-10 12z"/><path fill="url(#s1_g5)" d="M1380 612l3-18-7-24-2 37z"/><path fill="url(#s1_g2)" d="M1470 611l3-33-7-19-2 48z"/><path fill="url(#s1_g21)" d="M1560 610l2-30-6 1-2 26z"/><path fill="url(#s1_g21)" d="M1650 610l2-33-6-4-2 34z"/><path fill="url(#s1_g4)" d="M1740 610l2-34-6-20-3 51z"/><path fill="url(#s1_g0)" d="M1830 610l2-32-6 6-3 23z"/><path fill="url(#s1_g11)" d="M1920 608l2-40-6-29-3 68z"/><path fill="url(#s1_g18)" d="M2010 608l2-37-6 17-3 18z"/><path fill="#463bdd" d="M1347 603l27 4-7-3-26-6zM1527 598l27 9-7-3-26-12zM1617 597l27 10-7-2-26-6zM1707 602l26 5-6-3-27-11zM1797 595l26 12-6-3-27-9zM1887 602l26 5-6-3-27-17z"/><path fill="url(#s1_g14)" d="M1437 589l27 18-7-2-26-14z"/><path fill="#4741e5" d="M1977 587l26 19-6-2-27-15z"/><path fill="#4852f4" d="M2019 577l12 4-7-6-12-4z"/><path fill="url(#s1_g16)" d="M1396 580l28 10-6-9-29-15z"/><path fill="#4746eb" d="M1486 584l28 9-6 4-29 2zM1845 591l29 4-7-6-28-9z"/><path fill="#4852f4" d="M1576 572l28 15-7 0-28-13zM1665 571l29 15-7-2-28-9z"/><path fill="url(#s1_g15)" d="M1755 552l29 25-7 10-28-9z"/><path fill="#484cef" d="M1935 578l29 9-7 0-28-10z"/><path fill="#4741e5" d="M1331 609l10-11-7-6-9 11z"/><path fill="url(#s1_g2)" d="M1387 615l2-49-6 28-3 18z"/><path fill="url(#s1_g0)" d="M1477 614l2-15-6-21-3 33z"/><path fill="url(#s1_g18)" d="M1567 614l2-40-7 6-2 30z"/><path fill="url(#s1_g18)" d="M1657 613l2-38-7 2-2 33z"/><path fill="url(#s1_g0)" d="M1747 614l2-36-7-2-2 34z"/><path fill="url(#s1_g21)" d="M1836 612l3-32-7-2-2 32z"/><path fill="url(#s1_g18)" d="M1926 612l3-35-7-9-2 40z"/><path fill="url(#s1_g5)" d="M2016 613l3-36-7-6-2 37z"/><path fill="url(#s1_g0)" d="M1354 590l26 22-6-5-27-4z"/><path fill="url(#s1_g12)" d="M1444 602l26 9-6-4-27-18z"/><path fill="#463bdd" d="M1534 605l26 5-6-3-27-9zM1624 602l26 8-6-3-27-10zM1713 602l27 8-7-3-26-5zM1803 607l27 3-7-3-26-12zM1893 594l27 14-7-1-26-5zM1983 599l27 9-7-2-26-19zM1338 611l9-8-6-5-10 11z"/><path fill="#4852f4" d="M2025 583l12 4-6-6-12-4zM1402 576l29 15-7-1-28-10zM1942 573l28 16-6-2-29-9z"/><path fill="url(#s1_g16)" d="M1492 575l29 17-7 1-28-9z"/><path fill="url(#s1_g8)" d="M1582 597l29 2-7-12-28-15z"/><path fill="url(#s1_g16)" d="M1672 583l28 10-6-7-29-15z"/><path fill="url(#s1_g15)" d="M1762 585l28 10-6-18-29-25z"/><path fill="url(#s1_g8)" d="M1852 572l28 15-6 8-29-4z"/><path fill="url(#s1_g2)" d="M1393 618l3-38-7-14-2 49z"/><path fill="url(#s1_g0)" d="M1483 618l3-34-7 15-2 15z"/><path fill="url(#s1_g2)" d="M1573 618l3-46-7 2-2 40z"/><path fill="url(#s1_g22)" d="M1663 616l2-45-6 4-2 38z"/><path fill="url(#s1_g17)" d="M1753 616l2-64-6 26-2 36z"/><path fill="url(#s1_g0)" d="M1843 617l2-26-6-11-3 32z"/><path fill="url(#s1_g21)" d="M1933 615l2-37-6-1-3 35z"/><path fill="url(#s1_g0)" d="M2023 616l2-33-6-6-3 36z"/><path fill="url(#s1_g0)" d="M1360 603l27 12-7-3-26-22z"/><path fill="#463bdd" d="M1450 604l27 10-7-3-26-9zM1540 597l27 17-7-4-26-5zM1630 597l27 16-7-3-26-8zM1720 596l27 18-7-4-27-8zM1990 599l26 14-6-5-27-9z"/><path fill="#4536d5" d="M1810 617l26-5-6-2-27-3z"/><path fill="url(#s1_g18)" d="M1900 583l26 29-6-4-27-14z"/><path fill="#4852f4" d="M2032 577l12 3-7 7-12-4z"/><path fill="url(#s1_g3)" d="M1409 570l28 19-6 2-29-15z"/><path fill="url(#s1_g16)" d="M1499 590l28 8-6-6-29-17z"/><path fill="url(#s1_g20)" d="M1589 582l28 15-6 2-29-2z"/><path fill="#484cef" d="M1678 596l29 6-7-9-28-10zM1768 589l29 6-7 0-28-10z"/><path fill="url(#s1_g16)" d="M1858 603l29-1-7-15-28-15z"/><path fill="#4757f7" d="M1948 574l29 13-7 2-28-16z"/><path fill="#4741e5" d="M1344 607l10-17-7 13-9 8z"/><path fill="url(#s1_g2)" d="M1400 621l2-45-6 4-3 38z"/><path fill="url(#s1_g2)" d="M1490 621l2-46-6 9-3 34z"/><path fill="url(#s1_g2)" d="M1580 621l2-24-6-25-3 46z"/><path fill="url(#s1_g2)" d="M1670 620l2-37-7-12-2 45z"/><path fill="url(#s1_g25)" d="M1760 619l2-34-7-33-2 64z"/><path fill="url(#s1_g2)" d="M1849 620l3-48-7 19-2 26z"/><path fill="url(#s1_g22)" d="M1939 619l3-46-7 5-2 37z"/><path fill="url(#s1_g5)" d="M2029 619l3-42-7 6-2 33z"/><path fill="#463bdd" d="M1367 612l26 6-6-3-27-12zM1457 614l26 4-6-4-27-10z"/><path fill="#463bdd" d="M1547 612l26 6-6-4-27-17zM1816 604l27 13-7-5-26 5zM1996 602l27 14-7-3-26-14z"/><path fill="#4741e5" d="M1637 603l26 13-6-3-27-16zM1727 601l26 15-6-2-27-18z"/><path fill="url(#s1_g18)" d="M1906 600l27 15-7-3-26-29z"/><path fill="#475dfa" d="M2038 575l12 5-6 0-12-3z"/><path fill="url(#s1_g3)" d="M1415 590l29 12-7-13-28-19z"/><path fill="#484cef" d="M1505 596l29 9-7-7-28-8zM1595 592l29 10-7-5-28-15z"/><path fill="#4746eb" d="M1685 592l28 10-6 0-29-6zM1775 607l28 0-6-12-29-6zM1351 616l9-13-6-13-10 17z"/><path fill="url(#s1_g26)" d="M1865 585l28 9-6 8-29 1z"/><path fill="url(#s1_g16)" d="M1955 593l28 6-6-12-29-13z"/><path fill="url(#s1_g4)" d="M1406 624l3-54-7 6-2 45z"/><path fill="url(#s1_g2)" d="M1496 624l3-34-7-15-2 46z"/><path fill="url(#s1_g5)" d="M1586 624l3-42-7 15-2 24z"/><path fill="url(#s1_g18)" d="M1676 622l2-26-6-13-2 37z"/><path fill="url(#s1_g21)" d="M1766 622l2-33-6-4-2 34z"/><path fill="url(#s1_g2)" d="M1856 623l2-20-6-31-3 48z"/><path fill="url(#s1_g2)" d="M1946 623l2-49-6-1-3 46z"/><path fill="url(#s1_g2)" d="M2036 623l2-48-6 2-3 42z"/><path fill="#463bdd" d="M1373 617l27 4-7-3-26-6zM1463 615l27 6-7-3-26-4zM1553 604l27 17-7-3-26-6zM1643 613l27 7-7-4-26-13zM1733 615l27 4-7-3-26-15zM1823 603l26 17-6-3-27-13zM2003 608l26 11-6-3-27-14z"/><path fill="#4741e5" d="M1913 605l26 14-6-4-27-15z"/><path fill="#4757f7" d="M2045 584l12 7-7-11-12-5z"/><path fill="#484cef" d="M1422 597l28 7-6-2-29-12z"/><path fill="url(#s1_g8)" d="M1512 581l28 16-6 8-29-9z"/><path fill="url(#s1_g16)" d="M1602 585l28 12-6 5-29-10z"/><path fill="url(#s1_g3)" d="M1692 576l28 20-7 6-28-10z"/><path fill="#463bdd" d="M1781 621l29-4-7-10-28 0zM1380 607l26 17-6-3-27-4zM1470 606l26 18-6-3-27-6z"/><path fill="url(#s1_g24)" d="M1871 559l29 24-7 11-28-9z"/><path fill="#4852f4" d="M1961 586l29 13-7 0-28-6z"/><path fill="#4741e5" d="M1357 622l10-10-7-9-9 13z"/><path fill="url(#s1_g4)" d="M1413 628l2-38-6-20-3 54z"/><path fill="url(#s1_g0)" d="M1503 627l2-31-6-6-3 34z"/><path fill="url(#s1_g18)" d="M1593 626l2-34-6-10-3 42z"/><path fill="url(#s1_g21)" d="M1683 626l2-34-7 4-2 26z"/><path fill="url(#s1_g0)" d="M1773 626l2-19-7-18-2 33z"/><path fill="url(#s1_g5)" d="M1863 626l2-41-7 18-2 20z"/><path fill="url(#s1_g2)" d="M1952 625l3-32-7-19-2 49z"/><path fill="url(#s1_g2)" d="M2042 626l3-42-7-9-2 48z"/><path fill="#463bdd" d="M1560 619l26 5-6-3-27-17zM1650 614l26 8-6-2-27-7zM1740 611l26 11-6-3-27-4zM1919 614l27 9-7-4-26-14zM2009 616l27 7-7-4-26-11zM1364 627l9-10-6-5-10 10z"/><path fill="#4741e5" d="M1830 607l26 16-7-3-26-17z"/><path fill="#4746eb" d="M1428 611l29 3-7-10-28-7z"/><path fill="url(#s1_g8)" d="M1518 606l29 6-7-15-28-16z"/><path fill="#4852f4" d="M1608 590l29 13-7-6-28-12zM1968 590l28 12-6-3-29-13z"/><path fill="url(#s1_g1)" d="M1698 589l29 12-7-5-28-20z"/><path fill="url(#s1_g8)" d="M1788 588l28 16-6 13-29 4z"/><path fill="url(#s1_g24)" d="M1878 587l28 13-6-17-29-24z"/><path fill="url(#s1_g5)" d="M1419 631l3-34-7-7-2 38z"/><path fill="url(#s1_g2)" d="M1509 630l3-49-7 15-2 31z"/><path fill="url(#s1_g2)" d="M1599 630l3-45-7 7-2 34z"/><path fill="url(#s1_g6)" d="M1689 629l3-53-7 16-2 34z"/><path fill="#463bdd" d="M1779 629l2-8-6-14-2 19zM1566 613l27 13-7-2-26-5zM1656 610l27 16-7-4-26-8zM1746 621l27 5-7-4-26-11zM1836 615l27 11-7-3-26-16zM1926 610l26 15-6-2-27-9zM2016 613l26 13-6-3-27-7z"/><path fill="url(#s1_g10)" d="M1869 629l2-70-6 26-2 41z"/><path fill="url(#s1_g5)" d="M1959 629l2-43-6 7-3 32z"/><path fill="#4741e5" d="M1386 614l27 14-7-4-26-17zM1476 612l27 15-7-3-26-18z"/><path fill="#4746eb" d="M1435 609l28 6-6-1-29-3z"/><path fill="url(#s1_g8)" d="M1525 590l28 14-6 8-29-6z"/><path fill="url(#s1_g20)" d="M1615 605l28 8-6-10-29-13z"/><path fill="url(#s1_g8)" d="M1705 609l28 6-6-14-29-12z"/><path fill="url(#s1_g16)" d="M1795 588l28 15-7 1-28-16z"/><path fill="#4852f4" d="M1884 591l29 14-7-5-28-13zM1974 594l29 14-7-6-28-12z"/><path fill="#4741e5" d="M1370 622l10-15-7 10-9 10z"/><path fill="url(#s1_g0)" d="M1426 634l2-23-6-14-3 34z"/><path fill="url(#s1_g2)" d="M1516 634l2-28-6-25-3 49z"/><path fill="url(#s1_g2)" d="M1606 633l2-43-6-5-3 45z"/><path fill="url(#s1_g6)" d="M1696 632l2-43-6-13-3 53z"/><path fill="url(#s1_g2)" d="M1786 633l2-45-7 33-2 8z"/><path fill="url(#s1_g10)" d="M1876 633l2-46-7-28-2 70z"/><path fill="url(#s1_g5)" d="M1966 632l2-42-7-4-2 43z"/><path fill="#463bdd" d="M1393 621l26 10-6-3-27-14zM1483 629l26 1-6-3-27-15zM1573 619l26 11-6-4-27-13zM1663 624l26 5-6-3-27-16zM1753 620l26 9-6-3-27-5z"/><path fill="#463bdd" d="M1843 617l26 12-6-3-27-11z"/><path fill="#4741e5" d="M1932 613l27 16-7-4-26-15zM1377 628l9-14-6-7-10 15z"/><path fill="url(#s1_g8)" d="M1441 591l29 15-7 9-28-6z"/><path fill="url(#s1_g8)" d="M1531 616l29 3-7-15-28-14z"/><path fill="#484cef" d="M1621 605l29 9-7-1-28-8zM1981 609l28 7-6-8-29-14z"/><path fill="url(#s1_g20)" d="M1711 599l29 12-7 4-28-6z"/><path fill="#4757f7" d="M1801 592l29 15-7-4-28-15z"/><path fill="url(#s1_g16)" d="M1891 605l28 9-6-9-29-14z"/><path fill="url(#s1_g12)" d="M1432 637l3-28-7 2-2 23z"/><path fill="url(#s1_g22)" d="M1522 636l3-46-7 16-2 28z"/><path fill="url(#s1_g5)" d="M1612 637l3-32-7-15-2 43z"/><path fill="url(#s1_g2)" d="M1702 637l3-28-7-20-2 43z"/><path fill="url(#s1_g2)" d="M1792 635l3-47-7 0-2 45z"/><path fill="url(#s1_g2)" d="M1882 636l2-45-6-4-2 46z"/><path fill="url(#s1_g18)" d="M1972 634l2-40-6-4-2 42z"/><path fill="#463bdd" d="M1399 619l27 15-7-3-26-10zM1489 624l27 10-7-4-26-1zM1579 634l27-1-7-3-26-11zM1669 625l27 7-7-3-26-5zM1759 621l27 12-7-4-26-9zM1849 623l27 10-7-4-26-12z"/><path fill="url(#s1_g0)" d="M1939 611l27 21-7-3-27-16z"/><path fill="#4757f7" d="M1448 596l28 16-6-6-29-15z"/><path fill="url(#s1_g20)" d="M1538 603l28 10-6 6-29-3z"/><path fill="url(#s1_g16)" d="M1628 592l28 18-6 4-29-9z"/><path fill="url(#s1_g20)" d="M1718 613l28 8-6-10-29-12z"/><path fill="url(#s1_g16)" d="M1808 603l28 12-6-8-29-15z"/><path fill="url(#s1_g16)" d="M1897 593l29 17-7 4-28-9z"/><path fill="#484cef" d="M1987 603l29 10-7 3-28-7z"/><path fill="#4741e5" d="M1383 632l10-11-7-7-9 14z"/><path fill="url(#s1_g2)" d="M1439 640l2-49-6 18-3 28z"/><path fill="url(#s1_g2)" d="M1529 640l2-24-6-26-3 46z"/><path fill="url(#s1_g0)" d="M1619 640l2-35-6 0-3 32z"/><path fill="url(#s1_g18)" d="M1709 639l2-40-6 10-3 28z"/><path fill="url(#s1_g22)" d="M1799 638l2-46-6-4-3 47z"/><path fill="url(#s1_g22)" d="M1889 638l2-33-7-14-2 45z"/><path fill="url(#s1_g5)" d="M1979 639l2-30-7-15-2 40z"/><path fill="#4741e5" d="M1406 620l26 17-6-3-27-15z"/><path fill="#463bdd" d="M1496 638l26-2-6-2-27-10zM1676 630l26 7-6-5-27-7zM1766 634l26 1-6-2-27-12zM1856 627l26 9-6-3-27-10z"/><path fill="url(#s1_g12)" d="M1586 615l26 22-6-4-27 1z"/><path fill="url(#s1_g21)" d="M1946 617l26 17-6-2-27-21z"/><path fill="url(#s1_g8)" d="M1454 627l29 2-7-17-28-16z"/><path fill="#4852f4" d="M1544 611l29 8-7-6-28-10z"/><path fill="url(#s1_g8)" d="M1634 618l29 6-7-14-28-18z"/><path fill="#4746eb" d="M1724 614l29 6-7 1-28-8z"/><path fill="#4852f4" d="M1814 604l29 13-7-2-28-12z"/><path fill="#4757f7" d="M1904 599l28 14-6-3-29-17z"/><path fill="#4741e5" d="M1390 633l9-14-6 2-10 11zM1412 625l27 15-7-3-26-17z"/><path fill="url(#s1_g2)" d="M1445 643l3-47-7-5-2 49z"/><path fill="url(#s1_g18)" d="M1535 642l3-39-7 13-2 24z"/><path fill="url(#s1_g2)" d="M1625 643l3-51-7 13-2 35z"/><path fill="url(#s1_g18)" d="M1715 642l3-29-7-14-2 40z"/><path fill="url(#s1_g2)" d="M1805 642l3-39-7-11-2 46z"/><path fill="url(#s1_g2)" d="M1895 642l2-49-6 12-2 33z"/><path fill="url(#s1_g5)" d="M1985 641l2-38-6 6-2 30z"/><path fill="#463bdd" d="M1502 627l27 13-7-4-26 2zM1682 634l27 5-7-2-26-7zM1772 631l27 7-7-3-26-1zM1862 630l27 8-7-2-26-9z"/><path fill="url(#s1_g12)" d="M1592 628l27 12-7-3-26-22z"/><path fill="url(#s1_g0)" d="M1952 616l27 23-7-5-26-17z"/><path fill="url(#s1_g20)" d="M1461 611l28 13-6 5-29-2z"/><path fill="url(#s1_g27)" d="M1551 635l28-1-6-15-29-8z"/><path fill="#4746eb" d="M1641 629l28-4-6-1-29-6zM1396 635l10-15-7-1-9 14z"/><path fill="#484cef" d="M1731 609l28 12-6-1-29-6zM1821 614l28 9-6-6-29-13z"/><path fill="url(#s1_g1)" d="M1911 593l28 18-7 2-28-14z"/><path fill="url(#s1_g22)" d="M1452 646l2-19-6-31-3 47z"/><path fill="url(#s1_g5)" d="M1542 646l2-35-6-8-3 39z"/><path fill="url(#s1_g22)" d="M1632 645l2-27-6-26-3 51z"/><path fill="url(#s1_g0)" d="M1722 645l2-31-6-1-3 29z"/><path fill="url(#s1_g18)" d="M1812 645l2-41-6-1-3 39z"/><path fill="url(#s1_g2)" d="M1902 645l2-46-7-6-2 49z"/><path fill="#463bdd" d="M1419 633l26 10-6-3-27-15zM1509 627l26 15-6-2-27-13z"/><path fill="#463bdd" d="M1599 640l26 3-6-3-27-12zM1689 632l26 10-6-3-27-5zM1779 640l26 2-6-4-27-7zM1869 624l26 18-6-4-27-8z"/><path fill="url(#s1_g0)" d="M1959 632l26 9-6-2-27-23z"/><path fill="url(#s1_g20)" d="M1467 641l29-3-7-14-28-13z"/><path fill="url(#s1_g13)" d="M1557 592l29 23-7 19-28 1z"/><path fill="#4741e5" d="M1647 634l29-4-7-5-28 4z"/><path fill="url(#s1_g20)" d="M1737 630l29 4-7-13-28-12z"/><path fill="#484cef" d="M1827 617l29 10-7-4-28-9z"/><path fill="url(#s1_g1)" d="M1917 598l29 19-7-6-28-18z"/><path fill="#4746eb" d="M1403 638l9-13-6-5-10 15z"/><path fill="url(#s1_g5)" d="M1458 649l3-38-7 16-2 19z"/><path fill="url(#s1_g0)" d="M1548 650l3-15-7-24-2 35z"/><path fill="url(#s1_g12)" d="M1638 650l3-21-7-11-2 27z"/><path fill="url(#s1_g5)" d="M1728 649l3-40-7 5-2 31z"/><path fill="url(#s1_g5)" d="M1818 648l3-34-7-10-2 41z"/><path fill="url(#s1_g4)" d="M1908 648l3-55-7 6-2 46z"/><path fill="#463bdd" d="M1425 633l27 13-7-3-26-10zM1515 643l27 3-7-4-26-15zM1695 643l27 2-7-3-26-10zM1785 637l27 8-7-3-26-2zM1875 636l27 9-7-3-26-18z"/><path fill="#4536d5" d="M1605 644l27 1-7-2-26-3z"/><path fill="url(#s1_g20)" d="M1474 614l28 13-6 11-29 3z"/><path fill="url(#s1_g15)" d="M1564 614l28 14-6-13-29-23z"/><path fill="#4746eb" d="M1654 626l28 8-6-4-29 4zM1744 624l28 7-6 3-29-4z"/><path fill="#484cef" d="M1834 620l28 10-6-3-29-10z"/><path fill="url(#s1_g1)" d="M1924 597l28 19-6 1-29-19z"/><path fill="#4741e5" d="M1410 645l9-12-7-8-9 13z"/><path fill="url(#s1_g5)" d="M1465 653l2-12-6-30-3 38z"/><path fill="url(#s1_g25)" d="M1555 652l2-60-6 43-3 15z"/><path fill="#463bdd" d="M1645 653l2-19-6-5-3 21zM1432 648l26 1-6-3-27-13zM1522 636l26 14-6-4-27-3zM1792 630l26 18-6-3-27-8zM1882 636l26 12-6-3-27-9z"/><path fill="url(#s1_g5)" d="M1735 652l2-22-6-21-3 40z"/><path fill="url(#s1_g0)" d="M1825 652l2-35-6-3-3 34z"/><path fill="url(#s1_g4)" d="M1915 651l2-53-6-5-3 55z"/><path fill="#4536d5" d="M1612 646l26 4-6-5-27-1z"/><path fill="url(#s1_g12)" d="M1702 629l26 20-6-4-27-2z"/><path fill="url(#s1_g19)" d="M1480 610l29 17-7 0-28-13z"/><path fill="url(#s1_g26)" d="M1570 641l29-1-7-12-28-14z"/><path fill="#484cef" d="M1660 622l29 10-7 2-28-8z"/><path fill="#4746eb" d="M1750 638l29 2-7-9-28-7z"/><path fill="url(#s1_g16)" d="M1840 610l29 14-7 6-28-10z"/><path fill="url(#s1_g3)" d="M1930 621l29 11-7-16-28-19z"/><path fill="#4741e5" d="M1416 646l9-13-6 0-9 12z"/><path fill="url(#s1_g5)" d="M1472 656l2-42-7 27-2 12z"/><path fill="url(#s1_g17)" d="M1561 656l3-42-7-22-2 60z"/><path fill="url(#s1_g0)" d="M1651 655l3-29-7 8-2 19z"/><path fill="url(#s1_g0)" d="M1741 655l3-31-7 6-2 22z"/><path fill="url(#s1_g0)" d="M1831 655l3-35-7-3-2 35z"/><path fill="url(#s1_g6)" d="M1921 653l3-56-7 1-2 53z"/><path fill="#4536d5" d="M1439 654l26-1-7-4-26-1z"/><path fill="#463bdd" d="M1528 638l27 14-7-2-26-14zM1618 645l27 8-7-3-26-4zM1798 645l27 7-7-4-26-18z"/><path fill="url(#s1_g12)" d="M1708 644l27 8-7-3-26-20z"/><path fill="url(#s1_g12)" d="M1888 631l27 20-7-3-26-12z"/><path fill="url(#s1_g8)" d="M1487 636l28 7-6-16-29-17z"/><path fill="#4741e5" d="M1577 641l28 3-6-4-29 1z"/><path fill="#4746eb" d="M1667 639l28 4-6-11-29-10zM1757 633l28 4-6 3-29-2z"/><path fill="url(#s1_g16)" d="M1847 631l28 5-6-12-29-14z"/><path fill="#463bdd" d="M1423 656l9-8-7-15-9 13zM1535 649l26 7-6-4-27-14zM1625 643l26 12-6-2-27-8zM1715 649l26 6-6-3-27-8zM1805 647l26 8-6-3-27-7z"/><path fill="url(#s1_g2)" d="M1478 659l2-49-6 4-2 42z"/><path fill="url(#s1_g5)" d="M1568 659l2-18-6-27-3 42z"/><path fill="url(#s1_g0)" d="M1658 658l2-36-6 4-3 29z"/><path fill="url(#s1_g0)" d="M1748 658l2-20-6-14-3 31z"/><path fill="url(#s1_g2)" d="M1838 658l2-48-6 10-3 35z"/><path fill="url(#s1_g4)" d="M1928 657l2-36-6-24-3 56z"/><path fill="#4536d5" d="M1445 656l27 0-7-3-26 1z"/><path fill="url(#s1_g14)" d="M1895 636l26 17-6-2-27-20z"/><path fill="#484cef" d="M1493 628l29 8-7 7-28-7z"/><path fill="#4741e5" d="M1583 644l29 2-7-2-28-3z"/><path fill="url(#s1_g23)" d="M1673 612l29 17-7 14-28-4z"/><path fill="url(#s1_g3)" d="M1763 613l29 17-7 7-28-4z"/><path fill="#484cef" d="M1853 622l29 14-7 0-28-5z"/><path fill="#4536d5" d="M1429 661l10-7-7-6-9 8z"/><path fill="url(#s1_g22)" d="M1485 662l2-26-7-26-2 49z"/><path fill="#463bdd" d="M1575 662l2-21-7 0-2 18zM1541 650l27 9-7-3-26-7zM1631 645l27 13-7-3-26-12zM1721 652l27 6-7-3-26-6zM1811 646l27 12-7-3-26-8z"/><path fill="url(#s1_g21)" d="M1664 661l3-22-7-17-2 36z"/><path fill="url(#s1_g14)" d="M1754 660l3-27-7 5-2 20z"/><path fill="url(#s1_g2)" d="M1844 661l3-30-7-21-2 48z"/><path fill="url(#s1_g0)" d="M1452 634l26 25-6-3-27 0z"/><path fill="#4741e5" d="M1901 645l27 12-7-4-26-17z"/><path fill="#4852f4" d="M1500 623l28 15-6-2-29-8z"/><path fill="#4746eb" d="M1590 637l28 8-6 1-29-2z"/><path fill="url(#s1_g3)" d="M1680 635l28 9-6-15-29-17z"/><path fill="url(#s1_g23)" d="M1770 637l28 8-6-15-29-17z"/><path fill="url(#s1_g15)" d="M1860 608l28 23-6 5-29-14z"/><path fill="#4536d5" d="M1436 662l9-6-6-2-10 7z"/><path fill="url(#s1_g5)" d="M1491 665l2-37-6 8-2 26z"/><path fill="#463bdd" d="M1581 665l2-21-6-3-2 21zM1548 650l27 12-7-3-27-9zM1638 654l26 7-6-3-27-13zM1728 657l26 3-6-2-27-6zM1818 647l26 14-6-3-27-12z"/><path fill="url(#s1_g4)" d="M1671 665l2-53-6 27-3 22z"/><path fill="url(#s1_g4)" d="M1761 664l2-51-6 20-3 27z"/><path fill="url(#s1_g5)" d="M1851 664l2-42-6 9-3 30z"/><path fill="url(#s1_g21)" d="M1458 646l27 16-7-3-26-25z"/><path fill="url(#s1_g16)" d="M1506 644l29 5-7-11-28-15z"/><path fill="#484cef" d="M1596 630l29 13-7 2-28-8zM1686 640l29 9-7-5-28-9zM1776 639l29 8-7-2-28-8zM1513 638l28 12-6-1-29-5z"/><path fill="url(#s1_g28)" d="M1866 620l29 16-7-5-28-23z"/><path fill="url(#s1_g21)" d="M1442 653l10-19-7 22-9 6z"/><path fill="url(#s1_g22)" d="M1498 668l2-45-7 5-2 37z"/><path fill="url(#s1_g0)" d="M1588 669l2-32-7 7-2 21z"/><path fill="url(#s1_g4)" d="M1677 668l3-33-7-23-2 53z"/><path fill="url(#s1_g4)" d="M1767 668l3-31-7-24-2 51z"/><path fill="url(#s1_g25)" d="M1857 667l3-59-7 14-2 42z"/><path fill="#463bdd" d="M1465 661l26 4-6-3-27-16zM1555 650l26 15-6-3-27-12zM1644 653l27 12-7-4-26-7zM1734 656l27 8-7-4-26-3zM1824 660l27 4-7-3-26-14z"/><path fill="#4852f4" d="M1603 634l28 11-6-2-29-13z"/><path fill="#4746eb" d="M1693 644l28 8-6-3-29-9zM1449 660l9-14-6-12-10 19z"/><path fill="#484cef" d="M1783 635l28 11-6 1-29-8zM1520 638l28 12-7 0-28-12zM1609 643l29 11-7-9-28-11z"/><path fill="url(#s1_g16)" d="M1873 629l28 16-6-9-29-16z"/><path fill="url(#s1_g2)" d="M1504 672l2-28-6-21-2 45z"/><path fill="url(#s1_g5)" d="M1594 671l2-41-6 7-2 32z"/><path fill="url(#s1_g0)" d="M1684 672l2-32-6-5-3 33z"/><path fill="url(#s1_g0)" d="M1774 671l2-32-6-2-3 31z"/><path fill="url(#s1_g17)" d="M1864 670l2-50-6-12-3 59z"/><path fill="#463bdd" d="M1471 657l27 11-7-3-26-4zM1561 660l27 9-7-4-26-15zM1651 652l26 16-6-3-27-12zM1741 665l26 3-6-4-27-8zM1831 655l26 12-6-3-27-4z"/><path fill="#4746eb" d="M1699 653l29 4-7-5-28-8zM1706 650l28 6-6 1-29-4z"/><path fill="url(#s1_g19)" d="M1789 628l29 19-7-1-28-11z"/><path fill="#4741e5" d="M1455 671l10-10-7-15-9 14z"/><path fill="url(#s1_g5)" d="M1511 675l2-37-7 6-2 28z"/><path fill="url(#s1_g5)" d="M1601 675l2-41-7-4-2 41z"/><path fill="url(#s1_g21)" d="M1691 674l2-30-7-4-2 32z"/><path fill="url(#s1_g18)" d="M1780 674l3-39-7 4-2 32z"/><path fill="url(#s1_g2)" d="M1870 674l3-45-7-9-2 50z"/><path fill="#463bdd" d="M1478 661l26 11-6-4-27-11zM1568 659l26 12-6-2-27-9zM1658 665l26 7-7-4-26-16z"/><path fill="#4536d5" d="M1747 672l27-1-7-3-26-3z"/><path fill="url(#s1_g0)" d="M1837 645l27 25-7-3-26-12z"/><path fill="#4852f4" d="M1526 635l29 15-7 0-28-12z"/><path fill="#484cef" d="M1616 643l28 10-6 1-29-11z"/><path fill="url(#s1_g8)" d="M1796 654l28 6-6-13-29-19z"/><path fill="#4741e5" d="M1462 669l9-12-6 4-10 10zM1468 673l10-12-7-4-9 12z"/><path fill="url(#s1_g5)" d="M1517 679l3-41-7 0-2 37z"/><path fill="url(#s1_g5)" d="M1607 678l2-35-6-9-2 41z"/><path fill="url(#s1_g0)" d="M1697 678l2-25-6-9-2 30z"/><path fill="url(#s1_g2)" d="M1787 678l2-50-6 7-3 39z"/><path fill="#463bdd" d="M1484 666l27 9-7-3-26-11zM1574 659l27 16-7-4-26-12zM1664 663l27 11-7-2-26-7z"/><path fill="#4536d5" d="M1754 670l26 4-6-3-27 1z"/><path fill="url(#s1_g0)" d="M1844 659l26 15-6-4-27-25z"/><path fill="url(#s1_g16)" d="M1533 652l28 8-6-10-29-15z"/><path fill="url(#s1_g3)" d="M1623 632l28 20-7 1-28-10z"/><path fill="#4746eb" d="M1712 658l29 7-7-9-28-6z"/><path fill="#484cef" d="M1802 644l29 11-7 5-28-6z"/><path fill="url(#s1_g2)" d="M1524 682l2-47-6 3-3 41z"/><path fill="url(#s1_g5)" d="M1614 681l2-38-7 0-2 35z"/><path fill="url(#s1_g0)" d="M1704 681l2-31-7 3-2 25z"/><path fill="url(#s1_g22)" d="M1794 680l2-26-7-26-2 50z"/><path fill="#463bdd" d="M1491 664l26 15-6-4-27-9zM1581 679l26-1-6-3-27-16zM1671 667l26 11-6-4-27-11zM1760 666l27 12-7-4-26-4z"/><path fill="#484cef" d="M1539 649l29 10-7 1-28-8z"/><path fill="url(#s1_g23)" d="M1629 659l29 6-7-13-28-20z"/><path fill="#4741e5" d="M1719 671l28 1-6-7-29-7zM1475 676l9-10-6-5-10 12z"/><path fill="url(#s1_g7)" d="M1809 615l28 30-6 10-29-11z"/><path fill="url(#s1_g2)" d="M1530 685l3-33-7-17-2 47z"/><path fill="url(#s1_g4)" d="M1620 684l3-52-7 11-2 38z"/><path fill="url(#s1_g0)" d="M1710 684l2-26-6-8-2 31z"/><path fill="url(#s1_g5)" d="M1800 684l2-40-6 10-2 26z"/><path fill="#463bdd" d="M1497 676l27 6-7-3-26-15zM1677 663l27 18-7-3-26-11zM1717 687l2-16-7-13-2 26zM1504 676l26 9-6-3-27-6zM1594 677l26 7-6-3-27-8z"/><path fill="#4536d5" d="M1587 673l27 8-7-3-26 1z"/><path fill="url(#s1_g21)" d="M1767 656l27 24-7-2-27-12z"/><path fill="url(#s1_g19)" d="M1546 643l28 16-6 0-29-10z"/><path fill="#484cef" d="M1636 655l28 8-6 2-29-6z"/><path fill="#4741e5" d="M1725 666l29 4-7 2-28-1zM1481 677l10-13-7 2-9 10z"/><path fill="url(#s1_g24)" d="M1815 647l29 12-7-14-28-30z"/><path fill="url(#s1_g5)" d="M1537 688l2-39-6 3-3 33z"/><path fill="url(#s1_g4)" d="M1627 688l2-29-6-27-3 52z"/><path fill="url(#s1_g10)" d="M1807 687l2-72-7 29-2 40z"/><path fill="url(#s1_g0)" d="M1684 663l26 21-6-3-27-18z"/><path fill="url(#s1_g0)" d="M1774 678l26 6-6-4-27-24z"/><path fill="url(#s1_g8)" d="M1552 680l29-1-7-20-28-16z"/><path fill="#484cef" d="M1642 659l29 8-7-4-28-8zM1732 657l28 9-6 4-29-4z"/><path fill="#4741e5" d="M1488 686l9-10-6-12-10 13z"/><path fill="url(#s1_g2)" d="M1543 692l3-49-7 6-2 39z"/><path fill="url(#s1_g0)" d="M1633 691l3-36-7 4-2 29z"/><path fill="#463bdd" d="M1723 691l2-25-6 5-2 16zM1510 681l27 7-7-3-26-9zM1600 686l27 2-7-4-26-7zM1780 670l27 17-7-3-26-6z"/><path fill="url(#s1_g10)" d="M1813 690l2-43-6-32-2 72z"/><path fill="url(#s1_g0)" d="M1690 680l27 7-7-3-26-21z"/><path fill="url(#s1_g27)" d="M1559 663l28 10-6 6-29 1z"/><path fill="url(#s1_g3)" d="M1649 645l28 18-6 4-29-8z"/><path fill="url(#s1_g7)" d="M1739 628l28 28-7 10-28-9z"/><path fill="#463bdd" d="M1494 687l10-11-7 0-9 10zM1517 677l26 15-6-4-27-7zM1607 680l26 11-6-3-27-2zM1697 677l26 14-6-4-27-7zM1787 678l26 12-6-3-27-17z"/><path fill="url(#s1_g2)" d="M1550 694l2-14-6-37-3 49z"/><path fill="url(#s1_g0)" d="M1640 694l2-35-6-4-3 36z"/><path fill="url(#s1_g0)" d="M1730 694l2-37-7 9-2 25z"/><path fill="#484cef" d="M1565 673l29 4-7-4-28-10z"/><path fill="url(#s1_g29)" d="M1655 644l29 19-7 0-28-18z"/><path fill="url(#s1_g9)" d="M1745 675l29 3-7-22-28-28z"/><path fill="#4741e5" d="M1501 690l9-9-6-5-10 11z"/><path fill="url(#s1_g0)" d="M1556 697l3-34-7 17-2 14z"/><path fill="url(#s1_g4)" d="M1646 697l3-52-7 14-2 35z"/><path fill="url(#s1_g10)" d="M1736 697l3-69-7 29-2 37z"/><path fill="#463bdd" d="M1523 686l27 8-7-2-26-15zM1613 681l27 13-7-3-26-11zM1703 681l27 13-7-3-26-14zM1530 685l26 12-6-3-27-8zM1620 680l26 17-6-3-27-13z"/><path fill="#4741e5" d="M1572 686l28 0-6-9-29-4zM1507 690l10-13-7 4-9 9zM1514 697l9-11-6-9-10 13z"/><path fill="url(#s1_g23)" d="M1662 670l28 10-6-17-29-19z"/><path fill="url(#s1_g23)" d="M1752 652l28 18-6 8-29-3z"/><path fill="url(#s1_g0)" d="M1563 700l2-27-6-10-3 34z"/><path fill="url(#s1_g4)" d="M1653 700l2-56-6 1-3 52z"/><path fill="url(#s1_g10)" d="M1743 700l2-25-6-47-3 69z"/><path fill="url(#s1_g12)" d="M1710 676l26 21-6-3-27-13z"/><path fill="url(#s1_g20)" d="M1578 669l29 11-7 6-28 0z"/><path fill="url(#s1_g8)" d="M1668 663l29 14-7 3-28-10z"/><path fill="url(#s1_g3)" d="M1758 665l29 13-7-8-28-18z"/><path fill="url(#s1_g12)" d="M1569 704l3-18-7-13-2 27z"/><path fill="url(#s1_g6)" d="M1659 703l3-33-7-26-2 56z"/><path fill="url(#s1_g4)" d="M1749 704l3-52-7 23-2 25z"/><path fill="#463bdd" d="M1536 695l27 5-7-3-26-12zM1543 691l26 13-6-4-27-5zM1633 695l26 8-6-3-27-15zM1723 697l26 7-6-4-27-15z"/><path fill="#4741e5" d="M1626 685l27 15-7-3-26-17zM1520 697l10-12-7 1-9 11z"/><path fill="url(#s1_g12)" d="M1716 685l27 15-7-3-26-21z"/><path fill="#4852f4" d="M1585 666l28 15-6-1-29-11zM1675 670l28 11-6-4-29-14zM1591 669l29 11-7 1-28-15z"/><path fill="url(#s1_g5)" d="M1576 707l2-38-6 17-3 18z"/><path fill="url(#s1_g2)" d="M1666 707l2-44-6 7-3 33z"/><path fill="url(#s1_g4)" d="M1756 707l2-42-6-13-3 52z"/><path fill="url(#s1_g15)" d="M1681 654l29 22-7 5-28-11z"/><path fill="#4741e5" d="M1527 706l9-11-6-10-10 12zM1533 705l10-14-7 4-9 11z"/><path fill="url(#s1_g2)" d="M1582 710l3-44-7 3-2 38z"/><path fill="url(#s1_g22)" d="M1672 709l3-39-7-7-2 44z"/><path fill="#463bdd" d="M1549 696l27 11-7-3-26-13zM1639 697l27 10-7-4-26-8zM1729 694l27 13-7-3-26-7zM1556 694l26 16-6-3-27-11zM1646 701l26 8-6-2-27-10z"/><path fill="#4852f4" d="M1598 672l28 13-6-5-29-11z"/><path fill="url(#s1_g28)" d="M1688 671l28 14-6-9-29-22z"/><path fill="url(#s1_g2)" d="M1589 713l2-44-6-3-3 44z"/><path fill="url(#s1_g17)" d="M1679 713l2-59-6 16-3 39z"/><path fill="url(#s1_g16)" d="M1604 684l29 11-7-10-28-13z"/><path fill="url(#s1_g8)" d="M1694 692l29 5-7-12-28-14z"/><path fill="#4741e5" d="M1540 708l9-12-6-5-10 14zM1546 708l10-14-7 2-9 12zM1553 717l9-12-6-11-10 14z"/><path fill="url(#s1_g2)" d="M1595 717l3-45-7-3-2 44z"/><path fill="url(#s1_g17)" d="M1685 716l3-45-7-17-2 59z"/><path fill="#463bdd" d="M1562 705l27 8-7-3-26-16zM1652 709l27 4-7-4-26-8zM1569 703l26 14-6-4-27-8zM1659 701l26 15-6-3-27-4z"/><path fill="#484cef" d="M1611 688l28 9-6-2-29-11zM1617 693l29 8-7-4-28-9z"/><path fill="url(#s1_g20)" d="M1701 681l28 13-6 3-29-5z"/><path fill="url(#s1_g2)" d="M1602 720l2-36-6-12-3 45z"/><path fill="url(#s1_g2)" d="M1692 720l2-28-6-21-3 45z"/><path fill="url(#s1_g0)" d="M1608 723l3-35-7-4-2 36z"/><path fill="url(#s1_g18)" d="M1698 722l3-41-7 11-2 28z"/><path fill="#463bdd" d="M1575 704l27 16-7-3-26-14zM1665 717l27 3-7-4-26-15zM1582 714l26 9-6-3-27-16zM1672 710l26 12-6-2-27-3z"/><path fill="#4746eb" d="M1624 703l28 6-6-8-29-8z"/><path fill="#4741e5" d="M1559 718l10-15-7 2-9 12zM1566 717l9-13-6-1-10 15zM1573 725l9-11-7-10-9 13z"/><path fill="url(#s1_g21)" d="M1615 725l2-32-6-5-3 35z"/><path fill="url(#s1_g8)" d="M1630 688l29 13-7 8-28-6z"/><path fill="url(#s1_g0)" d="M1622 729l2-26-7-10-2 32z"/><path fill="url(#s1_g14)" d="M1588 706l27 19-7-2-26-9z"/><path fill="url(#s1_g16)" d="M1637 717l28 0-6-16-29-13z"/><path fill="url(#s1_g2)" d="M1628 732l2-44-6 15-2 26z"/><path fill="url(#s1_g12)" d="M1595 711l27 18-7-4-27-19z"/><path fill="url(#s1_g20)" d="M1643 698l29 12-7 7-28 0z"/><path fill="#4741e5" d="M1579 722l9-16-6 8-9 11zM1605 740l10-12-7-1-9 10z"/><path fill="url(#s1_g2)" d="M1635 736l2-19-7-29-2 44z"/><path fill="#463bdd" d="M1602 735l26-3-6-3-27-18zM1592 741l10-6-7-24-9 15zM1615 728l26 11-6-3-27-9zM1599 737l9-10-6 8-10 6z"/><path fill="#4746eb" d="M1586 726l9-15-7-5-9 16z"/><path fill="url(#s1_g5)" d="M1641 739l2-41-6 19-2 19z"/><path fill="#4536d5" d="M1608 727l27 9-7-4-26 3z"/><path fill="#9d99e9" fill-opacity="1" d="M2048 629l12-3-3-35-12-7zM2046 630l2-1-3-45-3 42zM2019 638l27-8-4-4-26-13zM1991 646l28-8-3-25-29-10zM1988 646l3 0-4-43-2 38zM1962 654l26-8-3-5-26-9zM1933 662l29-8-3-22-29-11zM1931 662l2 0-3-41-2 36zM1904 670l27-8-3-5-27-12zM1876 678l28-8-3-25-28-16zM1874 679l2-1-3-49-3 45zM1847 686l27-7-4-5-26-15zM1819 694l28-8-3-27-29-12zM1816 695l3-1-4-47-2 43zM1790 702l26-7-3-5-26-12zM1761 710l29-8-3-24-29-13zM1759 711l2-1-3-45-2 42zM1732 719l27-8-3-4-27-13zM1704 727l28-8-3-25-28-13zM1702 727l2 0-3-46-3 41zM1675 735l27-8-4-5-26-12zM1647 743l28-8-3-25-29-12zM1644 743l3 0-4-45-2 41zM1618 751l26-8-3-4-26-11zM1608 754l10-3-3-23-10 12z"/></g><line x1="315.7" y1="146.3" x2="315.7" y2="57.2" stroke="#4d4d4d" stroke-width="0.6"/><line x1="402.1" y1="188.4" x2="515" y2="156.5" stroke="#4d4d4d" stroke-width="0.6"/><line x1="402.1" y1="188.4" x2="315.7" y2="146.3" stroke="#4d4d4d" stroke-width="0.6"/><line x1="315.7" y1="146.3" x2="313.7" y2="145.3" stroke="#4d4d4d" stroke-width="0.6"/><text x="310.1" y="147.5" text-anchor="end" class="t">0</text><line x1="315.7" y1="124" x2="313.7" y2="123" stroke="#4d4d4d" stroke-width="0.6"/><text x="310.1" y="125.2" text-anchor="end" class="t">100</text><line x1="315.7" y1="101.8" x2="313.7" y2="100.8" stroke="#4d4d4d" stroke-width="0.6"/><text x="310.1" y="102.9" text-anchor="end" class="t">200</text><line x1="315.7" y1="79.5" x2="313.7" y2="78.5" stroke="#4d4d4d" stroke-width="0.6"/><text x="310.1" y="80.6" text-anchor="end" class="t">300</text><line x1="315.7" y1="57.2" x2="313.7" y2="56.2" stroke="#4d4d4d" stroke-width="0.6"/><text x="310.1" y="58.4" text-anchor="end" class="t">400</text><line x1="375.5" y1="175.4" x2="375" y2="177.4" stroke="#4d4d4d" stroke-width="0.6"/><line x1="348.3" y1="162.2" x2="347.8" y2="164.2" stroke="#4d4d4d" stroke-width="0.6"/><line x1="321.1" y1="148.9" x2="320.6" y2="150.9" stroke="#4d4d4d" stroke-width="0.6"/><text x="366.1" y="185.6" text-anchor="middle" class="t">50</text><text x="336.8" y="172.7" text-anchor="middle" class="t">100</text><text x="309.8" y="159.7" text-anchor="middle" class="t">150</text><line x1="421.7" y1="182.9" x2="422.3" y2="184.9" stroke="#4d4d4d" stroke-width="0.6"/><line x1="446.3" y1="175.9" x2="446.9" y2="177.9" stroke="#4d4d4d" stroke-width="0.6"/><line x1="470.8" y1="169" x2="471.4" y2="171" stroke="#4d4d4d" stroke-width="0.6"/><line x1="495.4" y1="162" x2="496" y2="164" stroke="#4d4d4d" stroke-width="0.6"/><text x="429.3" y="193.8" text-anchor="middle" class="t">5</text><text x="456.1" y="186.5" text-anchor="middle" class="t">10</text><text x="480.5" y="180.2" text-anchor="middle" class="t">15</text><text x="504.5" y="173.1" text-anchor="middle" class="t">20</text><text transform="translate(328.6 176.9) rotate(27)" text-anchor="middle" class="t" y="2.6">Day</text><text transform="translate(470.1 189) rotate(-18)" text-anchor="middle" class="t" y="2.6">Hour</text><text transform="translate(289.4 101.5) rotate(-90)" text-anchor="middle" class="t" style="font-size:8px" y="2.86">PM<tspan font-size="5.6" dy="1.9">2.5</tspan><tspan dy="-1.9"> (</tspan>&#956;g/m<tspan font-size="5.6" dy="-3">3</tspan><tspan dy="3">)</tspan></text><linearGradient id="cb1" x1="0" y1="0" x2="0" y2="1"><stop offset="0%" stop-color="#f9fb15"/><stop offset="6.2%" stop-color="#f5e327"/><stop offset="12.5%" stop-color="#feca33"/><stop offset="18.8%" stop-color="#f1ba37"/><stop offset="25%" stop-color="#c8c129"/><stop offset="31.2%" stop-color="#94ca4a"/><stop offset="37.5%" stop-color="#5ccc76"/><stop offset="43.8%" stop-color="#34c79c"/><stop offset="50%" stop-color="#12beb9"/><stop offset="56.2%" stop-color="#0cb3d3"/><stop offset="62.5%" stop-color="#21a3e3"/><stop offset="68.8%" stop-color="#2c90f0"/><stop offset="75%" stop-color="#347afd"/><stop offset="81.2%" stop-color="#4562fc"/><stop offset="87.5%" stop-color="#484cef"/><stop offset="93.8%" stop-color="#4536d5"/><stop offset="100%" stop-color="#3e26a8"/></linearGradient><rect x="519.9" y="25.4" width="5" height="163.2" fill="url(#cb1)"/><line x1="523.7" y1="188.6" x2="524.9" y2="188.6" stroke="#262626" stroke-width="0.5"/><text x="527.8" y="191" class="c">0</text><line x1="523.7" y1="168.2" x2="524.9" y2="168.2" stroke="#262626" stroke-width="0.5"/><text x="527.8" y="170.6" class="c">50</text><line x1="523.7" y1="147.8" x2="524.9" y2="147.8" stroke="#262626" stroke-width="0.5"/><text x="527.8" y="150.2" class="c">100</text><line x1="523.7" y1="127.4" x2="524.9" y2="127.4" stroke="#262626" stroke-width="0.5"/><text x="527.8" y="129.8" class="c">150</text><line x1="523.7" y1="107" x2="524.9" y2="107" stroke="#262626" stroke-width="0.5"/><text x="527.8" y="109.4" class="c">200</text><line x1="523.7" y1="86.6" x2="524.9" y2="86.6" stroke="#262626" stroke-width="0.5"/><text x="527.8" y="89" class="c">250</text><line x1="523.7" y1="66.2" x2="524.9" y2="66.2" stroke="#262626" stroke-width="0.5"/><text x="527.8" y="68.6" class="c">300</text><line x1="523.7" y1="45.8" x2="524.9" y2="45.8" stroke="#262626" stroke-width="0.5"/><text x="527.8" y="48.2" class="c">350</text><line x1="523.7" y1="25.4" x2="524.9" y2="25.4" stroke="#262626" stroke-width="0.5"/><text x="527.8" y="27.8" class="c">400</text><text x="522.7" y="22.2" class="c" style="font-size:7.6px" text-anchor="middle">&#956;g/m<tspan font-size="5.2" dy="-2.9">3</tspan></text><text x="293" y="23.5" class="ti" textLength="69" lengthAdjust="spacingAndGlyphs">(b) Linear regression</text><line x1="49.4" y1="330.2" x2="162.3" y2="298.3" stroke="#e3e3e3" stroke-width="0.6"/><line x1="162.3" y1="298.3" x2="248.7" y2="340.4" stroke="#e3e3e3" stroke-width="0.6"/><line x1="49.4" y1="307.9" x2="162.3" y2="276.1" stroke="#e3e3e3" stroke-width="0.6"/><line x1="162.3" y1="276.1" x2="248.7" y2="318.1" stroke="#e3e3e3" stroke-width="0.6"/><line x1="49.4" y1="285.7" x2="162.3" y2="253.8" stroke="#e3e3e3" stroke-width="0.6"/><line x1="162.3" y1="253.8" x2="248.7" y2="295.9" stroke="#e3e3e3" stroke-width="0.6"/><line x1="49.4" y1="263.4" x2="162.3" y2="231.5" stroke="#e3e3e3" stroke-width="0.6"/><line x1="162.3" y1="231.5" x2="248.7" y2="273.6" stroke="#e3e3e3" stroke-width="0.6"/><line x1="69" y1="347" x2="69" y2="257.9" stroke="#e3e3e3" stroke-width="0.6"/><line x1="155.4" y1="389.1" x2="69" y2="347" stroke="#e3e3e3" stroke-width="0.6"/><line x1="93.6" y1="340" x2="93.6" y2="250.9" stroke="#e3e3e3" stroke-width="0.6"/><line x1="180" y1="382.1" x2="93.6" y2="340" stroke="#e3e3e3" stroke-width="0.6"/><line x1="118.1" y1="333.1" x2="118.1" y2="244" stroke="#e3e3e3" stroke-width="0.6"/><line x1="204.5" y1="375.2" x2="118.1" y2="333.1" stroke="#e3e3e3" stroke-width="0.6"/><line x1="142.7" y1="326.1" x2="142.7" y2="237" stroke="#e3e3e3" stroke-width="0.6"/><line x1="229.1" y1="368.2" x2="142.7" y2="326.1" stroke="#e3e3e3" stroke-width="0.6"/><line x1="222.1" y1="349.7" x2="222.1" y2="260.6" stroke="#e3e3e3" stroke-width="0.6"/><line x1="109.2" y1="381.6" x2="222.1" y2="349.7" stroke="#e3e3e3" stroke-width="0.6"/><line x1="194.9" y1="336.5" x2="194.9" y2="247.4" stroke="#e3e3e3" stroke-width="0.6"/><line x1="82" y1="368.4" x2="194.9" y2="336.5" stroke="#e3e3e3" stroke-width="0.6"/><line x1="167.7" y1="323.2" x2="167.7" y2="234.1" stroke="#e3e3e3" stroke-width="0.6"/><line x1="54.8" y1="355.1" x2="167.7" y2="323.2" stroke="#e3e3e3" stroke-width="0.6"/><line x1="162.3" y1="320.6" x2="162.3" y2="231.5" stroke="#e3e3e3" stroke-width="0.6"/><line x1="49.4" y1="352.5" x2="162.3" y2="320.6" stroke="#e3e3e3" stroke-width="0.6"/><line x1="162.3" y1="320.6" x2="248.7" y2="362.7" stroke="#e3e3e3" stroke-width="0.6"/><defs><linearGradient id="s2_g0" x2="0" y2="1"><stop offset="0" stop-color="#4561fc"/><stop offset="0.5" stop-color="#4848ec"/><stop offset="1" stop-color="#4332c9"/></linearGradient><linearGradient id="s2_g1" x2="0" y2="1"><stop offset="0" stop-color="#4369fe"/><stop offset="0.5" stop-color="#484cef"/><stop offset="1" stop-color="#4332c9"/></linearGradient><linearGradient id="s2_g2" x2="0" y2="1"><stop offset="0" stop-color="#3d70ff"/><stop offset="0.5" stop-color="#4850f2"/><stop offset="1" stop-color="#4332c9"/></linearGradient><linearGradient id="s2_g3" x2="0" y2="1"><stop offset="0" stop-color="#3d70ff"/><stop offset="0.5" stop-color="#4853f5"/><stop offset="1" stop-color="#4537d6"/></linearGradient><linearGradient id="s2_g4" x2="0" y2="1"><stop offset="0" stop-color="#4561fc"/><stop offset="0.5" stop-color="#484cef"/><stop offset="1" stop-color="#4537d6"/></linearGradient><linearGradient id="s2_g5" x2="0" y2="1"><stop offset="0" stop-color="#4853f5"/><stop offset="0.5" stop-color="#4741e5"/><stop offset="1" stop-color="#4332c9"/></linearGradient><linearGradient id="s2_g6" x2="0" y2="1"><stop offset="0" stop-color="#4369fe"/><stop offset="0.5" stop-color="#4757f7"/><stop offset="1" stop-color="#4745e9"/></linearGradient><linearGradient id="s2_g7" x2="0" y2="1"><stop offset="0" stop-color="#475af9"/><stop offset="0.5" stop-color="#4745e9"/><stop offset="1" stop-color="#4332c9"/></linearGradient><linearGradient id="s2_g8" x2="0" y2="1"><stop offset="0" stop-color="#4853f5"/><stop offset="0.5" stop-color="#4745e9"/><stop offset="1" stop-color="#4537d6"/></linearGradient><linearGradient id="s2_g9" x2="0" y2="1"><stop offset="0" stop-color="#4369fe"/><stop offset="0.5" stop-color="#4853f5"/><stop offset="1" stop-color="#463ee1"/></linearGradient><linearGradient id="s2_g10" x2="0" y2="1"><stop offset="0" stop-color="#3d70ff"/><stop offset="0.5" stop-color="#465efb"/><stop offset="1" stop-color="#484cef"/></linearGradient><linearGradient id="s2_g11" x2="0" y2="1"><stop offset="0" stop-color="#3d70ff"/><stop offset="0.5" stop-color="#475af9"/><stop offset="1" stop-color="#4745e9"/></linearGradient><linearGradient id="s2_g12" x2="0" y2="1"><stop offset="0" stop-color="#4369fe"/><stop offset="0.5" stop-color="#475af9"/><stop offset="1" stop-color="#484cef"/></linearGradient><linearGradient id="s2_g13" x2="0" y2="1"><stop offset="0" stop-color="#4561fc"/><stop offset="0.5" stop-color="#4853f5"/><stop offset="1" stop-color="#4745e9"/></linearGradient><linearGradient id="s2_g14" x2="0" y2="1"><stop offset="0" stop-color="#484cef"/><stop offset="0.5" stop-color="#463ee1"/><stop offset="1" stop-color="#4332c9"/></linearGradient><linearGradient id="s2_g15" x2="0" y2="1"><stop offset="0" stop-color="#475af9"/><stop offset="0.5" stop-color="#4848ec"/><stop offset="1" stop-color="#4537d6"/></linearGradient><linearGradient id="s2_g16" x2="0" y2="1"><stop offset="0" stop-color="#4561fc"/><stop offset="0.5" stop-color="#4850f2"/><stop offset="1" stop-color="#463ee1"/></linearGradient><linearGradient id="s2_g17" x2="0" y2="1"><stop offset="0" stop-color="#2d8df2"/><stop offset="0.5" stop-color="#4369fe"/><stop offset="1" stop-color="#4745e9"/></linearGradient><linearGradient id="s2_g18" x2="0" y2="1"><stop offset="0" stop-color="#2d8df2"/><stop offset="0.5" stop-color="#4465fd"/><stop offset="1" stop-color="#463ee1"/></linearGradient><linearGradient id="s2_g19" x2="0" y2="1"><stop offset="0" stop-color="#2d8df2"/><stop offset="0.5" stop-color="#465efb"/><stop offset="1" stop-color="#4332c9"/></linearGradient><linearGradient id="s2_g20" x2="0" y2="1"><stop offset="0" stop-color="#2d8df2"/><stop offset="0.5" stop-color="#4561fc"/><stop offset="1" stop-color="#4537d6"/></linearGradient><linearGradient id="s2_g21" x2="0" y2="1"><stop offset="0" stop-color="#475af9"/><stop offset="0.5" stop-color="#484cef"/><stop offset="1" stop-color="#463ee1"/></linearGradient><linearGradient id="s2_g22" x2="0" y2="1"><stop offset="0" stop-color="#4369fe"/><stop offset="0.5" stop-color="#4850f2"/><stop offset="1" stop-color="#4537d6"/></linearGradient><linearGradient id="s2_g23" x2="0" y2="1"><stop offset="0" stop-color="#3d70ff"/><stop offset="0.5" stop-color="#4757f7"/><stop offset="1" stop-color="#463ee1"/></linearGradient><linearGradient id="s2_g24" x2="0" y2="1"><stop offset="0" stop-color="#4561fc"/><stop offset="0.5" stop-color="#4757f7"/><stop offset="1" stop-color="#484cef"/></linearGradient><linearGradient id="s2_g25" x2="0" y2="1"><stop offset="0" stop-color="#475af9"/><stop offset="0.5" stop-color="#4850f2"/><stop offset="1" stop-color="#4745e9"/></linearGradient><linearGradient id="s2_g26" x2="0" y2="1"><stop offset="0" stop-color="#3678fd"/><stop offset="0.5" stop-color="#475af9"/><stop offset="1" stop-color="#463ee1"/></linearGradient><linearGradient id="s2_g27" x2="0" y2="1"><stop offset="0" stop-color="#4853f5"/><stop offset="0.5" stop-color="#4848ec"/><stop offset="1" stop-color="#463ee1"/></linearGradient><linearGradient id="s2_g28" x2="0" y2="1"><stop offset="0" stop-color="#3678fd"/><stop offset="0.5" stop-color="#465efb"/><stop offset="1" stop-color="#4745e9"/></linearGradient><linearGradient id="s2_g29" x2="0" y2="1"><stop offset="0" stop-color="#3678fd"/><stop offset="0.5" stop-color="#4853f5"/><stop offset="1" stop-color="#4332c9"/></linearGradient><linearGradient id="s2_g30" x2="0" y2="1"><stop offset="0" stop-color="#3678fd"/><stop offset="0.5" stop-color="#4757f7"/><stop offset="1" stop-color="#4537d6"/></linearGradient><linearGradient id="s2_g31" x2="0" y2="1"><stop offset="0" stop-color="#3678fd"/><stop offset="0.5" stop-color="#4561fc"/><stop offset="1" stop-color="#484cef"/></linearGradient><linearGradient id="s2_g32" x2="0" y2="1"><stop offset="0" stop-color="#2f80fb"/><stop offset="0.5" stop-color="#4561fc"/><stop offset="1" stop-color="#4745e9"/></linearGradient><linearGradient id="s2_g33" x2="0" y2="1"><stop offset="0" stop-color="#3d70ff"/><stop offset="0.5" stop-color="#4561fc"/><stop offset="1" stop-color="#4853f5"/></linearGradient><linearGradient id="s2_g34" x2="0" y2="1"><stop offset="0" stop-color="#2f80fb"/><stop offset="0.5" stop-color="#4465fd"/><stop offset="1" stop-color="#484cef"/></linearGradient><linearGradient id="s2_g35" x2="0" y2="1"><stop offset="0" stop-color="#2f80fb"/><stop offset="0.5" stop-color="#4757f7"/><stop offset="1" stop-color="#4332c9"/></linearGradient><linearGradient id="s2_g36" x2="0" y2="1"><stop offset="0" stop-color="#484cef"/><stop offset="0.5" stop-color="#4741e5"/><stop offset="1" stop-color="#4537d6"/></linearGradient><linearGradient id="s2_g37" x2="0" y2="1"><stop offset="0" stop-color="#2f80fb"/><stop offset="0.5" stop-color="#475af9"/><stop offset="1" stop-color="#4537d6"/></linearGradient></defs><g shape-rendering="crispEdges" transform="scale(.25)" fill-opacity="0.92"><path fill="#4757f7" d="M640 1237l12 6-3 12-12-3zM673 1268l12 2-6-14-12-7z"/><path fill="url(#s2_g0)" d="M638 1285l2-48-3 15-2 31z"/><path fill="#4562fc" d="M647 1233l12 8-7 2-12-6zM660 1244l12 8-6-16-12-6z"/><path fill="url(#s2_g1)" d="M645 1288l2-55-7 4-2 48z"/><path fill="#4368fe" d="M654 1230l12 6-7 5-12-8z"/><path fill="#463bdd" d="M612 1276l26 9-3-2-27-1zM618 1276l27 12-7-3-26-9zM625 1274l26 18-6-4-27-12zM631 1289l27 4-7-1-26-18z"/><path fill="url(#s2_g2)" d="M651 1292l3-62-7 3-2 55z"/><path fill="url(#s2_g3)" d="M658 1293l2-49-6-14-3 62z"/><path fill="#475dfa" d="M667 1249l12 7-7-4-12-8z"/><path fill="#4746eb" d="M583 1268l29 8-4 6-28 4z"/><path fill="url(#s2_g0)" d="M664 1298l3-49-7-5-2 49z"/><path fill="#484cef" d="M590 1267l28 9-6 0-29-8z"/><path fill="url(#s2_g4)" d="M671 1300l2-32-6-19-3 49z"/><path fill="url(#s2_g5)" d="M581 1301l2-33-3 18-2 13z"/><path fill="#4536d5" d="M638 1303l26-5-6-5-27-4z"/><path fill="#484cef" d="M680 1280l12 0-7-10-12-2zM686 1271l12 4-6 5-12 0z"/><path fill="url(#s2_g6)" d="M596 1253l29 21-7 2-28-9z"/><path fill="url(#s2_g7)" d="M587 1304l3-37-7 1-2 33z"/><path fill="url(#s2_g8)" d="M677 1303l3-23-7-12-2 32z"/><path fill="#463bdd" d="M644 1285l27 15-7-2-26 5zM609 1313l29-10-7-14-28-2z"/><path fill="url(#s2_g5)" d="M554 1278l27 23-3-2-27-17z"/><path fill="url(#s2_g9)" d="M603 1287l28 2-6-15-29-21z"/><path fill="url(#s2_g1)" d="M594 1307l2-54-6 14-3 37z"/><path fill="url(#s2_g5)" d="M684 1307l2-36-6 9-3 23z"/><path fill="url(#s2_g5)" d="M561 1293l26 11-6-3-27-23z"/><path fill="#4741e5" d="M651 1286l26 17-6-3-27-15z"/><path fill="#4757f7" d="M693 1264l12 3-7 8-12-4z"/><path fill="url(#s2_g1)" d="M600 1310l3-23-7-34-2 54z"/><path fill="url(#s2_g0)" d="M690 1311l3-47-7 7-2 36z"/><path fill="#463bdd" d="M567 1299l27 8-7-3-26-11zM607 1312l2 1-6-26-3 23zM574 1304l26 6-6-3-27-8zM664 1298l26 13-6-4-27-17z"/><path fill="#4741e5" d="M657 1290l27 17-7-4-26-17z"/><path fill="#475dfa" d="M699 1259l12 11-6-3-12-3z"/><path fill="url(#s2_g0)" d="M616 1269l28 16-6 18-29 10z"/><path fill="url(#s2_g10)" d="M526 1256l28 22-3 4-28-15z"/><path fill="url(#s2_g1)" d="M697 1314l2-55-6 5-3 47z"/><path fill="#4562fc" d="M706 1258l12 9-7 3-12-11z"/><path fill="url(#s2_g11)" d="M532 1284l29 9-7-15-28-22z"/><path fill="url(#s2_g12)" d="M622 1264l29 22-7-1-28-16z"/><path fill="url(#s2_g4)" d="M613 1317l3-48-7 44-2-1z"/><path fill="url(#s2_g2)" d="M703 1317l3-59-7 1-2 55z"/><path fill="url(#s2_g2)" d="M523 1318l3-62-3 11-3 49z"/><path fill="#463bdd" d="M580 1298l27 14-7-2-26-6zM670 1304l27 10-7-3-26-13zM587 1308l26 9-6-5-27-14zM497 1312l26 6-3-2-26-10z"/><path fill="url(#s2_g10)" d="M712 1285l12 3-6-21-12-9z"/><path fill="#484cef" d="M539 1290l28 9-6-6-29-9zM545 1296l29 8-7-5-28-9z"/><path fill="url(#s2_g12)" d="M629 1275l28 15-6-4-29-22z"/><path fill="url(#s2_g2)" d="M530 1321l2-37-6-28-3 62z"/><path fill="url(#s2_g1)" d="M620 1320l2-56-6 5-3 48z"/><path fill="url(#s2_g2)" d="M710 1319l2-34-6-27-3 59z"/><path fill="url(#s2_g7)" d="M677 1282l26 35-6-3-27-10z"/><path fill="url(#s2_g10)" d="M719 1262l12 8-7 18-12-3z"/><path fill="url(#s2_g13)" d="M635 1282l29 16-7-8-28-15z"/><path fill="url(#s2_g5)" d="M537 1324l2-34-7-6-2 37z"/><path fill="url(#s2_g1)" d="M626 1323l3-48-7-11-2 56z"/><path fill="url(#s2_g2)" d="M716 1323l3-61-7 23-2 34z"/><path fill="url(#s2_g14)" d="M503 1301l27 20-7-3-26-6z"/><path fill="#463bdd" d="M593 1308l27 12-7-3-26-9zM600 1317l26 6-6-3-27-12zM690 1308l26 15-6-4-27 2z"/><path fill="url(#s2_g15)" d="M683 1321l27-2-7-2-26-35z"/><path fill="#4562fc" d="M725 1278l12 10-6-18-12-8z"/><path fill="url(#s2_g16)" d="M552 1282l28 16-6 6-29-8z"/><path fill="url(#s2_g13)" d="M642 1296l28 8-6-6-29-16z"/><path fill="url(#s2_g8)" d="M543 1325l2-29-6-6-2 34z"/><path fill="url(#s2_g4)" d="M633 1326l2-44-6-7-3 48z"/><path fill="url(#s2_g2)" d="M723 1326l2-48-6-16-3 61z"/><path fill="url(#s2_g14)" d="M510 1316l27 8-7-3-27-20z"/><path fill="url(#s2_g13)" d="M732 1308l12 1-7-21-12-10z"/><path fill="url(#s2_g13)" d="M558 1302l29 6-7-10-28-16z"/><path fill="url(#s2_g17)" d="M648 1245l29 37-7 22-28-8z"/><path fill="#4746eb" d="M468 1305l29 7-3-6-29-7z"/><path fill="url(#s2_g0)" d="M550 1330l2-48-7 14-2 29z"/><path fill="url(#s2_g0)" d="M639 1330l3-34-7-14-2 44z"/><path fill="url(#s2_g0)" d="M729 1329l3-21-7-30-2 48z"/><path fill="#463bdd" d="M517 1313l26 12-6-1-27-8zM606 1309l27 17-7-3-26-6zM696 1316l27 10-7-3-26-15zM523 1316l27 14-7-5-26-12zM703 1322l26 7-6-3-27-10z"/><path fill="url(#s2_g13)" d="M738 1286l12 4-6 19-12-1z"/><path fill="url(#s2_g9)" d="M475 1279l28 22-6 11-29-7z"/><path fill="#484cef" d="M565 1297l28 11-6 0-29-6z"/><path fill="url(#s2_g18)" d="M655 1324l28-3-6-39-29-37z"/><path fill="url(#s2_g0)" d="M556 1333l2-31-6-20-2 48z"/><path fill="url(#s2_g19)" d="M646 1333l2-88-6 51-3 34z"/><path fill="url(#s2_g0)" d="M736 1333l2-47-6 22-3 21z"/><path fill="url(#s2_g5)" d="M466 1334l2-29-3-6-2 32z"/><path fill="#4741e5" d="M613 1316l26 14-6-4-27-17z"/><path fill="#475dfa" d="M745 1292l12 4-7-6-12-4z"/><path fill="url(#s2_g6)" d="M482 1309l28 7-7-15-28-22z"/><path fill="#484cef" d="M571 1313l29 4-7-9-28-11zM488 1303l29 10-7 3-28-7z"/><path fill="url(#s2_g16)" d="M661 1294l29 14-7 13-28 3z"/><path fill="url(#s2_g1)" d="M473 1336l2-57-7 26-2 29z"/><path fill="url(#s2_g7)" d="M563 1336l2-39-7 5-2 31z"/><path fill="url(#s2_g20)" d="M653 1335l2-11-7-79-2 88z"/><path fill="url(#s2_g0)" d="M742 1336l3-44-7-6-2 47z"/><path fill="#463bdd" d="M530 1330l26 3-6-3-27-14zM619 1317l27 16-7-3-26-14zM709 1321l27 12-7-4-26-7zM440 1315l26 19-3-3-27-8z"/><path fill="#475dfa" d="M751 1293l12 8-6-5-12-4z"/><path fill="url(#s2_g9)" d="M578 1292l28 17-6 8-29-4z"/><path fill="#4852f4" d="M668 1305l28 11-6-8-29-14z"/><path fill="url(#s2_g1)" d="M479 1340l3-31-7-30-2 57z"/><path fill="url(#s2_g7)" d="M569 1340l2-27-6-16-2 39z"/><path fill="url(#s2_g0)" d="M659 1339l2-45-6 30-2 11z"/><path fill="url(#s2_g7)" d="M749 1339l2-46-6-1-3 44z"/><path fill="#463bdd" d="M446 1326l27 10-7-2-26-19zM626 1333l27 2-7-2-27-16zM716 1329l26 7-6-3-27-12z"/><path fill="url(#s2_g14)" d="M536 1317l27 19-7-3-26-3z"/><path fill="url(#s2_g13)" d="M758 1318l12 1-7-18-12-8z"/><path fill="#4852f4" d="M495 1303l28 13-6-3-29-10z"/><path fill="url(#s2_g6)" d="M585 1305l28 11-7-7-28-17z"/><path fill="#484cef" d="M674 1315l29 7-7-6-28-11z"/><path fill="url(#s2_g7)" d="M486 1343l2-40-6 6-3 31z"/><path fill="url(#s2_g1)" d="M576 1343l2-51-7 21-2 27z"/><path fill="url(#s2_g0)" d="M666 1342l2-37-7-11-2 45z"/><path fill="url(#s2_g0)" d="M756 1342l2-24-7-25-2 46z"/><path fill="url(#s2_g5)" d="M453 1317l26 23-6-4-27-10z"/><path fill="url(#s2_g14)" d="M543 1332l26 8-6-4-27-19z"/><path fill="#463bdd" d="M633 1327l26 12-6-4-27-2zM722 1320l27 19-7-3-26-7zM549 1329l27 14-7-3-26-8z"/><path fill="#484cef" d="M764 1307l12 3-6 9-12-1zM681 1308l28 13-6 1-29-7zM771 1328l12-1-7-17-12-3z"/><path fill="url(#s2_g21)" d="M501 1326l29 4-7-14-28-13z"/><path fill="#4852f4" d="M591 1303l28 14-6-1-28-11z"/><path fill="url(#s2_g13)" d="M411 1299l29 16-4 8-28-10z"/><path fill="url(#s2_g7)" d="M492 1346l3-43-7 0-2 40z"/><path fill="url(#s2_g1)" d="M582 1346l3-41-7-13-2 51z"/><path fill="url(#s2_g7)" d="M672 1346l2-31-6-10-2 37z"/><path fill="url(#s2_g7)" d="M762 1345l2-38-6 11-2 24z"/><path fill="url(#s2_g5)" d="M459 1336l27 7-7-3-26-23z"/><path fill="url(#s2_g14)" d="M639 1322l27 20-7-3-26-12z"/><path fill="#4741e5" d="M729 1329l27 13-7-3-27-19z"/><path fill="url(#s2_g13)" d="M418 1319l28 7-6-11-29-16z"/><path fill="url(#s2_g9)" d="M508 1297l28 20-6 13-29-4z"/><path fill="url(#s2_g16)" d="M598 1330l28 3-7-16-28-14z"/><path fill="#484cef" d="M687 1325l29 4-7-8-28-13z"/><path fill="url(#s2_g7)" d="M499 1349l2-23-6-23-3 43z"/><path fill="url(#s2_g0)" d="M589 1349l2-46-6 2-3 41z"/><path fill="url(#s2_g7)" d="M679 1349l2-41-7 7-2 31z"/><path fill="url(#s2_g7)" d="M769 1349l2-21-7-21-2 38z"/><path fill="url(#s2_g0)" d="M409 1350l2-51-3 14-2 35z"/><path fill="#463bdd" d="M466 1336l26 10-6-3-27-7zM556 1333l26 13-6-3-27-14z"/><path fill="url(#s2_g14)" d="M646 1329l26 17-6-4-27-20z"/><path fill="url(#s2_g14)" d="M736 1325l26 20-6-3-27-13z"/><path fill="#4741e5" d="M777 1339l12 0-6-12-12 1z"/><path fill="url(#s2_g11)" d="M424 1293l29 24-7 9-28-7z"/><path fill="url(#s2_g9)" d="M514 1330l29 2-7-15-28-20z"/><path fill="#4746eb" d="M604 1319l29 8-7 6-28-3z"/><path fill="url(#s2_g9)" d="M694 1302l28 18-6 9-29-4z"/><path fill="url(#s2_g4)" d="M415 1352l3-33-7-20-2 51z"/><path fill="url(#s2_g22)" d="M505 1352l3-55-7 29-2 23z"/><path fill="url(#s2_g0)" d="M595 1352l3-22-7-27-2 46z"/><path fill="url(#s2_g7)" d="M685 1352l2-27-6-17-2 41z"/><path fill="#463bdd" d="M775 1350l2-11-6-11-2 21zM472 1332l27 17-7-3-26-10zM382 1334l27 16-3-2-27-12z"/><path fill="url(#s2_g5)" d="M562 1325l27 24-7-3-26-13z"/><path fill="url(#s2_g14)" d="M652 1328l27 21-7-3-26-17z"/><path fill="url(#s2_g14)" d="M742 1333l27 16-7-4-26-20z"/><path fill="url(#s2_g16)" d="M784 1311l12 7-7 21-12 0z"/><path fill="url(#s2_g23)" d="M431 1328l28 8-6-19-29-24z"/><path fill="#484cef" d="M521 1319l28 10-6 3-29-2z"/><path fill="url(#s2_g6)" d="M611 1302l28 20-6 5-29-8z"/><path fill="url(#s2_g6)" d="M701 1316l28 13-7-9-28-18z"/><path fill="url(#s2_g3)" d="M422 1356l2-63-6 26-3 33z"/><path fill="url(#s2_g22)" d="M512 1355l2-25-6-33-3 55z"/><path fill="url(#s2_g8)" d="M602 1355l2-36-6 11-3 22z"/><path fill="url(#s2_g22)" d="M692 1354l2-52-7 23-2 27z"/><path fill="url(#s2_g0)" d="M782 1355l2-44-7 28-2 11z"/><path fill="#4741e5" d="M389 1334l26 18-6-2-27-16zM479 1335l26 17-6-3-27-17z"/><path fill="url(#s2_g5)" d="M569 1341l26 11-6-3-27-24z"/><path fill="url(#s2_g14)" d="M659 1339l26 13-6-3-27-21z"/><path fill="#463bdd" d="M749 1344l26 6-6-1-27-16z"/><path fill="#475dfa" d="M790 1301l12 7-6 10-12-7z"/><path fill="#4746eb" d="M437 1336l29 0-7 0-28-8z"/><path fill="#4852f4" d="M527 1317l29 16-7-4-28-10z"/><path fill="url(#s2_g12)" d="M617 1313l29 16-7-7-28-20z"/><path fill="url(#s2_g6)" d="M707 1308l29 17-7 4-28-13z"/><path fill="url(#s2_g2)" d="M428 1359l3-31-7-35-2 63z"/><path fill="url(#s2_g7)" d="M518 1359l3-40-7 11-2 25z"/><path fill="url(#s2_g1)" d="M608 1359l3-57-7 17-2 36z"/><path fill="url(#s2_g22)" d="M698 1358l3-42-7-14-2 52z"/><path fill="url(#s2_g1)" d="M788 1358l2-57-6 10-2 44z"/><path fill="#4741e5" d="M395 1345l27 11-7-4-26-18z"/><path fill="#463bdd" d="M485 1343l27 12-7-3-26-17zM665 1352l27 2-7-2-26-13zM755 1346l27 9-7-5-26-6z"/><path fill="#4536d5" d="M575 1360l27-5-7-3-26-11z"/><path fill="url(#s2_g6)" d="M797 1341l12-1-7-32-12-7z"/><path fill="url(#s2_g13)" d="M444 1316l28 16-6 4-29 0z"/><path fill="url(#s2_g11)" d="M534 1301l28 24-6 8-29-16z"/><path fill="url(#s2_g12)" d="M624 1309l28 19-6 1-29-16z"/><path fill="url(#s2_g12)" d="M714 1318l28 15-6-8-29-17z"/><path fill="#4852f4" d="M354 1320l28 14-3 2-28-4z"/><path fill="url(#s2_g5)" d="M435 1363l2-27-6-8-3 31z"/><path fill="url(#s2_g0)" d="M525 1362l2-45-6 2-3 40z"/><path fill="url(#s2_g1)" d="M615 1361l2-48-6-11-3 57z"/><path fill="url(#s2_g1)" d="M705 1361l2-53-6 8-3 42z"/><path fill="url(#s2_g22)" d="M795 1361l2-20-7-40-2 57z"/><path fill="#463bdd" d="M402 1343l26 16-6-3-27-11zM492 1349l26 10-6-4-27-12zM762 1348l26 10-6-3-27-9zM801 1364l3-21-7-2-2 20z"/><path fill="url(#s2_g8)" d="M582 1333l26 26-6-4-27 5z"/><path fill="#4536d5" d="M672 1355l26 3-6-4-27-2z"/><path fill="#4746eb" d="M804 1343l11 3-6-6-12 1z"/><path fill="url(#s2_g24)" d="M360 1318l29 16-7 0-28-14z"/><path fill="#4757f7" d="M450 1318l29 17-7-3-28-16z"/><path fill="url(#s2_g11)" d="M540 1327l29 14-7-16-28-24z"/><path fill="url(#s2_g6)" d="M630 1326l29 13-7-11-28-19z"/><path fill="url(#s2_g13)" d="M720 1336l29 8-7-11-28-15z"/><path fill="url(#s2_g0)" d="M441 1366l3-50-7 20-2 27z"/><path fill="url(#s2_g2)" d="M531 1365l3-64-7 16-2 45z"/><path fill="url(#s2_g22)" d="M621 1364l3-55-7 4-2 48z"/><path fill="url(#s2_g1)" d="M711 1365l3-47-7-10-2 53z"/><path fill="url(#s2_g4)" d="M351 1365l3-45-3 12-3 32z"/><path fill="#463bdd" d="M408 1351l27 12-7-4-26-16zM678 1343l27 18-7-3-26-3z"/><path fill="#4536d5" d="M498 1364l27-2-7-3-26-10z"/><path fill="url(#s2_g5)" d="M588 1354l27 7-7-2-26-26z"/><path fill="url(#s2_g8)" d="M768 1338l27 23-7-3-26-10z"/><path fill="url(#s2_g16)" d="M810 1317l12 6-7 23-11-3z"/><path fill="url(#s2_g13)" d="M367 1337l28 8-6-11-29-16z"/><path fill="url(#s2_g6)" d="M457 1330l28 13-6-8-29-17z"/><path fill="url(#s2_g21)" d="M547 1363l28-3-6-19-29-14z"/><path fill="url(#s2_g25)" d="M637 1352l28 0-6-13-29-13z"/><path fill="#484cef" d="M727 1339l28 7-6-2-29-8z"/><path fill="url(#s2_g0)" d="M358 1369l2-51-6 2-3 45z"/><path fill="url(#s2_g0)" d="M448 1369l2-51-6-2-3 50z"/><path fill="url(#s2_g3)" d="M538 1368l2-41-6-26-3 64z"/><path fill="url(#s2_g1)" d="M628 1368l2-42-6-17-3 55z"/><path fill="url(#s2_g4)" d="M718 1367l2-31-6-18-3 47z"/><path fill="url(#s2_g0)" d="M808 1368l2-51-6 26-3 21z"/><path fill="#463bdd" d="M415 1349l26 17-6-3-27-12zM595 1350l26 14-6-3-27-7zM325 1360l26 5-3-1-26-4z"/><path fill="#4536d5" d="M505 1359l26 6-6-3-27 2z"/><path fill="url(#s2_g5)" d="M685 1341l26 24-6-4-27-18z"/><path fill="url(#s2_g5)" d="M775 1354l26 10-6-3-27-23z"/><path fill="#4562fc" d="M817 1317l12 7-7-1-12-6z"/><path fill="url(#s2_g13)" d="M373 1328l29 15-7 2-28-8z"/><path fill="#4852f4" d="M463 1341l29 8-7-6-28-13z"/><path fill="url(#s2_g26)" d="M553 1307l29 26-7 27-28 3z"/><path fill="#4741e5" d="M643 1353l29 2-7-3-28 0z"/><path fill="#484cef" d="M733 1336l29 12-7-2-28-7z"/><path fill="url(#s2_g0)" d="M365 1372l2-35-7-19-2 51z"/><path fill="url(#s2_g1)" d="M454 1372l3-42-7-12-2 51z"/><path fill="url(#s2_g15)" d="M544 1371l3-8-7-36-2 41z"/><path fill="url(#s2_g15)" d="M634 1371l3-19-7-26-2 42z"/><path fill="url(#s2_g8)" d="M724 1370l3-31-7-3-2 31z"/><path fill="url(#s2_g22)" d="M814 1370l3-53-7 0-2 51z"/><path fill="#463bdd" d="M331 1360l27 9-7-4-26-5zM601 1356l27 12-7-4-26-14zM781 1352l27 16-7-4-26-10z"/><path fill="url(#s2_g14)" d="M421 1350l27 19-7-3-26-17z"/><path fill="url(#s2_g8)" d="M511 1340l27 28-7-3-26-6z"/><path fill="url(#s2_g8)" d="M691 1359l27 8-7-2-26-24z"/><path fill="#475dfa" d="M823 1332l12 6-6-14-12-7z"/><path fill="url(#s2_g13)" d="M380 1340l28 11-6-8-29-15z"/><path fill="url(#s2_g27)" d="M470 1368l28-4-6-15-29-8z"/><path fill="url(#s2_g28)" d="M560 1351l28 3-6-21-29-26z"/><path fill="url(#s2_g9)" d="M650 1325l28 18-6 12-29-2z"/><path fill="url(#s2_g28)" d="M740 1312l28 26-6 10-29-12z"/><path fill="url(#s2_g0)" d="M371 1376l2-48-6 9-2 35z"/><path fill="url(#s2_g7)" d="M461 1375l2-34-6-11-3 42z"/><path fill="url(#s2_g29)" d="M551 1375l2-68-6 56-3 8z"/><path fill="#463bdd" d="M641 1374l2-21-6-1-3 19zM338 1362l27 10-7-3-27-9zM608 1355l26 16-6-3-27-12zM698 1355l26 15-6-3-27-8zM788 1356l26 14-6-2-27-16z"/><path fill="url(#s2_g7)" d="M731 1375l2-39-6 3-3 31z"/><path fill="url(#s2_g1)" d="M821 1374l2-42-6-15-3 53z"/><path fill="url(#s2_g14)" d="M428 1355l26 17-6-3-27-19z"/><path fill="url(#s2_g8)" d="M518 1352l26 19-6-3-27-28z"/><path fill="#4757f7" d="M830 1330l12 10-7-2-12-6z"/><path fill="#4852f4" d="M386 1336l29 13-7 2-28-11z"/><path fill="#4741e5" d="M476 1355l29 4-7 5-28 4z"/><path fill="#484cef" d="M566 1339l29 11-7 4-28-3z"/><path fill="url(#s2_g10)" d="M656 1321l29 20-7 2-28-18z"/><path fill="url(#s2_g28)" d="M746 1349l29 5-7-16-28-26z"/><path fill="#4746eb" d="M296 1357l29 3-3 0-29-1z"/><path fill="url(#s2_g4)" d="M378 1378l2-38-7-12-2 48z"/><path fill="url(#s2_g5)" d="M467 1378l3-10-7-27-2 34z"/><path fill="url(#s2_g29)" d="M557 1378l3-27-7-44-2 68z"/><path fill="url(#s2_g22)" d="M647 1377l3-52-7 28-2 21z"/><path fill="url(#s2_g29)" d="M737 1378l3-66-7 24-2 39z"/><path fill="url(#s2_g0)" d="M827 1377l3-47-7 2-2 42z"/><path fill="#463bdd" d="M345 1357l26 19-6-4-27-10zM614 1372l27 2-7-3-26-16zM704 1366l27 9-7-5-26-15zM794 1365l27 9-7-4-26-14z"/><path fill="url(#s2_g14)" d="M434 1355l27 20-7-3-26-17z"/><path fill="url(#s2_g14)" d="M524 1366l27 9-7-4-26-19z"/><path fill="#475dfa" d="M836 1322l12 12-6 6-12-10z"/><path fill="#4746eb" d="M303 1351l28 9-6 0-29-3z"/><path fill="url(#s2_g12)" d="M393 1328l28 22-6-1-29-13z"/><path fill="url(#s2_g26)" d="M483 1313l28 27-6 19-29-4z"/><path fill="#4852f4" d="M573 1344l28 12-6-6-29-11z"/><path fill="url(#s2_g11)" d="M663 1348l28 11-6-18-29-20z"/><path fill="#4852f4" d="M753 1339l28 13-6 2-29-5z"/><path fill="url(#s2_g4)" d="M384 1381l2-45-6 4-2 38z"/><path fill="#463bdd" d="M474 1380l2-25-6 13-3 10zM294 1382l2-25-3 2-2 22zM531 1363l26 15-6-3-27-9zM711 1363l26 15-6-3-27-9zM801 1363l26 14-6-3-27-9z"/><path fill="url(#s2_g7)" d="M564 1381l2-42-6 12-3 27z"/><path fill="url(#s2_g2)" d="M654 1381l2-60-6 4-3 52z"/><path fill="url(#s2_g30)" d="M744 1380l2-31-6-37-3 66z"/><path fill="url(#s2_g1)" d="M834 1380l2-58-6 8-3 47z"/><path fill="#4741e5" d="M351 1367l27 11-7-2-26-19z"/><path fill="url(#s2_g14)" d="M441 1368l26 10-6-3-27-20z"/><path fill="#4536d5" d="M621 1373l26 4-6-3-27-2z"/><path fill="#4562fc" d="M843 1330l12 2-7 2-12-12z"/><path fill="#484cef" d="M310 1358l28 4-7-2-28-9z"/><path fill="url(#s2_g12)" d="M399 1339l29 16-7-5-28-22z"/><path fill="url(#s2_g31)" d="M489 1330l29 22-7-12-28-27z"/><path fill="#4852f4" d="M579 1342l29 13-7 1-28-12zM759 1341l29 15-7-4-28-13z"/><path fill="url(#s2_g13)" d="M669 1338l29 17-7 4-28-11z"/><path fill="url(#s2_g5)" d="M301 1385l2-34-7 6-2 25z"/><path fill="url(#s2_g1)" d="M391 1385l2-57-7 8-2 45z"/><path fill="url(#s2_g29)" d="M481 1385l2-72-7 42-2 25z"/><path fill="url(#s2_g7)" d="M570 1384l3-40-7-5-2 42z"/><path fill="url(#s2_g2)" d="M660 1384l3-36-7-27-2 60z"/><path fill="url(#s2_g0)" d="M750 1384l3-45-7 10-2 31z"/><path fill="url(#s2_g1)" d="M840 1383l3-53-7-8-2 58z"/><path fill="#4741e5" d="M358 1364l26 17-6-3-27-11zM807 1364l27 16-7-3-26-14z"/><path fill="#463bdd" d="M447 1371l27 9-7-2-26-10zM537 1372l27 9-7-3-26-15zM627 1368l27 13-7-4-26-4zM717 1366l27 14-7-2-26-15z"/><path fill="#475dfa" d="M849 1349l12 7-6-24-12-2z"/><path fill="url(#s2_g14)" d="M268 1361l26 21-3-1-27-9z"/><path fill="url(#s2_g6)" d="M316 1339l29 18-7 5-28-4z"/><path fill="url(#s2_g12)" d="M406 1339l28 16-6 0-29-16z"/><path fill="url(#s2_g6)" d="M496 1357l28 9-6-14-29-22z"/><path fill="url(#s2_g16)" d="M586 1367l28 5-6-17-29-13z"/><path fill="url(#s2_g13)" d="M676 1352l28 14-6-11-29-17z"/><path fill="url(#s2_g13)" d="M766 1355l28 10-6-9-29-15z"/><path fill="url(#s2_g8)" d="M307 1388l3-30-7-7-2 34z"/><path fill="url(#s2_g1)" d="M397 1388l2-49-6-11-2 57z"/><path fill="url(#s2_g29)" d="M487 1388l2-58-6-17-2 72z"/><path fill="url(#s2_g0)" d="M577 1388l2-46-6 2-3 40z"/><path fill="url(#s2_g0)" d="M667 1387l2-49-6 10-3 36z"/><path fill="url(#s2_g0)" d="M757 1387l2-46-6-2-3 45z"/><path fill="url(#s2_g1)" d="M847 1386l2-37-6-19-3 53z"/><path fill="url(#s2_g14)" d="M274 1371l27 14-7-3-26-21z"/><path fill="#4741e5" d="M364 1368l27 17-7-4-26-17z"/><path fill="#463bdd" d="M454 1375l27 10-7-5-27-9zM544 1367l26 17-6-3-27-9zM634 1372l26 12-6-3-27-13zM724 1372l26 12-6-4-27-14z"/><path fill="#4741e5" d="M814 1368l26 15-6-3-27-16z"/><path fill="#4757f7" d="M856 1344l12 6-7 6-12-7z"/><path fill="url(#s2_g6)" d="M323 1361l28 6-6-10-29-18z"/><path fill="url(#s2_g6)" d="M413 1358l28 10-7-13-28-16z"/><path fill="url(#s2_g13)" d="M502 1349l29 14-7 3-28-9z"/><path fill="#4746eb" d="M592 1370l29 3-7-1-28-5z"/><path fill="#4852f4" d="M682 1354l29 9-7 3-28-14zM772 1352l29 11-7 2-28-10z"/><path fill="url(#s2_g1)" d="M314 1392l2-53-6 19-3 30z"/><path fill="url(#s2_g1)" d="M404 1392l2-53-7 0-2 49z"/><path fill="url(#s2_g1)" d="M494 1391l2-34-7-27-2 58z"/><path fill="url(#s2_g0)" d="M583 1391l3-24-7-25-2 46z"/><path fill="url(#s2_g0)" d="M673 1390l3-38-7-14-2 49z"/><path fill="url(#s2_g0)" d="M763 1390l3-35-7-14-2 46z"/><path fill="url(#s2_g0)" d="M853 1390l3-46-7 5-2 37z"/><path fill="#4741e5" d="M281 1372l26 16-6-3-27-14zM371 1371l26 17-6-3-27-17zM550 1370l27 18-7-4-26-17zM820 1369l27 17-7-3-26-15z"/><path fill="url(#s2_g5)" d="M461 1366l26 22-6-3-27-10z"/><path fill="#463bdd" d="M640 1378l27 9-7-3-26-12zM730 1381l27 6-7-3-26-12z"/><path fill="#4852f4" d="M862 1364l12 0-6-14-12-6zM689 1359l28 7-6-3-29-9zM779 1349l28 15-6-1-29-11z"/><path fill="url(#s2_g6)" d="M329 1347l29 17-7 3-28-6z"/><path fill="#484cef" d="M419 1363l28 8-6-3-28-10z"/><path fill="url(#s2_g13)" d="M509 1363l28 9-6-9-29-14z"/><path fill="url(#s2_g16)" d="M599 1353l28 15-6 5-29-3z"/><path fill="url(#s2_g11)" d="M239 1340l29 21-4 11-28-6z"/><path fill="url(#s2_g22)" d="M320 1394l3-33-7-22-2 53z"/><path fill="url(#s2_g22)" d="M410 1394l3-36-7-19-2 53z"/><path fill="url(#s2_g0)" d="M500 1394l2-45-6 8-2 34z"/><path fill="#4741e5" d="M590 1394l2-24-6-3-3 24zM377 1377l27 15-7-4-26-17zM557 1376l26 15-6-3-27-18z"/><path fill="url(#s2_g15)" d="M680 1393l2-39-6-2-3 38z"/><path fill="url(#s2_g15)" d="M770 1392l2-40-6 3-3 35z"/><path fill="url(#s2_g0)" d="M860 1393l2-29-6-20-3 46z"/><path fill="#463bdd" d="M287 1380l27 12-7-4-26-16zM647 1389l26 1-6-3-27-9zM737 1376l26 14-6-3-27-6z"/><path fill="url(#s2_g5)" d="M467 1377l27 14-7-3-26-22z"/><path fill="url(#s2_g5)" d="M827 1364l26 26-6-4-27-17z"/><path fill="#4852f4" d="M869 1360l12 5-7-1-12 0z"/><path fill="url(#s2_g11)" d="M246 1364l28 7-6-10-29-21z"/><path fill="#4757f7" d="M336 1357l28 11-6-4-29-17zM785 1354l29 14-7-4-28-15z"/><path fill="#484cef" d="M426 1371l28 4-7-4-28-8z"/><path fill="url(#s2_g6)" d="M515 1350l29 17-7 5-28-9z"/><path fill="#4852f4" d="M605 1357l29 15-7-4-28-15zM695 1364l29 8-7-6-28-7z"/><path fill="url(#s2_g22)" d="M327 1396l2-49-6 14-3 33z"/><path fill="url(#s2_g5)" d="M417 1398l2-35-6-5-3 36z"/><path fill="url(#s2_g0)" d="M507 1397l2-34-7-14-2 45z"/><path fill="url(#s2_g0)" d="M597 1397l2-44-7 17-2 24z"/><path fill="url(#s2_g7)" d="M686 1397l3-38-7-5-2 39z"/><path fill="url(#s2_g0)" d="M776 1396l3-47-7 3-2 40z"/><path fill="url(#s2_g5)" d="M866 1397l3-37-7 4-2 29z"/><path fill="url(#s2_g2)" d="M237 1398l2-58-3 26-2 31z"/><path fill="#463bdd" d="M294 1377l26 17-6-2-27-12zM384 1391l26 3-6-2-27-15zM474 1384l26 10-6-3-27-14z"/><path fill="#463bdd" d="M564 1383l26 11-7-3-26-15zM653 1375l27 18-7-3-26-1zM743 1382l27 10-7-2-26-14z"/><path fill="url(#s2_g5)" d="M833 1385l27 8-7-3-26-26z"/><path fill="url(#s2_g10)" d="M875 1338l12 9-6 18-12-5z"/><path fill="#4852f4" d="M252 1358l29 14-7-1-28-7z"/><path fill="url(#s2_g12)" d="M342 1347l29 24-7-3-28-11z"/><path fill="url(#s2_g6)" d="M432 1348l29 18-7 9-28-4z"/><path fill="#4757f7" d="M522 1356l28 14-6-3-29-17zM792 1355l28 14-6-1-29-14z"/><path fill="url(#s2_g25)" d="M612 1370l28 8-6-6-29-15z"/><path fill="#484cef" d="M702 1375l28 6-6-9-29-8z"/><path fill="url(#s2_g2)" d="M243 1402l3-38-7-24-2 58z"/><path fill="url(#s2_g1)" d="M333 1401l3-44-7-10-2 49z"/><path fill="url(#s2_g5)" d="M423 1401l3-30-7-8-2 35z"/><path fill="url(#s2_g22)" d="M513 1400l2-50-6 13-2 34z"/><path fill="url(#s2_g4)" d="M603 1400l2-43-6-4-2 44z"/><path fill="url(#s2_g7)" d="M693 1400l2-36-6-5-3 38z"/><path fill="url(#s2_g0)" d="M783 1399l2-45-6-5-3 47z"/><path fill="url(#s2_g2)" d="M873 1399l2-61-6 22-3 37z"/><path fill="#4741e5" d="M300 1384l27 12-7-2-26-17z"/><path fill="#463bdd" d="M390 1390l27 8-7-4-26-3zM480 1383l27 14-7-3-26-10zM570 1391l27 6-7-3-26-11zM750 1392l26 4-6-4-27-10zM840 1378l26 19-6-4-27-8zM210 1383l27 15-3-1-27-10z"/><path fill="url(#s2_g5)" d="M660 1374l26 23-6-4-27-18z"/><path fill="url(#s2_g10)" d="M882 1366l12 4-7-23-12-9z"/><path fill="url(#s2_g13)" d="M259 1369l28 11-6-8-29-14z"/><path fill="url(#s2_g12)" d="M349 1365l28 12-6-6-29-24z"/><path fill="url(#s2_g6)" d="M439 1363l28 14-6-11-29-18z"/><path fill="#4757f7" d="M529 1360l28 16-7-6-28-14z"/><path fill="#4746eb" d="M618 1383l29 6-7-11-28-8z"/><path fill="url(#s2_g21)" d="M708 1363l29 13-7 5-28-6z"/><path fill="url(#s2_g10)" d="M798 1343l29 21-7 5-28-14z"/><path fill="url(#s2_g4)" d="M250 1404l2-46-6 6-3 38z"/><path fill="url(#s2_g1)" d="M340 1404l2-57-6 10-3 44z"/><path fill="url(#s2_g22)" d="M430 1403l2-55-6 23-3 30z"/><path fill="url(#s2_g1)" d="M520 1404l2-48-7-6-2 50z"/><path fill="url(#s2_g7)" d="M610 1403l2-33-7-13-2 43z"/><path fill="url(#s2_g5)" d="M700 1403l2-28-7-11-2 36z"/><path fill="url(#s2_g0)" d="M789 1402l3-47-7-1-2 45z"/><path fill="url(#s2_g2)" d="M879 1402l3-36-7-28-2 61z"/><path fill="#463bdd" d="M217 1388l26 14-6-4-27-15zM307 1391l26 10-6-5-27-12zM397 1388l26 13-6-3-27-8zM487 1391l26 9-6-3-27-14zM577 1383l26 17-6-3-27-6zM756 1396l27 3-7-3-26-4z"/><path fill="url(#s2_g5)" d="M666 1386l27 14-7-3-26-23z"/><path fill="url(#s2_g5)" d="M846 1375l27 24-7-2-26-19z"/><path fill="#4757f7" d="M888 1363l12 7-6 0-12-4z"/><path fill="url(#s2_g13)" d="M265 1362l29 15-7 3-28-11z"/><path fill="url(#s2_g21)" d="M355 1388l29 3-7-14-28-12z"/><path fill="#4852f4" d="M445 1374l29 10-7-7-28-14zM715 1369l28 13-6-6-29-13z"/><path fill="url(#s2_g13)" d="M535 1371l29 12-7-7-28-16z"/><path fill="url(#s2_g9)" d="M625 1358l28 17-6 14-29-6z"/><path fill="url(#s2_g11)" d="M805 1382l28 3-6-21-29-21z"/><path fill="url(#s2_g0)" d="M256 1408l3-39-7-11-2 46z"/><path fill="url(#s2_g22)" d="M346 1407l3-42-7-18-2 57z"/><path fill="url(#s2_g22)" d="M436 1406l3-43-7-15-2 55z"/><path fill="url(#s2_g0)" d="M526 1407l3-47-7-4-2 48z"/><path fill="url(#s2_g5)" d="M616 1406l2-23-6-13-2 33z"/><path fill="#4741e5" d="M201 1397l9-14-3 4-9 10z"/><path fill="url(#s2_g7)" d="M706 1406l2-43-6 12-2 28z"/><path fill="url(#s2_g2)" d="M796 1406l2-63-6 12-3 47z"/><path fill="url(#s2_g15)" d="M886 1405l2-42-6 3-3 36z"/><path fill="#463bdd" d="M223 1396l27 8-7-2-26-14zM313 1394l27 10-7-3-26-10zM493 1398l27 6-7-4-26-9zM583 1394l27 9-7-3-26-17zM673 1393l27 10-7-3-27-14zM763 1384l26 18-6-3-27-3z"/><path fill="url(#s2_g8)" d="M403 1380l27 23-7-2-26-13z"/><path fill="url(#s2_g5)" d="M853 1395l26 7-6-3-27-24z"/><path fill="#4757f7" d="M895 1366l12 4-7 0-12-7z"/><path fill="url(#s2_g13)" d="M272 1370l28 14-6-7-29-15z"/><path fill="#4746eb" d="M362 1388l28 2-6 1-29-3z"/><path fill="#4852f4" d="M452 1371l28 12-6 1-29-10z"/><path fill="#484cef" d="M542 1386l28 5-6-8-29-12z"/><path fill="url(#s2_g12)" d="M632 1357l28 17-7 1-28-17z"/><path fill="url(#s2_g21)" d="M721 1387l29 5-7-10-28-13z"/><path fill="url(#s2_g13)" d="M811 1362l29 16-7 7-28-3z"/><path fill="#4741e5" d="M207 1400l10-12-7-5-9 14z"/><path fill="url(#s2_g0)" d="M263 1411l2-49-6 7-3 39z"/><path fill="url(#s2_g7)" d="M353 1410l2-22-6-23-3 42z"/><path fill="url(#s2_g0)" d="M443 1411l2-37-6-11-3 43z"/><path fill="url(#s2_g0)" d="M533 1410l2-39-6-11-3 47z"/><path fill="url(#s2_g1)" d="M623 1410l2-52-7 25-2 23z"/><path fill="url(#s2_g7)" d="M713 1409l2-40-7-6-2 43z"/><path fill="url(#s2_g2)" d="M802 1409l3-27-7-39-2 63z"/><path fill="url(#s2_g7)" d="M892 1409l3-43-7-3-2 42z"/><path fill="#463bdd" d="M230 1396l26 12-6-4-27-8zM500 1399l26 8-6-3-27-6zM590 1399l26 7-6-3-27-9zM680 1395l26 11-6-3-27-10zM769 1399l27 7-7-4-26-18z"/><path fill="url(#s2_g15)" d="M320 1378l26 29-6-3-27-10z"/><path fill="url(#s2_g8)" d="M410 1383l26 23-6-3-27-23z"/><path fill="#463bdd" d="M859 1389l27 16-7-3-26-7z"/><path fill="#475dfa" d="M901 1362l12 6-6 2-12-4z"/><path fill="#4852f4" d="M278 1384l29 7-7-7-28-14z"/><path fill="#484cef" d="M368 1380l29 8-7 2-28-2zM458 1385l29 6-7-8-28-12z"/><path fill="url(#s2_g16)" d="M548 1369l29 14-7 8-28-5z"/><path fill="url(#s2_g6)" d="M638 1369l28 17-6-12-28-17z"/><path fill="#4746eb" d="M728 1395l28 1-6-4-29-5z"/><path fill="url(#s2_g31)" d="M818 1350l28 25-6 3-29-16z"/><path fill="#4741e5" d="M214 1407l9-11-6-8-10 12zM359 1414l3-26-7 0-2 22z"/><path fill="url(#s2_g4)" d="M269 1414l3-44-7-8-2 49z"/><path fill="url(#s2_g7)" d="M449 1414l3-43-7 3-2 37z"/><path fill="url(#s2_g7)" d="M539 1414l3-28-7-15-2 39z"/><path fill="url(#s2_g1)" d="M629 1413l3-56-7 1-2 52z"/><path fill="url(#s2_g7)" d="M719 1413l2-26-6-18-2 40z"/><path fill="url(#s2_g0)" d="M809 1413l2-51-6 20-3 27z"/><path fill="url(#s2_g4)" d="M899 1411l2-49-6 4-3 43z"/><path fill="#463bdd" d="M236 1394l27 17-7-3-26-12zM506 1395l27 15-7-3-26-8zM686 1408l27 1-7-3-26-11zM776 1397l26 12-6-3-27-7z"/><path fill="url(#s2_g7)" d="M326 1392l27 18-7-3-26-29z"/><path fill="url(#s2_g5)" d="M416 1398l27 13-7-5-26-23z"/><path fill="url(#s2_g14)" d="M596 1389l27 21-7-4-26-7z"/><path fill="#4741e5" d="M866 1395l26 14-6-4-27-16z"/><path fill="#4562fc" d="M908 1362l12 10-7-4-12-6z"/><path fill="#484cef" d="M285 1384l28 10-6-3-29-7z"/><path fill="url(#s2_g11)" d="M375 1358l28 22-6 8-29-8z"/><path fill="#4746eb" d="M465 1390l28 8-6-7-29-6z"/><path fill="url(#s2_g13)" d="M555 1384l28 10-6-11-29-14z"/><path fill="url(#s2_g13)" d="M645 1376l28 17-7-7-28-17z"/><path fill="url(#s2_g9)" d="M734 1363l29 21-7 12-28-1z"/><path fill="url(#s2_g28)" d="M824 1389l29 6-7-20-28-25z"/><path fill="#4741e5" d="M220 1409l10-13-7 0-9 11z"/><path fill="url(#s2_g7)" d="M276 1418l2-34-6-14-3 44z"/><path fill="url(#s2_g7)" d="M366 1418l2-38-6 8-3 26z"/><path fill="url(#s2_g7)" d="M456 1416l2-31-6-14-3 43z"/><path fill="url(#s2_g0)" d="M546 1416l2-47-6 17-3 28z"/><path fill="url(#s2_g1)" d="M636 1416l2-47-6-12-3 56z"/><path fill="#463bdd" d="M726 1416l2-21-7-8-2 26zM243 1401l26 13-6-3-27-17zM513 1407l26 7-6-4-27-15zM693 1395l26 18-6-4-27-1zM783 1405l26 8-7-4-26-12z"/><path fill="url(#s2_g29)" d="M816 1415l2-65-7 12-2 51z"/><path fill="url(#s2_g1)" d="M905 1415l3-53-7 0-2 49z"/><path fill="url(#s2_g5)" d="M333 1388l26 26-6-4-27-18z"/><path fill="url(#s2_g14)" d="M423 1394l26 20-6-3-27-13z"/><path fill="url(#s2_g14)" d="M603 1407l26 6-6-3-27-21z"/><path fill="url(#s2_g15)" d="M872 1383l27 28-7-2-26-14z"/><path fill="#475dfa" d="M914 1373l12 6-6-7-12-10z"/><path fill="url(#s2_g32)" d="M291 1348l29 30-7 16-28-10z"/><path fill="url(#s2_g33)" d="M381 1364l29 19-7-3-28-22z"/><path fill="#484cef" d="M471 1386l29 13-7-1-28-8zM561 1392l29 7-7-5-28-10z"/><path fill="#4852f4" d="M651 1385l29 10-7-2-28-17z"/><path fill="url(#s2_g9)" d="M741 1387l28 12-6-15-29-21z"/><path fill="url(#s2_g25)" d="M831 1378l28 11-6 6-29-6z"/><path fill="#4741e5" d="M227 1408l9-14-6 2-10 13z"/><path fill="url(#s2_g7)" d="M282 1420l3-36-7 0-2 34z"/><path fill="url(#s2_g2)" d="M372 1420l3-62-7 22-2 38z"/><path fill="url(#s2_g8)" d="M462 1419l3-29-7-5-2 31z"/><path fill="url(#s2_g0)" d="M552 1420l3-36-7-15-2 47z"/><path fill="url(#s2_g0)" d="M642 1419l3-43-7-7-2 47z"/><path fill="url(#s2_g1)" d="M732 1419l2-56-6 32-2 21z"/><path fill="url(#s2_g30)" d="M822 1418l2-29-6-39-2 65z"/><path fill="url(#s2_g1)" d="M912 1418l2-45-6-11-3 53z"/><path fill="#4741e5" d="M249 1399l27 19-7-4-26-13zM699 1400l27 16-7-3-26-18zM233 1415l10-14-7-7-9 14z"/><path fill="url(#s2_g5)" d="M339 1407l27 11-7-4-26-26z"/><path fill="url(#s2_g14)" d="M429 1410l27 6-7-2-26-20z"/><path fill="#4536d5" d="M519 1414l27 2-7-2-26-7zM609 1420l27-4-7-3-26-6z"/><path fill="#463bdd" d="M789 1400l27 15-7-2-26-8z"/><path fill="url(#s2_g7)" d="M879 1394l26 21-6-4-27-28z"/><path fill="#4562fc" d="M921 1363l12 7-7 9-12-6z"/><path fill="url(#s2_g34)" d="M298 1374l28 18-6-14-29-30z"/><path fill="url(#s2_g11)" d="M388 1387l28 11-6-15-29-19z"/><path fill="url(#s2_g13)" d="M478 1379l28 16-6 4-29-13z"/><path fill="url(#s2_g6)" d="M568 1373l28 16-6 10-29-7z"/><path fill="url(#s2_g25)" d="M658 1409l28-1-6-13-29-10z"/><path fill="url(#s2_g21)" d="M748 1383l28 14-7 2-28-12z"/><path fill="#4852f4" d="M837 1384l29 11-7-6-28-11z"/><path fill="url(#s2_g35)" d="M289 1424l2-76-6 36-3 36z"/><path fill="url(#s2_g3)" d="M379 1423l2-59-6-6-3 62z"/><path fill="url(#s2_g7)" d="M469 1423l2-37-6 4-3 29z"/><path fill="url(#s2_g5)" d="M559 1423l2-31-6-8-3 36z"/><path fill="url(#s2_g7)" d="M649 1422l2-37-6-9-3 43z"/><path fill="url(#s2_g22)" d="M739 1422l2-35-7-24-2 56z"/><path fill="url(#s2_g7)" d="M829 1422l2-44-7 11-2 29z"/><path fill="url(#s2_g22)" d="M919 1420l2-57-7 10-2 45z"/><path fill="url(#s2_g5)" d="M256 1396l26 24-6-2-27-19z"/><path fill="#463bdd" d="M346 1404l26 16-6-2-27-11zM436 1419l26 0-6-3-27-6zM526 1405l26 15-6-4-27-2zM706 1406l26 13-6-3-27-16zM796 1407l26 11-6-3-27-15z"/><path fill="#4536d5" d="M616 1422l26-3-6-3-27 4z"/><path fill="url(#s2_g14)" d="M885 1412l27 6-7-3-26-21z"/><path fill="#4562fc" d="M927 1382l12 5-6-17-12-7z"/><path fill="url(#s2_g31)" d="M304 1360l29 28-7 4-28-18z"/><path fill="url(#s2_g13)" d="M394 1379l29 15-7 4-28-11z"/><path fill="url(#s2_g16)" d="M484 1402l29 5-7-12-28-16z"/><path fill="url(#s2_g9)" d="M574 1401l29 6-7-18-28-16z"/><path fill="url(#s2_g13)" d="M664 1378l29 17-7 13-28 1z"/><path fill="#484cef" d="M754 1394l29 11-7-8-28-14z"/><path fill="url(#s2_g28)" d="M844 1359l28 24-6 12-29-11z"/><path fill="#4746eb" d="M240 1414l9-15-6 2-10 14z"/><path fill="url(#s2_g35)" d="M295 1427l3-53-7-26-2 76z"/><path fill="url(#s2_g3)" d="M385 1426l3-39-7-23-2 59z"/><path fill="url(#s2_g0)" d="M475 1427l3-48-7 7-2 37z"/><path fill="url(#s2_g1)" d="M565 1426l3-53-7 19-2 31z"/><path fill="url(#s2_g15)" d="M655 1424l3-15-7-24-2 37z"/><path fill="url(#s2_g7)" d="M745 1426l3-43-7 4-2 35z"/><path fill="url(#s2_g7)" d="M835 1425l2-41-6-6-2 44z"/><path fill="url(#s2_g22)" d="M925 1424l2-42-6-19-2 57z"/><path fill="url(#s2_g5)" d="M262 1409l27 15-7-4-26-24z"/><path fill="#463bdd" d="M352 1413l27 10-7-3-26-16zM442 1415l27 8-7-4-26 0zM532 1424l27-1-7-3-26-15zM892 1410l27 10-7-2-27-6z"/><path fill="url(#s2_g14)" d="M622 1403l27 19-7-3-26 3z"/><path fill="url(#s2_g8)" d="M712 1397l27 25-7-3-26-13z"/><path fill="url(#s2_g14)" d="M802 1402l27 20-7-4-26-11z"/><path fill="#4852f4" d="M934 1399l12 1-7-13-12-5z"/><path fill="url(#s2_g28)" d="M311 1400l28 7-6-19-29-28z"/><path fill="url(#s2_g16)" d="M401 1405l28 5-6-16-29-15z"/><path fill="#4741e5" d="M491 1414l28 0-6-7-29-5zM581 1426l28-6-6-13-29-6z"/><path fill="url(#s2_g24)" d="M671 1383l28 17-6-5-29-17z"/><path fill="url(#s2_g13)" d="M761 1384l28 16-6 5-29-11z"/><path fill="url(#s2_g31)" d="M851 1378l28 16-7-11-28-24z"/><path fill="#4746eb" d="M247 1413l9-17-7 3-9 15z"/><path fill="url(#s2_g29)" d="M302 1430l2-70-6 14-3 53z"/><path fill="url(#s2_g4)" d="M392 1429l2-50-6 8-3 39z"/><path fill="url(#s2_g4)" d="M482 1428l2-26-6-23-3 48z"/><path fill="url(#s2_g22)" d="M572 1428l2-27-6-28-3 53z"/><path fill="url(#s2_g4)" d="M662 1428l2-50-6 31-3 15z"/><path fill="url(#s2_g7)" d="M752 1429l2-35-6-11-3 43z"/><path fill="url(#s2_g29)" d="M842 1428l2-69-7 25-2 41z"/><path fill="url(#s2_g15)" d="M932 1427l2-28-7-17-2 42z"/><path fill="#463bdd" d="M269 1416l26 11-6-3-27-15zM359 1414l26 12-6-3-27-10zM449 1412l26 15-6-4-27-8zM539 1407l26 19-6-3-27 1zM899 1415l26 9-6-4-27-10z"/><path fill="url(#s2_g8)" d="M629 1403l26 21-6-2-27-19z"/><path fill="url(#s2_g5)" d="M719 1423l26 3-6-4-27-25z"/><path fill="url(#s2_g14)" d="M809 1405l26 20-6-3-27-20z"/><path fill="#4757f7" d="M940 1381l12 10-6 9-12-1z"/><path fill="url(#s2_g13)" d="M317 1387l29 17-7 3-28-7z"/><path fill="#4741e5" d="M407 1420l29-1-7-9-28-5z"/><path fill="url(#s2_g16)" d="M497 1390l29 15-7 9-28 0z"/><path fill="#463bdd" d="M587 1424l29-2-7-2-28 6zM275 1423l27 7-7-3-26-11z"/><path fill="url(#s2_g13)" d="M677 1397l29 9-7-6-28-17z"/><path fill="url(#s2_g13)" d="M767 1393l29 14-7-7-28-16z"/><path fill="url(#s2_g9)" d="M857 1406l28 6-6-18-28-16z"/><path fill="#4746eb" d="M253 1422l9-13-6-13-9 17z"/><path fill="url(#s2_g29)" d="M309 1434l2-34-7-40-2 70z"/><path fill="url(#s2_g4)" d="M398 1431l3-26-7-26-2 50z"/><path fill="url(#s2_g14)" d="M488 1433l3-19-7-12-2 26z"/><path fill="url(#s2_g36)" d="M578 1432l3-6-7-25-2 27z"/><path fill="url(#s2_g0)" d="M668 1432l3-49-7-5-2 50z"/><path fill="url(#s2_g0)" d="M758 1432l3-48-7 10-2 35z"/><path fill="url(#s2_g29)" d="M848 1431l3-53-7-19-2 69z"/><path fill="url(#s2_g0)" d="M938 1431l2-50-6 18-2 28z"/><path fill="url(#s2_g8)" d="M365 1406l27 23-7-3-26-12z"/><path fill="#463bdd" d="M455 1423l27 5-7-1-26-15zM545 1420l27 8-7-2-26-19zM725 1417l27 12-7-3-26-3z"/><path fill="url(#s2_g8)" d="M635 1416l27 12-7-4-26-21z"/><path fill="url(#s2_g14)" d="M815 1410l27 18-7-3-26-20z"/><path fill="url(#s2_g8)" d="M905 1406l27 21-7-3-26-9z"/><path fill="#475dfa" d="M947 1388l12 3-7 0-12-10z"/><path fill="url(#s2_g13)" d="M324 1402l28 11-6-9-29-17z"/><path fill="#4746eb" d="M414 1410l28 5-6 4-29 1z"/><path fill="url(#s2_g4)" d="M504 1422l28 2-6-19-29-15z"/><path fill="url(#s2_g9)" d="M594 1385l28 18-6 19-29 2z"/><path fill="url(#s2_g11)" d="M684 1379l28 18-6 9-29-9z"/><path fill="url(#s2_g6)" d="M774 1381l28 21-6 5-29-14z"/><path fill="url(#s2_g21)" d="M864 1396l28 14-7 2-28-6z"/><path fill="#4741e5" d="M260 1427l9-11-7-7-9 13z"/><path fill="url(#s2_g0)" d="M315 1436l2-49-6 13-2 34z"/><path fill="url(#s2_g14)" d="M405 1436l2-16-6-15-3 26z"/><path fill="url(#s2_g0)" d="M495 1436l2-46-6 24-3 19z"/><path fill="#4536d5" d="M585 1436l2-12-6 2-3 6z"/><path fill="url(#s2_g0)" d="M675 1435l2-38-6-14-3 49z"/><path fill="url(#s2_g4)" d="M765 1434l2-41-6-9-3 48z"/><path fill="url(#s2_g1)" d="M855 1435l2-29-6-28-3 53z"/><path fill="url(#s2_g0)" d="M945 1435l2-47-7-7-2 50z"/><path fill="#463bdd" d="M282 1425l27 9-7-4-27-7zM462 1426l26 7-6-5-27-5zM552 1414l26 18-6-4-27-8zM642 1418l26 14-6-4-27-12zM732 1414l26 18-6-3-27-12z"/><path fill="url(#s2_g8)" d="M372 1422l26 9-6-2-27-23z"/><path fill="#4741e5" d="M822 1419l26 12-6-3-27-18z"/><path fill="url(#s2_g5)" d="M912 1426l26 5-6-4-27-21z"/><path fill="url(#s2_g16)" d="M953 1423l12 2-6-34-12-3z"/><path fill="#4852f4" d="M330 1402l29 12-7-1-28-11z"/><path fill="#484cef" d="M420 1401l29 11-7 3-28-5zM870 1407l29 8-7-5-28-14z"/><path fill="url(#s2_g22)" d="M510 1386l29 21-7 17-28-2z"/><path fill="url(#s2_g33)" d="M600 1381l29 22-7 0-28-18z"/><path fill="url(#s2_g23)" d="M690 1421l29 2-7-26-28-18z"/><path fill="url(#s2_g12)" d="M780 1386l29 19-7-3-28-21z"/><path fill="#4741e5" d="M266 1433l9-10-6-7-9 11z"/><path fill="url(#s2_g4)" d="M322 1439l2-37-7-15-2 49z"/><path fill="url(#s2_g5)" d="M411 1440l3-30-7 10-2 16z"/><path fill="url(#s2_g0)" d="M501 1439l3-17-7-32-2 46z"/><path fill="url(#s2_g1)" d="M591 1439l3-54-7 39-2 12z"/><path fill="url(#s2_g3)" d="M681 1437l3-58-7 18-2 38z"/><path fill="url(#s2_g1)" d="M771 1438l3-57-7 12-2 41z"/><path fill="url(#s2_g7)" d="M861 1437l3-41-7 10-2 29z"/><path fill="url(#s2_g0)" d="M951 1438l2-15-6-35-2 47z"/><path fill="url(#s2_g14)" d="M289 1416l26 20-6-2-27-9z"/><path fill="#463bdd" d="M378 1418l27 18-7-5-26-9z"/><path fill="#463bdd" d="M468 1423l27 13-7-3-26-7zM828 1423l27 12-7-4-26-12zM918 1430l27 5-7-4-26-5zM273 1436l9-11-7-2-9 10z"/><path fill="#4741e5" d="M558 1420l27 16-7-4-26-18zM648 1416l27 19-7-3-26-14z"/><path fill="url(#s2_g36)" d="M738 1414l27 20-7-2-26-18z"/><path fill="url(#s2_g21)" d="M960 1402l12 7-7 16-12-2z"/><path fill="url(#s2_g11)" d="M337 1383l28 23-6 8-29-12z"/><path fill="url(#s2_g21)" d="M427 1421l28 2-6-11-29-11z"/><path fill="url(#s2_g6)" d="M517 1411l28 9-6-13-29-21z"/><path fill="url(#s2_g11)" d="M607 1403l28 13-6-13-29-22z"/><path fill="url(#s2_g21)" d="M697 1406l28 11-6 6-29-2z"/><path fill="url(#s2_g12)" d="M787 1391l28 19-6-5-29-19z"/><path fill="url(#s2_g11)" d="M877 1385l28 21-6 9-29-8z"/><path fill="url(#s2_g7)" d="M328 1443l2-41-6 0-2 37z"/><path fill="url(#s2_g7)" d="M418 1442l2-41-6 9-3 30z"/><path fill="url(#s2_g1)" d="M508 1442l2-56-6 36-3 17z"/><path fill="url(#s2_g2)" d="M598 1442l2-61-6 4-3 54z"/><path fill="url(#s2_g2)" d="M688 1442l2-21-6-42-3 58z"/><path fill="url(#s2_g22)" d="M778 1440l2-54-6-5-3 57z"/><path fill="url(#s2_g7)" d="M868 1441l2-34-6-11-3 41z"/><path fill="url(#s2_g7)" d="M958 1441l2-39-7 21-2 15z"/><path fill="url(#s2_g36)" d="M295 1426l27 13-7-3-26-20z"/><path fill="url(#s2_g14)" d="M385 1419l26 21-6-4-27-18z"/><path fill="#463bdd" d="M475 1432l26 7-6-3-27-13zM565 1432l26 7-6-3-27-16zM835 1426l26 11-6-2-27-12zM925 1427l26 11-6-3-27-5z"/><path fill="#4741e5" d="M655 1427l26 10-6-2-27-19z"/><path fill="url(#s2_g14)" d="M745 1420l26 18-6-4-27-20z"/><path fill="#4757f7" d="M967 1403l11 8-6-2-12-7z"/><path fill="url(#s2_g11)" d="M343 1411l29 11-7-16-28-23z"/><path fill="#4746eb" d="M433 1419l29 7-7-3-28-2z"/><path fill="url(#s2_g13)" d="M523 1400l29 14-7 6-28-9z"/><path fill="#4852f4" d="M613 1411l29 7-7-2-28-13z"/><path fill="url(#s2_g13)" d="M703 1397l29 17-7 3-28-11z"/><path fill="url(#s2_g6)" d="M793 1407l29 12-7-9-28-19z"/><path fill="url(#s2_g23)" d="M883 1417l29 9-7-20-28-21z"/><path fill="#4741e5" d="M279 1432l10-16-7 9-9 11z"/><path fill="url(#s2_g2)" d="M335 1446l2-63-7 19-2 41z"/><path fill="url(#s2_g7)" d="M425 1446l2-25-7-20-2 41z"/><path fill="url(#s2_g1)" d="M514 1446l3-35-7-25-2 56z"/><path fill="url(#s2_g3)" d="M604 1444l3-41-7-22-2 61z"/><path fill="url(#s2_g15)" d="M694 1444l3-38-7 15-2 21z"/><path fill="url(#s2_g1)" d="M784 1444l3-53-7-5-2 54z"/><path fill="url(#s2_g2)" d="M874 1444l3-59-7 22-2 34z"/><path fill="url(#s2_g7)" d="M964 1444l3-41-7-1-2 39z"/><path fill="#463bdd" d="M302 1440l26 3-6-4-27-13z"/><path fill="url(#s2_g14)" d="M392 1422l26 20-7-2-26-21z"/><path fill="#4536d5" d="M481 1441l27 1-7-3-26-7z"/><path fill="#463bdd" d="M571 1437l27 5-7-3-26-7zM661 1426l27 16-7-5-26-10zM751 1439l27 1-7-2-26-18zM841 1430l27 11-7-4-26-11zM931 1429l27 12-7-3-26-11z"/><path fill="#4757f7" d="M973 1409l12 4-7-2-11-8z"/><path fill="url(#s2_g6)" d="M350 1399l28 19-6 4-29-11z"/><path fill="#484cef" d="M440 1411l28 12-6 3-29-7zM800 1420l28 3-6-4-29-12z"/><path fill="url(#s2_g24)" d="M530 1401l28 19-6-6-29-14z"/><path fill="url(#s2_g6)" d="M620 1396l28 20-6 2-29-7z"/><path fill="url(#s2_g12)" d="M710 1396l28 18-6 0-29-17z"/><path fill="#4746eb" d="M890 1427l28 3-6-4-29-9zM286 1439l9-13-6-10-10 16z"/><path fill="url(#s2_g2)" d="M341 1449l2-38-6-28-2 63z"/><path fill="url(#s2_g8)" d="M431 1447l2-28-6 2-2 25z"/><path fill="url(#s2_g0)" d="M521 1448l2-48-6 11-3 35z"/><path fill="url(#s2_g7)" d="M611 1448l2-37-6-8-3 41z"/><path fill="url(#s2_g0)" d="M701 1448l2-51-6 9-3 38z"/><path fill="url(#s2_g1)" d="M791 1448l2-41-6-16-3 53z"/><path fill="url(#s2_g3)" d="M881 1447l2-30-6-32-3 59z"/><path fill="url(#s2_g7)" d="M971 1447l2-38-6-6-3 41z"/><path fill="#463bdd" d="M308 1439l27 7-7-3-26-3zM488 1432l26 14-6-4-27-1zM578 1433l26 11-6-2-27-5zM758 1437l26 7-6-4-27-1zM848 1441l26 3-6-3-27-11zM938 1434l26 10-6-3-27-12z"/><path fill="url(#s2_g14)" d="M398 1433l27 13-7-4-26-20z"/><path fill="url(#s2_g36)" d="M668 1425l26 19-6-2-27-16z"/><path fill="#4757f7" d="M980 1406l12 6-7 1-12-4z"/><path fill="url(#s2_g12)" d="M357 1400l28 19-7-1-28-19z"/><path fill="#484cef" d="M446 1426l29 6-7-9-28-12z"/><path fill="url(#s2_g16)" d="M536 1423l29 9-7-12-28-19z"/><path fill="url(#s2_g6)" d="M626 1417l29 10-7-11-28-20z"/><path fill="url(#s2_g12)" d="M716 1404l29 16-7-6-28-18z"/><path fill="#484cef" d="M806 1414l29 12-7-3-28-3z"/><path fill="url(#s2_g21)" d="M896 1414l29 13-7 3-28-3z"/><path fill="#4741e5" d="M292 1448l10-8-7-14-9 13z"/><path fill="url(#s2_g1)" d="M348 1452l2-53-7 12-2 38z"/><path fill="url(#s2_g7)" d="M438 1452l2-41-7 8-2 28z"/><path fill="url(#s2_g4)" d="M528 1451l2-50-7-1-2 48z"/><path fill="url(#s2_g1)" d="M617 1452l3-56-7 15-2 37z"/><path fill="url(#s2_g22)" d="M707 1450l3-54-7 1-2 51z"/><path fill="url(#s2_g7)" d="M797 1451l3-31-7-13-2 41z"/><path fill="url(#s2_g8)" d="M887 1449l3-22-7-10-2 30z"/><path fill="url(#s2_g0)" d="M977 1450l3-44-7 3-2 38z"/><path fill="#463bdd" d="M315 1430l26 19-6-3-27-7zM405 1440l26 7-6-1-27-13z"/><path fill="#463bdd" d="M494 1432l27 16-7-2-26-14zM584 1444l27 4-7-4-26-11zM764 1437l27 11-7-4-26-7zM854 1437l27 10-7-3-26-3zM299 1449l9-10-6 1-10 8z"/><path fill="url(#s2_g14)" d="M674 1443l27 5-7-4-26-19z"/><path fill="url(#s2_g14)" d="M944 1427l27 20-7-3-26-10z"/><path fill="url(#s2_g12)" d="M363 1404l29 18-7-3-28-19z"/><path fill="#4746eb" d="M453 1439l28 2-6-9-29-6zM543 1432l28 5-6-5-29-9z"/><path fill="#4852f4" d="M633 1412l28 14-6 1-29-10z"/><path fill="url(#s2_g16)" d="M723 1437l28 2-6-19-29-16z"/><path fill="#484cef" d="M813 1422l28 8-6-4-29-12zM903 1419l28 10-6-2-29-13z"/><path fill="url(#s2_g22)" d="M354 1454l3-54-7-1-2 53z"/><path fill="url(#s2_g7)" d="M444 1455l2-29-6-15-2 41z"/><path fill="url(#s2_g0)" d="M534 1455l2-32-6-22-2 50z"/><path fill="url(#s2_g1)" d="M624 1455l2-38-6-21-3 56z"/><path fill="url(#s2_g1)" d="M714 1454l2-50-6-8-3 54z"/><path fill="url(#s2_g15)" d="M804 1452l2-38-6 6-3 31z"/><path fill="url(#s2_g7)" d="M894 1454l2-40-6 13-3 22z"/><path fill="url(#s2_g36)" d="M321 1455l27-3-7-3-26-19z"/><path fill="#463bdd" d="M411 1434l27 18-7-5-26-7zM501 1442l27 9-7-3-27-16zM591 1443l26 9-6-4-27-4zM681 1442l26 8-6-2-27-5zM771 1434l26 17-6-3-27-11zM861 1444l26 5-6-2-27-10z"/><path fill="url(#s2_g14)" d="M951 1438l26 12-6-3-27-20z"/><path fill="url(#s2_g6)" d="M370 1423l28 10-6-11-29-18z"/><path fill="url(#s2_g16)" d="M460 1418l28 14-7 9-28-2z"/><path fill="#484cef" d="M549 1423l29 10-7 4-28-5z"/><path fill="url(#s2_g12)" d="M639 1407l29 18-7 1-28-14z"/><path fill="#4746eb" d="M729 1431l29 6-7 2-28-2zM819 1436l29 5-7-11-28-8z"/><path fill="#484cef" d="M909 1427l29 7-7-5-28-10z"/><path fill="#4741e5" d="M305 1444l10-14-7 9-9 10z"/><path fill="url(#s2_g1)" d="M361 1459l2-55-6-4-3 54z"/><path fill="url(#s2_g14)" d="M451 1458l2-19-7-13-2 29z"/><path fill="url(#s2_g8)" d="M541 1458l2-26-7-9-2 32z"/><path fill="url(#s2_g0)" d="M630 1458l3-46-7 5-2 38z"/><path fill="url(#s2_g0)" d="M720 1458l3-21-7-33-2 50z"/><path fill="url(#s2_g7)" d="M810 1457l3-35-7-8-2 38z"/><path fill="url(#s2_g15)" d="M900 1456l3-37-7-5-2 40z"/><path fill="#463bdd" d="M328 1440l26 14-6-2-27 3zM418 1454l26 1-6-3-27-18zM687 1440l27 14-7-4-26-8z"/><path fill="url(#s2_g5)" d="M508 1432l26 23-6-4-27-9z"/><path fill="url(#s2_g5)" d="M597 1431l27 24-7-3-26-9z"/><path fill="#463bdd" d="M777 1445l27 7-7-1-26-17z"/><path fill="#4536d5" d="M867 1452l27 2-7-5-26-5z"/><path fill="#484cef" d="M376 1434l29 6-7-7-28-10zM556 1435l28 9-6-11-29-10zM736 1427l28 10-6 0-29-6z"/><path fill="url(#s2_g24)" d="M466 1416l28 16-6 0-28-14z"/><path fill="url(#s2_g9)" d="M646 1435l28 8-6-18-29-18z"/><path fill="url(#s2_g21)" d="M826 1425l28 12-6 4-29-5z"/><path fill="url(#s2_g6)" d="M916 1412l28 15-6 7-29-7z"/><path fill="#4741e5" d="M312 1462l9-7-6-25-10 14z"/><path fill="url(#s2_g22)" d="M367 1461l3-38-7-19-2 55z"/><path fill="url(#s2_g0)" d="M457 1461l3-43-7 21-2 19z"/><path fill="url(#s2_g7)" d="M547 1461l2-38-6 9-2 26z"/><path fill="url(#s2_g1)" d="M637 1461l2-54-6 5-3 46z"/><path fill="url(#s2_g14)" d="M727 1461l2-30-6 6-3 21z"/><path fill="url(#s2_g5)" d="M817 1460l2-24-6-14-3 35z"/><path fill="url(#s2_g7)" d="M907 1460l2-33-6-8-3 37z"/><path fill="#4741e5" d="M334 1445l27 14-7-5-26-14z"/><path fill="url(#s2_g5)" d="M424 1433l27 25-7-3-26-1z"/><path fill="url(#s2_g8)" d="M514 1452l27 6-7-3-26-23z"/><path fill="url(#s2_g5)" d="M604 1440l26 18-6-3-27-24z"/><path fill="#463bdd" d="M694 1449l26 9-6-4-27-14zM784 1455l26 2-6-5-27-7zM874 1441l26 15-6-2-27-2zM318 1452l10-12-7 15-9 7z"/><path fill="url(#s2_g13)" d="M383 1418l28 16-6 6-29-6z"/><path fill="url(#s2_g13)" d="M473 1429l28 13-7-10-28-16z"/><path fill="#484cef" d="M562 1434l29 9-7 1-28-9zM652 1432l29 10-7 1-28-8zM832 1443l29 1-7-7-28-12z"/><path fill="url(#s2_g13)" d="M742 1418l29 16-7 3-28-10z"/><path fill="url(#s2_g6)" d="M922 1428l29 10-7-11-28-15z"/><path fill="url(#s2_g7)" d="M374 1465l2-31-6-11-3 38z"/><path fill="url(#s2_g0)" d="M464 1465l2-49-6 2-3 43z"/><path fill="url(#s2_g7)" d="M554 1465l2-30-7-12-2 38z"/><path fill="url(#s2_g22)" d="M644 1463l2-28-7-28-2 54z"/><path fill="url(#s2_g7)" d="M733 1464l3-37-7 4-2 30z"/><path fill="url(#s2_g15)" d="M823 1463l3-38-7 11-2 24z"/><path fill="url(#s2_g1)" d="M913 1463l3-51-7 15-2 33z"/><path fill="url(#s2_g36)" d="M341 1440l26 21-6-2-27-14z"/><path fill="url(#s2_g5)" d="M431 1446l26 15-6-3-27-25z"/><path fill="url(#s2_g5)" d="M521 1435l26 26-6-3-27-6z"/><path fill="#4741e5" d="M611 1446l26 15-7-3-26-18z"/><path fill="url(#s2_g14)" d="M700 1440l27 21-7-3-26-9z"/><path fill="#463bdd" d="M790 1448l27 12-7-3-26-2z"/><path fill="url(#s2_g14)" d="M880 1441l27 19-7-4-26-15z"/><path fill="url(#s2_g13)" d="M389 1454l29 0-7-20-28-16z"/><path fill="url(#s2_g28)" d="M479 1406l29 26-7 10-28-13z"/><path fill="url(#s2_g11)" d="M569 1406l28 25-6 12-29-9z"/><path fill="url(#s2_g13)" d="M659 1426l28 14-6 2-29-10z"/><path fill="url(#s2_g13)" d="M749 1432l28 13-6-11-29-16z"/><path fill="#4741e5" d="M839 1451l28 1-6-8-29-1zM325 1458l9-13-6-5-10 12zM437 1450l27 15-7-4-26-15z"/><path fill="url(#s2_g0)" d="M380 1468l3-50-7 16-2 31z"/><path fill="url(#s2_g4)" d="M470 1467l3-38-7-13-2 49z"/><path fill="url(#s2_g5)" d="M560 1468l2-34-6 1-2 30z"/><path fill="url(#s2_g5)" d="M650 1467l2-35-6 3-2 28z"/><path fill="url(#s2_g4)" d="M740 1466l2-48-6 9-3 37z"/><path fill="url(#s2_g7)" d="M830 1467l2-24-6-18-3 38z"/><path fill="url(#s2_g1)" d="M920 1467l2-39-6-16-3 51z"/><path fill="url(#s2_g14)" d="M347 1447l27 18-7-4-26-21z"/><path fill="url(#s2_g5)" d="M527 1453l27 12-7-4-26-26z"/><path fill="#463bdd" d="M617 1450l27 13-7-2-26-15zM797 1455l26 8-6-3-27-12z"/><path fill="url(#s2_g14)" d="M707 1452l26 12-6-3-27-21z"/><path fill="url(#s2_g14)" d="M887 1459l26 4-6-3-27-19z"/><path fill="url(#s2_g26)" d="M396 1408l28 25-6 21-29 0z"/><path fill="url(#s2_g26)" d="M486 1449l28 3-6-20-29-26z"/><path fill="url(#s2_g10)" d="M576 1426l28 14-7-9-28-25z"/><path fill="url(#s2_g13)" d="M665 1445l29 4-7-9-28-14z"/><path fill="url(#s2_g25)" d="M755 1455l29 0-7-10-28-13z"/><path fill="url(#s2_g16)" d="M845 1427l29 14-7 11-28-1z"/><path fill="#4746eb" d="M331 1458l10-18-7 5-9 13z"/><path fill="url(#s2_g4)" d="M387 1471l2-17-6-36-3 50z"/><path fill="url(#s2_g29)" d="M477 1471l2-65-6 23-3 38z"/><path fill="url(#s2_g2)" d="M567 1471l2-65-7 28-2 34z"/><path fill="url(#s2_g4)" d="M657 1470l2-44-7 6-2 35z"/><path fill="url(#s2_g4)" d="M747 1469l2-37-7-14-2 48z"/><path fill="#463bdd" d="M836 1470l3-19-7-8-2 24zM354 1455l26 13-6-3-27-18zM444 1457l26 10-6-2-27-15z"/><path fill="#463bdd" d="M534 1466l26 2-6-3-27-12zM713 1454l27 12-7-2-26-12zM893 1451l27 16-7-4-26-4z"/><path fill="url(#s2_g14)" d="M624 1448l26 19-6-4-27-13z"/><path fill="url(#s2_g5)" d="M803 1444l27 23-7-4-26-8z"/><path fill="url(#s2_g31)" d="M402 1430l29 16-7-13-28-25z"/><path fill="url(#s2_g26)" d="M492 1409l29 26-7 17-28-3z"/><path fill="#4757f7" d="M582 1431l29 15-7-6-28-14z"/><path fill="url(#s2_g6)" d="M672 1421l28 19-6 9-29-4z"/><path fill="url(#s2_g21)" d="M762 1435l28 13-6 7-29 0z"/><path fill="url(#s2_g10)" d="M852 1418l28 23-6 0-29-14z"/><path fill="#4746eb" d="M338 1462l9-15-6-7-10 18z"/><path fill="url(#s2_g29)" d="M393 1474l3-66-7 46-2 17z"/><path fill="url(#s2_g29)" d="M483 1474l3-25-7-43-2 65z"/><path fill="url(#s2_g3)" d="M573 1473l3-47-7-20-2 65z"/><path fill="url(#s2_g4)" d="M663 1473l2-28-6-19-2 44z"/><path fill="url(#s2_g15)" d="M753 1473l2-18-6-23-2 37z"/><path fill="url(#s2_g0)" d="M843 1473l2-46-6 24-3 19z"/><path fill="#463bdd" d="M360 1463l27 8-7-3-26-13zM450 1456l27 15-7-4-26-10zM540 1457l27 14-7-3-26-2zM720 1456l27 13-7-3-27-12z"/><path fill="url(#s2_g36)" d="M630 1453l27 17-7-3-26-19z"/><path fill="url(#s2_g5)" d="M810 1451l26 19-6-3-27-23z"/><path fill="#4757f7" d="M409 1432l28 18-6-4-29-16z"/><path fill="url(#s2_g28)" d="M499 1447l28 6-6-18-29-26z"/><path fill="#4852f4" d="M589 1443l28 7-6-4-29-15z"/><path fill="url(#s2_g6)" d="M678 1446l29 6-7-12-28-19z"/><path fill="#484cef" d="M768 1446l29 9-7-7-28-13z"/><path fill="url(#s2_g23)" d="M858 1453l29 6-7-18-28-23z"/><path fill="#4746eb" d="M344 1468l10-13-7-8-9 15z"/><path fill="url(#s2_g29)" d="M400 1478l2-48-6-22-3 66z"/><path fill="url(#s2_g29)" d="M490 1478l2-69-6 40-3 25z"/><path fill="url(#s2_g0)" d="M580 1477l2-46-6-5-3 47z"/><path fill="url(#s2_g1)" d="M670 1477l2-56-7 24-2 28z"/><path fill="url(#s2_g7)" d="M760 1477l2-42-7 20-2 18z"/><path fill="url(#s2_g3)" d="M849 1476l3-58-7 9-2 46z"/><path fill="#463bdd" d="M367 1457l26 17-6-3-27-8zM547 1464l26 9-6-2-27-14zM637 1464l26 9-6-3-27-17zM816 1463l27 10-7-3-26-19z"/><path fill="url(#s2_g14)" d="M457 1455l26 19-6-3-27-15z"/><path fill="url(#s2_g8)" d="M727 1449l26 24-6-4-27-13z"/><path fill="url(#s2_g13)" d="M415 1445l29 12-7-7-28-18z"/><path fill="#4746eb" d="M505 1465l29 1-7-13-28-6z"/><path fill="url(#s2_g12)" d="M595 1428l29 20-7 2-28-7z"/><path fill="#4852f4" d="M685 1442l28 12-6-2-29-6z"/><path fill="url(#s2_g6)" d="M775 1425l28 19-6 11-29-9z"/><path fill="url(#s2_g16)" d="M865 1438l28 13-6 8-29-6z"/><path fill="#4741e5" d="M351 1474l9-11-6-8-10 13z"/><path fill="url(#s2_g0)" d="M406 1481l3-49-7-2-2 48z"/><path fill="url(#s2_g29)" d="M496 1480l3-33-7-38-2 69z"/><path fill="url(#s2_g0)" d="M586 1480l3-37-7-12-2 46z"/><path fill="url(#s2_g1)" d="M676 1480l2-34-6-25-2 56z"/><path fill="url(#s2_g7)" d="M766 1480l2-34-6-11-2 42z"/><path fill="url(#s2_g2)" d="M856 1480l2-27-6-35-3 58z"/><path fill="#463bdd" d="M373 1469l27 9-7-4-26-17zM553 1459l27 18-7-4-26-9zM643 1469l27 8-7-4-26-9zM823 1461l26 15-6-3-27-10z"/><path fill="url(#s2_g14)" d="M463 1465l27 13-7-4-26-19z"/><path fill="url(#s2_g5)" d="M733 1467l27 10-7-4-26-24z"/><path fill="#4852f4" d="M422 1445l28 11-6 1-29-12zM692 1442l28 14-7-2-28-12z"/><path fill="url(#s2_g21)" d="M512 1445l28 12-6 9-29-1z"/><path fill="url(#s2_g12)" d="M602 1437l28 16-6-5-29-20z"/><path fill="url(#s2_g12)" d="M781 1432l29 19-7-7-28-19z"/><path fill="#4741e5" d="M357 1472l10-15-7 6-9 11z"/><path fill="url(#s2_g0)" d="M413 1484l2-39-6-13-3 49z"/><path fill="url(#s2_g5)" d="M503 1484l2-19-6-18-3 33z"/><path fill="url(#s2_g22)" d="M593 1482l2-54-6 15-3 37z"/><path fill="url(#s2_g7)" d="M683 1483l2-41-7 4-2 34z"/><path fill="url(#s2_g22)" d="M773 1482l2-57-7 21-2 34z"/><path fill="url(#s2_g0)" d="M863 1483l2-45-7 15-2 27z"/><path fill="#463bdd" d="M380 1465l26 16-6-3-27-9zM470 1467l26 13-6-2-27-13zM650 1466l26 14-6-3-27-8z"/><path fill="url(#s2_g14)" d="M560 1461l26 19-6-3-27-18z"/><path fill="url(#s2_g5)" d="M740 1452l26 28-6-3-27-10z"/><path fill="url(#s2_g5)" d="M830 1454l26 26-7-4-26-15z"/><path fill="url(#s2_g10)" d="M428 1431l29 24-7 1-28-11z"/><path fill="#4852f4" d="M518 1455l29 9-7-7-28-12z"/><path fill="url(#s2_g13)" d="M608 1453l29 11-7-11-28-16z"/><path fill="url(#s2_g10)" d="M698 1427l29 22-7 7-28-14z"/><path fill="url(#s2_g6)" d="M788 1455l28 8-6-12-29-19z"/><path fill="#4741e5" d="M364 1478l9-9-6-12-10 15z"/><path fill="url(#s2_g7)" d="M419 1488l3-43-7 0-2 39z"/><path fill="url(#s2_g7)" d="M509 1487l3-42-7 20-2 19z"/><path fill="url(#s2_g22)" d="M599 1486l3-49-7-9-2 54z"/><path fill="url(#s2_g0)" d="M689 1486l3-44-7 0-2 41z"/><path fill="url(#s2_g1)" d="M779 1486l2-54-6-7-2 57z"/><path fill="url(#s2_g7)" d="M386 1455l27 29-7-3-26-16z"/><path fill="#463bdd" d="M476 1474l27 10-7-4-26-13zM656 1467l27 16-7-3-26-14z"/><path fill="url(#s2_g36)" d="M566 1477l27 5-7-2-26-19z"/><path fill="url(#s2_g8)" d="M746 1481l27 1-7-2-26-28z"/><path fill="url(#s2_g5)" d="M836 1472l27 11-7-3-26-26z"/><path fill="url(#s2_g11)" d="M435 1450l28 15-6-10-29-24z"/><path fill="url(#s2_g6)" d="M525 1439l28 20-6 5-29-9z"/><path fill="#484cef" d="M615 1461l28 8-6-5-29-11z"/><path fill="url(#s2_g11)" d="M705 1457l28 10-6-18-29-22z"/><path fill="url(#s2_g13)" d="M795 1448l28 13-7 2-28-8z"/><path fill="#4741e5" d="M370 1480l10-15-7 4-9 9zM663 1471l26 15-6-3-27-16z"/><path fill="url(#s2_g2)" d="M426 1491l2-60-6 14-3 43z"/><path fill="url(#s2_g15)" d="M516 1489l2-34-6-10-3 42z"/><path fill="url(#s2_g0)" d="M606 1490l2-37-6-16-3 49z"/><path fill="url(#s2_g2)" d="M696 1489l2-62-6 15-3 44z"/><path fill="url(#s2_g1)" d="M786 1489l2-34-7-23-2 54z"/><path fill="url(#s2_g7)" d="M393 1471l26 17-6-4-27-29z"/><path fill="#463bdd" d="M483 1480l26 7-6-3-27-10zM573 1469l26 17-6-4-27-5zM753 1468l26 18-6-4-27-1z"/><path fill="#4852f4" d="M441 1461l29 6-7-2-28-15z"/><path fill="url(#s2_g12)" d="M531 1442l29 19-7-2-28-20z"/><path fill="url(#s2_g13)" d="M621 1451l29 15-7 3-28-8z"/><path fill="url(#s2_g28)" d="M711 1428l29 24-7 15-28-10z"/><path fill="url(#s2_g31)" d="M801 1428l29 26-7 7-28-13z"/><path fill="#4746eb" d="M377 1475l9-20-6 10-10 15z"/><path fill="url(#s2_g2)" d="M432 1494l3-44-7-19-2 60z"/><path fill="url(#s2_g1)" d="M522 1494l3-55-7 16-2 34z"/><path fill="url(#s2_g7)" d="M612 1493l3-32-7-8-2 37z"/><path fill="url(#s2_g2)" d="M702 1493l3-36-7-30-2 62z"/><path fill="url(#s2_g0)" d="M792 1492l3-44-7 7-2 34z"/><path fill="#463bdd" d="M399 1480l27 11-7-3-26-17zM489 1476l27 13-7-2-26-7zM669 1476l27 13-7-3-26-15z"/><path fill="#4741e5" d="M579 1473l27 17-7-4-26-17zM759 1473l27 16-7-3-26-18z"/><path fill="#484cef" d="M448 1468l28 6-6-7-29-6z"/><path fill="url(#s2_g9)" d="M538 1470l28 7-6-16-29-19z"/><path fill="#4757f7" d="M628 1452l28 15-6-1-29-15z"/><path fill="url(#s2_g26)" d="M718 1477l28 4-6-29-29-24z"/><path fill="url(#s2_g28)" d="M808 1465l28 7-6-18-29-26z"/><path fill="#484cef" d="M383 1485l10-14-7-16-9 20zM454 1475l29 5-7-6-28-6z"/><path fill="url(#s2_g7)" d="M439 1497l2-36-6-11-3 44z"/><path fill="url(#s2_g1)" d="M529 1497l2-55-6-3-3 55z"/><path fill="url(#s2_g0)" d="M619 1497l2-46-6 10-3 32z"/><path fill="url(#s2_g30)" d="M709 1495l2-67-6 29-3 36z"/><path fill="url(#s2_g29)" d="M799 1496l2-68-6 20-3 44z"/><path fill="#463bdd" d="M406 1484l26 10-6-3-27-11zM496 1481l26 13-6-5-27-13zM586 1493l26 0-6-3-27-17zM766 1478l26 14-6-3-27-16z"/><path fill="#4741e5" d="M676 1475l26 18-6-4-27-13z"/><path fill="url(#s2_g9)" d="M544 1450l29 19-7 8-28-7z"/><path fill="#4757f7" d="M634 1458l29 13-7-4-28-15z"/><path fill="url(#s2_g16)" d="M724 1456l29 12-7 13-28-4z"/><path fill="#4741e5" d="M390 1492l9-12-6-9-10 14zM682 1478l27 17-7-2-26-18z"/><path fill="url(#s2_g5)" d="M445 1500l3-32-7-7-2 36z"/><path fill="url(#s2_g22)" d="M535 1499l3-29-7-28-2 55z"/><path fill="url(#s2_g0)" d="M625 1500l3-48-7-1-2 46z"/><path fill="url(#s2_g30)" d="M715 1498l3-21-7-49-2 67z"/><path fill="url(#s2_g29)" d="M805 1499l3-34-7-37-2 68z"/><path fill="#463bdd" d="M412 1482l27 15-7-3-26-10zM502 1491l27 6-7-3-26-13zM592 1478l27 19-7-4-26 0zM772 1487l27 9-7-4-26-14z"/><path fill="url(#s2_g13)" d="M461 1458l28 18-6 4-29-5z"/><path fill="url(#s2_g12)" d="M551 1461l28 12-6-4-29-19z"/><path fill="#4852f4" d="M641 1464l28 12-6-5-29-13zM731 1466l28 7-6-5-29-12z"/><path fill="#4741e5" d="M396 1496l10-12-7-4-9 12zM599 1486l26 14-6-3-27-19zM403 1496l9-14-6 2-10 12z"/><path fill="url(#s2_g8)" d="M452 1502l2-27-6-7-3 32z"/><path fill="url(#s2_g1)" d="M542 1503l2-53-6 20-3 29z"/><path fill="url(#s2_g0)" d="M632 1503l2-45-6-6-3 48z"/><path fill="url(#s2_g0)" d="M722 1503l2-47-6 21-3 21z"/><path fill="url(#s2_g5)" d="M419 1474l26 26-6-3-27-15z"/><path fill="#463bdd" d="M509 1488l26 11-6-2-27-6zM689 1499l26-1-6-3-27-17zM779 1487l26 12-6-3-27-9z"/><path fill="url(#s2_g13)" d="M467 1475l29 6-7-5-28-18z"/><path fill="url(#s2_g16)" d="M557 1491l29 2-7-20-28-12z"/><path fill="url(#s2_g6)" d="M647 1456l29 19-7 1-28-12z"/><path fill="#4852f4" d="M737 1465l29 13-7-5-28-7z"/><path fill="url(#s2_g0)" d="M458 1507l3-49-7 17-2 27z"/><path fill="url(#s2_g1)" d="M548 1506l3-45-7-11-2 53z"/><path fill="url(#s2_g0)" d="M638 1506l3-42-7-6-2 45z"/><path fill="url(#s2_g4)" d="M728 1505l3-39-7-10-2 47z"/><path fill="url(#s2_g8)" d="M425 1488l27 14-7-2-26-26z"/><path fill="#463bdd" d="M515 1489l27 14-7-4-26-11zM605 1491l27 12-7-3-26-14z"/><path fill="url(#s2_g5)" d="M695 1475l27 28-7-5-26 1z"/><path fill="#484cef" d="M474 1484l28 7-6-10-29-6z"/><path fill="url(#s2_g9)" d="M564 1455l28 23-6 15-29-2z"/><path fill="#4757f7" d="M654 1462l28 16-6-3-29-19z"/><path fill="url(#s2_g13)" d="M744 1479l28 8-6-9-29-13z"/><path fill="#4746eb" d="M410 1492l9-18-7 8-9 14z"/><path fill="url(#s2_g0)" d="M465 1509l2-34-6-17-3 49z"/><path fill="url(#s2_g0)" d="M555 1509l2-18-6-30-3 45z"/><path fill="url(#s2_g22)" d="M645 1508l2-52-6 8-3 42z"/><path fill="url(#s2_g4)" d="M735 1507l2-42-6 1-3 39z"/><path fill="#463bdd" d="M432 1492l26 15-6-5-27-14zM612 1494l26 12-6-3-27-12zM528 1498l27 11-7-3-26-19z"/><path fill="#4741e5" d="M522 1487l26 19-6-3-27-14z"/><path fill="url(#s2_g8)" d="M702 1491l26 14-6-2-27-28z"/><path fill="url(#s2_g21)" d="M480 1475l29 13-7 3-28-7z"/><path fill="url(#s2_g6)" d="M570 1476l29 10-7-8-28-23z"/><path fill="url(#s2_g13)" d="M660 1499l29 0-7-21-28-16z"/><path fill="#484cef" d="M750 1475l29 12-7 0-28-8z"/><path fill="#4746eb" d="M416 1503l9-15-6-14-9 18z"/><path fill="url(#s2_g5)" d="M472 1513l2-29-7-9-2 34z"/><path fill="url(#s2_g22)" d="M561 1511l3-56-7 36-2 18z"/><path fill="url(#s2_g22)" d="M651 1511l3-49-7-6-2 52z"/><path fill="url(#s2_g0)" d="M741 1512l3-33-7-14-2 42z"/><path fill="url(#s2_g14)" d="M439 1489l26 20-7-2-26-15z"/><path fill="url(#s2_g8)" d="M618 1484l27 24-7-2-26-12z"/><path fill="url(#s2_g8)" d="M708 1483l27 24-7-2-26-14z"/><path fill="#4852f4" d="M487 1477l28 12-6-1-29-13zM577 1480l28 11-6-5-29-10zM583 1484l29 10-7-3-28-11z"/><path fill="url(#s2_g26)" d="M667 1451l28 24-6 24-29 0z"/><path fill="#4741e5" d="M423 1506l9-14-7-4-9 15z"/><path fill="url(#s2_g7)" d="M478 1516l2-41-6 9-2 29z"/><path fill="url(#s2_g1)" d="M568 1516l2-40-6-21-3 56z"/><path fill="url(#s2_g0)" d="M658 1515l2-16-6-37-3 49z"/><path fill="url(#s2_g7)" d="M748 1515l2-40-6 4-3 33z"/><path fill="url(#s2_g14)" d="M445 1499l27 14-7-4-26-20z"/><path fill="#463bdd" d="M535 1497l26 14-6-2-27-11z"/><path fill="url(#s2_g8)" d="M625 1494l26 17-6-3-27-24z"/><path fill="url(#s2_g5)" d="M715 1500l26 12-6-5-27-24z"/><path fill="url(#s2_g13)" d="M493 1473l29 14-7 2-28-12z"/><path fill="url(#s2_g28)" d="M673 1480l29 11-7-16-28-24z"/><path fill="#4746eb" d="M429 1505l10-16-7 3-9 14zM436 1512l9-13-6-10-10 16z"/><path fill="url(#s2_g7)" d="M485 1519l2-42-7-2-2 41z"/><path fill="url(#s2_g7)" d="M575 1519l2-39-7-4-2 40z"/><path fill="url(#s2_g29)" d="M664 1519l3-68-7 48-2 16z"/><path fill="#463bdd" d="M452 1499l26 17-6-3-27-14zM721 1503l27 12-7-3-26-12z"/><path fill="#4741e5" d="M541 1500l27 16-7-5-26-14zM631 1503l27 12-7-4-26-17z"/><path fill="url(#s2_g13)" d="M500 1486l28 12-6-11-29-14z"/><path fill="url(#s2_g28)" d="M590 1459l28 25-6 10-29-10z"/><path fill="url(#s2_g28)" d="M680 1457l28 26-6 8-29-11z"/><path fill="url(#s2_g0)" d="M491 1522l2-49-6 4-2 42z"/><path fill="url(#s2_g7)" d="M581 1522l2-38-6-4-2 39z"/><path fill="url(#s2_g29)" d="M671 1522l2-42-6-29-3 68z"/><path fill="#463bdd" d="M458 1511l27 8-7-3-26-17zM548 1513l27 6-7-3-27-16zM638 1503l26 16-6-4-27-12zM465 1518l26 4-6-3-27-8zM555 1518l26 4-6-3-27-6z"/><path fill="url(#s2_g13)" d="M506 1478l29 19-7 1-28-12z"/><path fill="url(#s2_g31)" d="M596 1478l29 16-7-10-28-25z"/><path fill="url(#s2_g28)" d="M686 1492l29 8-7-17-28-26z"/><path fill="#4746eb" d="M442 1514l10-15-7 0-9 13z"/><path fill="url(#s2_g4)" d="M498 1525l2-39-7-13-2 49z"/><path fill="url(#s2_g29)" d="M588 1525l2-66-7 25-2 38z"/><path fill="url(#s2_g29)" d="M677 1525l3-68-7 23-2 42z"/><path fill="url(#s2_g14)" d="M644 1501l27 21-7-3-26-16z"/><path fill="url(#s2_g24)" d="M513 1484l28 16-6-3-29-19z"/><path fill="url(#s2_g13)" d="M603 1490l28 13-6-9-29-16z"/><path fill="#484cef" d="M693 1495l28 8-6-3-29-8z"/><path fill="#4741e5" d="M449 1521l9-10-6-12-10 15z"/><path fill="url(#s2_g0)" d="M504 1529l2-51-6 8-2 39z"/><path fill="url(#s2_g29)" d="M594 1528l2-50-6-19-2 66z"/><path fill="url(#s2_g29)" d="M684 1528l2-36-6-35-3 68z"/><path fill="#463bdd" d="M471 1518l27 7-7-3-26-4zM561 1514l27 11-7-3-26-4zM455 1527l10-9-7-7-9 10zM478 1520l26 9-6-4-27-7zM568 1514l26 14-6-3-27-11z"/><path fill="url(#s2_g14)" d="M651 1504l26 21-6-3-27-21z"/><path fill="url(#s2_g16)" d="M520 1505l28 8-7-13-28-16z"/><path fill="#4852f4" d="M609 1490l29 13-7 0-28-13z"/><path fill="url(#s2_g0)" d="M511 1532l2-48-7-6-2 51z"/><path fill="url(#s2_g0)" d="M601 1531l2-41-7-12-2 50z"/><path fill="url(#s2_g5)" d="M691 1531l2-36-7-3-2 36z"/><path fill="url(#s2_g14)" d="M658 1514l26 14-7-3-26-21z"/><path fill="#4746eb" d="M526 1513l29 5-7-5-28-8z"/><path fill="url(#s2_g12)" d="M616 1483l28 18-6 2-29-13z"/><path fill="#463bdd" d="M462 1529l9-11-6 0-10 9zM484 1521l27 11-7-3-26-9zM664 1516l27 15-7-3-26-14zM468 1531l10-11-7-2-9 11zM491 1520l26 15-6-3-27-11z"/><path fill="url(#s2_g0)" d="M517 1535l3-30-7-21-2 48z"/><path fill="url(#s2_g0)" d="M607 1535l2-45-6 0-2 41z"/><path fill="url(#s2_g5)" d="M574 1503l27 28-7-3-26-14z"/><path fill="url(#s2_g21)" d="M533 1501l28 13-6 4-29-5z"/><path fill="url(#s2_g10)" d="M623 1481l28 23-7-3-28-18z"/><path fill="url(#s2_g8)" d="M524 1537l2-24-6-8-3 30z"/><path fill="url(#s2_g1)" d="M614 1537l2-54-7 7-2 45z"/><path fill="url(#s2_g5)" d="M581 1518l26 17-6-4-27-28z"/><path fill="#4852f4" d="M539 1503l29 11-7 0-28-13z"/><path fill="url(#s2_g11)" d="M629 1497l29 17-7-10-28-23z"/><path fill="#4741e5" d="M475 1533l9-12-6-1-10 11zM481 1533l10-13-7 1-9 12z"/><path fill="url(#s2_g7)" d="M530 1541l3-40-7 12-2 24z"/><path fill="url(#s2_g2)" d="M620 1541l3-60-7 2-2 54z"/><path fill="url(#s2_g15)" d="M497 1504l27 33-7-2-26-15z"/><path fill="#463bdd" d="M587 1533l27 4-7-2-26-17zM594 1535l26 6-6-4-27-4z"/><path fill="url(#s2_g32)" d="M546 1474l28 29-6 11-29-11z"/><path fill="#4852f4" d="M636 1501l28 15-6-2-29-17z"/><path fill="url(#s2_g7)" d="M537 1544l2-41-6-2-3 40z"/><path fill="url(#s2_g2)" d="M627 1545l2-48-6-16-3 60z"/><path fill="url(#s2_g7)" d="M504 1532l26 9-6-4-27-33z"/><path fill="url(#s2_g34)" d="M552 1502l29 16-7-15-28-29z"/><path fill="url(#s2_g21)" d="M488 1525l9-21-6 16-10 13z"/><path fill="url(#s2_g35)" d="M543 1548l3-74-7 29-2 41z"/><path fill="url(#s2_g0)" d="M633 1547l3-46-7-4-2 48z"/><path fill="#463bdd" d="M510 1534l27 10-7-3-26-9zM600 1528l27 17-7-4-26-6zM607 1533l26 14-6-2-27-17zM523 1540l27 10-7-2-26 2zM507 1556l10-6-7-16-9 12z"/><path fill="url(#s2_g16)" d="M559 1529l28 4-6-15-29-16z"/><path fill="url(#s2_g21)" d="M494 1544l10-12-7-28-9 21z"/><path fill="url(#s2_g37)" d="M550 1550l2-48-6-28-3 74z"/><path fill="#4536d5" d="M517 1550l26-2-6-4-27-10z"/><path fill="#4746eb" d="M565 1529l29 6-7-2-28-4z"/><path fill="#4741e5" d="M501 1546l9-12-6-2-10 12z"/><path fill="url(#s2_g0)" d="M556 1554l3-25-7-27-2 48z"/><path fill="url(#s2_g21)" d="M572 1518l28 10-6 7-29-6z"/><path fill="url(#s2_g14)" d="M563 1557l2-28-6 0-3 25z"/><path fill="#463bdd" d="M530 1540l26 14-6-4-27-10zM514 1551l9-11-6 10-10 6zM536 1550l27 7-7-3-26-14zM543 1548l26 11-6-2-27-7zM549 1552l27 10-7-3-26-11z"/><path fill="#4852f4" d="M578 1523l29 10-7-5-28-10z"/><path fill="url(#s2_g15)" d="M569 1559l3-41-7 11-2 28z"/><path fill="#4741e5" d="M520 1553l10-13-7 0-9 11zM527 1559l9-9-6-10-10 13zM533 1559l10-11-7 2-9 9zM540 1564l9-12-6-4-10 11z"/><path fill="url(#s2_g15)" d="M576 1562l2-39-6-5-3 41z"/><path fill="#9d99e9" fill-opacity="1" d="M983 1454l12-3-3-39-12-6zM980 1455l3-1-3-48-3 44zM954 1462l26-7-3-5-26-12zM925 1470l29-8-3-24-29-10zM923 1471l2-1-3-42-2 39zM897 1479l26-8-3-4-27-16zM868 1487l29-8-4-28-28-13zM866 1487l2 0-3-49-2 45zM839 1495l27-8-3-4-27-11zM811 1503l28-8-3-23-28-7zM808 1503l3 0-3-38-3 34zM782 1511l26-8-3-4-26-12zM753 1519l29-8-3-24-29-12zM751 1520l2-1-3-44-2 40zM725 1527l26-7-3-5-27-12zM696 1535l29-8-4-24-28-8zM694 1536l2-1-3-40-2 36zM667 1543l27-7-3-5-27-15zM639 1551l28-8-3-27-28-15zM636 1552l3-1-3-50-3 46zM610 1560l26-8-3-5-26-14zM581 1568l29-8-3-27-29-10zM579 1568l2 0-3-45-2 39zM553 1576l26-8-3-6-27-10zM543 1578l10-2-4-24-9 12z"/></g><line x1="49.4" y1="352.5" x2="49.4" y2="263.4" stroke="#4d4d4d" stroke-width="0.6"/><line x1="135.8" y1="394.6" x2="248.7" y2="362.7" stroke="#4d4d4d" stroke-width="0.6"/><line x1="135.8" y1="394.6" x2="49.4" y2="352.5" stroke="#4d4d4d" stroke-width="0.6"/><line x1="49.4" y1="352.5" x2="47.4" y2="351.5" stroke="#4d4d4d" stroke-width="0.6"/><text x="43.8" y="353.6" text-anchor="end" class="t">0</text><line x1="49.4" y1="330.2" x2="47.4" y2="329.2" stroke="#4d4d4d" stroke-width="0.6"/><text x="43.8" y="331.4" text-anchor="end" class="t">100</text><line x1="49.4" y1="307.9" x2="47.4" y2="306.9" stroke="#4d4d4d" stroke-width="0.6"/><text x="43.8" y="309.1" text-anchor="end" class="t">200</text><line x1="49.4" y1="285.7" x2="47.4" y2="284.7" stroke="#4d4d4d" stroke-width="0.6"/><text x="43.8" y="286.8" text-anchor="end" class="t">300</text><line x1="49.4" y1="263.4" x2="47.4" y2="262.4" stroke="#4d4d4d" stroke-width="0.6"/><text x="43.8" y="264.5" text-anchor="end" class="t">400</text><line x1="109.2" y1="381.6" x2="108.7" y2="383.6" stroke="#4d4d4d" stroke-width="0.6"/><line x1="82" y1="368.4" x2="81.5" y2="370.4" stroke="#4d4d4d" stroke-width="0.6"/><line x1="54.8" y1="355.1" x2="54.3" y2="357.1" stroke="#4d4d4d" stroke-width="0.6"/><text x="99.8" y="391.8" text-anchor="middle" class="t">50</text><text x="70.5" y="378.8" text-anchor="middle" class="t">100</text><text x="43.5" y="365.8" text-anchor="middle" class="t">150</text><line x1="155.4" y1="389.1" x2="156" y2="391.1" stroke="#4d4d4d" stroke-width="0.6"/><line x1="180" y1="382.1" x2="180.6" y2="384.1" stroke="#4d4d4d" stroke-width="0.6"/><line x1="204.5" y1="375.2" x2="205.1" y2="377.2" stroke="#4d4d4d" stroke-width="0.6"/><line x1="229.1" y1="368.2" x2="229.7" y2="370.2" stroke="#4d4d4d" stroke-width="0.6"/><text x="163" y="399.9" text-anchor="middle" class="t">5</text><text x="189.8" y="392.6" text-anchor="middle" class="t">10</text><text x="214.2" y="386.4" text-anchor="middle" class="t">15</text><text x="238.2" y="379.2" text-anchor="middle" class="t">20</text><text transform="translate(62.3 383.1) rotate(27)" text-anchor="middle" class="t" y="2.6">Day</text><text transform="translate(203.8 395.2) rotate(-18)" text-anchor="middle" class="t" y="2.6">Hour</text><text transform="translate(23.1 307.7) rotate(-90)" text-anchor="middle" class="t" style="font-size:8px" y="2.86">PM<tspan font-size="5.6" dy="1.9">2.5</tspan><tspan dy="-1.9"> (</tspan>&#956;g/m<tspan font-size="5.6" dy="-3">3</tspan><tspan dy="3">)</tspan></text><linearGradient id="cb2" x1="0" y1="0" x2="0" y2="1"><stop offset="0%" stop-color="#f9fb15"/><stop offset="6.2%" stop-color="#f5e327"/><stop offset="12.5%" stop-color="#feca33"/><stop offset="18.8%" stop-color="#f1ba37"/><stop offset="25%" stop-color="#c8c129"/><stop offset="31.2%" stop-color="#94ca4a"/><stop offset="37.5%" stop-color="#5ccc76"/><stop offset="43.8%" stop-color="#34c79c"/><stop offset="50%" stop-color="#12beb9"/><stop offset="56.2%" stop-color="#0cb3d3"/><stop offset="62.5%" stop-color="#21a3e3"/><stop offset="68.8%" stop-color="#2c90f0"/><stop offset="75%" stop-color="#347afd"/><stop offset="81.2%" stop-color="#4562fc"/><stop offset="87.5%" stop-color="#484cef"/><stop offset="93.8%" stop-color="#4536d5"/><stop offset="100%" stop-color="#3e26a8"/></linearGradient><rect x="253.6" y="231.6" width="5" height="163.2" fill="url(#cb2)"/><line x1="257.4" y1="394.8" x2="258.6" y2="394.8" stroke="#262626" stroke-width="0.5"/><text x="261.5" y="397.2" class="c">0</text><line x1="257.4" y1="374.4" x2="258.6" y2="374.4" stroke="#262626" stroke-width="0.5"/><text x="261.5" y="376.8" class="c">50</text><line x1="257.4" y1="354" x2="258.6" y2="354" stroke="#262626" stroke-width="0.5"/><text x="261.5" y="356.4" class="c">100</text><line x1="257.4" y1="333.6" x2="258.6" y2="333.6" stroke="#262626" stroke-width="0.5"/><text x="261.5" y="336" class="c">150</text><line x1="257.4" y1="313.2" x2="258.6" y2="313.2" stroke="#262626" stroke-width="0.5"/><text x="261.5" y="315.6" class="c">200</text><line x1="257.4" y1="292.8" x2="258.6" y2="292.8" stroke="#262626" stroke-width="0.5"/><text x="261.5" y="295.2" class="c">250</text><line x1="257.4" y1="272.4" x2="258.6" y2="272.4" stroke="#262626" stroke-width="0.5"/><text x="261.5" y="274.8" class="c">300</text><line x1="257.4" y1="252" x2="258.6" y2="252" stroke="#262626" stroke-width="0.5"/><text x="261.5" y="254.4" class="c">350</text><line x1="257.4" y1="231.6" x2="258.6" y2="231.6" stroke="#262626" stroke-width="0.5"/><text x="261.5" y="234" class="c">400</text><text x="256.4" y="228.4" class="c" style="font-size:7.6px" text-anchor="middle">&#956;g/m<tspan font-size="5.2" dy="-2.9">3</tspan></text><text x="15" y="232.5" class="ti" textLength="80" lengthAdjust="spacingAndGlyphs">(c)Non-linear regression</text><line x1="315.7" y1="330.2" x2="428.6" y2="298.3" stroke="#e3e3e3" stroke-width="0.6"/><line x1="428.6" y1="298.3" x2="515" y2="340.4" stroke="#e3e3e3" stroke-width="0.6"/><line x1="315.7" y1="307.9" x2="428.6" y2="276.1" stroke="#e3e3e3" stroke-width="0.6"/><line x1="428.6" y1="276.1" x2="515" y2="318.1" stroke="#e3e3e3" stroke-width="0.6"/><line x1="315.7" y1="285.7" x2="428.6" y2="253.8" stroke="#e3e3e3" stroke-width="0.6"/><line x1="428.6" y1="253.8" x2="515" y2="295.9" stroke="#e3e3e3" stroke-width="0.6"/><line x1="315.7" y1="263.4" x2="428.6" y2="231.5" stroke="#e3e3e3" stroke-width="0.6"/><line x1="428.6" y1="231.5" x2="515" y2="273.6" stroke="#e3e3e3" stroke-width="0.6"/><line x1="335.3" y1="347" x2="335.3" y2="257.9" stroke="#e3e3e3" stroke-width="0.6"/><line x1="421.7" y1="389.1" x2="335.3" y2="347" stroke="#e3e3e3" stroke-width="0.6"/><line x1="359.9" y1="340" x2="359.9" y2="250.9" stroke="#e3e3e3" stroke-width="0.6"/><line x1="446.3" y1="382.1" x2="359.9" y2="340" stroke="#e3e3e3" stroke-width="0.6"/><line x1="384.4" y1="333.1" x2="384.4" y2="244" stroke="#e3e3e3" stroke-width="0.6"/><line x1="470.8" y1="375.2" x2="384.4" y2="333.1" stroke="#e3e3e3" stroke-width="0.6"/><line x1="409" y1="326.1" x2="409" y2="237" stroke="#e3e3e3" stroke-width="0.6"/><line x1="495.4" y1="368.2" x2="409" y2="326.1" stroke="#e3e3e3" stroke-width="0.6"/><line x1="488.4" y1="349.7" x2="488.4" y2="260.6" stroke="#e3e3e3" stroke-width="0.6"/><line x1="375.5" y1="381.6" x2="488.4" y2="349.7" stroke="#e3e3e3" stroke-width="0.6"/><line x1="461.2" y1="336.5" x2="461.2" y2="247.4" stroke="#e3e3e3" stroke-width="0.6"/><line x1="348.3" y1="368.4" x2="461.2" y2="336.5" stroke="#e3e3e3" stroke-width="0.6"/><line x1="434" y1="323.2" x2="434" y2="234.1" stroke="#e3e3e3" stroke-width="0.6"/><line x1="321.1" y1="355.1" x2="434" y2="323.2" stroke="#e3e3e3" stroke-width="0.6"/><line x1="428.6" y1="320.6" x2="428.6" y2="231.5" stroke="#e3e3e3" stroke-width="0.6"/><line x1="315.7" y1="352.5" x2="428.6" y2="320.6" stroke="#e3e3e3" stroke-width="0.6"/><line x1="428.6" y1="320.6" x2="515" y2="362.7" stroke="#e3e3e3" stroke-width="0.6"/><defs><linearGradient id="s3_p0" gradientUnits="userSpaceOnUse" x1="0" y1="1186" x2="0" y2="1423"><stop offset="0" stop-color="#7dcc5c"/><stop offset="0.083" stop-color="#4dcc82"/><stop offset="0.167" stop-color="#30c5a1"/><stop offset="0.25" stop-color="#0fbeba"/><stop offset="0.333" stop-color="#09b4d1"/><stop offset="0.417" stop-color="#1fa6e2"/><stop offset="0.5" stop-color="#2896ec"/><stop offset="0.583" stop-color="#2e84f9"/><stop offset="0.667" stop-color="#3f6fff"/><stop offset="0.75" stop-color="#475af9"/><stop offset="0.833" stop-color="#4747eb"/><stop offset="0.917" stop-color="#4434d0"/><stop offset="1" stop-color="#3e26a8"/></linearGradient><linearGradient id="s3_p1" gradientUnits="userSpaceOnUse" x1="0" y1="1235" x2="0" y2="1391"><stop offset="0" stop-color="#0cb3d3"/><stop offset="0.083" stop-color="#1baade"/><stop offset="0.167" stop-color="#23a0e5"/><stop offset="0.25" stop-color="#2895ec"/><stop offset="0.333" stop-color="#2d89f5"/><stop offset="0.417" stop-color="#327cfc"/><stop offset="0.5" stop-color="#3f6eff"/><stop offset="0.583" stop-color="#4660fc"/><stop offset="0.667" stop-color="#4853f5"/><stop offset="0.75" stop-color="#4746eb"/><stop offset="0.833" stop-color="#463adb"/><stop offset="0.917" stop-color="#4230c3"/><stop offset="1" stop-color="#3e26a8"/></linearGradient><linearGradient id="s3_p2" gradientUnits="userSpaceOnUse" x1="0" y1="1212" x2="0" y2="1373"><stop offset="0" stop-color="#04b6ce"/><stop offset="0.083" stop-color="#18addb"/><stop offset="0.167" stop-color="#21a3e3"/><stop offset="0.25" stop-color="#2798ea"/><stop offset="0.333" stop-color="#2d8cf3"/><stop offset="0.417" stop-color="#307ffb"/><stop offset="0.5" stop-color="#3d70ff"/><stop offset="0.583" stop-color="#4562fc"/><stop offset="0.667" stop-color="#4855f6"/><stop offset="0.75" stop-color="#4847ec"/><stop offset="0.833" stop-color="#463adc"/><stop offset="0.917" stop-color="#4230c4"/><stop offset="1" stop-color="#3e26a8"/></linearGradient><linearGradient id="s3_p3" gradientUnits="userSpaceOnUse" x1="0" y1="1212" x2="0" y2="1346"><stop offset="0" stop-color="#21a3e3"/><stop offset="0.083" stop-color="#269ae9"/><stop offset="0.167" stop-color="#2c90f0"/><stop offset="0.25" stop-color="#2e85f8"/><stop offset="0.333" stop-color="#347afd"/><stop offset="0.417" stop-color="#3f6eff"/><stop offset="0.5" stop-color="#4562fc"/><stop offset="0.583" stop-color="#4757f7"/><stop offset="0.667" stop-color="#484cef"/><stop offset="0.75" stop-color="#4741e5"/><stop offset="0.833" stop-color="#4536d5"/><stop offset="0.917" stop-color="#422ebf"/><stop offset="1" stop-color="#3e26a8"/></linearGradient><linearGradient id="s3_p4" gradientUnits="userSpaceOnUse" x1="0" y1="1264" x2="0" y2="1371"><stop offset="0" stop-color="#2d8cf3"/><stop offset="0.083" stop-color="#2e83f9"/><stop offset="0.167" stop-color="#347afd"/><stop offset="0.25" stop-color="#3d70ff"/><stop offset="0.333" stop-color="#4367fd"/><stop offset="0.417" stop-color="#465efb"/><stop offset="0.5" stop-color="#4855f6"/><stop offset="0.583" stop-color="#484cef"/><stop offset="0.667" stop-color="#4743e7"/><stop offset="0.75" stop-color="#463adc"/><stop offset="0.833" stop-color="#4433cc"/><stop offset="0.917" stop-color="#412dbb"/><stop offset="1" stop-color="#3e26a8"/></linearGradient><linearGradient id="s3_p5" gradientUnits="userSpaceOnUse" x1="0" y1="1224" x2="0" y2="1340"><stop offset="0" stop-color="#2994ed"/><stop offset="0.083" stop-color="#2d8bf4"/><stop offset="0.167" stop-color="#2f82fa"/><stop offset="0.25" stop-color="#3678fe"/><stop offset="0.333" stop-color="#406dfe"/><stop offset="0.417" stop-color="#4563fd"/><stop offset="0.5" stop-color="#4759f9"/><stop offset="0.583" stop-color="#4850f2"/><stop offset="0.667" stop-color="#4746ea"/><stop offset="0.75" stop-color="#463cdf"/><stop offset="0.833" stop-color="#4434cf"/><stop offset="0.917" stop-color="#412dbc"/><stop offset="1" stop-color="#3e26a8"/></linearGradient><linearGradient id="s3_p6" gradientUnits="userSpaceOnUse" x1="0" y1="1204" x2="0" y2="1328"><stop offset="0" stop-color="#259ce7"/><stop offset="0.083" stop-color="#2a93ee"/><stop offset="0.167" stop-color="#2d89f5"/><stop offset="0.25" stop-color="#307ffb"/><stop offset="0.333" stop-color="#3a73ff"/><stop offset="0.417" stop-color="#4368fe"/><stop offset="0.5" stop-color="#465efb"/><stop offset="0.583" stop-color="#4853f5"/><stop offset="0.667" stop-color="#4849ed"/><stop offset="0.75" stop-color="#473fe2"/><stop offset="0.833" stop-color="#4535d2"/><stop offset="0.917" stop-color="#412ebe"/><stop offset="1" stop-color="#3e26a8"/></linearGradient><linearGradient id="s3_p7" gradientUnits="userSpaceOnUse" x1="0" y1="1226" x2="0" y2="1324"><stop offset="0" stop-color="#2e83f9"/><stop offset="0.083" stop-color="#337bfc"/><stop offset="0.167" stop-color="#3c72ff"/><stop offset="0.25" stop-color="#4269fe"/><stop offset="0.333" stop-color="#4661fc"/><stop offset="0.417" stop-color="#4758f8"/><stop offset="0.5" stop-color="#4850f3"/><stop offset="0.583" stop-color="#4848ec"/><stop offset="0.667" stop-color="#4740e4"/><stop offset="0.75" stop-color="#4538d8"/><stop offset="0.833" stop-color="#4332ca"/><stop offset="0.917" stop-color="#412cb9"/><stop offset="1" stop-color="#3e26a8"/></linearGradient><linearGradient id="s3_p8" gradientUnits="userSpaceOnUse" x1="0" y1="1039" x2="0" y2="1320"><stop offset="0" stop-color="#e3bc2b"/><stop offset="0.083" stop-color="#b2c635"/><stop offset="0.167" stop-color="#77cc60"/><stop offset="0.25" stop-color="#41ca8c"/><stop offset="0.333" stop-color="#25c2ae"/><stop offset="0.417" stop-color="#01b7ca"/><stop offset="0.5" stop-color="#1da8e0"/><stop offset="0.583" stop-color="#2895ec"/><stop offset="0.667" stop-color="#307ffb"/><stop offset="0.75" stop-color="#4466fd"/><stop offset="0.833" stop-color="#484ef1"/><stop offset="0.917" stop-color="#4537d7"/><stop offset="1" stop-color="#3e26a8"/></linearGradient><linearGradient id="s3_p9" gradientUnits="userSpaceOnUse" x1="0" y1="1273" x2="0" y2="1353"><stop offset="0" stop-color="#3d70ff"/><stop offset="0.083" stop-color="#4269fe"/><stop offset="0.167" stop-color="#4562fc"/><stop offset="0.25" stop-color="#475bfa"/><stop offset="0.333" stop-color="#4855f6"/><stop offset="0.417" stop-color="#484ef1"/><stop offset="0.5" stop-color="#4847ec"/><stop offset="0.583" stop-color="#4741e5"/><stop offset="0.667" stop-color="#463adc"/><stop offset="0.75" stop-color="#4435d1"/><stop offset="0.833" stop-color="#4230c4"/><stop offset="0.917" stop-color="#402bb6"/><stop offset="1" stop-color="#3e26a8"/></linearGradient><linearGradient id="s3_p10" gradientUnits="userSpaceOnUse" x1="0" y1="1288" x2="0" y2="1359"><stop offset="0" stop-color="#4367fd"/><stop offset="0.083" stop-color="#4661fc"/><stop offset="0.167" stop-color="#475bf9"/><stop offset="0.25" stop-color="#4855f6"/><stop offset="0.333" stop-color="#484ff2"/><stop offset="0.417" stop-color="#4849ed"/><stop offset="0.5" stop-color="#4743e7"/><stop offset="0.583" stop-color="#463de0"/><stop offset="0.667" stop-color="#4538d7"/><stop offset="0.75" stop-color="#4433cc"/><stop offset="0.833" stop-color="#422fc1"/><stop offset="0.917" stop-color="#402ab5"/><stop offset="1" stop-color="#3e26a8"/></linearGradient><linearGradient id="s3_p11" gradientUnits="userSpaceOnUse" x1="0" y1="1292" x2="0" y2="1363"><stop offset="0" stop-color="#4367fd"/><stop offset="0.083" stop-color="#4661fc"/><stop offset="0.167" stop-color="#475bf9"/><stop offset="0.25" stop-color="#4855f6"/><stop offset="0.333" stop-color="#484ff2"/><stop offset="0.417" stop-color="#4849ed"/><stop offset="0.5" stop-color="#4743e7"/><stop offset="0.583" stop-color="#463de0"/><stop offset="0.667" stop-color="#4538d7"/><stop offset="0.75" stop-color="#4433cc"/><stop offset="0.833" stop-color="#422fc1"/><stop offset="0.917" stop-color="#402ab5"/><stop offset="1" stop-color="#3e26a8"/></linearGradient><linearGradient id="s3_g0" x2="0" y2="1"><stop offset="0" stop-color="#307efb"/><stop offset="0.5" stop-color="#465ffb"/><stop offset="1" stop-color="#4743e7"/></linearGradient><linearGradient id="s3_g1" x2="0" y2="1"><stop offset="0" stop-color="#2d8cf3"/><stop offset="0.5" stop-color="#347afd"/><stop offset="1" stop-color="#4367fd"/></linearGradient><linearGradient id="s3_g2" x2="0" y2="1"><stop offset="0" stop-color="#2d8cf3"/><stop offset="0.5" stop-color="#426bfe"/><stop offset="1" stop-color="#484aee"/></linearGradient><linearGradient id="s3_g3" x2="0" y2="1"><stop offset="0" stop-color="#2d8cf3"/><stop offset="0.5" stop-color="#307efb"/><stop offset="1" stop-color="#3f6eff"/></linearGradient><linearGradient id="s3_g4" x2="0" y2="1"><stop offset="0" stop-color="#4367fd"/><stop offset="0.5" stop-color="#4855f6"/><stop offset="1" stop-color="#4743e7"/></linearGradient><linearGradient id="s3_g5" x2="0" y2="1"><stop offset="0" stop-color="#4367fd"/><stop offset="0.5" stop-color="#4758f8"/><stop offset="1" stop-color="#484aee"/></linearGradient><linearGradient id="s3_g6" x2="0" y2="1"><stop offset="0" stop-color="#2a92ee"/><stop offset="0.5" stop-color="#347afd"/><stop offset="1" stop-color="#465ffb"/></linearGradient><linearGradient id="s3_g7" x2="0" y2="1"><stop offset="0" stop-color="#2d8cf3"/><stop offset="0.5" stop-color="#4367fd"/><stop offset="1" stop-color="#4743e7"/></linearGradient><linearGradient id="s3_g8" x2="0" y2="1"><stop offset="0" stop-color="#2a92ee"/><stop offset="0.5" stop-color="#3b72ff"/><stop offset="1" stop-color="#4851f4"/></linearGradient><linearGradient id="s3_g9" x2="0" y2="1"><stop offset="0" stop-color="#3f6eff"/><stop offset="0.5" stop-color="#4758f8"/><stop offset="1" stop-color="#4743e7"/></linearGradient><linearGradient id="s3_g10" x2="0" y2="1"><stop offset="0" stop-color="#2a92ee"/><stop offset="0.5" stop-color="#426bfe"/><stop offset="1" stop-color="#4743e7"/></linearGradient><linearGradient id="s3_g11" x2="0" y2="1"><stop offset="0" stop-color="#307efb"/><stop offset="0.5" stop-color="#4367fd"/><stop offset="1" stop-color="#4851f4"/></linearGradient><linearGradient id="s3_g12" x2="0" y2="1"><stop offset="0" stop-color="#2a92ee"/><stop offset="0.5" stop-color="#3f6eff"/><stop offset="1" stop-color="#484aee"/></linearGradient><linearGradient id="s3_g13" x2="0" y2="1"><stop offset="0" stop-color="#3f6eff"/><stop offset="0.5" stop-color="#475cfa"/><stop offset="1" stop-color="#484aee"/></linearGradient><linearGradient id="s3_g14" x2="0" y2="1"><stop offset="0" stop-color="#307efb"/><stop offset="0.5" stop-color="#3f6eff"/><stop offset="1" stop-color="#465ffb"/></linearGradient><linearGradient id="s3_g15" x2="0" y2="1"><stop offset="0" stop-color="#307efb"/><stop offset="0.5" stop-color="#4563fd"/><stop offset="1" stop-color="#484aee"/></linearGradient><linearGradient id="s3_g16" x2="0" y2="1"><stop offset="0" stop-color="#465ffb"/><stop offset="0.5" stop-color="#4851f4"/><stop offset="1" stop-color="#4743e7"/></linearGradient><linearGradient id="s3_g17" x2="0" y2="1"><stop offset="0" stop-color="#465ffb"/><stop offset="0.5" stop-color="#4855f6"/><stop offset="1" stop-color="#484aee"/></linearGradient><linearGradient id="s3_g18" x2="0" y2="1"><stop offset="0" stop-color="#3876fe"/><stop offset="0.5" stop-color="#4563fd"/><stop offset="1" stop-color="#4851f4"/></linearGradient><linearGradient id="s3_g19" x2="0" y2="1"><stop offset="0" stop-color="#3876fe"/><stop offset="0.5" stop-color="#475cfa"/><stop offset="1" stop-color="#4743e7"/></linearGradient><linearGradient id="s3_g20" x2="0" y2="1"><stop offset="0" stop-color="#3876fe"/><stop offset="0.5" stop-color="#465ffb"/><stop offset="1" stop-color="#484aee"/></linearGradient><linearGradient id="s3_g21" x2="0" y2="1"><stop offset="0" stop-color="#3876fe"/><stop offset="0.5" stop-color="#4367fd"/><stop offset="1" stop-color="#4758f8"/></linearGradient><linearGradient id="s3_g22" x2="0" y2="1"><stop offset="0" stop-color="#3f6eff"/><stop offset="0.5" stop-color="#465ffb"/><stop offset="1" stop-color="#4851f4"/></linearGradient><linearGradient id="s3_g23" x2="0" y2="1"><stop offset="0" stop-color="#2e85f8"/><stop offset="0.5" stop-color="#3b72ff"/><stop offset="1" stop-color="#465ffb"/></linearGradient><linearGradient id="s3_g24" x2="0" y2="1"><stop offset="0" stop-color="#307efb"/><stop offset="0.5" stop-color="#426bfe"/><stop offset="1" stop-color="#4758f8"/></linearGradient><linearGradient id="s3_g25" x2="0" y2="1"><stop offset="0" stop-color="#2e85f8"/><stop offset="0.5" stop-color="#4563fd"/><stop offset="1" stop-color="#4743e7"/></linearGradient><linearGradient id="s3_g26" x2="0" y2="1"><stop offset="0" stop-color="#2e85f8"/><stop offset="0.5" stop-color="#3f6eff"/><stop offset="1" stop-color="#4758f8"/></linearGradient><linearGradient id="s3_g27" x2="0" y2="1"><stop offset="0" stop-color="#2d8cf3"/><stop offset="0.5" stop-color="#3b72ff"/><stop offset="1" stop-color="#4758f8"/></linearGradient><linearGradient id="s3_g28" x2="0" y2="1"><stop offset="0" stop-color="#2d8cf3"/><stop offset="0.5" stop-color="#3876fe"/><stop offset="1" stop-color="#465ffb"/></linearGradient><linearGradient id="s3_g29" x2="0" y2="1"><stop offset="0" stop-color="#2e85f8"/><stop offset="0.5" stop-color="#3876fe"/><stop offset="1" stop-color="#4367fd"/></linearGradient><linearGradient id="s3_g30" x2="0" y2="1"><stop offset="0" stop-color="#2e85f8"/><stop offset="0.5" stop-color="#426bfe"/><stop offset="1" stop-color="#4851f4"/></linearGradient><linearGradient id="s3_g31" x2="0" y2="1"><stop offset="0" stop-color="#2e85f8"/><stop offset="0.5" stop-color="#4367fd"/><stop offset="1" stop-color="#484aee"/></linearGradient><linearGradient id="s3_g32" x2="0" y2="1"><stop offset="0" stop-color="#2a92ee"/><stop offset="0.5" stop-color="#3876fe"/><stop offset="1" stop-color="#4758f8"/></linearGradient><linearGradient id="s3_g33" x2="0" y2="1"><stop offset="0" stop-color="#2a92ee"/><stop offset="0.5" stop-color="#2e85f8"/><stop offset="1" stop-color="#3876fe"/></linearGradient><linearGradient id="s3_g34" x2="0" y2="1"><stop offset="0" stop-color="#3f6eff"/><stop offset="0.5" stop-color="#4563fd"/><stop offset="1" stop-color="#4758f8"/></linearGradient><linearGradient id="s3_g35" x2="0" y2="1"><stop offset="0" stop-color="#2699ea"/><stop offset="0.5" stop-color="#347afd"/><stop offset="1" stop-color="#4758f8"/></linearGradient><linearGradient id="s3_g36" x2="0" y2="1"><stop offset="0" stop-color="#2699ea"/><stop offset="0.5" stop-color="#3b72ff"/><stop offset="1" stop-color="#484aee"/></linearGradient><linearGradient id="s3_g37" x2="0" y2="1"><stop offset="0" stop-color="#2a92ee"/><stop offset="0.5" stop-color="#307efb"/><stop offset="1" stop-color="#4367fd"/></linearGradient><linearGradient id="s3_g38" x2="0" y2="1"><stop offset="0" stop-color="#2a92ee"/><stop offset="0.5" stop-color="#2f81fa"/><stop offset="1" stop-color="#3f6eff"/></linearGradient><linearGradient id="s3_g39" x2="0" y2="1"><stop offset="0" stop-color="#2699ea"/><stop offset="0.5" stop-color="#2d88f6"/><stop offset="1" stop-color="#3876fe"/></linearGradient><linearGradient id="s3_g40" x2="0" y2="1"><stop offset="0" stop-color="#3876fe"/><stop offset="0.5" stop-color="#426bfe"/><stop offset="1" stop-color="#465ffb"/></linearGradient><linearGradient id="s3_g41" x2="0" y2="1"><stop offset="0" stop-color="#2699ea"/><stop offset="0.5" stop-color="#307efb"/><stop offset="1" stop-color="#465ffb"/></linearGradient><linearGradient id="s3_g42" x2="0" y2="1"><stop offset="0" stop-color="#4367fd"/><stop offset="0.5" stop-color="#475cfa"/><stop offset="1" stop-color="#4851f4"/></linearGradient><linearGradient id="s3_g43" x2="0" y2="1"><stop offset="0" stop-color="#2d8cf3"/><stop offset="0.5" stop-color="#3f6eff"/><stop offset="1" stop-color="#4851f4"/></linearGradient><linearGradient id="s3_g44" x2="0" y2="1"><stop offset="0" stop-color="#2699ea"/><stop offset="0.5" stop-color="#3876fe"/><stop offset="1" stop-color="#4851f4"/></linearGradient><linearGradient id="s3_g45" x2="0" y2="1"><stop offset="0" stop-color="#2699ea"/><stop offset="0.5" stop-color="#3f6eff"/><stop offset="1" stop-color="#4743e7"/></linearGradient><linearGradient id="s3_g46" x2="0" y2="1"><stop offset="0" stop-color="#249fe6"/><stop offset="0.5" stop-color="#307efb"/><stop offset="1" stop-color="#4758f8"/></linearGradient><linearGradient id="s3_g47" x2="0" y2="1"><stop offset="0" stop-color="#249fe6"/><stop offset="0.5" stop-color="#2e85f8"/><stop offset="1" stop-color="#4367fd"/></linearGradient><linearGradient id="s3_g48" x2="0" y2="1"><stop offset="0" stop-color="#249fe6"/><stop offset="0.5" stop-color="#3b72ff"/><stop offset="1" stop-color="#4743e7"/></linearGradient><linearGradient id="s3_g49" x2="0" y2="1"><stop offset="0" stop-color="#307efb"/><stop offset="0.5" stop-color="#3b72ff"/><stop offset="1" stop-color="#4367fd"/></linearGradient></defs><g shape-rendering="crispEdges" transform="scale(.25)" fill-opacity="0.92"><path fill="#3a74ff" d="M1706 1245l12 4-4-14-12-6z"/><path fill="url(#s3_g0)" d="M1703 1285l3-40-4-16-2 54z"/><path fill="url(#s3_g1)" d="M1712 1219l12 17-6 13-12-4z"/><path fill="url(#s3_g2)" d="M1710 1288l2-69-6 26-3 40z"/><path fill="url(#s3_g3)" d="M1719 1245l12 5-7-14-12-17z"/><path fill="url(#s3_g4)" d="M1677 1257l26 28-3-2-26-14z"/><path fill="url(#s3_g2)" d="M1716 1291l3-46-7-26-2 69z"/><path fill="url(#s3_g5)" d="M1683 1282l27 6-7-3-26-28z"/><path fill="url(#s3_g3)" d="M1725 1224l12 12-6 14-12-5z"/><path fill="url(#s3_g2)" d="M1723 1294l2-70-6 21-3 46z"/><path fill="#4852f4" d="M1690 1275l26 16-6-3-27-6zM1696 1280l27 14-7-3-26-16z"/><path fill="url(#s3_g1)" d="M1732 1257l12 2-7-23-12-12z"/><path fill="url(#s3_g6)" d="M1648 1228l29 29-3 12-29-16z"/><path fill="url(#s3_g7)" d="M1729 1298l3-41-7-33-2 70z"/><path fill="#4368fe" d="M1738 1264l12 3-6-8-12-2z"/><path fill="url(#s3_g8)" d="M1655 1279l28 3-6-25-29-29z"/><path fill="url(#s3_g9)" d="M1736 1301l2-37-6-7-3 41z"/><path fill="url(#s3_g10)" d="M1646 1301l2-73-3 25-2 46z"/><path fill="#4852f4" d="M1703 1290l26 8-6-4-27-14zM1626 1290l27 13-7-2-27-9z"/><path fill="#4562fc" d="M1745 1273l12 4-7-10-12-3zM1751 1279l12 1-6-3-12-4zM1674 1280l29 10-7-10-28-6z"/><path fill="url(#s3_g11)" d="M1661 1253l29 22-7 7-28-3z"/><path fill="url(#s3_g12)" d="M1653 1303l2-24-7-51-2 73z"/><path fill="url(#s3_g13)" d="M1742 1302l3-29-7-9-2 37z"/><path fill="#484cef" d="M1709 1290l27 11-7-3-26-8zM1619 1292l27 9-3-2-27 1zM1716 1298l26 4-6-1-27-11z"/><path fill="url(#s3_g14)" d="M1668 1274l28 6-6-5-29-22z"/><path fill="url(#s3_g0)" d="M1659 1307l2-54-6 26-2 24z"/><path fill="url(#s3_g4)" d="M1749 1307l2-28-6-6-3 29z"/><path fill="url(#s3_g14)" d="M1758 1256l12 9-7 15-12-1z"/><path fill="url(#s3_g0)" d="M1666 1311l2-37-7-21-2 54z"/><path fill="url(#s3_g15)" d="M1755 1310l3-54-7 23-2 28z"/><path fill="#4852f4" d="M1633 1294l26 13-6-4-27-13z"/><path fill="#484cef" d="M1722 1297l27 10-7-5-26-4zM1639 1309l27 2-7-4-26-13zM1729 1307l26 3-6-3-27-10zM1646 1313l26 0-6-2-27-2z"/><path fill="#3f6eff" d="M1764 1273l12 6-6-14-12-9z"/><path fill="#4562fc" d="M1681 1278l28 12-6 0-29-10zM1771 1287l12 1-7-9-12-6zM1598 1279l28 11-7 2-28-8z"/><path fill="#4757f7" d="M1591 1284l28 8-3 8-28-2z"/><path fill="url(#s3_g5)" d="M1672 1313l2-33-6-6-2 37z"/><path fill="url(#s3_g15)" d="M1762 1312l2-39-6-17-3 54z"/><path fill="#475dfa" d="M1687 1291l29 7-7-8-28-12z"/><path fill="url(#s3_g13)" d="M1679 1315l2-37-7 2-2 33z"/><path fill="url(#s3_g13)" d="M1769 1316l2-29-7-14-2 39z"/><path fill="url(#s3_g5)" d="M1589 1316l2-32-3 14-3 17z"/><path fill="#484cef" d="M1736 1309l26 3-7-2-26-3zM1652 1304l27 11-7-2-26 0z"/><path fill="#4562fc" d="M1777 1290l12 2-6-4-12-1zM1784 1292l12 2-7-2-12-2z"/><path shape-rendering="auto" fill="url(#s3_p8)" d="M1719 1297l1-48 13-197 16-13 5 181 2 48z"/><path fill="#4368fe" d="M1604 1279l29 15-7-4-28-11z"/><path fill="#475dfa" d="M1694 1287l28 10-6 1-29-7zM1701 1305l28 2-7-10-28-10z"/><path fill="url(#s3_g9)" d="M1595 1320l3-41-7 5-2 32z"/><path fill="url(#s3_g9)" d="M1685 1320l2-29-6-13-2 37z"/><path fill="url(#s3_g16)" d="M1775 1319l2-29-6-3-2 29z"/><path fill="#4852f4" d="M1742 1302l27 14-7-4-26-3z"/><path fill="url(#s3_g17)" d="M1562 1299l27 17-4-1-26-20z"/><path fill="url(#s3_g18)" d="M1611 1306l28 3-6-15-29-15z"/><path shape-rendering="auto" fill="url(#s3_p7)" d="M1655 1320l1-48 10-46 14 38 1 48z"/><path fill="url(#s3_g19)" d="M1602 1324l2-45-6 0-3 41z"/><path fill="url(#s3_g4)" d="M1692 1324l2-37-7 4-2 29z"/><path fill="url(#s3_g5)" d="M1782 1322l2-30-7-2-2 29z"/><path fill="#4852f4" d="M1569 1319l26 1-6-4-27-17zM1659 1308l26 12-6-5-27-11zM1617 1312l29 1-7-4-28-3zM1665 1308l27 16-7-4-26-12z"/><path fill="url(#s3_g16)" d="M1749 1299l26 20-6-3-27-14z"/><path fill="#475dfa" d="M1790 1309l12-3-6-12-12-2z"/><path fill="#4757f7" d="M1707 1302l29 7-7-2-28-2z"/><path fill="url(#s3_g20)" d="M1608 1326l3-20-7-27-2 45z"/><path fill="url(#s3_g4)" d="M1698 1327l3-22-7-18-2 37z"/><path fill="url(#s3_g4)" d="M1788 1326l2-17-6-17-2 30z"/><path shape-rendering="auto" fill="url(#s3_p6)" d="M1609 1338l1-48 10-86 15 75 1 48z"/><path fill="#484cef" d="M1575 1321l27 3-7-4-26-1z"/><path fill="url(#s3_g17)" d="M1755 1309l27 13-7-3-26-20z"/><path fill="url(#s3_g21)" d="M1797 1284l12 9-7 13-12 3z"/><path fill="url(#s3_g22)" d="M1624 1291l28 13-6 9-29-1z"/><path fill="url(#s3_g18)" d="M1714 1288l28 14-6 7-29-7z"/><path fill="url(#s3_g23)" d="M1534 1279l28 20-3-4-29-24z"/><path fill="#4852f4" d="M1615 1329l2-17-6-6-3 20zM1672 1319l26 8-6-3-27-16zM1762 1310l26 16-6-4-27-13z"/><path fill="url(#s3_g17)" d="M1705 1329l2-27-6 3-3 22z"/><path fill="url(#s3_g19)" d="M1795 1329l2-45-7 25-2 17z"/><path fill="#484cef" d="M1582 1320l26 6-6-2-27-3zM1588 1323l27 6-7-3-26-6zM1678 1319l27 10-7-2-26-8z"/><path fill="#4368fe" d="M1803 1295l12 5-6-7-12-9z"/><path fill="url(#s3_g24)" d="M1540 1319l29 0-7-20-28-20z"/><path fill="#4562fc" d="M1630 1298l29 10-7-4-28-13z"/><path fill="url(#s3_g14)" d="M1720 1278l29 21-7 3-28-14z"/><path fill="url(#s3_g13)" d="M1621 1333l3-42-7 21-2 17z"/><path fill="url(#s3_g20)" d="M1711 1331l3-43-7 14-2 27z"/><path fill="url(#s3_g20)" d="M1801 1331l2-36-6-11-2 45z"/><path fill="url(#s3_g25)" d="M1531 1334l3-55-4-8-2 61z"/><path fill="#4852f4" d="M1768 1314l27 15-7-3-26-16zM1685 1324l26 7-6-2-27-10zM1775 1319l26 12-6-2-27-15z"/><path fill="#475dfa" d="M1810 1314l12 3-7-17-12-5zM1817 1305l12 3-7 9-12-3z"/><path fill="#4757f7" d="M1547 1319l28 2-6-2-29 0zM1553 1314l29 6-7 1-28-2z"/><path fill="#4368fe" d="M1637 1294l28 14-6 0-29-10z"/><path fill="url(#s3_g14)" d="M1727 1295l28 14-6-10-29-21z"/><path fill="url(#s3_g15)" d="M1538 1336l2-17-6-40-3 55z"/><path fill="url(#s3_g13)" d="M1628 1336l2-38-6-7-3 42z"/><path fill="url(#s3_g15)" d="M1718 1335l2-57-6 10-3 43z"/><path fill="url(#s3_g13)" d="M1808 1335l2-21-7-19-2 36z"/><path fill="#484cef" d="M1595 1331l26 2-6-4-27-6z"/><path fill="url(#s3_g4)" d="M1505 1309l26 25-3-2-26-13z"/><path shape-rendering="auto" fill="url(#s3_p5)" d="M1549 1344l1-48 7-72 18 32 8 40 1 48z"/><path fill="url(#s3_g21)" d="M1643 1316l29 3-7-11-28-14z"/><path fill="#4368fe" d="M1733 1294l29 16-7-1-28-14zM1740 1300l28 14-6-4-29-16z"/><path fill="#4852f4" d="M1544 1340l3-21-7 0-2 17zM1781 1320l27 15-7-4-26-12z"/><path fill="url(#s3_g19)" d="M1634 1339l3-45-7 4-2 38z"/><path fill="url(#s3_g0)" d="M1724 1339l3-44-7-17-2 57z"/><path fill="url(#s3_g4)" d="M1814 1339l3-34-7 9-2 21z"/><path fill="url(#s3_g5)" d="M1511 1329l27 7-7-2-26-25z"/><path fill="#484cef" d="M1601 1335l27 1-7-3-26-2zM1691 1331l27 4-7-4-26-7z"/><path fill="#4562fc" d="M1823 1308l12 1-6-1-12-3z"/><path fill="#475dfa" d="M1560 1317l28 6-6-3-29-6zM1650 1310l28 9-6 0-29-3z"/><path fill="url(#s3_g16)" d="M1551 1343l2-29-6 5-3 21z"/><path fill="url(#s3_g20)" d="M1641 1342l2-26-6-22-3 45z"/><path fill="url(#s3_g20)" d="M1731 1342l2-48-6 1-3 44z"/><path fill="url(#s3_g5)" d="M1821 1340l2-32-6-3-3 34z"/><path fill="#484cef" d="M1518 1331l26 9-6-4-27-7zM1608 1341l26-2-6-3-27-1zM1698 1335l26 4-6-4-27-4zM1524 1340l27 3-7-3-26-9zM1614 1339l27 3-7-3-26 2z"/><path fill="#4852f4" d="M1788 1324l26 15-6-4-27-15zM1704 1328l27 14-7-3-26-4z"/><path fill="url(#s3_g1)" d="M1830 1280l12 14-7 15-12-1z"/><path shape-rendering="auto" fill="url(#s3_p3)" d="M1502 1360l1-48 0-51 15-49 8 90 2 48z"/><path fill="#4757f7" d="M1566 1328l29 3-7-8-28-6z"/><path fill="#4562fc" d="M1656 1315l29 9-7-5-28-9z"/><path fill="#4368fe" d="M1746 1303l29 16-7-5-28-14z"/><path fill="url(#s3_g26)" d="M1476 1291l29 18-3 10-29-14z"/><path fill="url(#s3_g17)" d="M1557 1346l3-29-7-3-2 29z"/><path fill="url(#s3_g5)" d="M1647 1344l3-34-7 6-2 26z"/><path fill="url(#s3_g20)" d="M1737 1345l3-45-7-6-2 48z"/><path fill="url(#s3_g7)" d="M1827 1345l3-65-7 28-2 32z"/><path fill="url(#s3_g13)" d="M1794 1313l27 27-7-1-26-15z"/><path fill="url(#s3_g27)" d="M1836 1322l12 3-6-31-12-14z"/><path fill="url(#s3_g26)" d="M1483 1326l28 3-6-20-29-18z"/><path fill="#4757f7" d="M1573 1332l28 3-6-4-29-3zM1843 1336l12 0-7-11-12-3z"/><path fill="#475dfa" d="M1663 1323l28 8-6-7-29-9zM1489 1322l29 9-7-2-28-3z"/><path fill="#4368fe" d="M1753 1305l28 15-6-1-29-16z"/><path fill="url(#s3_g17)" d="M1564 1349l2-21-6-11-3 29z"/><path fill="url(#s3_g5)" d="M1654 1348l2-33-6-5-3 34z"/><path fill="url(#s3_g19)" d="M1744 1349l2-46-6-3-3 45z"/><path fill="url(#s3_g7)" d="M1834 1348l2-26-6-42-3 65z"/><path fill="url(#s3_g25)" d="M1474 1350l2-59-3 14-2 43z"/><path fill="url(#s3_g17)" d="M1531 1327l26 19-6-3-27-3z"/><path fill="#4852f4" d="M1621 1330l26 14-6-2-27-3zM1711 1329l26 16-6-3-27-14z"/><path fill="url(#s3_g9)" d="M1801 1327l26 18-6-5-27-27z"/><path fill="#4852f4" d="M1579 1335l29 6-7-6-28-3zM1570 1352l3-20-7-4-2 21zM1840 1352l3-16-7-14-2 26zM1537 1344l27 5-7-3-26-19zM1627 1332l27 16-7-4-26-14zM1717 1342l27 7-7-4-26-16z"/><path fill="#475dfa" d="M1669 1327l29 8-7-4-28-8zM1496 1337l28 3-6-9-29-9z"/><path fill="#4368fe" d="M1759 1315l29 9-7-4-28-15z"/><path fill="url(#s3_g25)" d="M1481 1353l2-27-7-35-2 59z"/><path fill="url(#s3_g5)" d="M1660 1352l3-29-7-8-2 33z"/><path fill="url(#s3_g20)" d="M1750 1351l3-46-7-2-2 46z"/><path shape-rendering="auto" fill="url(#s3_p9)" d="M1825 1368l1-48 10-47 10 47 1 48z"/><path fill="url(#s3_g4)" d="M1807 1327l27 21-7-3-26-18z"/><path fill="#4757f7" d="M1849 1333l12-1-6 4-12 0zM1586 1331l28 8-6 2-29-6z"/><path fill="#484cef" d="M1447 1348l27 2-3-2-27-11z"/><path fill="url(#s3_g22)" d="M1676 1319l28 9-6 7-29-8z"/><path fill="url(#s3_g28)" d="M1766 1286l28 27-6 11-29-9z"/><path fill="url(#s3_g5)" d="M1487 1354l2-32-6 4-2 27z"/><path fill="#4852f4" d="M1577 1356l2-21-6-3-3 20zM1847 1355l2-22-6 3-3 16zM1724 1339l26 12-6-2-27-7z"/><path fill="url(#s3_g16)" d="M1667 1356l2-29-6-4-3 29z"/><path fill="url(#s3_g19)" d="M1757 1355l2-40-6-10-3 46z"/><path fill="#484cef" d="M1454 1351l27 2-7-3-27-2zM1544 1343l26 9-6-3-27-5z"/><path fill="url(#s3_g5)" d="M1634 1329l26 23-6-4-27-16z"/><path fill="url(#s3_g4)" d="M1814 1346l26 6-6-4-27-21z"/><path fill="#4562fc" d="M1856 1314l12 6-7 12-12 1z"/><path fill="url(#s3_g18)" d="M1502 1315l29 12-7 13-28-3z"/><path fill="url(#s3_g18)" d="M1592 1314l29 16-7 9-28-8z"/><path fill="#4368fe" d="M1682 1317l29 12-7-1-28-9z"/><path fill="url(#s3_g28)" d="M1772 1313l29 14-7-14-28-27z"/><path fill="url(#s3_g4)" d="M1494 1359l2-22-7-15-2 32z"/><path fill="url(#s3_g16)" d="M1583 1359l3-28-7 4-2 21z"/><path fill="url(#s3_g9)" d="M1673 1359l3-40-7 8-2 29z"/><path fill="url(#s3_g2)" d="M1763 1357l3-71-7 29-2 40z"/><path fill="url(#s3_g13)" d="M1853 1357l3-43-7 19-2 22z"/><path shape-rendering="auto" fill="url(#s3_p10)" d="M1863 1380l1-48 11-44 9 44 1 48z"/><path fill="#484cef" d="M1461 1351l26 3-6-1-27-2zM1820 1342l27 13-7-3-26-6z"/><path fill="#4852f4" d="M1550 1341l27 15-7-4-26-9z"/><path fill="url(#s3_g4)" d="M1640 1335l27 21-7-4-26-23z"/><path fill="url(#s3_g16)" d="M1730 1334l27 21-7-4-26-12z"/><path fill="#3f6eff" d="M1862 1315l12 4-6 1-12-6z"/><path fill="url(#s3_g21)" d="M1509 1344l28 0-6-17-29-12z"/><path fill="url(#s3_g14)" d="M1599 1314l28 18-6-2-29-16z"/><path fill="url(#s3_g18)" d="M1689 1333l28 9-6-13-29-12z"/><path fill="url(#s3_g29)" d="M1779 1301l28 26-6 0-29-14z"/><path fill="url(#s3_g22)" d="M1419 1347l28 1-3-11-28-10z"/><path fill="url(#s3_g20)" d="M1500 1362l2-47-6 22-2 22z"/><path fill="url(#s3_g20)" d="M1590 1361l2-47-6 17-3 28z"/><path fill="url(#s3_g19)" d="M1680 1362l2-45-6 2-3 40z"/><path fill="url(#s3_g2)" d="M1770 1360l2-47-6-27-3 71z"/><path fill="url(#s3_g13)" d="M1860 1360l2-45-6-1-3 43z"/><path fill="url(#s3_g16)" d="M1467 1340l27 19-7-5-26-3z"/><path fill="#484cef" d="M1557 1355l26 4-6-3-27-15z"/><path fill="url(#s3_g16)" d="M1647 1345l26 14-6-3-27-21z"/><path fill="url(#s3_g17)" d="M1737 1340l26 17-6-2-27-21z"/><path fill="url(#s3_g17)" d="M1827 1338l26 19-6-2-27-13z"/><path shape-rendering="auto" fill="url(#s3_p11)" d="M1897 1384l1-48 10-44 10 44 1 48z"/><path fill="#3a74ff" d="M1869 1307l12 13-7-1-12-4z"/><path fill="#4852f4" d="M1426 1351l28 0-7-3-28-1z"/><path fill="#475dfa" d="M1515 1335l29 8-7 1-28 0z"/><path fill="url(#s3_g23)" d="M1605 1310l29 19-7 3-28-18z"/><path fill="url(#s3_g22)" d="M1695 1327l29 12-7 3-28-9z"/><path fill="url(#s3_g30)" d="M1785 1339l29 7-7-19-28-26z"/><path fill="url(#s3_g20)" d="M1507 1365l2-21-7-29-2 47z"/><path fill="url(#s3_g0)" d="M1597 1365l2-51-7 0-2 47z"/><path fill="url(#s3_g19)" d="M1686 1365l3-32-7-16-2 45z"/><path fill="url(#s3_g31)" d="M1776 1364l3-63-7 12-2 47z"/><path fill="url(#s3_g0)" d="M1866 1364l3-57-7 8-2 45z"/><path fill="url(#s3_g9)" d="M1417 1366l2-19-3-20-3 37z"/><path fill="url(#s3_g17)" d="M1474 1349l26 13-6-3-27-19z"/><path fill="#484cef" d="M1564 1358l26 3-7-2-26-4z"/><path fill="#4852f4" d="M1653 1345l27 17-7-3-26-14z"/><path fill="url(#s3_g17)" d="M1743 1341l27 19-7-3-26-17z"/><path fill="url(#s3_g17)" d="M1833 1339l27 21-7-3-26-19z"/><path fill="#3a74ff" d="M1875 1325l12 3-6-8-12-13z"/><path fill="#4757f7" d="M1432 1347l29 4-7 0-28 0z"/><path fill="url(#s3_g21)" d="M1522 1322l28 19-6 2-29-8z"/><path fill="url(#s3_g23)" d="M1612 1320l28 15-6-6-29-19z"/><path fill="url(#s3_g26)" d="M1702 1311l28 23-6 5-29-12z"/><path fill="url(#s3_g22)" d="M1792 1328l28 14-6 4-29-7z"/><path fill="#4852f4" d="M1423 1368l3-17-7-4-2 19zM1480 1351l27 14-7-3-26-13zM1570 1351l27 14-7-4-26-3zM1660 1357l26 8-6-3-27-17z"/><path fill="url(#s3_g4)" d="M1513 1369l2-34-6 9-2 21z"/><path fill="url(#s3_g25)" d="M1603 1369l2-59-6 4-2 51z"/><path fill="url(#s3_g13)" d="M1693 1367l2-40-6 6-3 32z"/><path fill="url(#s3_g31)" d="M1783 1366l2-27-6-38-3 63z"/><path fill="url(#s3_g15)" d="M1873 1367l2-42-6-18-3 57z"/><path fill="url(#s3_g17)" d="M1750 1349l26 15-6-4-27-19z"/><path fill="url(#s3_g4)" d="M1840 1344l26 20-6-4-27-21z"/><path shape-rendering="auto" fill="url(#s3_p4)" d="M1530 1348l1-48 0-36 18 0 1 36 1 48z"/><path fill="#3f6eff" d="M1882 1327l12 7-7-6-12-3z"/><path fill="url(#s3_g9)" d="M1390 1336l27 30-4-2-26-26z"/><path fill="url(#s3_g11)" d="M1439 1322l28 18-6 11-29-4z"/><path fill="url(#s3_g18)" d="M1529 1352l28 3-7-14-28-19z"/><path fill="url(#s3_g24)" d="M1618 1336l29 9-7-10-28-15z"/><path fill="url(#s3_g23)" d="M1708 1322l29 18-7-6-28-23z"/><path fill="url(#s3_g24)" d="M1798 1318l29 20-7 4-28-14z"/><path shape-rendering="auto" fill="url(#s3_p2)" d="M1418 1373l1-48 16-113 15 84 9 28 1 48z"/><path fill="#4852f4" d="M1430 1371l2-24-6 4-3 17zM1577 1360l26 9-6-4-27-14z"/><path fill="url(#s3_g19)" d="M1520 1372l2-50-7 13-2 34z"/><path fill="url(#s3_g31)" d="M1610 1370l2-50-7-10-2 59z"/><path fill="url(#s3_g31)" d="M1700 1370l2-59-7 16-2 40z"/><path fill="url(#s3_g13)" d="M1789 1370l3-42-7 11-2 27z"/><path fill="url(#s3_g13)" d="M1879 1370l3-43-7-2-2 42z"/><path fill="url(#s3_g13)" d="M1397 1349l26 19-6-2-27-30z"/><path fill="url(#s3_g4)" d="M1487 1346l26 23-6-4-27-14z"/><path fill="#484cef" d="M1666 1364l27 3-7-2-26-8z"/><path fill="url(#s3_g5)" d="M1756 1341l27 25-7-2-26-15z"/><path fill="url(#s3_g5)" d="M1846 1343l27 24-7-3-26-20z"/><path fill="#4562fc" d="M1888 1356l12-3-6-19-12-7z"/><path fill="url(#s3_g24)" d="M1445 1338l29 11-7-9-28-18z"/><path fill="#4757f7" d="M1535 1353l29 5-7-3-28-3zM1895 1355l12 2-7-4-12 3z"/><path fill="#4368fe" d="M1625 1329l28 16-6 0-29-9z"/><path fill="#3f6eff" d="M1715 1327l28 14-6-1-29-18z"/><path fill="url(#s3_g29)" d="M1805 1315l28 24-6-1-29-20z"/><path fill="url(#s3_g15)" d="M1436 1375l3-53-7 25-2 24z"/><path fill="url(#s3_g19)" d="M1526 1375l3-23-7-30-2 50z"/><path fill="url(#s3_g15)" d="M1616 1374l2-38-6-16-2 50z"/><path fill="url(#s3_g31)" d="M1706 1374l2-52-6-11-2 59z"/><path fill="url(#s3_g15)" d="M1796 1372l2-54-6 10-3 42z"/><path fill="url(#s3_g9)" d="M1886 1374l2-18-6-29-3 43z"/><path fill="#4852f4" d="M1403 1359l27 12-7-3-26-19zM1583 1356l27 14-7-1-26-9zM1673 1356l27 14-7-3-27-3z"/><path fill="url(#s3_g4)" d="M1493 1357l27 15-7-3-26-23z"/><path fill="url(#s3_g5)" d="M1763 1353l26 17-6-4-27-25z"/><path fill="url(#s3_g5)" d="M1853 1363l26 7-6-3-27-24z"/><path fill="#4368fe" d="M1452 1336l28 15-6-2-29-11z"/><path fill="#475dfa" d="M1542 1343l28 8-6 7-29-5z"/><path fill="url(#s3_g21)" d="M1631 1350l29 7-7-12-28-16z"/><path fill="#3f6eff" d="M1721 1333l29 16-7-8-28-14z"/><path fill="url(#s3_g23)" d="M1811 1325l29 19-7-5-28-24z"/><path fill="url(#s3_g1)" d="M1362 1316l28 20-3 2-29-21z"/><path fill="url(#s3_g15)" d="M1443 1377l2-39-6-16-3 53z"/><path fill="#4852f4" d="M1533 1378l2-25-6-1-3 23zM1892 1376l3-21-7 1-2 18zM1410 1366l26 9-6-4-27-12zM1500 1367l26 8-6-3-27-15zM1769 1369l27 3-7-2-26-17z"/><path fill="url(#s3_g20)" d="M1623 1377l2-48-7 7-2 38z"/><path fill="url(#s3_g15)" d="M1713 1376l2-49-7-5-2 52z"/><path fill="url(#s3_g31)" d="M1802 1375l3-60-7 3-2 54z"/><path fill="#484cef" d="M1590 1378l26-4-6-4-27-14z"/><path fill="url(#s3_g5)" d="M1680 1352l26 22-6-4-27-14z"/><path fill="#484cef" d="M1859 1373l27 1-7-4-26-7zM1506 1371l27 7-7-3-26-8z"/><path fill="url(#s3_g32)" d="M1901 1305l12 14-6 38-12-2z"/><path fill="url(#s3_g28)" d="M1368 1330l29 19-7-13-28-20z"/><path fill="url(#s3_g14)" d="M1458 1327l29 19-7 5-28-15z"/><path fill="#4562fc" d="M1548 1353l29 7-7-9-28-8z"/><path fill="#475dfa" d="M1638 1362l28 2-6-7-29-7z"/><path fill="url(#s3_g23)" d="M1728 1319l28 22-6 8-29-16z"/><path fill="url(#s3_g28)" d="M1818 1312l28 31-6 1-29-19z"/><path fill="url(#s3_g19)" d="M1449 1382l3-46-7 2-2 39z"/><path fill="url(#s3_g9)" d="M1539 1381l3-38-7 10-2 25z"/><path fill="url(#s3_g20)" d="M1629 1381l2-31-6-21-2 48z"/><path fill="url(#s3_g19)" d="M1719 1381l2-48-6-6-2 49z"/><path fill="url(#s3_g31)" d="M1809 1379l2-54-6-10-3 60z"/><path fill="url(#s3_g12)" d="M1899 1380l2-75-6 50-3 21z"/><path fill="url(#s3_g2)" d="M1359 1381l3-65-4 1-2 63z"/><path fill="url(#s3_g13)" d="M1416 1347l27 30-7-2-26-9z"/><path fill="url(#s3_g5)" d="M1596 1356l27 21-7-3-26 4z"/><path fill="url(#s3_g5)" d="M1686 1358l27 18-7-2-26-22z"/><path fill="#484cef" d="M1776 1377l26-2-6-3-27-3zM1866 1369l26 7-6-2-27-1z"/><path fill="url(#s3_g33)" d="M1908 1329l12 6-7-16-12-14z"/><path fill="url(#s3_g24)" d="M1375 1345l28 14-6-10-29-19z"/><path fill="url(#s3_g14)" d="M1465 1344l28 13-6-11-29-19z"/><path fill="url(#s3_g21)" d="M1555 1341l28 15-6 4-29-7z"/><path fill="url(#s3_g18)" d="M1645 1338l28 18-7 8-28-2z"/><path fill="url(#s3_g23)" d="M1734 1338l29 15-7-12-28-22z"/><path fill="url(#s3_g27)" d="M1824 1354l29 9-7-20-28-31z"/><path fill="url(#s3_g2)" d="M1366 1385l2-55-6-14-3 65z"/><path fill="url(#s3_g0)" d="M1456 1385l2-58-6 9-3 46z"/><path fill="url(#s3_g13)" d="M1546 1384l2-31-6-10-3 38z"/><path fill="url(#s3_g5)" d="M1636 1383l2-21-7-12-2 31z"/><path fill="url(#s3_g31)" d="M1726 1382l2-63-7 14-2 48z"/><path fill="url(#s3_g2)" d="M1816 1382l2-70-7 13-2 54z"/><path fill="url(#s3_g10)" d="M1905 1383l3-54-7-24-2 75z"/><path fill="url(#s3_g9)" d="M1423 1369l26 13-6-5-27-30z"/><path fill="url(#s3_g4)" d="M1513 1356l26 25-6-3-27-7z"/><path fill="url(#s3_g5)" d="M1603 1381l26 0-6-4-27-21z"/><path fill="url(#s3_g9)" d="M1693 1351l26 30-6-5-27-18z"/><path fill="#484cef" d="M1783 1372l26 7-7-4-26 2z"/><path fill="#4852f4" d="M1872 1362l27 18-7-4-26-7z"/><path fill="#3a74ff" d="M1914 1337l12 4-6-6-12-6z"/><path fill="url(#s3_g13)" d="M1333 1353l26 28-3-1-26-7z"/><path fill="#4562fc" d="M1381 1354l29 12-7-7-28-14z"/><path fill="url(#s3_g34)" d="M1471 1357l29 10-7-10-28-13z"/><path fill="url(#s3_g18)" d="M1561 1381l29-3-7-22-28-15z"/><path fill="url(#s3_g23)" d="M1651 1332l29 20-7 4-28-18z"/><path fill="url(#s3_g18)" d="M1741 1367l28 2-6-16-29-15z"/><path fill="#4757f7" d="M1831 1373l28 0-6-10-29-9z"/><path fill="url(#s3_g0)" d="M1372 1388l3-43-7-15-2 55z"/><path fill="url(#s3_g0)" d="M1462 1388l3-44-7-17-2 58z"/><path fill="url(#s3_g19)" d="M1552 1388l3-47-7 12-2 31z"/><path fill="url(#s3_g19)" d="M1642 1387l3-49-7 24-2 21z"/><path fill="url(#s3_g31)" d="M1732 1386l2-48-6-19-2 63z"/><path fill="url(#s3_g7)" d="M1822 1387l2-33-6-42-2 70z"/><path fill="url(#s3_g0)" d="M1912 1386l2-49-6-8-3 54z"/><path fill="url(#s3_g13)" d="M1339 1367l27 18-7-4-26-28z"/><path fill="url(#s3_g16)" d="M1429 1364l27 21-7-3-26-13z"/><path fill="url(#s3_g5)" d="M1519 1359l27 25-7-3-26-25z"/><path fill="#484cef" d="M1609 1379l27 4-7-2-26 0z"/><path fill="url(#s3_g13)" d="M1699 1355l27 27-7-1-26-30z"/><path fill="#4852f4" d="M1789 1375l27 7-7-3-26-7zM1879 1370l26 13-6-3-27-18z"/><path shape-rendering="auto" fill="url(#s3_p1)" d="M1368 1379l2-48 7-96 16 29 9 61 2 48z"/><path fill="#3a74ff" d="M1921 1343l12 6-7-8-12-4z"/><path fill="url(#s3_g35)" d="M1388 1312l28 35-6 19-29-12z"/><path fill="#475dfa" d="M1478 1364l28 7-6-4-29-10z"/><path fill="url(#s3_g30)" d="M1568 1335l28 21-6 22-29 3z"/><path fill="url(#s3_g23)" d="M1658 1337l28 21-6-6-29-20z"/><path fill="#4757f7" d="M1748 1376l28 1-7-8-28-2zM1837 1362l29 7-7 4-28 0z"/><path fill="url(#s3_g9)" d="M1379 1392l2-38-6-9-3 43z"/><path fill="url(#s3_g13)" d="M1469 1390l2-33-6-13-3 44z"/><path fill="url(#s3_g19)" d="M1559 1391l2-10-6-40-3 47z"/><path fill="url(#s3_g25)" d="M1649 1391l2-59-6 6-3 49z"/><path fill="url(#s3_g20)" d="M1739 1388l2-21-7-29-2 48z"/><path fill="url(#s3_g5)" d="M1829 1389l2-16-7-19-2 33z"/><path fill="url(#s3_g19)" d="M1919 1389l2-46-7-6-2 49z"/><path fill="url(#s3_g4)" d="M1346 1363l26 25-6-3-27-18z"/><path fill="url(#s3_g16)" d="M1436 1372l26 16-6-3-27-21z"/><path fill="url(#s3_g4)" d="M1526 1370l26 18-6-4-27-25z"/><path fill="#484cef" d="M1616 1376l26 11-6-4-27-4zM1796 1380l26 7-6-5-27-7z"/><path fill="url(#s3_g13)" d="M1706 1377l26 9-6-4-27-27z"/><path fill="#4852f4" d="M1885 1371l27 15-7-3-26-13z"/><path fill="#347afd" d="M1927 1333l12 5-6 11-12-6z"/><path fill="url(#s3_g35)" d="M1394 1361l29 8-7-22-28-35z"/><path fill="url(#s3_g32)" d="M1484 1325l29 31-7 15-28-7z"/><path fill="url(#s3_g31)" d="M1574 1380l29 1-7-25-28-21z"/><path fill="url(#s3_g28)" d="M1664 1330l29 21-7 7-28-21z"/><path fill="#4757f7" d="M1754 1374l29-2-7 5-28-1z"/><path fill="url(#s3_g24)" d="M1844 1340l28 22-6 7-29-7z"/><path fill="url(#s3_g32)" d="M1304 1322l29 31-3 20-29-9z"/><path fill="url(#s3_g36)" d="M1385 1394l3-82-7 42-2 38z"/><path fill="url(#s3_g4)" d="M1475 1394l3-30-7-7-2 33z"/><path fill="url(#s3_g31)" d="M1565 1393l3-58-7 46-2 10z"/><path fill="url(#s3_g25)" d="M1655 1394l3-57-7-5-2 59z"/><path fill="#4852f4" d="M1745 1394l3-18-7-9-2 21zM1442 1376l27 14-7-2-26-16z"/><path fill="url(#s3_g4)" d="M1835 1393l2-31-6 11-2 16z"/><path fill="url(#s3_g25)" d="M1925 1393l2-60-6 10-2 46z"/><path fill="url(#s3_g4)" d="M1352 1369l27 23-7-4-26-25z"/><path fill="#4852f4" d="M1532 1376l27 15-7-3-26-18zM1622 1378l27 13-7-4-26-11zM1802 1374l27 15-7-2-26-7zM1892 1374l27 15-7-3-27-15z"/><path fill="#484cef" d="M1712 1390l27-2-7-2-26-9z"/><path fill="#2f80fb" d="M1934 1337l12 10-7-9-12-5z"/><path fill="url(#s3_g6)" d="M1311 1346l28 21-6-14-29-31z"/><path fill="url(#s3_g24)" d="M1401 1343l28 21-6 5-29-8z"/><path fill="url(#s3_g37)" d="M1491 1337l28 22-6-3-29-31z"/><path fill="#4757f7" d="M1581 1375l28 4-6 2-29-1z"/><path fill="url(#s3_g38)" d="M1671 1325l28 30-6-4-29-21z"/><path fill="#475dfa" d="M1761 1369l28 6-6-3-29 2z"/><path fill="url(#s3_g24)" d="M1850 1362l29 8-7-8-28-22z"/><path fill="url(#s3_g36)" d="M1392 1397l2-36-6-49-3 82z"/><path fill="url(#s3_g12)" d="M1482 1396l2-71-6 39-3 30z"/><path fill="url(#s3_g31)" d="M1572 1397l2-17-6-45-3 58z"/><path fill="url(#s3_g7)" d="M1662 1397l2-67-6 7-3 57z"/><path fill="#4852f4" d="M1752 1396l2-22-6 2-3 18zM1449 1384l26 10-6-4-27-14zM1539 1386l26 7-6-2-27-15zM1629 1383l26 11-6-3-27-13zM1809 1374l26 19-6-4-27-15zM1899 1378l26 15-6-4-27-15z"/><path fill="url(#s3_g0)" d="M1842 1396l2-56-7 22-2 31z"/><path fill="url(#s3_g25)" d="M1932 1396l2-59-7-4-2 60z"/><path fill="url(#s3_g10)" d="M1302 1399l2-77-3 42-2 31z"/><path fill="url(#s3_g5)" d="M1359 1381l26 13-6-2-27-23z"/><path fill="#484cef" d="M1719 1381l26 13-6-6-27 2z"/><path fill="url(#s3_g39)" d="M1940 1318l12 11-6 18-12-10z"/><path fill="url(#s3_g23)" d="M1317 1340l29 23-7 4-28-21z"/><path fill="url(#s3_g14)" d="M1407 1362l29 10-7-8-28-21z"/><path fill="url(#s3_g23)" d="M1497 1352l29 18-7-11-28-22z"/><path fill="#475dfa" d="M1587 1368l29 8-7 3-28-4z"/><path fill="url(#s3_g32)" d="M1677 1369l29 8-7-22-28-30z"/><path fill="#475dfa" d="M1767 1378l29 2-7-5-28-6z"/><path fill="url(#s3_g40)" d="M1857 1353l28 18-6-1-29-8z"/><path fill="url(#s3_g10)" d="M1309 1401l2-55-7-24-2 77z"/><path fill="url(#s3_g15)" d="M1398 1400l3-57-7 18-2 36z"/><path fill="url(#s3_g10)" d="M1488 1401l3-64-7-12-2 71z"/><path fill="#4852f4" d="M1578 1400l3-25-7 5-2 17zM1365 1388l27 9-7-3-26-13zM1455 1389l27 7-7-2-26-10zM1545 1386l27 11-7-4-26-7zM1635 1381l27 16-7-3-26-11zM1725 1383l27 13-7-2-26-13zM1905 1381l27 15-7-3-26-15z"/><path fill="url(#s3_g12)" d="M1668 1399l3-74-7 5-2 67z"/><path fill="url(#s3_g4)" d="M1758 1400l3-31-7 5-2 22z"/><path fill="url(#s3_g15)" d="M1848 1399l2-37-6-22-2 56z"/><path fill="url(#s3_g36)" d="M1938 1399l2-81-6 19-2 59z"/><path fill="url(#s3_g16)" d="M1815 1379l27 17-7-3-26-19z"/><path fill="url(#s3_g41)" d="M1947 1374l12 0-7-45-12-11z"/><path fill="#4852f4" d="M1275 1383l27 16-3-4-27-11z"/><path fill="url(#s3_g29)" d="M1324 1345l28 24-6-6-29-23z"/><path fill="#4368fe" d="M1414 1361l28 15-6-4-29-10zM1864 1358l28 16-7-3-28-18z"/><path fill="url(#s3_g14)" d="M1504 1361l28 15-6-6-29-18z"/><path fill="#4562fc" d="M1594 1368l28 10-6-2-29-8z"/><path fill="#4757f7" d="M1684 1390l28 0-6-13-29-8z"/><path fill="url(#s3_g18)" d="M1774 1358l28 16-6 6-29-2z"/><path fill="url(#s3_g31)" d="M1315 1404l2-64-6 6-2 55z"/><path fill="url(#s3_g0)" d="M1405 1404l2-42-6-19-3 57z"/><path fill="url(#s3_g31)" d="M1495 1403l2-51-6-15-3 64z"/><path fill="url(#s3_g4)" d="M1585 1404l2-36-6 7-3 25z"/><path fill="url(#s3_g12)" d="M1675 1401l2-32-6-44-3 74z"/><path fill="url(#s3_g5)" d="M1765 1402l2-24-6-9-3 31z"/><path fill="url(#s3_g19)" d="M1855 1403l2-50-7 9-2 37z"/><path fill="url(#s3_g36)" d="M1945 1400l2-26-7-56-2 81z"/><path fill="url(#s3_g16)" d="M1282 1381l27 20-7-2-27-16z"/><path fill="#4852f4" d="M1372 1389l26 11-6-3-27-9zM1552 1382l26 18-6-3-27-11zM1912 1394l26 5-6-3-27-15z"/><path fill="#484cef" d="M1462 1397l26 4-6-5-27-7z"/><path fill="url(#s3_g5)" d="M1642 1373l26 26-6-2-27-16z"/><path fill="url(#s3_g16)" d="M1732 1379l26 21-6-4-27-13z"/><path fill="url(#s3_g5)" d="M1822 1376l26 23-6-3-27-17z"/><path fill="url(#s3_g28)" d="M1953 1336l12 16-6 22-12 0z"/><path fill="url(#s3_g26)" d="M1330 1368l29 13-7-12-28-24z"/><path fill="url(#s3_g21)" d="M1420 1370l29 14-7-8-28-15z"/><path fill="url(#s3_g21)" d="M1510 1376l29 10-7-10-28-15z"/><path fill="#4562fc" d="M1600 1372l29 11-7-5-28-10z"/><path fill="url(#s3_g22)" d="M1690 1370l29 11-7 9-28 0z"/><path fill="url(#s3_g14)" d="M1780 1354l29 20-7 0-28-16z"/><path fill="#4368fe" d="M1870 1366l29 12-7-4-28-16z"/><path fill="url(#s3_g25)" d="M1322 1408l2-63-7-5-2 64z"/><path fill="url(#s3_g19)" d="M1411 1407l3-46-7 1-2 42z"/><path fill="url(#s3_g15)" d="M1501 1406l3-45-7-9-2 51z"/><path fill="url(#s3_g13)" d="M1591 1405l3-37-7 0-2 36z"/><path fill="url(#s3_g5)" d="M1681 1405l3-15-7-21-2 32z"/><path fill="#4757f7" d="M1266 1397l9-14-3 1-9 13z"/><path fill="url(#s3_g20)" d="M1771 1405l3-47-7 20-2 24z"/><path fill="url(#s3_g19)" d="M1861 1406l3-48-7-5-2 50z"/><path fill="url(#s3_g7)" d="M1951 1406l2-70-6 38-2 26z"/><path fill="url(#s3_g17)" d="M1289 1386l26 18-6-3-27-20z"/><path fill="#4852f4" d="M1378 1392l27 12-7-4-26-11zM1558 1390l27 14-7-4-26-18zM1918 1383l27 17-7-1-26-5z"/><path fill="#484cef" d="M1468 1391l27 12-7-2-26-4z"/><path fill="url(#s3_g42)" d="M1648 1401l27 0-7-2-26-26z"/><path fill="url(#s3_g17)" d="M1738 1390l27 12-7-2-26-21z"/><path fill="url(#s3_g4)" d="M1828 1384l27 19-7-4-26-23z"/><path fill="url(#s3_g3)" d="M1960 1364l12 2-7-14-12-16z"/><path fill="#4562fc" d="M1337 1376l28 12-6-7-29-13zM1427 1382l28 7-6-5-29-14zM1517 1375l28 11-6 0-29-10zM1697 1370l28 13-6-2-29-11z"/><path fill="url(#s3_g24)" d="M1607 1358l28 23-6 2-29-11z"/><path fill="url(#s3_g14)" d="M1787 1361l28 18-6-5-29-20z"/><path fill="#4368fe" d="M1877 1365l28 16-6-3-29-12z"/><path fill="#4757f7" d="M1273 1396l9-15-7 2-9 14z"/><path fill="url(#s3_g31)" d="M1328 1410l2-42-6-23-2 63z"/><path fill="url(#s3_g19)" d="M1418 1411l2-41-6-9-3 46z"/><path fill="url(#s3_g19)" d="M1508 1411l2-35-6-15-3 45z"/><path fill="url(#s3_g9)" d="M1598 1410l2-38-6-4-3 37z"/><path fill="url(#s3_g13)" d="M1688 1409l2-39-6 20-3 15z"/><path fill="url(#s3_g0)" d="M1778 1410l2-56-6 4-3 47z"/><path fill="url(#s3_g19)" d="M1868 1409l2-43-6-8-3 48z"/><path fill="url(#s3_g2)" d="M1958 1408l2-44-7-28-2 70z"/><path fill="url(#s3_g4)" d="M1295 1383l27 25-7-4-26-18z"/><path fill="#484cef" d="M1385 1404l26 3-6-3-27-12zM1655 1398l26 7-6-4-27 0zM1745 1409l26-4-6-3-27-12z"/><path fill="url(#s3_g17)" d="M1475 1387l26 19-6-3-27-12z"/><path fill="#4852f4" d="M1565 1399l26 6-6-1-27-14z"/><path fill="url(#s3_g4)" d="M1835 1383l26 23-6-3-27-19z"/><path fill="url(#s3_g16)" d="M1925 1394l26 12-6-6-27-17z"/><path fill="#3f6eff" d="M1967 1373l11 5-6-12-12-2z"/><path fill="#4562fc" d="M1343 1375l29 14-7-1-28-12z"/><path fill="#4757f7" d="M1433 1396l29 1-7-8-28-7z"/><path fill="url(#s3_g24)" d="M1523 1362l29 20-7 4-28-11z"/><path fill="url(#s3_g6)" d="M1613 1341l29 32-7 8-28-23z"/><path fill="url(#s3_g26)" d="M1703 1355l29 24-7 4-28-13z"/><path fill="url(#s3_g23)" d="M1793 1353l29 23-7 3-28-18z"/><path fill="url(#s3_g18)" d="M1883 1386l29 8-7-13-28-16z"/><path fill="#475dfa" d="M1279 1400l10-14-7-5-9 15z"/><path fill="url(#s3_g9)" d="M1335 1414l2-38-7-8-2 42z"/><path fill="url(#s3_g9)" d="M1425 1414l2-32-7-12-2 41z"/><path fill="url(#s3_g13)" d="M1514 1413l3-38-7 1-2 35z"/><path fill="url(#s3_g15)" d="M1604 1412l3-54-7 14-2 38z"/><path fill="url(#s3_g9)" d="M1694 1413l3-43-7 0-2 39z"/><path fill="url(#s3_g15)" d="M1784 1411l3-50-7-7-2 56z"/><path fill="url(#s3_g19)" d="M1874 1412l3-47-7 1-2 43z"/><path fill="url(#s3_g19)" d="M1964 1412l3-39-7-9-2 44z"/><path fill="url(#s3_g5)" d="M1302 1390l26 20-6-2-27-25z"/><path fill="url(#s3_g16)" d="M1392 1390l26 21-7-4-26-3z"/><path fill="url(#s3_g16)" d="M1481 1398l27 13-7-5-26-19z"/><path fill="#484cef" d="M1571 1401l27 9-7-5-26-6zM1661 1402l27 7-7-4-26-7zM1751 1398l27 12-7-5-26 4z"/><path fill="url(#s3_g4)" d="M1841 1401l27 8-7-3-26-23z"/><path fill="#4852f4" d="M1931 1393l27 15-7-2-26-12z"/><path fill="#3f6eff" d="M1973 1362l12 8-7 8-11-5z"/><path fill="#4368fe" d="M1350 1376l28 16-6-3-29-14z"/><path fill="url(#s3_g22)" d="M1440 1379l28 12-6 6-29-1z"/><path fill="url(#s3_g24)" d="M1530 1382l28 8-6-8-29-20z"/><path fill="url(#s3_g8)" d="M1620 1400l28 1-6-28-29-32z"/><path fill="url(#s3_g26)" d="M1710 1380l28 10-6-11-29-24z"/><path fill="url(#s3_g23)" d="M1800 1366l28 18-6-8-29-23z"/><path fill="url(#s3_g11)" d="M1890 1367l28 16-6 11-29-8z"/><path fill="#475dfa" d="M1286 1399l9-16-6 3-10 14z"/><path fill="url(#s3_g13)" d="M1341 1416l2-41-6 1-2 38z"/><path fill="url(#s3_g4)" d="M1431 1417l2-21-6-14-2 32z"/><path fill="url(#s3_g15)" d="M1521 1416l2-54-6 13-3 38z"/><path fill="url(#s3_g12)" d="M1611 1415l2-74-6 17-3 54z"/><path fill="url(#s3_g25)" d="M1701 1416l2-61-6 15-3 43z"/><path fill="url(#s3_g25)" d="M1791 1416l2-63-6 8-3 50z"/><path fill="url(#s3_g19)" d="M1881 1415l2-29-6-21-3 47z"/><path fill="url(#s3_g15)" d="M1971 1414l2-52-6 11-3 39z"/><path fill="url(#s3_g16)" d="M1308 1399l27 15-7-4-26-20z"/><path fill="url(#s3_g16)" d="M1398 1402l27 12-7-3-26-21z"/><path fill="#484cef" d="M1488 1412l26 1-6-2-27-13zM1938 1413l26-1-6-4-27-15z"/><path fill="#4852f4" d="M1578 1398l26 14-6-2-27-9zM1668 1398l26 15-6-4-27-7zM1758 1396l26 15-6-1-27-12zM1848 1399l26 13-6-3-27-8z"/><path fill="#3a74ff" d="M1980 1372l12 7-7-9-12-8z"/><path fill="url(#s3_g18)" d="M1357 1399l28 5-7-12-28-16z"/><path fill="url(#s3_g26)" d="M1446 1363l29 24-7 4-28-12z"/><path fill="#4562fc" d="M1536 1388l29 11-7-9-28-8z"/><path fill="#475dfa" d="M1626 1386l29 12-7 3-28-1zM1292 1406l10-16-7-7-9 16z"/><path fill="url(#s3_g22)" d="M1716 1413l29-4-7-19-28-10z"/><path fill="url(#s3_g23)" d="M1806 1361l29 22-7 1-28-18z"/><path fill="url(#s3_g24)" d="M1896 1387l29 7-7-11-28-16z"/><path fill="url(#s3_g9)" d="M1348 1421l2-45-7-1-2 41z"/><path fill="url(#s3_g9)" d="M1438 1420l2-41-7 17-2 21z"/><path fill="url(#s3_g15)" d="M1528 1419l2-37-7-20-2 54z"/><path fill="url(#s3_g10)" d="M1617 1419l3-19-7-59-2 74z"/><path fill="url(#s3_g31)" d="M1707 1417l3-37-7-25-2 61z"/><path fill="url(#s3_g25)" d="M1797 1419l3-53-7-13-2 63z"/><path fill="url(#s3_g0)" d="M1887 1419l3-52-7 19-2 29z"/><path fill="url(#s3_g15)" d="M1977 1417l3-45-7-10-2 52z"/><path shape-rendering="auto" fill="url(#s3_p0)" d="M1313 1414l1-48 6-102 16-78 18 145 2 48z"/><path fill="#4852f4" d="M1315 1413l26 3-6-2-27-15zM1405 1400l26 17-6-3-27-12zM1584 1411l27 4-7-3-26-14zM1764 1396l27 20-7-5-26-15zM1854 1406l27 9-7-3-26-13z"/><path fill="#484cef" d="M1494 1411l27 5-7-3-26-1zM1944 1410l27 4-7-2-26 1z"/><path fill="url(#s3_g16)" d="M1674 1395l27 21-7-3-26-15z"/><path fill="#4368fe" d="M1986 1393l12 1-6-15-12-7z"/><path fill="url(#s3_g11)" d="M1363 1369l29 21-7 14-28-5z"/><path fill="url(#s3_g26)" d="M1453 1390l28 8-6-11-29-24z"/><path fill="#475dfa" d="M1543 1392l28 9-6-2-29-11zM1633 1396l28 6-6-4-29-12z"/><path fill="url(#s3_g22)" d="M1723 1383l28 15-6 11-29 4z"/><path fill="url(#s3_g26)" d="M1813 1392l28 9-6-18-29-22z"/><path fill="#4562fc" d="M1903 1381l28 12-6 1-29-7z"/><path fill="#4757f7" d="M1299 1413l9-14-6-9-10 16z"/><path fill="url(#s3_g19)" d="M1354 1424l3-25-7-23-2 45z"/><path fill="url(#s3_g31)" d="M1444 1423l2-60-6 16-2 41z"/><path fill="url(#s3_g9)" d="M1534 1423l2-35-6-6-2 37z"/><path fill="url(#s3_g9)" d="M1624 1423l2-37-6 14-3 19z"/><path fill="url(#s3_g9)" d="M1714 1423l2-10-6-33-3 37z"/><path fill="url(#s3_g31)" d="M1804 1421l2-60-6 5-3 53z"/><path fill="url(#s3_g0)" d="M1894 1422l2-35-6-20-3 52z"/><path fill="url(#s3_g19)" d="M1984 1421l2-28-6-21-3 45z"/><path fill="#484cef" d="M1321 1414l27 7-7-5-26-3z"/><path fill="#4852f4" d="M1411 1405l27 15-7-3-26-17z"/><path fill="#484cef" d="M1501 1410l27 9-7-3-27-5zM1591 1412l26 7-6-4-27-4zM1861 1416l26 3-6-4-27-9z"/><path fill="url(#s3_g17)" d="M1681 1416l26 1-6-1-27-21z"/><path fill="url(#s3_g4)" d="M1771 1395l26 24-6-3-27-20z"/><path fill="#4852f4" d="M1951 1405l26 12-6-3-27-4zM1305 1422l10-9-7-14-9 14z"/><path fill="#475dfa" d="M1993 1409l12-1-7-14-12-1z"/><path fill="url(#s3_g24)" d="M1370 1384l28 18-6-12-29-21z"/><path fill="url(#s3_g42)" d="M1459 1409l29 3-7-14-28-8z"/><path fill="#4562fc" d="M1549 1393l29 5-7 3-28-9z"/><path fill="url(#s3_g21)" d="M1639 1382l29 16-7 4-28-6z"/><path fill="url(#s3_g24)" d="M1729 1375l29 21-7 2-28-15z"/><path fill="url(#s3_g21)" d="M1819 1382l29 17-7 2-28-9z"/><path fill="url(#s3_g22)" d="M1909 1418l29-5-7-20-28-12z"/><path fill="url(#s3_g0)" d="M1361 1427l2-58-6 30-3 25z"/><path fill="url(#s3_g31)" d="M1451 1426l2-36-7-27-2 60z"/><path fill="url(#s3_g5)" d="M1541 1425l2-33-7-4-2 35z"/><path fill="url(#s3_g9)" d="M1630 1426l3-30-7-10-2 37z"/><path fill="url(#s3_g9)" d="M1720 1426l3-43-7 30-2 10z"/><path fill="url(#s3_g31)" d="M1810 1425l3-33-7-31-2 60z"/><path fill="url(#s3_g9)" d="M1900 1425l3-44-7 6-2 35z"/><path fill="url(#s3_g16)" d="M1990 1425l3-16-7-16-2 28z"/><path fill="#484cef" d="M1328 1420l26 4-6-3-27-7z"/><path fill="#4852f4" d="M1418 1416l26 7-6-3-27-15zM1508 1408l26 15-6-4-27-9zM1597 1411l27 12-7-4-26-7zM1957 1409l27 12-7-4-26-12z"/><path fill="url(#s3_g4)" d="M1687 1396l27 27-7-6-26-1z"/><path fill="url(#s3_g5)" d="M1777 1405l27 16-7-2-26-24z"/><path fill="url(#s3_g16)" d="M1867 1401l27 21-7-3-26-3z"/><path fill="#4757f7" d="M1999 1409l12-1-6 0-12 1zM1466 1401l28 10-6 1-29-3z"/><path fill="url(#s3_g24)" d="M1376 1380l29 20-7 2-28-18z"/><path fill="#475dfa" d="M1556 1405l28 6-6-13-29-5z"/><path fill="url(#s3_g14)" d="M1646 1377l28 18-6 3-29-16z"/><path fill="url(#s3_g14)" d="M1736 1379l28 17-6 0-29-21z"/><path fill="url(#s3_g21)" d="M1826 1401l28 5-6-7-29-17z"/><path fill="#4852f4" d="M1916 1406l28 4-6 3-29 5zM1312 1424l9-10-6-1-10 9zM1514 1410l27 15-7-2-26-15zM1604 1408l26 18-6-3-27-12z"/><path fill="url(#s3_g15)" d="M1367 1429l3-45-7-15-2 58z"/><path fill="url(#s3_g5)" d="M1457 1429l2-20-6-19-2 36z"/><path fill="url(#s3_g4)" d="M1547 1429l2-36-6-1-2 33z"/><path fill="url(#s3_g19)" d="M1637 1430l2-48-6 14-3 30z"/><path fill="url(#s3_g0)" d="M1727 1429l2-54-6 8-3 43z"/><path fill="url(#s3_g20)" d="M1817 1428l2-46-6 10-3 33z"/><path fill="url(#s3_g9)" d="M1907 1429l2-11-6-37-3 44z"/><path fill="#484cef" d="M1997 1428l2-19-6 0-3 16zM1334 1421l27 6-7-3-26-4zM1424 1420l27 6-7-3-26-7z"/><path fill="url(#s3_g4)" d="M1694 1417l26 9-6-3-27-27z"/><path fill="url(#s3_g5)" d="M1784 1399l26 26-6-4-27-16z"/><path fill="url(#s3_g16)" d="M1874 1418l26 7-6-3-27-21z"/><path fill="#4852f4" d="M1964 1416l26 9-6-4-27-12zM1318 1429l10-9-7-6-9 10z"/><path fill="url(#s3_g24)" d="M2006 1380l12 8-7 20-12 1z"/><path fill="url(#s3_g14)" d="M1383 1395l28 10-6-5-29-20z"/><path fill="#475dfa" d="M1473 1399l28 11-7 1-28-10zM1562 1399l29 13-7-1-28-6zM1922 1395l29 10-7 5-28-4z"/><path fill="url(#s3_g11)" d="M1652 1412l29 4-7-21-28-18z"/><path fill="url(#s3_g14)" d="M1742 1379l29 16-7 1-28-17z"/><path fill="#4757f7" d="M1832 1424l29-8-7-10-28-5z"/><path fill="url(#s3_g0)" d="M1374 1433l2-53-6 4-3 45z"/><path fill="url(#s3_g4)" d="M1464 1433l2-32-7 8-2 20z"/><path fill="url(#s3_g5)" d="M1554 1431l2-26-7-12-2 36z"/><path fill="url(#s3_g15)" d="M1644 1431l2-54-7 5-2 48z"/><path fill="url(#s3_g0)" d="M1733 1432l3-53-7-4-2 54z"/><path fill="url(#s3_g19)" d="M1823 1432l3-31-7-19-2 46z"/><path fill="#4852f4" d="M1913 1430l3-24-7 12-2 11zM1521 1423l26 6-6-4-27-15zM1611 1421l26 9-7-4-26-18zM1700 1413l27 16-7-3-26-9z"/><path fill="url(#s3_g0)" d="M2003 1431l3-51-7 29-2 19z"/><path fill="#484cef" d="M1341 1425l26 4-6-2-27-6zM1431 1425l26 4-6-3-27-6zM1880 1424l27 5-7-4-26-7z"/><path fill="url(#s3_g5)" d="M1790 1415l27 13-7-3-26-26z"/><path fill="url(#s3_g4)" d="M1970 1403l27 25-7-3-26-9z"/><path fill="#347afd" d="M2012 1369l12 11-6 8-12-8z"/><path fill="#4562fc" d="M1389 1410l29 6-7-11-28-10zM1569 1401l28 10-6 1-29-13z"/><path fill="url(#s3_g21)" d="M1479 1391l29 17-7 2-28-11z"/><path fill="url(#s3_g43)" d="M1659 1372l28 24-6 20-29-4z"/><path fill="url(#s3_g14)" d="M1749 1386l28 19-6-10-29-16z"/><path fill="url(#s3_g18)" d="M1839 1387l28 14-6 15-29 8z"/><path fill="#4562fc" d="M1929 1396l28 13-6-4-29-10z"/><path fill="#4852f4" d="M1325 1431l9-10-6-1-10 9zM1707 1425l26 7-6-3-27-16z"/><path fill="url(#s3_g15)" d="M1380 1436l3-41-7-15-2 53z"/><path fill="url(#s3_g13)" d="M1470 1435l3-36-7 2-2 32z"/><path fill="url(#s3_g9)" d="M1560 1436l2-37-6 6-2 26z"/><path fill="url(#s3_g15)" d="M1650 1435l2-23-6-35-2 54z"/><path fill="url(#s3_g0)" d="M1740 1435l2-56-6 0-3 53z"/><path fill="url(#s3_g4)" d="M1830 1435l2-11-6-23-3 31z"/><path fill="url(#s3_g9)" d="M1920 1435l2-40-6 11-3 24z"/><path fill="url(#s3_g2)" d="M2010 1433l2-64-6 11-3 51z"/><path fill="#484cef" d="M1347 1429l27 4-7-4-26-4zM1437 1421l27 12-7-4-26-4zM1617 1426l27 5-7-1-26-9z"/><path fill="url(#s3_g17)" d="M1527 1412l27 19-7-2-26-6z"/><path fill="#4852f4" d="M1797 1413l26 19-6-4-27-13zM1331 1434l10-9-7-4-9 10z"/><path fill="url(#s3_g5)" d="M1887 1403l26 27-6-1-27-5z"/><path fill="url(#s3_g4)" d="M1977 1422l26 9-6-3-27-25z"/><path fill="#347afd" d="M2019 1386l12 5-7-11-12-11z"/><path fill="#475dfa" d="M1396 1419l28 1-6-4-29-6z"/><path fill="#4368fe" d="M1486 1399l28 11-6-2-29-17z"/><path fill="url(#s3_g24)" d="M1576 1389l28 19-7 3-28-10z"/><path fill="url(#s3_g27)" d="M1665 1405l29 12-7-21-28-24z"/><path fill="url(#s3_g28)" d="M1755 1373l29 26-7 6-28-19z"/><path fill="url(#s3_g18)" d="M1845 1414l29 4-7-17-28-14z"/><path fill="#4562fc" d="M1935 1410l29 6-7-7-28-13z"/><path fill="url(#s3_g9)" d="M1387 1440l2-30-6-15-3 41z"/><path fill="url(#s3_g20)" d="M1477 1438l2-47-6 8-3 36z"/><path fill="url(#s3_g13)" d="M1567 1438l2-37-7-2-2 37z"/><path fill="url(#s3_g7)" d="M1657 1439l2-67-7 40-2 23z"/><path fill="url(#s3_g15)" d="M1747 1438l2-52-7-7-2 56z"/><path fill="url(#s3_g20)" d="M1836 1437l3-50-7 37-2 11z"/><path fill="url(#s3_g13)" d="M1926 1437l3-41-7-1-2 40z"/><path fill="url(#s3_g7)" d="M2016 1437l3-51-7-17-2 64z"/><path fill="url(#s3_g5)" d="M1354 1410l26 26-6-3-27-4z"/><path fill="#4852f4" d="M1444 1423l26 12-6-2-27-12zM1713 1416l27 19-7-3-26-7zM1803 1429l27 6-7-3-26-19z"/><path fill="url(#s3_g16)" d="M1534 1415l26 21-6-5-27-19z"/><path fill="url(#s3_g5)" d="M1624 1414l26 21-6-4-27-5z"/><path fill="url(#s3_g4)" d="M1893 1424l27 11-7-5-26-27z"/><path fill="#484cef" d="M1983 1434l27-1-7-2-26-9z"/><path fill="url(#s3_g24)" d="M2025 1415l12 5-6-29-12-5z"/><path fill="#4757f7" d="M1402 1421l29 4-7-5-28-1z"/><path fill="url(#s3_g34)" d="M1492 1424l29-1-7-13-28-11z"/><path fill="url(#s3_g24)" d="M1582 1418l29 3-7-13-28-19z"/><path fill="url(#s3_g21)" d="M1672 1396l28 17-6 4-29-12z"/><path fill="url(#s3_g27)" d="M1762 1397l28 18-6-16-29-26z"/><path fill="#4757f7" d="M1852 1418l28 6-6-6-29-4z"/><path fill="url(#s3_g26)" d="M1942 1381l28 22-6 13-29-6z"/><path fill="#4852f4" d="M1338 1436l9-7-6-4-10 9zM1450 1428l27 10-7-3-26-12zM1720 1425l27 13-7-3-27-19z"/><path fill="url(#s3_g5)" d="M1393 1442l3-23-7-9-2 30z"/><path fill="url(#s3_g19)" d="M1483 1442l3-43-7-8-2 47z"/><path fill="url(#s3_g0)" d="M1573 1442l3-53-7 12-2 37z"/><path fill="url(#s3_g2)" d="M1663 1441l2-36-6-33-2 67z"/><path fill="url(#s3_g7)" d="M1753 1442l2-69-6 13-2 52z"/><path fill="url(#s3_g19)" d="M1843 1441l2-27-6-27-3 50z"/><path fill="url(#s3_g13)" d="M1933 1440l2-30-6-14-3 41z"/><path fill="url(#s3_g0)" d="M2023 1441l2-26-6-29-3 51z"/><path fill="url(#s3_g4)" d="M1360 1426l27 14-7-4-26-26z"/><path fill="url(#s3_g17)" d="M1540 1436l27 2-7-2-26-21z"/><path fill="url(#s3_g4)" d="M1630 1425l27 14-7-4-26-21z"/><path fill="#484cef" d="M1810 1433l26 4-6-2-27-6z"/><path fill="#4852f4" d="M1900 1422l26 15-6-2-27-11zM1400 1446l2-25-6-2-3 23z"/><path fill="url(#s3_g9)" d="M1990 1403l26 34-6-4-27 1z"/><path fill="#475dfa" d="M2032 1419l12 2-7-1-12-5zM1409 1415l28 6-6 4-29-4zM1589 1422l28 4-6-5-29-3z"/><path fill="url(#s3_g26)" d="M1499 1389l28 23-6 11-29 1z"/><path fill="url(#s3_g18)" d="M1678 1419l29 6-7-12-28-17z"/><path fill="url(#s3_g24)" d="M1768 1396l29 17-7 2-28-18z"/><path fill="url(#s3_g43)" d="M1858 1379l29 24-7 21-28-6z"/><path fill="url(#s3_g26)" d="M1948 1412l29 10-7-19-28-22z"/><path fill="#4757f7" d="M1344 1429l10-19-7 19-9 7z"/><path fill="url(#s3_g9)" d="M1490 1445l2-21-6-25-3 43z"/><path fill="url(#s3_g0)" d="M1580 1446l2-28-6-29-3 53z"/><path fill="url(#s3_g20)" d="M1670 1444l2-48-7 9-2 36z"/><path fill="url(#s3_g7)" d="M1760 1445l2-48-7-24-2 69z"/><path fill="url(#s3_g16)" d="M1849 1445l3-27-7-4-2 27z"/><path fill="url(#s3_g25)" d="M1939 1444l3-63-7 29-2 30z"/><path fill="#4852f4" d="M2029 1444l3-25-7-4-2 26zM1367 1428l26 14-6-2-27-14zM1547 1425l26 17-6-4-27-2zM1727 1423l26 19-6-4-27-13z"/><path fill="url(#s3_g4)" d="M1457 1418l26 24-6-4-27-10z"/><path fill="#484cef" d="M1637 1438l26 3-6-2-27-14z"/><path fill="url(#s3_g4)" d="M1816 1417l27 24-7-4-26-4z"/><path fill="url(#s3_g5)" d="M1906 1417l27 23-7-3-26-15z"/><path fill="url(#s3_g9)" d="M1996 1425l27 16-7-4-26-34z"/><path fill="#475dfa" d="M2038 1428l12-3-6-4-12-2z"/><path fill="#4562fc" d="M1415 1407l29 16-7-2-28-6z"/><path fill="url(#s3_g23)" d="M1505 1393l29 22-7-3-28-23z"/><path fill="url(#s3_g11)" d="M1595 1395l29 19-7 12-28-4z"/><path fill="url(#s3_g18)" d="M1685 1403l28 13-6 9-29-6z"/><path fill="url(#s3_g11)" d="M1775 1421l28 8-6-16-29-17z"/><path fill="url(#s3_g27)" d="M1865 1417l28 7-6-21-29-24z"/><path fill="url(#s3_g42)" d="M1955 1433l28 1-6-12-29-10z"/><path fill="#475dfa" d="M1351 1440l9-14-6-16-10 19z"/><path fill="url(#s3_g4)" d="M1406 1449l3-34-7 6-2 25z"/><path fill="url(#s3_g25)" d="M1496 1449l3-60-7 35-2 21z"/><path fill="url(#s3_g17)" d="M1586 1448l3-26-7-4-2 28z"/><path fill="url(#s3_g20)" d="M1676 1447l2-28-6-23-2 48z"/><path fill="url(#s3_g0)" d="M1766 1448l2-52-6 1-2 48z"/><path fill="url(#s3_g7)" d="M1856 1448l2-69-6 39-3 27z"/><path fill="url(#s3_g25)" d="M1946 1447l2-35-6-31-3 63z"/><path fill="#4852f4" d="M2036 1445l2-17-6-9-3 25zM1373 1438l27 8-7-4-26-14zM1553 1436l27 10-7-4-26-17zM1643 1426l27 18-7-3-26-3zM1733 1427l27 18-7-3-26-19z"/><path fill="url(#s3_g4)" d="M1463 1438l27 7-7-3-26-24z"/><path fill="url(#s3_g4)" d="M1823 1435l26 10-6-4-27-24z"/><path fill="url(#s3_g4)" d="M1913 1428l26 16-6-4-27-23z"/><path fill="url(#s3_g4)" d="M2003 1418l26 26-6-3-27-16z"/><path fill="#4562fc" d="M2045 1408l12 5-7 12-12 3zM1422 1422l28 6-6-5-29-16z"/><path fill="url(#s3_g30)" d="M1512 1428l28 8-6-21-29-22z"/><path fill="url(#s3_g24)" d="M1602 1414l28 11-6-11-29-19z"/><path fill="url(#s3_g21)" d="M1692 1412l28 13-7-9-28-13z"/><path fill="#475dfa" d="M1781 1427l29 6-7-4-28-8z"/><path fill="url(#s3_g21)" d="M1871 1403l29 19-7 2-28-7z"/><path fill="url(#s3_g44)" d="M1961 1373l29 30-7 31-28-1z"/><path fill="#4757f7" d="M1357 1443l10-15-7-2-9 14z"/><path fill="url(#s3_g20)" d="M1413 1451l2-44-6 8-3 34z"/><path fill="url(#s3_g31)" d="M1503 1451l2-58-6-4-3 60z"/><path fill="url(#s3_g0)" d="M1593 1451l2-56-6 27-3 26z"/><path fill="url(#s3_g19)" d="M1683 1452l2-49-7 16-2 28z"/><path fill="url(#s3_g15)" d="M1773 1450l2-29-7-25-2 52z"/><path fill="url(#s3_g7)" d="M1863 1451l2-34-7-38-2 69z"/><path fill="url(#s3_g5)" d="M1952 1449l3-16-7-21-2 35z"/><path fill="url(#s3_g13)" d="M2042 1449l3-41-7 20-2 17z"/><path fill="#484cef" d="M1380 1440l26 9-6-3-27-8zM1470 1442l26 7-6-4-27-7zM1830 1442l26 6-7-3-26-10z"/><path fill="#4852f4" d="M1560 1431l26 17-6-2-27-10zM1650 1436l26 11-6-3-27-18zM1740 1433l26 15-6-3-27-18zM1919 1440l27 7-7-3-26-16z"/><path fill="url(#s3_g5)" d="M2009 1449l27-4-7-1-26-26z"/><path fill="url(#s3_g27)" d="M1428 1391l29 27-7 10-28-6z"/><path fill="url(#s3_g18)" d="M1518 1412l29 13-7 11-28-8z"/><path fill="url(#s3_g22)" d="M1608 1434l29 4-7-13-28-11z"/><path fill="url(#s3_g24)" d="M1698 1405l29 18-7 2-28-13z"/><path fill="url(#s3_g30)" d="M1788 1393l28 24-6 16-29-6z"/><path fill="url(#s3_g23)" d="M1878 1394l28 23-6 5-29-19z"/><path fill="url(#s3_g41)" d="M1968 1408l28 17-6-22-29-30z"/><path fill="#4852f4" d="M1364 1448l9-10-6-10-10 15zM1566 1442l27 9-7-3-26-17zM1746 1442l27 8-7-2-26-15z"/><path fill="url(#s3_g19)" d="M1419 1455l3-33-7-15-2 44z"/><path fill="url(#s3_g25)" d="M1509 1455l3-27-7-35-2 58z"/><path fill="url(#s3_g0)" d="M1599 1455l3-41-7-19-2 56z"/><path fill="url(#s3_g19)" d="M1689 1454l3-42-7-9-2 49z"/><path fill="url(#s3_g5)" d="M1779 1454l2-27-6-6-2 29z"/><path fill="url(#s3_g19)" d="M1869 1454l2-51-6 14-2 34z"/><path fill="url(#s3_g45)" d="M1959 1454l2-81-6 60-3 16z"/><path fill="url(#s3_g17)" d="M1386 1433l27 18-7-2-26-9z"/><path fill="url(#s3_g17)" d="M1476 1432l27 19-7-2-26-7z"/><path fill="#484cef" d="M1656 1452l27 0-7-5-26-11zM1836 1444l27 7-7-3-26-6zM1926 1446l26 3-6-2-27-7zM2016 1439l26 10-6-4-27 4z"/><path fill="url(#s3_g27)" d="M1435 1427l28 11-6-20-29-27z"/><path fill="url(#s3_g21)" d="M1525 1422l28 14-6-11-29-13z"/><path fill="url(#s3_g11)" d="M1615 1406l28 20-6 12-29-4z"/><path fill="url(#s3_g14)" d="M1705 1414l28 13-6-4-29-18z"/><path fill="url(#s3_g26)" d="M1795 1424l28 11-7-18-28-24z"/><path fill="url(#s3_g23)" d="M1884 1413l29 15-7-11-28-23z"/><path fill="url(#s3_g28)" d="M1974 1390l29 28-7 7-28-17z"/><path fill="#4852f4" d="M1370 1451l10-11-7-2-9 10z"/><path fill="url(#s3_g7)" d="M1426 1459l2-68-6 31-3 33z"/><path fill="url(#s3_g19)" d="M1516 1458l2-46-6 16-3 27z"/><path fill="url(#s3_g13)" d="M1606 1457l2-23-6-20-3 41z"/><path fill="url(#s3_g0)" d="M1696 1458l2-53-6 7-3 42z"/><path fill="url(#s3_g31)" d="M1786 1457l2-64-7 34-2 27z"/><path fill="url(#s3_g31)" d="M1876 1456l2-62-7 9-2 51z"/><path fill="url(#s3_g36)" d="M1966 1456l2-48-7-35-2 81z"/><path fill="url(#s3_g16)" d="M1393 1435l26 20-6-4-27-18z"/><path fill="url(#s3_g4)" d="M1483 1429l26 26-6-4-27-19z"/><path fill="#4852f4" d="M1573 1446l26 9-6-4-27-9zM1753 1439l26 15-6-4-27-8z"/><path fill="url(#s3_g4)" d="M1663 1432l26 22-6-2-27 0z"/><path fill="#484cef" d="M1843 1459l26-5-6-3-27-7zM1932 1448l27 6-7-5-26-3z"/><path fill="#475dfa" d="M1441 1433l29 9-7-4-28-11zM1801 1435l29 7-7-7-28-11z"/><path fill="url(#s3_g21)" d="M1531 1416l29 15-7 5-28-14z"/><path fill="url(#s3_g24)" d="M1621 1429l29 7-7-10-28-20z"/><path fill="#4368fe" d="M1711 1416l29 17-7-6-28-13z"/><path fill="url(#s3_g21)" d="M1891 1438l28 2-6-12-29-15z"/><path fill="url(#s3_g2)" d="M1981 1446l28 3-6-31-29-28z"/><path fill="#4757f7" d="M1377 1446l9-13-6 7-10 11z"/><path fill="url(#s3_g2)" d="M1432 1461l3-34-7-36-2 68z"/><path fill="url(#s3_g20)" d="M1522 1461l3-39-7-10-2 46z"/><path fill="url(#s3_g15)" d="M1612 1460l3-54-7 28-2 23z"/><path fill="url(#s3_g0)" d="M1702 1461l3-47-7-9-2 53z"/><path fill="url(#s3_g25)" d="M1792 1461l3-37-7-31-2 64z"/><path fill="url(#s3_g31)" d="M1882 1459l2-46-6-19-2 62z"/><path fill="url(#s3_g7)" d="M1972 1460l2-70-6 18-2 48z"/><path fill="url(#s3_g16)" d="M1399 1439l27 20-7-4-26-20z"/><path fill="url(#s3_g4)" d="M1489 1437l27 21-7-3-26-26z"/><path fill="#484cef" d="M1579 1455l27 2-7-2-26-9zM1759 1457l27 0-7-3-26-15zM1849 1440l27 16-7-2-26 5zM1939 1448l27 8-7-2-27-6z"/><path fill="url(#s3_g4)" d="M1669 1448l27 10-7-4-26-22z"/><path fill="url(#s3_g11)" d="M1448 1413l28 19-6 10-29-9z"/><path fill="url(#s3_g21)" d="M1538 1430l28 12-6-11-29-15z"/><path fill="url(#s3_g5)" d="M1628 1446l28 6-6-16-29-7z"/><path fill="url(#s3_g40)" d="M1718 1442l28 0-6-9-29-17z"/><path fill="#475dfa" d="M1808 1434l28 10-6-2-29-7z"/><path fill="#4757f7" d="M1897 1441l29 5-7-6-28-2z"/><path fill="url(#s3_g13)" d="M1987 1426l29 13-7 10-28-3z"/><path fill="#475dfa" d="M1383 1450l10-15-7-2-9 13z"/><path fill="url(#s3_g4)" d="M1439 1465l2-32-6-6-3 34z"/><path fill="url(#s3_g19)" d="M1529 1464l2-48-6 6-3 39z"/><path fill="url(#s3_g0)" d="M1619 1464l2-35-6-23-3 54z"/><path fill="url(#s3_g20)" d="M1709 1464l2-48-6-2-3 47z"/><path fill="url(#s3_g4)" d="M1799 1463l2-28-6-11-3 37z"/><path fill="url(#s3_g19)" d="M1889 1463l2-25-7-25-2 46z"/><path fill="url(#s3_g7)" d="M1979 1463l2-17-7-56-2 70z"/><path fill="url(#s3_g17)" d="M1406 1441l26 20-6-2-27-20z"/><path fill="url(#s3_g5)" d="M1496 1437l26 24-6-3-27-21z"/><path fill="#484cef" d="M1586 1458l26 2-6-3-27-2zM1766 1451l26 10-6-4-27 0zM1946 1456l26 4-6-4-27-8z"/><path fill="#4852f4" d="M1676 1444l26 17-6-3-27-10zM1856 1446l26 13-6-3-27-16z"/><path fill="url(#s3_g28)" d="M1454 1401l29 28-7 3-28-19z"/><path fill="#4562fc" d="M1544 1434l29 12-7-4-28-12z"/><path fill="url(#s3_g31)" d="M1634 1410l29 22-7 20-28-6z"/><path fill="#475dfa" d="M1724 1435l29 4-7 3-28 0zM1390 1453l9-14-6-4-10 15z"/><path fill="url(#s3_g5)" d="M1814 1466l29-7-7-15-28-10z"/><path fill="#4757f7" d="M1904 1441l28 7-6-2-29-5z"/><path fill="url(#s3_g0)" d="M1445 1468l3-55-7 20-2 32z"/><path fill="url(#s3_g19)" d="M1535 1468l3-38-7-14-2 48z"/><path fill="url(#s3_g5)" d="M1625 1467l3-21-7-17-2 35z"/><path fill="url(#s3_g19)" d="M1715 1467l3-25-7-26-2 48z"/><path fill="url(#s3_g4)" d="M1805 1467l3-33-7 1-2 28z"/><path fill="#4852f4" d="M1895 1467l2-26-6-3-2 25z"/><path fill="url(#s3_g9)" d="M1985 1466l2-40-6 20-2 17z"/><path fill="url(#s3_g16)" d="M1412 1454l27 11-7-4-26-20z"/><path fill="url(#s3_g4)" d="M1502 1438l27 26-7-3-26-24z"/><path fill="#484cef" d="M1592 1454l27 10-7-4-26-2z"/><path fill="#4852f4" d="M1682 1454l27 10-7-3-26-17zM1772 1449l27 14-7-2-26-10zM1862 1458l27 5-7-4-26-13z"/><path fill="#484cef" d="M1952 1460l27 3-7-3-26-4z"/><path fill="url(#s3_g28)" d="M1461 1416l28 21-6-8-29-28z"/><path fill="#475dfa" d="M1551 1450l28 5-6-9-29-12zM1731 1454l28 3-6-18-29-4zM1911 1440l28 8-7 0-28-7zM1396 1455l10-14-7-2-9 14z"/><path fill="url(#s3_g26)" d="M1641 1436l28 12-6-16-29-22z"/><path fill="url(#s3_g15)" d="M1821 1421l28 19-6 19-29 7z"/><path fill="url(#s3_g7)" d="M1452 1472l2-71-6 12-3 55z"/><path fill="url(#s3_g9)" d="M1542 1471l2-37-6-4-3 38z"/><path fill="url(#s3_g31)" d="M1632 1470l2-60-6 36-3 21z"/><path fill="url(#s3_g5)" d="M1722 1469l2-34-6 7-3 25z"/><path fill="url(#s3_g5)" d="M1812 1469l2-3-6-32-3 33z"/><path fill="url(#s3_g16)" d="M1902 1470l2-29-7 0-2 26z"/><path fill="#4852f4" d="M1419 1460l26 8-6-3-27-11zM1779 1458l26 9-6-4-27-14z"/><path fill="url(#s3_g4)" d="M1509 1459l26 9-6-4-27-26z"/><path fill="#484cef" d="M1599 1469l26-2-6-3-27-10zM1869 1466l26 1-6-4-27-5zM1959 1452l26 14-6-3-27-3z"/><path fill="url(#s3_g4)" d="M1689 1442l26 25-6-3-27-10z"/><path fill="url(#s3_g29)" d="M1467 1413l29 24-7 0-28-21z"/><path fill="#4757f7" d="M1557 1458l29 0-7-3-28-5zM1737 1445l29 6-7 6-28-3zM1917 1457l29-1-7-8-28-8zM1403 1466l9-12-6-13-10 14z"/><path fill="url(#s3_g21)" d="M1647 1427l29 17-7 4-28-12z"/><path fill="url(#s3_g24)" d="M1827 1438l29 8-7-6-28-19z"/><path fill="url(#s3_g2)" d="M1458 1474l3-58-7-15-2 71z"/><path fill="url(#s3_g13)" d="M1548 1473l3-23-7-16-2 37z"/><path fill="url(#s3_g25)" d="M1638 1474l3-38-7-26-2 60z"/><path fill="url(#s3_g5)" d="M1728 1473l3-19-7-19-2 34z"/><path fill="url(#s3_g0)" d="M1818 1473l3-52-7 45-2 3z"/><path fill="url(#s3_g4)" d="M1908 1473l3-33-7 1-2 29z"/><path fill="#4852f4" d="M1425 1457l27 15-7-4-26-8zM1515 1455l27 16-7-3-26-9z"/><path fill="url(#s3_g5)" d="M1605 1446l27 24-7-3-26 2z"/><path fill="url(#s3_g13)" d="M1695 1441l27 28-7-2-26-25z"/><path fill="url(#s3_g13)" d="M1785 1435l27 34-7-2-26-9z"/><path fill="#484cef" d="M1875 1459l27 11-7-3-26-1z"/><path fill="url(#s3_g29)" d="M1474 1418l28 20-6-1-29-24z"/><path fill="#4757f7" d="M1564 1451l28 3-6 4-29 0zM1924 1453l28 7-6-4-29 1z"/><path fill="url(#s3_g21)" d="M1654 1444l28 10-6-10-29-17z"/><path fill="#4562fc" d="M1744 1436l28 13-6 2-29-6z"/><path fill="#475dfa" d="M1834 1459l28-1-6-12-29-8z"/><path fill="#4852f4" d="M1410 1470l9-10-7-6-9 12zM1555 1475l2-17-6-8-3 23z"/><path fill="url(#s3_g25)" d="M1465 1477l2-64-6 3-3 58z"/><path fill="url(#s3_g19)" d="M1645 1477l2-50-6 9-3 38z"/><path fill="url(#s3_g5)" d="M1735 1476l2-31-6 9-3 19z"/><path fill="url(#s3_g15)" d="M1825 1476l2-38-6-17-3 52z"/><path fill="url(#s3_g4)" d="M1915 1476l2-19-6-17-3 33z"/><path fill="#484cef" d="M1432 1471l26 3-6-2-27-15z"/><path fill="url(#s3_g5)" d="M1522 1448l26 25-6-2-27-16z"/><path fill="url(#s3_g4)" d="M1612 1468l26 6-6-4-27-24z"/><path fill="url(#s3_g13)" d="M1702 1459l26 14-6-4-27-28z"/><path fill="url(#s3_g9)" d="M1792 1448l26 25-6-4-27-34z"/><path fill="url(#s3_g16)" d="M1882 1453l26 20-6-3-27-11z"/><path fill="url(#s3_g26)" d="M1480 1455l29 4-7-21-28-20z"/><path fill="#4757f7" d="M1570 1469l29 0-7-15-28-3z"/><path fill="url(#s3_g26)" d="M1660 1422l29 20-7 12-28-10z"/><path fill="url(#s3_g21)" d="M1750 1450l29 8-7-9-28-13z"/><path fill="#4852f4" d="M1840 1469l29-3-7-8-28 1zM1921 1479l3-26-7 4-2 19zM1708 1470l27 6-7-3-26-14z"/><path fill="url(#s3_g22)" d="M1930 1441l29 11-7 8-28-7z"/><path fill="#4757f7" d="M1416 1468l9-11-6 3-9 10z"/><path fill="url(#s3_g25)" d="M1472 1481l2-63-7-5-2 64z"/><path fill="url(#s3_g4)" d="M1561 1481l3-30-7 7-2 17z"/><path fill="url(#s3_g19)" d="M1651 1480l3-36-7-17-2 50z"/><path fill="url(#s3_g20)" d="M1741 1479l3-43-7 9-2 31z"/><path fill="url(#s3_g13)" d="M1831 1477l3-18-7-21-2 38z"/><path fill="#484cef" d="M1439 1465l26 12-7-3-26-3z"/><path fill="url(#s3_g5)" d="M1528 1454l27 21-7-2-26-25z"/><path fill="url(#s3_g4)" d="M1618 1449l27 28-7-3-26-6z"/><path fill="url(#s3_g5)" d="M1798 1470l27 6-7-3-26-25z"/><path fill="url(#s3_g16)" d="M1888 1454l27 22-7-3-26-20z"/><path fill="url(#s3_g21)" d="M1487 1438l28 17-6 4-29-4z"/><path fill="url(#s3_g31)" d="M1577 1424l28 22-6 23-29 0z"/><path fill="url(#s3_g37)" d="M1667 1412l28 29-6 1-29-20z"/><path fill="url(#s3_g46)" d="M1757 1395l28 40-6 23-29-8z"/><path fill="url(#s3_g22)" d="M1847 1447l28 12-6 7-29 3z"/><path fill="#4852f4" d="M1423 1479l9-8-7-14-9 11zM1838 1483l2-14-6-10-3 18zM1445 1466l27 15-7-4-26-12zM1715 1469l26 10-6-3-27-6z"/><path fill="url(#s3_g25)" d="M1478 1484l2-29-6-37-2 63z"/><path fill="url(#s3_g5)" d="M1568 1483l2-14-6-18-3 30z"/><path fill="url(#s3_g25)" d="M1658 1483l2-61-6 22-3 36z"/><path fill="url(#s3_g20)" d="M1748 1482l2-32-6-14-3 43z"/><path fill="url(#s3_g9)" d="M1928 1483l2-42-6 12-3 26z"/><path fill="url(#s3_g4)" d="M1535 1478l26 3-6-6-27-21z"/><path fill="url(#s3_g4)" d="M1625 1462l26 18-6-3-27-28z"/><path fill="url(#s3_g13)" d="M1805 1447l26 30-6-1-27-6z"/><path fill="url(#s3_g4)" d="M1895 1469l26 10-6-3-27-22z"/><path fill="url(#s3_g28)" d="M1493 1420l29 28-7 7-28-17z"/><path fill="url(#s3_g30)" d="M1583 1462l29 6-7-22-28-22z"/><path fill="url(#s3_g6)" d="M1673 1451l29 8-7-18-28-29z"/><path fill="url(#s3_g47)" d="M1763 1421l29 27-7-13-28-40z"/><path fill="url(#s3_g24)" d="M1853 1435l29 18-7 6-28-12z"/><path fill="#4852f4" d="M1429 1477l10-12-7 6-9 8zM1452 1472l26 12-6-3-27-15zM1721 1465l27 17-7-3-26-10z"/><path fill="url(#s3_g20)" d="M1485 1487l2-49-7 17-2 29z"/><path fill="url(#s3_g25)" d="M1575 1487l2-63-7 45-2 14z"/><path fill="url(#s3_g12)" d="M1664 1485l3-73-7 10-2 61z"/><path fill="url(#s3_g48)" d="M1754 1486l3-91-7 55-2 32z"/><path fill="url(#s3_g13)" d="M1844 1485l3-38-7 22-2 14z"/><path fill="#484cef" d="M1541 1479l27 4-7-2-26-3z"/><path fill="url(#s3_g4)" d="M1631 1461l27 22-7-3-26-18z"/><path fill="url(#s3_g9)" d="M1811 1466l27 17-7-6-26-30z"/><path fill="#4852f4" d="M1901 1469l27 14-7-4-26-10zM1728 1480l26 6-6-4-27-17z"/><path fill="url(#s3_g1)" d="M1500 1424l28 30-6-6-29-28z"/><path fill="url(#s3_g43)" d="M1590 1423l28 26-6 19-29-6z"/><path fill="#4562fc" d="M1680 1463l28 7-6-11-29-8z"/><path fill="url(#s3_g43)" d="M1770 1461l28 9-6-22-29-27z"/><path fill="url(#s3_g49)" d="M1860 1435l28 19-6-1-29-18z"/><path fill="#4757f7" d="M1436 1479l9-13-6-1-10 12z"/><path fill="url(#s3_g7)" d="M1491 1490l2-70-6 18-2 49z"/><path fill="url(#s3_g25)" d="M1581 1490l2-28-6-38-2 63z"/><path fill="url(#s3_g12)" d="M1671 1489l2-38-6-39-3 73z"/><path fill="url(#s3_g48)" d="M1761 1490l2-69-6-26-3 91z"/><path fill="url(#s3_g0)" d="M1851 1490l2-55-6 12-3 38z"/><path fill="#484cef" d="M1458 1486l27 1-7-3-26-12zM1548 1481l27 6-7-4-27-4z"/><path fill="url(#s3_g5)" d="M1638 1466l26 19-6-2-27-22z"/><path fill="#4852f4" d="M1818 1478l26 7-6-2-27-17zM1555 1477l26 13-6-3-27-6zM1824 1477l27 13-7-5-26-7z"/><path fill="url(#s3_g43)" d="M1506 1473l29 5-7-24-28-30z"/><path fill="url(#s3_g28)" d="M1596 1441l29 21-7-13-28-26z"/><path fill="#475dfa" d="M1686 1459l29 10-7 1-28-7z"/><path fill="url(#s3_g44)" d="M1776 1414l29 33-7 23-28-9z"/><path fill="url(#s3_g24)" d="M1866 1463l29 6-7-15-28-19z"/><path fill="#4757f7" d="M1442 1485l10-13-7-6-9 13zM1644 1471l27 18-7-4-26-19z"/><path fill="url(#s3_g7)" d="M1498 1494l2-70-7-4-2 70z"/><path fill="url(#s3_g7)" d="M1588 1493l2-70-7 39-2 28z"/><path fill="url(#s3_g9)" d="M1677 1493l3-30-7-12-2 38z"/><path fill="url(#s3_g7)" d="M1767 1493l3-32-7-40-2 69z"/><path fill="url(#s3_g0)" d="M1857 1492l3-57-7 0-2 55z"/><path fill="#484cef" d="M1465 1480l26 10-6-3-27-1zM1734 1485l27 5-7-4-26-6z"/><path fill="#4757f7" d="M1513 1473l28 6-6-1-29-5z"/><path fill="url(#s3_g14)" d="M1603 1443l28 18-6 1-29-21z"/><path fill="url(#s3_g24)" d="M1693 1446l28 19-6 4-29-10z"/><path fill="url(#s3_g41)" d="M1783 1448l28 18-6-19-29-33z"/><path fill="#4562fc" d="M1873 1454l28 15-6 0-29-6z"/><path fill="#4852f4" d="M1449 1495l9-9-6-14-10 13zM1831 1482l26 10-6-2-27-13z"/><path fill="url(#s3_g7)" d="M1504 1497l2-24-6-49-2 70z"/><path fill="url(#s3_g7)" d="M1594 1496l2-55-6-18-2 70z"/><path fill="url(#s3_g13)" d="M1684 1496l2-37-6 4-3 30z"/><path fill="url(#s3_g36)" d="M1774 1495l2-81-6 47-3 32z"/><path fill="url(#s3_g0)" d="M1864 1495l2-32-6-28-3 57z"/><path fill="#484cef" d="M1471 1488l27 6-7-4-26-10zM1741 1497l26-4-6-3-27-5z"/><path fill="url(#s3_g16)" d="M1561 1474l27 19-7-3-26-13z"/><path fill="url(#s3_g4)" d="M1651 1468l26 25-6-4-27-18z"/><path fill="#4757f7" d="M1520 1477l28 4-7-2-28-6z"/><path fill="url(#s3_g14)" d="M1609 1447l29 19-7-5-28-18z"/><path fill="url(#s3_g11)" d="M1699 1478l29 2-7-15-28-19z"/><path fill="url(#s3_g24)" d="M1789 1469l29 9-7-12-28-18z"/><path fill="#4852f4" d="M1455 1491l10-11-7 6-9 9zM1511 1499l2-26-7 0-2 24zM1478 1481l26 16-6-3-27-6z"/><path fill="url(#s3_g15)" d="M1601 1499l2-56-7-2-2 55z"/><path fill="url(#s3_g15)" d="M1691 1499l2-53-7 13-2 37z"/><path fill="url(#s3_g45)" d="M1780 1499l3-51-7-34-2 81z"/><path fill="url(#s3_g19)" d="M1870 1499l3-45-7 9-2 32z"/><path fill="url(#s3_g16)" d="M1568 1490l26 6-6-3-27-19z"/><path fill="url(#s3_g5)" d="M1658 1468l26 28-7-3-26-25z"/><path fill="#484cef" d="M1747 1487l27 8-7-2-26 4zM1837 1491l27 4-7-3-26-10z"/><path fill="url(#s3_g22)" d="M1526 1465l29 12-7 4-28-4z"/><path fill="url(#s3_g14)" d="M1616 1453l28 18-6-5-29-19z"/><path fill="#475dfa" d="M1706 1475l28 10-6-5-29-2z"/><path fill="#4562fc" d="M1796 1463l28 14-6 1-29-9zM1802 1468l29 14-7-5-28-14z"/><path fill="#4852f4" d="M1462 1497l9-9-6-8-10 11zM1517 1503l3-26-7-4-2 26z"/><path fill="url(#s3_g0)" d="M1607 1503l2-56-6-4-2 56z"/><path fill="url(#s3_g15)" d="M1697 1502l2-24-6-32-2 53z"/><path fill="url(#s3_g15)" d="M1787 1501l2-32-6-21-3 51z"/><path fill="url(#s3_g5)" d="M1484 1474l27 25-7-2-26-16z"/><path fill="#484cef" d="M1574 1490l27 9-7-3-26-6zM1844 1485l26 14-6-4-27-4z"/><path fill="url(#s3_g5)" d="M1664 1485l27 14-7-3-26-28z"/><path fill="url(#s3_g16)" d="M1754 1478l26 21-6-4-27-8z"/><path fill="url(#s3_g26)" d="M1533 1450l28 24-6 3-29-12z"/><path fill="url(#s3_g28)" d="M1623 1442l28 26-7 3-28-18z"/><path fill="url(#s3_g42)" d="M1712 1499l29-2-7-12-28-10z"/><path fill="#4852f4" d="M1468 1496l10-15-7 7-9 9zM1581 1491l26 12-6-4-27-9zM1671 1499l26 3-6-3-27-14z"/><path fill="url(#s3_g13)" d="M1524 1506l2-41-6 12-3 26z"/><path fill="url(#s3_g0)" d="M1614 1506l2-53-7-6-2 56z"/><path fill="url(#s3_g5)" d="M1704 1505l2-30-7 3-2 24z"/><path fill="url(#s3_g9)" d="M1794 1505l2-42-7 6-2 32z"/><path fill="url(#s3_g4)" d="M1491 1492l26 11-6-4-27-25z"/><path fill="url(#s3_g17)" d="M1760 1489l27 12-7-2-26-21z"/><path fill="url(#s3_g30)" d="M1539 1485l29 5-7-16-28-24z"/><path fill="url(#s3_g1)" d="M1629 1441l29 27-7 0-28-26z"/><path fill="#4757f7" d="M1719 1482l28 5-6 10-29 2z"/><path fill="url(#s3_g22)" d="M1809 1487l28 4-6-9-29-14z"/><path fill="#475dfa" d="M1475 1492l9-18-6 7-10 15z"/><path fill="url(#s3_g31)" d="M1530 1508l3-58-7 15-2 41z"/><path fill="url(#s3_g2)" d="M1620 1509l3-67-7 11-2 53z"/><path fill="url(#s3_g4)" d="M1710 1509l2-10-6-24-2 30z"/><path fill="url(#s3_g9)" d="M1800 1509l2-41-6-5-2 42z"/><path fill="url(#s3_g17)" d="M1497 1485l27 21-7-3-26-11z"/><path fill="#4852f4" d="M1587 1496l27 10-7-3-26-12z"/><path fill="#484cef" d="M1677 1502l27 3-7-3-26-3z"/><path fill="url(#s3_g9)" d="M1767 1475l27 30-7-4-27-12z"/><path fill="#475dfa" d="M1546 1480l28 10-6 0-29-5zM1481 1503l10-11-7-18-9 18z"/><path fill="url(#s3_g28)" d="M1636 1468l28 17-6-17-29-27z"/><path fill="url(#s3_g24)" d="M1725 1459l29 19-7 9-28-5z"/><path fill="url(#s3_g22)" d="M1815 1472l29 13-7 6-28-4z"/><path fill="url(#s3_g25)" d="M1537 1513l2-28-6-35-3 58z"/><path fill="url(#s3_g7)" d="M1627 1513l2-72-6 1-3 67z"/><path fill="url(#s3_g5)" d="M1717 1511l2-29-7 17-2 10z"/><path fill="url(#s3_g9)" d="M1807 1512l2-25-7-19-2 41z"/><path fill="url(#s3_g17)" d="M1504 1497l26 11-6-2-27-21z"/><path fill="url(#s3_g5)" d="M1594 1484l26 25-6-3-27-10z"/><path fill="#484cef" d="M1684 1506l26 3-6-4-27-3zM1690 1501l27 10-7-2-26-3z"/><path fill="url(#s3_g9)" d="M1774 1495l26 14-6-4-27-30z"/><path fill="#4562fc" d="M1552 1479l29 12-7-1-28-10zM1559 1488l28 8-6-5-29-12z"/><path fill="url(#s3_g18)" d="M1642 1494l29 5-7-14-28-17z"/><path fill="url(#s3_g24)" d="M1732 1479l28 10-6-11-29-19z"/><path fill="#4757f7" d="M1488 1502l9-17-6 7-10 11zM1649 1502l28 0-6-3-29-5z"/><path fill="url(#s3_g4)" d="M1543 1516l3-36-7 5-2 28z"/><path fill="url(#s3_g7)" d="M1633 1516l3-48-7-27-2 72z"/><path fill="url(#s3_g15)" d="M1723 1514l2-55-6 23-2 29z"/><path fill="url(#s3_g13)" d="M1813 1514l2-42-6 15-2 25z"/><path fill="url(#s3_g4)" d="M1510 1486l27 27-7-5-26-11z"/><path fill="url(#s3_g4)" d="M1600 1502l27 11-7-4-26-25z"/><path fill="#4852f4" d="M1780 1495l27 17-7-3-26-14z"/><path fill="url(#s3_g27)" d="M1739 1450l28 25-7 14-28-10z"/><path fill="#4757f7" d="M1494 1509l10-12-7-12-9 17zM1655 1502l29 4-7-4-28 0z"/><path fill="url(#s3_g9)" d="M1550 1519l2-40-6 1-3 36z"/><path fill="url(#s3_g19)" d="M1640 1519l2-25-6-26-3 48z"/><path fill="url(#s3_g15)" d="M1730 1517l2-38-7-20-2 55z"/><path fill="url(#s3_g4)" d="M1517 1509l26 7-6-3-27-27z"/><path fill="#4852f4" d="M1607 1506l26 10-6-3-27-11zM1787 1504l26 10-6-2-27-17zM1646 1522l3-20-7-8-2 25z"/><path fill="#484cef" d="M1697 1518l26-4-6-3-27-10z"/><path fill="url(#s3_g26)" d="M1565 1465l29 19-7 12-28-8z"/><path fill="url(#s3_g27)" d="M1745 1479l29 16-7-20-28-25z"/><path fill="#475dfa" d="M1501 1504l9-18-6 11-10 12z"/><path fill="url(#s3_g13)" d="M1556 1522l3-34-7-9-2 40z"/><path fill="url(#s3_g7)" d="M1736 1522l3-72-7 29-2 38z"/><path fill="url(#s3_g4)" d="M1523 1491l27 28-7-3-26-7z"/><path fill="#484cef" d="M1613 1516l27 3-7-3-26-10zM1703 1513l27 4-7-3-26 4zM1620 1513l26 9-6-3-27-3zM1710 1515l26 7-6-5-27-4z"/><path fill="url(#s3_g26)" d="M1572 1495l28 7-6-18-29-19z"/><path fill="url(#s3_g22)" d="M1662 1488l28 13-6 5-29-4z"/><path fill="url(#s3_g14)" d="M1752 1474l28 21-6 0-29-16z"/><path fill="url(#s3_g5)" d="M1507 1520l10-11-7-23-9 18z"/><path fill="url(#s3_g25)" d="M1563 1525l2-60-6 23-3 34z"/><path fill="#4852f4" d="M1653 1525l2-23-6 0-3 20z"/><path fill="url(#s3_g7)" d="M1743 1524l2-45-6-29-3 72z"/><path fill="url(#s3_g5)" d="M1530 1523l26-1-6-3-27-28z"/><path fill="#475dfa" d="M1578 1501l29 5-7-4-28-7z"/><path fill="url(#s3_g22)" d="M1668 1521l29-3-7-17-28-13z"/><path fill="url(#s3_g24)" d="M1758 1491l29 13-7-9-28-21z"/><path fill="url(#s3_g5)" d="M1514 1510l9-19-6 18-10 11z"/><path fill="url(#s3_g31)" d="M1569 1527l3-32-7-30-2 60z"/><path fill="url(#s3_g13)" d="M1659 1526l3-38-7 14-2 23z"/><path fill="url(#s3_g0)" d="M1749 1528l3-54-7 5-2 45z"/><path fill="#484cef" d="M1536 1517l27 8-7-3-26 1z"/><path fill="#4852f4" d="M1626 1511l27 14-7-3-26-9zM1675 1507l28 6-6 5-29 3z"/><path fill="url(#s3_g4)" d="M1716 1502l27 22-7-2-26-7z"/><path fill="#475dfa" d="M1585 1510l28 6-6-10-29-5z"/><path fill="url(#s3_g5)" d="M1520 1530l10-7-7-32-9 19z"/><path fill="url(#s3_g4)" d="M1576 1532l2-31-6-6-3 32z"/><path fill="url(#s3_g9)" d="M1666 1532l2-11-6-33-3 38z"/><path fill="url(#s3_g15)" d="M1756 1530l2-39-6-17-3 54z"/><path fill="url(#s3_g5)" d="M1543 1500l26 27-6-2-27-8z"/><path fill="url(#s3_g5)" d="M1633 1502l26 24-6-1-27-14z"/><path fill="url(#s3_g4)" d="M1723 1510l26 18-6-4-27-22z"/><path fill="#475dfa" d="M1591 1506l29 7-7 3-28-6zM1681 1508l29 7-7-2-28-6z"/><path fill="#484cef" d="M1527 1527l9-10-6 6-10 7z"/><path fill="url(#s3_g5)" d="M1582 1534l3-24-7-9-2 31z"/><path fill="url(#s3_g17)" d="M1672 1533l3-26-7 14-2 11z"/><path fill="url(#s3_g4)" d="M1549 1517l27 15-7-5-26-27z"/><path fill="url(#s3_g4)" d="M1639 1513l27 19-7-6-26-24z"/><path fill="#4852f4" d="M1729 1518l27 12-7-2-26-18zM1556 1529l26 5-6-2-27-15zM1646 1530l26 3-6-1-27-19z"/><path fill="url(#s3_g21)" d="M1598 1496l28 15-6 2-29-7z"/><path fill="url(#s3_g30)" d="M1688 1480l28 22-6 13-29-7z"/><path fill="url(#s3_g42)" d="M1533 1519l10-19-7 17-9 10z"/><path fill="url(#s3_g4)" d="M1589 1538l2-32-6 4-3 24z"/><path fill="url(#s3_g17)" d="M1679 1537l2-29-6-1-3 26z"/><path fill="url(#s3_g27)" d="M1604 1476l29 26-7 9-28-15z"/><path fill="url(#s3_g23)" d="M1694 1489l29 21-7-8-28-22z"/><path fill="#475dfa" d="M1540 1529l9-12-6-17-10 19z"/><path fill="url(#s3_g20)" d="M1595 1540l3-44-7 10-2 32z"/><path fill="url(#s3_g31)" d="M1685 1539l3-59-7 28-2 29z"/><path fill="#484cef" d="M1562 1532l27 6-7-4-26-5zM1652 1534l27 3-7-4-26-3zM1569 1542l26-2-6-2-27-6zM1659 1533l26 6-6-2-27-3z"/><path fill="url(#s3_g28)" d="M1611 1494l28 19-6-11-29-26z"/><path fill="url(#s3_g24)" d="M1701 1506l28 12-6-8-29-21z"/><path fill="#4852f4" d="M1546 1539l10-10-7-12-9 12zM1553 1542l9-10-6-3-10 10z"/><path fill="url(#s3_g7)" d="M1602 1544l2-68-6 20-3 44z"/><path fill="url(#s3_g25)" d="M1692 1544l2-55-6-9-3 59z"/><path fill="url(#s3_g11)" d="M1617 1525l29 5-7-17-28-19z"/><path fill="url(#s3_g7)" d="M1608 1547l3-53-7-18-2 68z"/><path fill="url(#s3_g15)" d="M1698 1547l3-41-7-17-2 55z"/><path fill="#484cef" d="M1575 1537l27 7-7-4-26 2zM1559 1548l10-6-7-10-9 10zM1582 1545l26 2-6-3-27-7zM1566 1548l9-11-6 5-10 6zM1588 1544l27 7-7-4-26-2z"/><path fill="#4852f4" d="M1665 1535l27 9-7-5-26-6zM1672 1535l26 12-6-3-27-9zM1622 1554l2-21-7-8-2 26zM1573 1553l9-8-7-8-9 11z"/><path fill="#4757f7" d="M1624 1533l28 1-6-4-29-5zM1630 1525l29 8-7 1-28-1z"/><path fill="url(#s3_g0)" d="M1615 1551l2-26-6-31-3 53z"/><path fill="#4562fc" d="M1637 1520l28 15-6-2-29-8z"/><path fill="url(#s3_g4)" d="M1628 1557l2-32-6 8-2 21z"/><path fill="#4852f4" d="M1595 1538l27 16-7-3-27-7zM1579 1555l9-11-6 1-9 8zM1615 1548l26 15-6-4-27-15z"/><path fill="#4562fc" d="M1643 1525l29 10-7 0-28-15z"/><path fill="url(#s3_g13)" d="M1635 1559l2-39-7 5-2 32z"/><path fill="url(#s3_g4)" d="M1602 1533l26 24-6-3-27-16z"/><path fill="#4757f7" d="M1586 1551l9-13-7 6-9 11zM1605 1563l10-15-7-4-9 13z"/><path fill="url(#s3_g9)" d="M1641 1563l2-38-6-5-2 39z"/><path fill="url(#s3_g5)" d="M1608 1544l27 15-7-2-26-24z"/><path fill="#475dfa" d="M1592 1551l10-18-7 5-9 13zM1599 1557l9-13-6-11-10 18z"/><path fill="#9d99e9" fill-opacity="1" d="M2048 1454l12-3-3-38-12-5zM2046 1455l2-1-3-46-3 41zM2019 1462l27-7-4-6-26-10zM1991 1470l28-8-3-23-29-13zM1988 1471l3-1-4-44-2 40zM1962 1479l26-8-3-5-26-14zM1933 1487l29-8-3-27-29-11zM1931 1487l2 0-3-46-2 42zM1904 1495l27-8-3-4-27-14zM1876 1503l28-8-3-26-28-15zM1874 1503l2 0-3-49-3 45zM1847 1511l27-8-4-4-26-14zM1819 1519l28-8-3-26-29-13zM1816 1520l3-1-4-47-2 42zM1790 1527l26-7-3-6-26-10zM1761 1535l29-8-3-23-29-13zM1759 1536l2-1-3-44-2 39zM1732 1543l27-7-3-6-27-12zM1704 1551l28-8-3-25-28-12zM1702 1552l2-1-3-45-3 41zM1675 1560l27-8-4-5-26-12zM1647 1568l28-8-3-25-29-10zM1644 1568l3 0-4-43-2 38zM1618 1576l26-8-3-5-26-15zM1608 1578l10-2-3-28-10 15z"/></g><line x1="315.7" y1="352.5" x2="315.7" y2="263.4" stroke="#4d4d4d" stroke-width="0.6"/><line x1="402.1" y1="394.6" x2="515" y2="362.7" stroke="#4d4d4d" stroke-width="0.6"/><line x1="402.1" y1="394.6" x2="315.7" y2="352.5" stroke="#4d4d4d" stroke-width="0.6"/><line x1="315.7" y1="352.5" x2="313.7" y2="351.5" stroke="#4d4d4d" stroke-width="0.6"/><text x="310.1" y="353.6" text-anchor="end" class="t">0</text><line x1="315.7" y1="330.2" x2="313.7" y2="329.2" stroke="#4d4d4d" stroke-width="0.6"/><text x="310.1" y="331.4" text-anchor="end" class="t">100</text><line x1="315.7" y1="307.9" x2="313.7" y2="306.9" stroke="#4d4d4d" stroke-width="0.6"/><text x="310.1" y="309.1" text-anchor="end" class="t">200</text><line x1="315.7" y1="285.7" x2="313.7" y2="284.7" stroke="#4d4d4d" stroke-width="0.6"/><text x="310.1" y="286.8" text-anchor="end" class="t">300</text><line x1="315.7" y1="263.4" x2="313.7" y2="262.4" stroke="#4d4d4d" stroke-width="0.6"/><text x="310.1" y="264.5" text-anchor="end" class="t">400</text><line x1="375.5" y1="381.6" x2="375" y2="383.6" stroke="#4d4d4d" stroke-width="0.6"/><line x1="348.3" y1="368.4" x2="347.8" y2="370.4" stroke="#4d4d4d" stroke-width="0.6"/><line x1="321.1" y1="355.1" x2="320.6" y2="357.1" stroke="#4d4d4d" stroke-width="0.6"/><text x="366.1" y="391.8" text-anchor="middle" class="t">50</text><text x="336.8" y="378.8" text-anchor="middle" class="t">100</text><text x="309.8" y="365.8" text-anchor="middle" class="t">150</text><line x1="421.7" y1="389.1" x2="422.3" y2="391.1" stroke="#4d4d4d" stroke-width="0.6"/><line x1="446.3" y1="382.1" x2="446.9" y2="384.1" stroke="#4d4d4d" stroke-width="0.6"/><line x1="470.8" y1="375.2" x2="471.4" y2="377.2" stroke="#4d4d4d" stroke-width="0.6"/><line x1="495.4" y1="368.2" x2="496" y2="370.2" stroke="#4d4d4d" stroke-width="0.6"/><text x="429.3" y="399.9" text-anchor="middle" class="t">5</text><text x="456.1" y="392.6" text-anchor="middle" class="t">10</text><text x="480.5" y="386.4" text-anchor="middle" class="t">15</text><text x="504.5" y="379.2" text-anchor="middle" class="t">20</text><text transform="translate(328.6 383.1) rotate(27)" text-anchor="middle" class="t" y="2.6">Day</text><text transform="translate(470.1 395.2) rotate(-18)" text-anchor="middle" class="t" y="2.6">Hour</text><text transform="translate(289.4 307.7) rotate(-90)" text-anchor="middle" class="t" style="font-size:8px" y="2.86">PM<tspan font-size="5.6" dy="1.9">2.5</tspan><tspan dy="-1.9"> (</tspan>&#956;g/m<tspan font-size="5.6" dy="-3">3</tspan><tspan dy="3">)</tspan></text><linearGradient id="cb3" x1="0" y1="0" x2="0" y2="1"><stop offset="0%" stop-color="#f9fb15"/><stop offset="6.2%" stop-color="#f5e327"/><stop offset="12.5%" stop-color="#feca33"/><stop offset="18.8%" stop-color="#f1ba37"/><stop offset="25%" stop-color="#c8c129"/><stop offset="31.2%" stop-color="#94ca4a"/><stop offset="37.5%" stop-color="#5ccc76"/><stop offset="43.8%" stop-color="#34c79c"/><stop offset="50%" stop-color="#12beb9"/><stop offset="56.2%" stop-color="#0cb3d3"/><stop offset="62.5%" stop-color="#21a3e3"/><stop offset="68.8%" stop-color="#2c90f0"/><stop offset="75%" stop-color="#347afd"/><stop offset="81.2%" stop-color="#4562fc"/><stop offset="87.5%" stop-color="#484cef"/><stop offset="93.8%" stop-color="#4536d5"/><stop offset="100%" stop-color="#3e26a8"/></linearGradient><rect x="519.9" y="231.6" width="5" height="163.2" fill="url(#cb3)"/><line x1="523.7" y1="394.8" x2="524.9" y2="394.8" stroke="#262626" stroke-width="0.5"/><text x="527.8" y="397.2" class="c">0</text><line x1="523.7" y1="374.4" x2="524.9" y2="374.4" stroke="#262626" stroke-width="0.5"/><text x="527.8" y="376.8" class="c">50</text><line x1="523.7" y1="354" x2="524.9" y2="354" stroke="#262626" stroke-width="0.5"/><text x="527.8" y="356.4" class="c">100</text><line x1="523.7" y1="333.6" x2="524.9" y2="333.6" stroke="#262626" stroke-width="0.5"/><text x="527.8" y="336" class="c">150</text><line x1="523.7" y1="313.2" x2="524.9" y2="313.2" stroke="#262626" stroke-width="0.5"/><text x="527.8" y="315.6" class="c">200</text><line x1="523.7" y1="292.8" x2="524.9" y2="292.8" stroke="#262626" stroke-width="0.5"/><text x="527.8" y="295.2" class="c">250</text><line x1="523.7" y1="272.4" x2="524.9" y2="272.4" stroke="#262626" stroke-width="0.5"/><text x="527.8" y="274.8" class="c">300</text><line x1="523.7" y1="252" x2="524.9" y2="252" stroke="#262626" stroke-width="0.5"/><text x="527.8" y="254.4" class="c">350</text><line x1="523.7" y1="231.6" x2="524.9" y2="231.6" stroke="#262626" stroke-width="0.5"/><text x="527.8" y="234" class="c">400</text><text x="522.7" y="228.4" class="c" style="font-size:7.6px" text-anchor="middle">&#956;g/m<tspan font-size="5.2" dy="-2.9">3</tspan></text><text x="293" y="232.5" class="ti" textLength="64" lengthAdjust="spacingAndGlyphs">(d) Neural network</text></svg></body></html>
